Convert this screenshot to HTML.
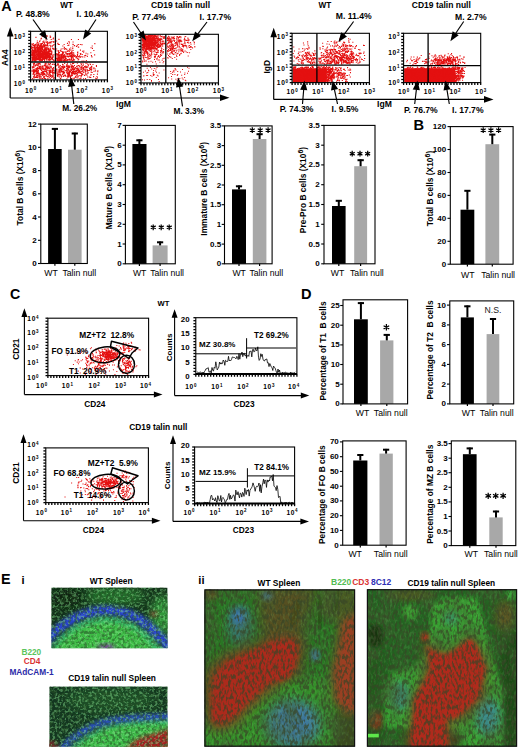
<!DOCTYPE html>
<html><head><meta charset="utf-8"><style>
html,body{margin:0;padding:0;background:#fff;}
svg{display:block;}
text{font-family:"Liberation Sans",sans-serif;}
</style></head><body>
<svg width="520" height="750" viewBox="0 0 520 750">
<defs><filter id="bl2" x="-20%" y="-20%" width="140%" height="140%"><feGaussianBlur stdDeviation="2"/></filter>
<filter id="bl4" x="-30%" y="-30%" width="160%" height="160%"><feGaussianBlur stdDeviation="4"/></filter>
<filter id="bl6" x="-30%" y="-30%" width="160%" height="160%"><feGaussianBlur stdDeviation="6"/></filter>
<filter id="nz1" x="0" y="0" width="100%" height="100%"><feTurbulence type="fractalNoise" baseFrequency="0.32" numOctaves="2" seed="4"/><feColorMatrix type="matrix" values="0 0 0 0 0.02  0 0 0 0 0.08  0 0 0 0 0.02  5.0 0 0 0 -2.3"/></filter>
<filter id="nz2" x="0" y="0" width="100%" height="100%"><feTurbulence type="fractalNoise" baseFrequency="0.35" numOctaves="2" seed="9"/><feColorMatrix type="matrix" values="0 0 0 0 0.6  0 0 0 0 1  0 0 0 0 0.6  0 2.6 0 0 -1.3"/></filter>
<filter id="nz3" x="0" y="0" width="100%" height="100%"><feTurbulence type="fractalNoise" baseFrequency="0.12" numOctaves="3" seed="21"/><feColorMatrix type="matrix" values="0 0 0 0 0.62  0 0 0 0 0.2  0 0 0 0 0.1  3.0 0 0 0 -1.25"/></filter>
<filter id="nz1v" x="0" y="0" width="100%" height="100%"><feTurbulence type="fractalNoise" baseFrequency="0.42 0.2" numOctaves="2" seed="5"/><feColorMatrix type="matrix" values="0 0 0 0 0.04  0 0 0 0 0.06  0 0 0 0 0.02  4.5 0 0 0 -2.0"/></filter>
<filter id="nz2v" x="0" y="0" width="100%" height="100%"><feTurbulence type="fractalNoise" baseFrequency="0.42 0.22" numOctaves="2" seed="12"/><feColorMatrix type="matrix" values="0 0 0 0 0.25  0 0 0 0 0.72  0 0 0 0 0.2  0 4.5 0 0 -2.2"/></filter>
<filter id="nzG" x="0" y="0" width="100%" height="100%"><feTurbulence type="fractalNoise" baseFrequency="0.38" numOctaves="2" seed="17"/><feColorMatrix type="matrix" values="0 0 0 0 0.25  0 0 0 0 0.78  0 0 0 0 0.28  0 6.0 0 0 -2.85"/></filter>
<filter id="nzC" x="0" y="0" width="100%" height="100%"><feTurbulence type="fractalNoise" baseFrequency="0.38" numOctaves="2" seed="23"/><feColorMatrix type="matrix" values="0 0 0 0 0.2  0 0 0 0 0.7  0 0 0 0 0.75  0 3.0 0 0 -1.5"/></filter>
<filter id="nzL" x="0" y="0" width="100%" height="100%"><feTurbulence type="fractalNoise" baseFrequency="0.05 0.035" numOctaves="3" seed="31"/><feColorMatrix type="matrix" values="0 0 0 0 0.05  0 0 0 0 0.12  0 0 0 0 0.03  3.2 0 0 0 -1.35"/></filter>
<clipPath id="clp1"><rect x="51.3" y="587.6" width="116.3" height="60.7"/></clipPath>
<clipPath id="clp2"><rect x="49.3" y="686.4" width="118.3" height="60.4"/></clipPath>
<clipPath id="clp3"><rect x="204.5" y="589.5" width="150.5" height="157.1"/></clipPath>
<clipPath id="clp4"><rect x="367" y="589.3" width="150" height="157.3"/></clipPath></defs>
<rect width="520" height="750" fill="#fff"/>
<path fill="#e41010" d="M36.2 56.6h1.1v1.1h-1.1zM36.4 52.4h1.1v1.1h-1.1zM31.5 52.9h1.1v1.1h-1.1zM45.8 56.1h1.1v1.1h-1.1zM45.3 55.2h1.1v1.1h-1.1zM40.8 54.9h1.1v1.1h-1.1zM41.5 56.5h1.1v1.1h-1.1zM31.8 51.7h1.1v1.1h-1.1zM40.1 53.8h1.1v1.1h-1.1zM41.6 50.8h1.1v1.1h-1.1zM40.2 56h1.1v1.1h-1.1zM41.9 60h1.1v1.1h-1.1zM33.7 50.3h1.1v1.1h-1.1zM35.6 53.5h1.1v1.1h-1.1zM42.4 55.2h1.1v1.1h-1.1zM34.9 49.2h1.1v1.1h-1.1zM34.4 60.1h1.1v1.1h-1.1zM32.3 55.2h1.1v1.1h-1.1zM41 46.6h1.1v1.1h-1.1zM37.3 49.9h1.1v1.1h-1.1zM41.5 53.7h1.1v1.1h-1.1zM42.7 58.7h1.1v1.1h-1.1zM48.1 55.8h1.1v1.1h-1.1zM38.8 47.5h1.1v1.1h-1.1zM42.3 50.9h1.1v1.1h-1.1zM34.8 47.7h1.1v1.1h-1.1zM31.2 51.3h1.1v1.1h-1.1zM47 43.8h1.1v1.1h-1.1zM48.1 56.9h1.1v1.1h-1.1zM40.5 50.3h1.1v1.1h-1.1zM45.7 54.8h1.1v1.1h-1.1zM39.7 56.2h1.1v1.1h-1.1zM49.2 57.1h1.1v1.1h-1.1zM41.6 56.7h1.1v1.1h-1.1zM44.7 56.6h1.1v1.1h-1.1zM43.9 44.9h1.1v1.1h-1.1zM36.7 59.1h1.1v1.1h-1.1zM41.9 53.2h1.1v1.1h-1.1zM40.3 57.2h1.1v1.1h-1.1zM38.8 59.7h1.1v1.1h-1.1zM33.4 51.9h1.1v1.1h-1.1zM45.3 54.1h1.1v1.1h-1.1zM31.8 58.7h1.1v1.1h-1.1zM48.3 51.8h1.1v1.1h-1.1zM37 52.5h1.1v1.1h-1.1zM47.8 48.9h1.1v1.1h-1.1zM46.8 47.7h1.1v1.1h-1.1zM32.5 57.2h1.1v1.1h-1.1zM45.9 58.3h1.1v1.1h-1.1zM40.4 54.7h1.1v1.1h-1.1zM39.1 56.9h1.1v1.1h-1.1zM36.8 55.4h1.1v1.1h-1.1zM42 54h1.1v1.1h-1.1zM43.3 56.8h1.1v1.1h-1.1zM52.1 55.6h1.1v1.1h-1.1zM35 52.1h1.1v1.1h-1.1zM37.9 58.6h1.1v1.1h-1.1zM35.6 55.9h1.1v1.1h-1.1zM50.9 41.2h1.1v1.1h-1.1zM40.8 55.2h1.1v1.1h-1.1zM35 57.3h1.1v1.1h-1.1zM40 51.4h1.1v1.1h-1.1zM34.1 53.5h1.1v1.1h-1.1zM36.4 53.7h1.1v1.1h-1.1zM45.1 48.2h1.1v1.1h-1.1zM37.5 58.8h1.1v1.1h-1.1zM35.6 57.1h1.1v1.1h-1.1zM45.6 40.6h1.1v1.1h-1.1zM45.6 46.8h1.1v1.1h-1.1zM42.8 46.5h1.1v1.1h-1.1zM39.2 60h1.1v1.1h-1.1zM37 55h1.1v1.1h-1.1zM43.6 54.7h1.1v1.1h-1.1zM45.3 52.5h1.1v1.1h-1.1zM44.4 52.7h1.1v1.1h-1.1zM38.9 57.5h1.1v1.1h-1.1zM39.6 57.2h1.1v1.1h-1.1zM42.3 49.2h1.1v1.1h-1.1zM46.9 57.7h1.1v1.1h-1.1zM48.3 49.3h1.1v1.1h-1.1zM38 48.3h1.1v1.1h-1.1zM44.9 53.1h1.1v1.1h-1.1zM37.3 51h1.1v1.1h-1.1zM40.8 56h1.1v1.1h-1.1zM48.5 48.9h1.1v1.1h-1.1zM48.2 53.1h1.1v1.1h-1.1zM32.8 59.1h1.1v1.1h-1.1zM38.8 54.6h1.1v1.1h-1.1zM48 52.7h1.1v1.1h-1.1zM40.2 50.9h1.1v1.1h-1.1zM37.9 58.2h1.1v1.1h-1.1zM37.6 59.2h1.1v1.1h-1.1zM33.3 58.4h1.1v1.1h-1.1zM36.7 53.9h1.1v1.1h-1.1zM33.9 55.2h1.1v1.1h-1.1zM50.5 54.2h1.1v1.1h-1.1zM41.7 59h1.1v1.1h-1.1zM36.6 47.7h1.1v1.1h-1.1zM34.1 59.4h1.1v1.1h-1.1zM45.1 58h1.1v1.1h-1.1zM38.1 58h1.1v1.1h-1.1zM39.2 48.1h1.1v1.1h-1.1zM44.5 51.2h1.1v1.1h-1.1zM31.7 50.1h1.1v1.1h-1.1zM33.5 44.3h1.1v1.1h-1.1zM43.1 52.6h1.1v1.1h-1.1zM40 51.7h1.1v1.1h-1.1zM43.5 57.7h1.1v1.1h-1.1zM42.7 55.6h1.1v1.1h-1.1zM47.3 57.3h1.1v1.1h-1.1zM41.2 43.6h1.1v1.1h-1.1zM35.9 51.7h1.1v1.1h-1.1zM51.6 45.2h1.1v1.1h-1.1zM31.5 57.4h1.1v1.1h-1.1zM51.2 53.4h1.1v1.1h-1.1zM41.9 58.5h1.1v1.1h-1.1zM31.7 53.6h1.1v1.1h-1.1zM40 58.1h1.1v1.1h-1.1zM37.8 53h1.1v1.1h-1.1zM44.2 54.5h1.1v1.1h-1.1zM32 49.8h1.1v1.1h-1.1zM42.5 41h1.1v1.1h-1.1zM42.4 56.4h1.1v1.1h-1.1zM49.8 56.1h1.1v1.1h-1.1zM37.5 56.6h1.1v1.1h-1.1zM40.3 50.5h1.1v1.1h-1.1zM40 54.9h1.1v1.1h-1.1zM35.2 49.1h1.1v1.1h-1.1zM52.8 59.2h1.1v1.1h-1.1zM49.9 58.9h1.1v1.1h-1.1zM50.7 58.1h1.1v1.1h-1.1zM31.9 55.3h1.1v1.1h-1.1zM37.6 56.6h1.1v1.1h-1.1zM32.9 53.4h1.1v1.1h-1.1zM41.2 55.9h1.1v1.1h-1.1zM42.5 55h1.1v1.1h-1.1zM35.7 57.9h1.1v1.1h-1.1zM38.3 49.9h1.1v1.1h-1.1zM33.6 54h1.1v1.1h-1.1zM37.2 54.8h1.1v1.1h-1.1zM38 54.9h1.1v1.1h-1.1zM37.1 47.7h1.1v1.1h-1.1zM40.9 59.3h1.1v1.1h-1.1zM41 53.1h1.1v1.1h-1.1zM41.1 49.2h1.1v1.1h-1.1zM31.5 57.7h1.1v1.1h-1.1zM35.3 47.2h1.1v1.1h-1.1zM32.7 56.6h1.1v1.1h-1.1zM41.5 54.9h1.1v1.1h-1.1zM48.4 57.5h1.1v1.1h-1.1zM37.9 57h1.1v1.1h-1.1zM49.6 58.9h1.1v1.1h-1.1zM45.2 48.6h1.1v1.1h-1.1zM37 57.6h1.1v1.1h-1.1zM35.9 59.3h1.1v1.1h-1.1zM42.2 58.5h1.1v1.1h-1.1zM46.7 52.9h1.1v1.1h-1.1zM35.6 58.4h1.1v1.1h-1.1zM44.9 54h1.1v1.1h-1.1zM40.5 59.6h1.1v1.1h-1.1zM43.5 54.1h1.1v1.1h-1.1zM44 56.7h1.1v1.1h-1.1zM39.4 54.3h1.1v1.1h-1.1zM36.3 57.4h1.1v1.1h-1.1zM38 46.7h1.1v1.1h-1.1zM34.9 44h1.1v1.1h-1.1zM33.2 56.8h1.1v1.1h-1.1zM42 53.7h1.1v1.1h-1.1zM36.4 46.9h1.1v1.1h-1.1zM50.8 56.6h1.1v1.1h-1.1zM45.7 49.6h1.1v1.1h-1.1zM36.7 44.9h1.1v1.1h-1.1zM43.5 58.7h1.1v1.1h-1.1zM42.4 45.2h1.1v1.1h-1.1zM33.6 47h1.1v1.1h-1.1zM38.2 55.2h1.1v1.1h-1.1zM42.4 57.5h1.1v1.1h-1.1zM48.5 59.8h1.1v1.1h-1.1zM37.4 54h1.1v1.1h-1.1zM41.4 46.1h1.1v1.1h-1.1zM36.6 52.4h1.1v1.1h-1.1zM37.6 50.2h1.1v1.1h-1.1zM42.9 55.8h1.1v1.1h-1.1zM37.4 50.6h1.1v1.1h-1.1zM36.8 40.4h1.1v1.1h-1.1zM31.1 54.2h1.1v1.1h-1.1zM39 47.1h1.1v1.1h-1.1zM36.2 52.4h1.1v1.1h-1.1zM41.2 57.1h1.1v1.1h-1.1zM37.7 49.7h1.1v1.1h-1.1zM37 53.7h1.1v1.1h-1.1zM43.1 55.5h1.1v1.1h-1.1zM32.9 47.2h1.1v1.1h-1.1zM35.4 50.3h1.1v1.1h-1.1zM34.6 54.5h1.1v1.1h-1.1zM41.7 51.9h1.1v1.1h-1.1zM45.7 54.6h1.1v1.1h-1.1zM45.8 42.1h1.1v1.1h-1.1zM32.7 55.2h1.1v1.1h-1.1zM40.3 60.4h1.1v1.1h-1.1zM43.4 58.7h1.1v1.1h-1.1zM41.6 53.2h1.1v1.1h-1.1zM41.6 48.6h1.1v1.1h-1.1zM46.3 48.9h1.1v1.1h-1.1zM36.4 54.1h1.1v1.1h-1.1zM46.1 54.1h1.1v1.1h-1.1zM32.3 55.3h1.1v1.1h-1.1zM42.1 57.6h1.1v1.1h-1.1zM49.7 54.1h1.1v1.1h-1.1zM39.9 51.9h1.1v1.1h-1.1zM47.9 50.5h1.1v1.1h-1.1zM42.7 51.6h1.1v1.1h-1.1zM33.1 57.6h1.1v1.1h-1.1zM47.3 53.9h1.1v1.1h-1.1zM33.3 58.1h1.1v1.1h-1.1zM37.7 55.6h1.1v1.1h-1.1zM48.7 59.7h1.1v1.1h-1.1zM38 57.9h1.1v1.1h-1.1zM33.5 53.8h1.1v1.1h-1.1zM47.6 47.9h1.1v1.1h-1.1zM46.2 51.7h1.1v1.1h-1.1zM37.6 52.4h1.1v1.1h-1.1zM37.2 48.6h1.1v1.1h-1.1zM38.2 46.8h1.1v1.1h-1.1zM37.5 55.5h1.1v1.1h-1.1zM41.3 52.8h1.1v1.1h-1.1zM31.7 54.8h1.1v1.1h-1.1zM43.4 53.4h1.1v1.1h-1.1zM34.7 50.5h1.1v1.1h-1.1zM31.4 52.2h1.1v1.1h-1.1zM40.1 56.6h1.1v1.1h-1.1zM33.1 54.1h1.1v1.1h-1.1zM34.3 54.8h1.1v1.1h-1.1zM39.1 56h1.1v1.1h-1.1zM36.3 55.8h1.1v1.1h-1.1zM38.4 57.9h1.1v1.1h-1.1zM38 48.8h1.1v1.1h-1.1zM33.5 57.2h1.1v1.1h-1.1zM43.2 55.5h1.1v1.1h-1.1zM41.6 53.5h1.1v1.1h-1.1zM41.2 51.4h1.1v1.1h-1.1zM37.3 57.7h1.1v1.1h-1.1zM31.9 57.2h1.1v1.1h-1.1zM51 51.2h1.1v1.1h-1.1zM39 53.2h1.1v1.1h-1.1zM48.8 55.6h1.1v1.1h-1.1zM44.3 50.5h1.1v1.1h-1.1zM37.9 54h1.1v1.1h-1.1zM44.3 45.3h1.1v1.1h-1.1zM43.2 53.3h1.1v1.1h-1.1zM41.1 55.8h1.1v1.1h-1.1zM48.4 51.1h1.1v1.1h-1.1zM49.8 56.1h1.1v1.1h-1.1zM34.4 50.6h1.1v1.1h-1.1zM41.7 56.7h1.1v1.1h-1.1zM40 55.2h1.1v1.1h-1.1zM34.2 56.3h1.1v1.1h-1.1zM37.2 53.6h1.1v1.1h-1.1zM35.5 59.3h1.1v1.1h-1.1zM47.7 52.2h1.1v1.1h-1.1zM43.9 50.2h1.1v1.1h-1.1zM38.5 57.7h1.1v1.1h-1.1zM48.6 52.1h1.1v1.1h-1.1zM37.5 55h1.1v1.1h-1.1zM33.3 55.9h1.1v1.1h-1.1zM38.3 55.3h1.1v1.1h-1.1zM34.2 58.4h1.1v1.1h-1.1zM36.1 51h1.1v1.1h-1.1zM41.3 46.2h1.1v1.1h-1.1zM33.3 53.9h1.1v1.1h-1.1zM43.9 53.2h1.1v1.1h-1.1zM40.2 50.7h1.1v1.1h-1.1zM33.5 54.1h1.1v1.1h-1.1zM39.2 59.1h1.1v1.1h-1.1zM42.2 58h1.1v1.1h-1.1zM39.4 55.3h1.1v1.1h-1.1zM44.5 55.8h1.1v1.1h-1.1zM49.6 47.8h1.1v1.1h-1.1zM35.4 36.8h1.1v1.1h-1.1zM43.7 52.1h1.1v1.1h-1.1zM38 52.7h1.1v1.1h-1.1zM34.5 49.8h1.1v1.1h-1.1zM33.6 57.2h1.1v1.1h-1.1zM38.3 54.3h1.1v1.1h-1.1zM36.8 58.6h1.1v1.1h-1.1zM41.5 53.3h1.1v1.1h-1.1zM42.7 53.2h1.1v1.1h-1.1zM41.3 49.2h1.1v1.1h-1.1zM45.6 55.7h1.1v1.1h-1.1zM40.3 58.5h1.1v1.1h-1.1zM39.4 53.3h1.1v1.1h-1.1zM38.2 52.6h1.1v1.1h-1.1zM40.5 54.4h1.1v1.1h-1.1zM42.7 52.1h1.1v1.1h-1.1zM37.7 43.3h1.1v1.1h-1.1zM35 57.4h1.1v1.1h-1.1zM47.4 52.2h1.1v1.1h-1.1zM35.7 57.7h1.1v1.1h-1.1zM49.7 54.2h1.1v1.1h-1.1zM46.6 50.4h1.1v1.1h-1.1zM39.5 53.6h1.1v1.1h-1.1zM38.8 59.6h1.1v1.1h-1.1zM34 56.5h1.1v1.1h-1.1zM42 52.6h1.1v1.1h-1.1zM41.7 46.3h1.1v1.1h-1.1zM43.3 46.3h1.1v1.1h-1.1zM33.1 51.2h1.1v1.1h-1.1zM35.2 58.3h1.1v1.1h-1.1zM38.6 52h1.1v1.1h-1.1zM38 55.8h1.1v1.1h-1.1zM46.7 55.3h1.1v1.1h-1.1zM53.5 44.1h1.1v1.1h-1.1zM37.7 56.1h1.1v1.1h-1.1zM44.8 57.3h1.1v1.1h-1.1zM36.1 48.7h1.1v1.1h-1.1zM38.7 59.2h1.1v1.1h-1.1zM37.8 44.3h1.1v1.1h-1.1zM36.2 51.8h1.1v1.1h-1.1zM41.2 50.5h1.1v1.1h-1.1zM31.8 52h1.1v1.1h-1.1zM37.7 50.7h1.1v1.1h-1.1zM38.1 57.8h1.1v1.1h-1.1zM32.5 51.9h1.1v1.1h-1.1zM32.9 53.8h1.1v1.1h-1.1zM41.7 47.2h1.1v1.1h-1.1zM41.2 53.9h1.1v1.1h-1.1zM46.4 44.7h1.1v1.1h-1.1zM43.7 55h1.1v1.1h-1.1zM41.3 56.2h1.1v1.1h-1.1zM47.1 52.9h1.1v1.1h-1.1zM44.1 52h1.1v1.1h-1.1zM43.1 49.9h1.1v1.1h-1.1zM41.1 53.2h1.1v1.1h-1.1zM39.4 58.7h1.1v1.1h-1.1zM41 56.6h1.1v1.1h-1.1zM35.3 51.3h1.1v1.1h-1.1zM44.2 54.3h1.1v1.1h-1.1zM36.1 51.1h1.1v1.1h-1.1zM36.2 57.1h1.1v1.1h-1.1zM40.5 48h1.1v1.1h-1.1zM41 54.9h1.1v1.1h-1.1zM36 52.3h1.1v1.1h-1.1zM33.2 56.2h1.1v1.1h-1.1zM34.5 60h1.1v1.1h-1.1zM33.5 58.1h1.1v1.1h-1.1zM53.5 41.3h1.1v1.1h-1.1zM35 56.5h1.1v1.1h-1.1zM37.3 50.7h1.1v1.1h-1.1zM53.1 54.4h1.1v1.1h-1.1zM34 54.7h1.1v1.1h-1.1zM46.8 54.6h1.1v1.1h-1.1zM46.3 57.7h1.1v1.1h-1.1zM32.3 58.3h1.1v1.1h-1.1zM41.5 57.2h1.1v1.1h-1.1zM44.3 57.7h1.1v1.1h-1.1zM44.2 41.7h1.1v1.1h-1.1zM39.2 56.5h1.1v1.1h-1.1zM35.7 54.2h1.1v1.1h-1.1zM44.2 51.8h1.1v1.1h-1.1zM46 50.1h1.1v1.1h-1.1zM39.9 51.4h1.1v1.1h-1.1zM39.1 50.5h1.1v1.1h-1.1zM40.1 51.2h1.1v1.1h-1.1zM39.4 59h1.1v1.1h-1.1zM31.2 53.4h1.1v1.1h-1.1zM41.8 56.6h1.1v1.1h-1.1zM35.7 43.5h1.1v1.1h-1.1zM46.7 55.6h1.1v1.1h-1.1zM38.1 52.6h1.1v1.1h-1.1zM39.8 51.9h1.1v1.1h-1.1zM33.8 50.9h1.1v1.1h-1.1zM47.6 55h1.1v1.1h-1.1zM32.9 54.2h1.1v1.1h-1.1zM39 45.3h1.1v1.1h-1.1zM33.7 54.8h1.1v1.1h-1.1zM34.7 54.4h1.1v1.1h-1.1zM43.1 57.8h1.1v1.1h-1.1zM44.3 56.9h1.1v1.1h-1.1zM36 53.9h1.1v1.1h-1.1zM36.1 52.4h1.1v1.1h-1.1zM36.7 45.4h1.1v1.1h-1.1zM35.7 53.9h1.1v1.1h-1.1zM31.2 53.9h1.1v1.1h-1.1zM41.6 53.2h1.1v1.1h-1.1zM52.5 41h1.1v1.1h-1.1zM36.6 44.9h1.1v1.1h-1.1zM41.6 52.5h1.1v1.1h-1.1zM41.9 42.8h1.1v1.1h-1.1zM44 55.9h1.1v1.1h-1.1zM38.2 51.1h1.1v1.1h-1.1zM42.5 51.6h1.1v1.1h-1.1zM39.6 51.4h1.1v1.1h-1.1zM39.4 57.8h1.1v1.1h-1.1zM31.9 53.8h1.1v1.1h-1.1zM42.3 54.7h1.1v1.1h-1.1zM31.6 44.4h1.1v1.1h-1.1zM44.5 58.1h1.1v1.1h-1.1zM33.7 50.4h1.1v1.1h-1.1zM44.2 49.4h1.1v1.1h-1.1zM33.2 50.4h1.1v1.1h-1.1zM39.6 50.3h1.1v1.1h-1.1zM47.2 53.6h1.1v1.1h-1.1zM33.9 55.1h1.1v1.1h-1.1zM37.9 52.4h1.1v1.1h-1.1zM40.3 50.5h1.1v1.1h-1.1zM37.8 54.3h1.1v1.1h-1.1zM41.9 54.6h1.1v1.1h-1.1zM32.4 50.5h1.1v1.1h-1.1zM41.4 56.6h1.1v1.1h-1.1zM37.2 53.1h1.1v1.1h-1.1zM44.6 54.1h1.1v1.1h-1.1zM43.2 56.9h1.1v1.1h-1.1zM34 52.2h1.1v1.1h-1.1zM32.3 50h1.1v1.1h-1.1zM38.2 56.8h1.1v1.1h-1.1zM46.2 58h1.1v1.1h-1.1zM46.4 47.7h1.1v1.1h-1.1zM33.5 56.3h1.1v1.1h-1.1zM48 54.5h1.1v1.1h-1.1zM32 52.2h1.1v1.1h-1.1zM33.4 49.7h1.1v1.1h-1.1zM48.5 50.9h1.1v1.1h-1.1zM46.3 55.7h1.1v1.1h-1.1zM33.7 56.1h1.1v1.1h-1.1zM49.4 57.1h1.1v1.1h-1.1zM46.8 54.5h1.1v1.1h-1.1zM41.6 53h1.1v1.1h-1.1zM39.7 51.1h1.1v1.1h-1.1zM35.8 57.9h1.1v1.1h-1.1zM52 57.1h1.1v1.1h-1.1zM40.3 46.2h1.1v1.1h-1.1zM51.5 54.4h1.1v1.1h-1.1zM37.8 48.4h1.1v1.1h-1.1zM37.6 48.5h1.1v1.1h-1.1zM38.5 56.3h1.1v1.1h-1.1zM38.2 55.4h1.1v1.1h-1.1zM33.4 44.9h1.1v1.1h-1.1zM36.7 50.2h1.1v1.1h-1.1zM40 48.1h1.1v1.1h-1.1zM42.8 53.2h1.1v1.1h-1.1zM38.9 53.4h1.1v1.1h-1.1zM37.7 57.7h1.1v1.1h-1.1zM37.4 42h1.1v1.1h-1.1zM37.8 49.6h1.1v1.1h-1.1zM42.6 50.9h1.1v1.1h-1.1zM33.5 44.7h1.1v1.1h-1.1zM32.6 52.2h1.1v1.1h-1.1zM51.6 59.2h1.1v1.1h-1.1zM39 54.9h1.1v1.1h-1.1zM35.8 56.3h1.1v1.1h-1.1zM40 54.3h1.1v1.1h-1.1zM34.5 47.4h1.1v1.1h-1.1zM34.3 46.3h1.1v1.1h-1.1zM46.6 56.7h1.1v1.1h-1.1zM44.2 44.5h1.1v1.1h-1.1zM50.9 58h1.1v1.1h-1.1zM52.4 47.8h1.1v1.1h-1.1zM41.7 56.1h1.1v1.1h-1.1zM39.4 54.9h1.1v1.1h-1.1zM45.4 46.5h1.1v1.1h-1.1zM34.1 51h1.1v1.1h-1.1zM40.6 55.3h1.1v1.1h-1.1zM38.2 50.6h1.1v1.1h-1.1zM34.9 58.8h1.1v1.1h-1.1zM43.3 54.5h1.1v1.1h-1.1zM33.8 57.2h1.1v1.1h-1.1zM46.1 52.7h1.1v1.1h-1.1zM43.8 48.4h1.1v1.1h-1.1zM45.1 55h1.1v1.1h-1.1zM31.8 60.4h1.1v1.1h-1.1zM33.2 53.2h1.1v1.1h-1.1zM40 52.3h1.1v1.1h-1.1zM39.8 51.2h1.1v1.1h-1.1zM42.7 54h1.1v1.1h-1.1zM39.5 40.2h1.1v1.1h-1.1zM46.1 54.2h1.1v1.1h-1.1zM41.3 59.4h1.1v1.1h-1.1zM37 57.4h1.1v1.1h-1.1zM35.4 48.4h1.1v1.1h-1.1zM45.7 58.5h1.1v1.1h-1.1zM48.8 58.3h1.1v1.1h-1.1zM34 45.7h1.1v1.1h-1.1zM33.4 50.6h1.1v1.1h-1.1zM32.3 56.9h1.1v1.1h-1.1zM40.3 52.7h1.1v1.1h-1.1zM39.2 53.3h1.1v1.1h-1.1zM39.5 57.8h1.1v1.1h-1.1zM44.7 50.6h1.1v1.1h-1.1zM38.8 59.5h1.1v1.1h-1.1zM38.2 46.8h1.1v1.1h-1.1zM34.4 57.6h1.1v1.1h-1.1zM32 47h1.1v1.1h-1.1zM41.6 58.7h1.1v1.1h-1.1zM39.4 47.5h1.1v1.1h-1.1zM43.5 58h1.1v1.1h-1.1zM41.9 51.6h1.1v1.1h-1.1zM40.1 58h1.1v1.1h-1.1zM34.1 44.8h1.1v1.1h-1.1zM40.3 56.4h1.1v1.1h-1.1zM38.1 58.4h1.1v1.1h-1.1zM33.9 53.6h1.1v1.1h-1.1zM35.9 56.9h1.1v1.1h-1.1zM49.2 52.7h1.1v1.1h-1.1zM43.5 56.9h1.1v1.1h-1.1zM50.4 53.1h1.1v1.1h-1.1zM37.2 48.7h1.1v1.1h-1.1zM41.7 56.1h1.1v1.1h-1.1zM36.6 54.8h1.1v1.1h-1.1zM35.1 48.5h1.1v1.1h-1.1zM32.7 49.9h1.1v1.1h-1.1zM44 59.3h1.1v1.1h-1.1zM44.2 51.1h1.1v1.1h-1.1zM33.6 55.7h1.1v1.1h-1.1zM35.5 43.9h1.1v1.1h-1.1zM39.6 46.3h1.1v1.1h-1.1zM44.3 48h1.1v1.1h-1.1zM33.1 49.7h1.1v1.1h-1.1zM34.2 60.5h1.1v1.1h-1.1zM44 57h1.1v1.1h-1.1zM40.2 46.3h1.1v1.1h-1.1zM34.4 51.2h1.1v1.1h-1.1zM31.2 56.5h1.1v1.1h-1.1zM32.8 50.5h1.1v1.1h-1.1zM39.2 49.1h1.1v1.1h-1.1zM46.5 55.5h1.1v1.1h-1.1zM45.9 51.8h1.1v1.1h-1.1zM45.4 57.9h1.1v1.1h-1.1zM42 48.7h1.1v1.1h-1.1zM36.5 55.3h1.1v1.1h-1.1zM36.9 59h1.1v1.1h-1.1zM45.3 54.4h1.1v1.1h-1.1zM34.7 57.1h1.1v1.1h-1.1zM46 51.7h1.1v1.1h-1.1zM34.2 56.2h1.1v1.1h-1.1zM46.3 60.3h1.1v1.1h-1.1zM41.6 47.4h1.1v1.1h-1.1zM32 59.7h1.1v1.1h-1.1zM43.4 45.6h1.1v1.1h-1.1zM32.3 54.8h1.1v1.1h-1.1zM34.5 53.2h1.1v1.1h-1.1zM41.3 50h1.1v1.1h-1.1zM41.3 50.8h1.1v1.1h-1.1zM34.2 56.7h1.1v1.1h-1.1zM34 55.4h1.1v1.1h-1.1zM49.2 54.1h1.1v1.1h-1.1zM37 57.7h1.1v1.1h-1.1zM35.4 59.4h1.1v1.1h-1.1zM34.4 50h1.1v1.1h-1.1zM50.4 49.7h1.1v1.1h-1.1zM50.3 57.3h1.1v1.1h-1.1zM48.2 49.1h1.1v1.1h-1.1zM37.2 53.4h1.1v1.1h-1.1zM35 50.9h1.1v1.1h-1.1zM41.1 55.7h1.1v1.1h-1.1zM35.7 56.4h1.1v1.1h-1.1zM48.2 49h1.1v1.1h-1.1zM41.2 44.7h1.1v1.1h-1.1zM32.8 52.7h1.1v1.1h-1.1zM38.4 56.7h1.1v1.1h-1.1zM35.6 54.1h1.1v1.1h-1.1zM34.2 54.6h1.1v1.1h-1.1zM51.4 54.4h1.1v1.1h-1.1zM31.2 45.7h1.1v1.1h-1.1zM32.8 57.7h1.1v1.1h-1.1zM40.7 53.5h1.1v1.1h-1.1zM31.5 48.6h1.1v1.1h-1.1zM47.4 55.2h1.1v1.1h-1.1zM31.3 43.4h1.1v1.1h-1.1zM39.5 53.2h1.1v1.1h-1.1zM36.1 47.1h1.1v1.1h-1.1zM32.7 58.2h1.1v1.1h-1.1zM39.8 59.2h1.1v1.1h-1.1zM40.7 50.3h1.1v1.1h-1.1zM41.3 49.5h1.1v1.1h-1.1zM32.4 53.9h1.1v1.1h-1.1zM35 57.8h1.1v1.1h-1.1zM35.2 60.3h1.1v1.1h-1.1zM48.9 56h1.1v1.1h-1.1zM44.6 49.9h1.1v1.1h-1.1zM43.6 55.3h1.1v1.1h-1.1zM42.5 54.1h1.1v1.1h-1.1zM46.4 50.8h1.1v1.1h-1.1zM31.3 46.6h1.1v1.1h-1.1zM46.1 50.3h1.1v1.1h-1.1zM34.9 47.6h1.1v1.1h-1.1zM36 50.9h1.1v1.1h-1.1zM34.1 49.2h1.1v1.1h-1.1zM38.3 51.7h1.1v1.1h-1.1zM38.8 55.2h1.1v1.1h-1.1zM40.4 43.1h1.1v1.1h-1.1zM34.3 50h1.1v1.1h-1.1zM43.4 46.1h1.1v1.1h-1.1zM33 52.5h1.1v1.1h-1.1zM35.6 59h1.1v1.1h-1.1zM34.9 58.8h1.1v1.1h-1.1zM46.5 56.2h1.1v1.1h-1.1zM41.4 54.6h1.1v1.1h-1.1zM41.4 47.9h1.1v1.1h-1.1zM44.6 51.3h1.1v1.1h-1.1zM44.9 54.4h1.1v1.1h-1.1zM45.9 53.3h1.1v1.1h-1.1zM35.2 55.2h1.1v1.1h-1.1zM35 51.3h1.1v1.1h-1.1zM38.7 54.7h1.1v1.1h-1.1zM48.6 54.2h1.1v1.1h-1.1zM50 59.3h1.1v1.1h-1.1zM38.9 54.7h1.1v1.1h-1.1zM37 50.3h1.1v1.1h-1.1zM37.5 50.8h1.1v1.1h-1.1zM49.5 56.7h1.1v1.1h-1.1zM34.9 44.4h1.1v1.1h-1.1zM37.6 51.9h1.1v1.1h-1.1zM37.8 53.3h1.1v1.1h-1.1zM48.1 54.7h1.1v1.1h-1.1zM39.2 52.1h1.1v1.1h-1.1zM35.6 54.2h1.1v1.1h-1.1zM31.8 58.8h1.1v1.1h-1.1zM31.4 59.4h1.1v1.1h-1.1zM33 50.2h1.1v1.1h-1.1zM49.5 51h1.1v1.1h-1.1zM32.7 52.3h1.1v1.1h-1.1zM34.2 45h1.1v1.1h-1.1zM33.3 59.9h1.1v1.1h-1.1zM51.1 52.7h1.1v1.1h-1.1zM33.2 51.5h1.1v1.1h-1.1zM40 50.2h1.1v1.1h-1.1zM43.5 54h1.1v1.1h-1.1zM43.9 44.4h1.1v1.1h-1.1zM50.8 56.5h1.1v1.1h-1.1zM43.3 44.7h1.1v1.1h-1.1zM33 52.3h1.1v1.1h-1.1zM45.5 46.7h1.1v1.1h-1.1zM31.8 43.9h1.1v1.1h-1.1zM36.3 55.7h1.1v1.1h-1.1zM42.6 52.5h1.1v1.1h-1.1zM33.4 54.7h1.1v1.1h-1.1zM40 48.6h1.1v1.1h-1.1zM48.8 58.7h1.1v1.1h-1.1zM38.7 50.4h1.1v1.1h-1.1zM44.4 50h1.1v1.1h-1.1zM39.7 57h1.1v1.1h-1.1zM32.1 58.9h1.1v1.1h-1.1zM39.3 55.2h1.1v1.1h-1.1zM44.8 53.9h1.1v1.1h-1.1zM45.8 58.4h1.1v1.1h-1.1zM38.9 51.2h1.1v1.1h-1.1zM32.7 51.4h1.1v1.1h-1.1zM36.6 53.9h1.1v1.1h-1.1zM43.4 49.7h1.1v1.1h-1.1zM33 52.4h1.1v1.1h-1.1zM43.9 42.7h1.1v1.1h-1.1zM41.9 53.2h1.1v1.1h-1.1zM43.9 55.8h1.1v1.1h-1.1zM44.8 52.3h1.1v1.1h-1.1zM45.1 49.4h1.1v1.1h-1.1zM33.8 46.3h1.1v1.1h-1.1zM37.2 44h1.1v1.1h-1.1zM36.4 52.5h1.1v1.1h-1.1zM42.5 53.2h1.1v1.1h-1.1zM41.7 58.4h1.1v1.1h-1.1zM43.6 48.9h1.1v1.1h-1.1zM45.6 38.7h1.1v1.1h-1.1zM47.3 52.5h1.1v1.1h-1.1zM38.3 45h1.1v1.1h-1.1zM49 55.4h1.1v1.1h-1.1zM41.8 55.1h1.1v1.1h-1.1zM36 51.6h1.1v1.1h-1.1zM42.4 55.4h1.1v1.1h-1.1zM41.3 49.9h1.1v1.1h-1.1zM40.7 45.8h1.1v1.1h-1.1zM49 57.7h1.1v1.1h-1.1zM49.7 41.6h1.1v1.1h-1.1zM33.3 53.2h1.1v1.1h-1.1zM47 42.8h1.1v1.1h-1.1zM38.2 47.8h1.1v1.1h-1.1zM42.6 53.7h1.1v1.1h-1.1zM39.1 41.1h1.1v1.1h-1.1zM40.9 59.2h1.1v1.1h-1.1zM46.4 56.3h1.1v1.1h-1.1zM46.8 44.9h1.1v1.1h-1.1zM47.7 59.1h1.1v1.1h-1.1zM38.6 46.2h1.1v1.1h-1.1zM33.9 51.9h1.1v1.1h-1.1zM41.7 56.4h1.1v1.1h-1.1zM48.8 54.8h1.1v1.1h-1.1zM44.7 49.3h1.1v1.1h-1.1zM40.8 44.4h1.1v1.1h-1.1zM43.8 50.8h1.1v1.1h-1.1zM45.2 44.2h1.1v1.1h-1.1zM42.4 51.4h1.1v1.1h-1.1zM48 42.5h1.1v1.1h-1.1zM46.2 58.9h1.1v1.1h-1.1zM48 48.1h1.1v1.1h-1.1zM37.1 49.1h1.1v1.1h-1.1zM40.4 45.9h1.1v1.1h-1.1zM45.8 52.6h1.1v1.1h-1.1zM32.9 45.1h1.1v1.1h-1.1zM41 56.4h1.1v1.1h-1.1zM47 41.2h1.1v1.1h-1.1zM43.1 53.8h1.1v1.1h-1.1zM40.9 42.9h1.1v1.1h-1.1zM41.4 48.3h1.1v1.1h-1.1zM45.4 44.3h1.1v1.1h-1.1zM52.9 37.6h1.1v1.1h-1.1zM40.2 51.1h1.1v1.1h-1.1zM51.6 46.1h1.1v1.1h-1.1zM47.5 46.5h1.1v1.1h-1.1zM38 54.5h1.1v1.1h-1.1zM32.7 58.8h1.1v1.1h-1.1zM53.5 59.7h1.1v1.1h-1.1zM50.1 36.4h1.1v1.1h-1.1zM53.2 48.3h1.1v1.1h-1.1zM40 50.6h1.1v1.1h-1.1zM49 49.8h1.1v1.1h-1.1zM43.9 54.4h1.1v1.1h-1.1zM46.4 51.7h1.1v1.1h-1.1zM39.9 46h1.1v1.1h-1.1zM31.2 46.5h1.1v1.1h-1.1zM40.6 47.4h1.1v1.1h-1.1zM52.8 41.7h1.1v1.1h-1.1zM46.9 52.1h1.1v1.1h-1.1zM41.1 55h1.1v1.1h-1.1zM37.5 53.4h1.1v1.1h-1.1zM49.8 59.3h1.1v1.1h-1.1zM41.9 46.2h1.1v1.1h-1.1zM34 56.4h1.1v1.1h-1.1zM48.5 42.7h1.1v1.1h-1.1zM43.5 43.8h1.1v1.1h-1.1zM42.5 58.2h1.1v1.1h-1.1zM49.7 36.8h1.1v1.1h-1.1zM53.4 54.2h1.1v1.1h-1.1zM42 59.4h1.1v1.1h-1.1zM35.6 45.4h1.1v1.1h-1.1zM38.3 50.4h1.1v1.1h-1.1zM31.2 54.9h1.1v1.1h-1.1zM47.4 51.6h1.1v1.1h-1.1zM49.6 35.5h1.1v1.1h-1.1zM44 49.6h1.1v1.1h-1.1zM37 46.1h1.1v1.1h-1.1zM38.5 45.2h1.1v1.1h-1.1zM36.5 46.8h1.1v1.1h-1.1zM31.4 49.9h1.1v1.1h-1.1zM49.8 49h1.1v1.1h-1.1zM51.8 58.4h1.1v1.1h-1.1zM53.6 48.4h1.1v1.1h-1.1zM40.7 59.9h1.1v1.1h-1.1zM36.5 50h1.1v1.1h-1.1zM45.8 54h1.1v1.1h-1.1zM39.2 58.9h1.1v1.1h-1.1zM40.2 56.8h1.1v1.1h-1.1zM52.7 56.3h1.1v1.1h-1.1zM49.3 41.7h1.1v1.1h-1.1zM33.5 45.1h1.1v1.1h-1.1zM39.2 56.5h1.1v1.1h-1.1zM44.1 60.4h1.1v1.1h-1.1zM32.1 58.1h1.1v1.1h-1.1zM51.3 51.6h1.1v1.1h-1.1zM46.8 46.5h1.1v1.1h-1.1zM31.1 47.8h1.1v1.1h-1.1zM44 53.5h1.1v1.1h-1.1zM49.4 44.8h1.1v1.1h-1.1zM51.2 54h1.1v1.1h-1.1zM47.5 54.6h1.1v1.1h-1.1zM47.1 57h1.1v1.1h-1.1zM47.2 42.3h1.1v1.1h-1.1zM40.8 37.8h1.1v1.1h-1.1zM42.7 41.9h1.1v1.1h-1.1zM45.4 38.7h1.1v1.1h-1.1zM46.5 48.9h1.1v1.1h-1.1zM42.6 50.5h1.1v1.1h-1.1zM43.3 40.4h1.1v1.1h-1.1zM32.6 47.4h1.1v1.1h-1.1zM46.3 35.1h1.1v1.1h-1.1zM34.4 46.1h1.1v1.1h-1.1zM31.4 53.6h1.1v1.1h-1.1zM40.6 44.4h1.1v1.1h-1.1zM32.2 57.5h1.1v1.1h-1.1zM35.4 55.7h1.1v1.1h-1.1zM46.5 35.8h1.1v1.1h-1.1zM31.2 51h1.1v1.1h-1.1zM45.4 57.2h1.1v1.1h-1.1zM50 59.3h1.1v1.1h-1.1zM38.3 49.3h1.1v1.1h-1.1zM49.8 47.6h1.1v1.1h-1.1zM52.6 38.3h1.1v1.1h-1.1zM48.5 49.6h1.1v1.1h-1.1zM45.1 51.2h1.1v1.1h-1.1zM31.2 47.3h1.1v1.1h-1.1zM38.1 43.7h1.1v1.1h-1.1zM33.6 59.4h1.1v1.1h-1.1zM36.6 42.3h1.1v1.1h-1.1zM49.9 55.5h1.1v1.1h-1.1zM31.6 57h1.1v1.1h-1.1zM53.3 49h1.1v1.1h-1.1zM51.2 50.8h1.1v1.1h-1.1zM46.2 57.1h1.1v1.1h-1.1zM37.2 50.7h1.1v1.1h-1.1zM50 45.6h1.1v1.1h-1.1zM46.6 56.5h1.1v1.1h-1.1zM44.4 55.7h1.1v1.1h-1.1zM32.7 43.1h1.1v1.1h-1.1zM40.1 49.2h1.1v1.1h-1.1zM50.5 51.2h1.1v1.1h-1.1zM49.3 42.1h1.1v1.1h-1.1zM38.7 46.4h1.1v1.1h-1.1zM32.8 47.3h1.1v1.1h-1.1zM46.2 54.2h1.1v1.1h-1.1zM42.3 47.2h1.1v1.1h-1.1zM46.9 53.9h1.1v1.1h-1.1zM43.5 51.5h1.1v1.1h-1.1zM43.1 44h1.1v1.1h-1.1zM40 43.7h1.1v1.1h-1.1zM45.8 56.5h1.1v1.1h-1.1zM33.9 47.3h1.1v1.1h-1.1zM32.6 53.4h1.1v1.1h-1.1zM42 53.4h1.1v1.1h-1.1zM45.4 44.8h1.1v1.1h-1.1zM42.4 58.9h1.1v1.1h-1.1zM40.6 45.5h1.1v1.1h-1.1zM42.3 55.9h1.1v1.1h-1.1zM38 55h1.1v1.1h-1.1zM50.2 49.8h1.1v1.1h-1.1zM37.4 49.5h1.1v1.1h-1.1zM32.4 49.3h1.1v1.1h-1.1zM39 52.7h1.1v1.1h-1.1zM37.5 55.8h1.1v1.1h-1.1zM44.9 57.1h1.1v1.1h-1.1zM42.2 53.1h1.1v1.1h-1.1zM37.3 44.7h1.1v1.1h-1.1zM48.6 54.5h1.1v1.1h-1.1zM44.7 47.4h1.1v1.1h-1.1zM44 46.6h1.1v1.1h-1.1zM34.8 50.8h1.1v1.1h-1.1zM36.9 52.2h1.1v1.1h-1.1zM39.9 45h1.1v1.1h-1.1zM52.7 44.7h1.1v1.1h-1.1zM36.9 55.4h1.1v1.1h-1.1zM36.6 47.5h1.1v1.1h-1.1zM45.6 48.1h1.1v1.1h-1.1zM34.1 48.2h1.1v1.1h-1.1zM38.7 53.2h1.1v1.1h-1.1zM52 57.5h1.1v1.1h-1.1zM34.4 58.2h1.1v1.1h-1.1zM40.9 53.8h1.1v1.1h-1.1zM39.3 56.3h1.1v1.1h-1.1zM53.2 60h1.1v1.1h-1.1zM39.9 59h1.1v1.1h-1.1zM47.4 55.8h1.1v1.1h-1.1zM37.2 44.6h1.1v1.1h-1.1zM39.6 45.3h1.1v1.1h-1.1zM47.3 44.9h1.1v1.1h-1.1zM37.6 47.3h1.1v1.1h-1.1zM40.4 38.4h1.1v1.1h-1.1zM44.8 51.6h1.1v1.1h-1.1zM45.5 55.5h1.1v1.1h-1.1zM38.8 58.4h1.1v1.1h-1.1zM50.4 52.7h1.1v1.1h-1.1zM37.9 47.2h1.1v1.1h-1.1zM48.9 42.2h1.1v1.1h-1.1zM40.4 45h1.1v1.1h-1.1zM41.7 51.3h1.1v1.1h-1.1zM50.7 39h1.1v1.1h-1.1zM41.3 53.3h1.1v1.1h-1.1zM50.3 42.3h1.1v1.1h-1.1zM49.2 52.8h1.1v1.1h-1.1zM42 47.6h1.1v1.1h-1.1zM38.6 43.5h1.1v1.1h-1.1zM41.7 36h1.1v1.1h-1.1zM41.2 54.4h1.1v1.1h-1.1zM51.9 48.2h1.1v1.1h-1.1zM73.3 53.8h1.1v1.1h-1.1zM56.5 50.2h1.1v1.1h-1.1zM74 59.3h1.1v1.1h-1.1zM63.2 57.2h1.1v1.1h-1.1zM58.2 57.5h1.1v1.1h-1.1zM73.4 55.6h1.1v1.1h-1.1zM67.6 59.3h1.1v1.1h-1.1zM67.4 56h1.1v1.1h-1.1zM60.1 49.8h1.1v1.1h-1.1zM66.3 59.3h1.1v1.1h-1.1zM59.5 59.1h1.1v1.1h-1.1zM76.3 56.1h1.1v1.1h-1.1zM72.1 56.3h1.1v1.1h-1.1zM56.6 59h1.1v1.1h-1.1zM71.8 53.8h1.1v1.1h-1.1zM76.7 57.9h1.1v1.1h-1.1zM62.9 54.9h1.1v1.1h-1.1zM72.2 48.1h1.1v1.1h-1.1zM66.8 50.9h1.1v1.1h-1.1zM62.4 54.7h1.1v1.1h-1.1zM58.2 60.4h1.1v1.1h-1.1zM65.3 51.3h1.1v1.1h-1.1zM79.9 49.6h1.1v1.1h-1.1zM60.7 59.4h1.1v1.1h-1.1zM57.9 58.7h1.1v1.1h-1.1zM69.7 49.5h1.1v1.1h-1.1zM60.7 53.8h1.1v1.1h-1.1zM63.4 56.6h1.1v1.1h-1.1zM81.7 53.9h1.1v1.1h-1.1zM77.8 46.6h1.1v1.1h-1.1zM72.9 55.4h1.1v1.1h-1.1zM59.5 57.2h1.1v1.1h-1.1zM70 55.8h1.1v1.1h-1.1zM65 58.6h1.1v1.1h-1.1zM63.2 60.3h1.1v1.1h-1.1zM68.7 53.7h1.1v1.1h-1.1zM58.2 56.6h1.1v1.1h-1.1zM75.6 56.2h1.1v1.1h-1.1zM71.7 55.6h1.1v1.1h-1.1zM58.9 56.3h1.1v1.1h-1.1zM58.6 57.3h1.1v1.1h-1.1zM72.7 57.6h1.1v1.1h-1.1zM69.7 53.1h1.1v1.1h-1.1zM67.8 53.2h1.1v1.1h-1.1zM77.3 51.6h1.1v1.1h-1.1zM57.4 57.7h1.1v1.1h-1.1zM65.6 52.6h1.1v1.1h-1.1zM59.7 59.4h1.1v1.1h-1.1zM67.7 53.5h1.1v1.1h-1.1zM59.7 58.5h1.1v1.1h-1.1zM58.9 57.7h1.1v1.1h-1.1zM64.2 54.2h1.1v1.1h-1.1zM68.6 52.9h1.1v1.1h-1.1zM66.7 59.8h1.1v1.1h-1.1zM72.5 57.3h1.1v1.1h-1.1zM56.9 60h1.1v1.1h-1.1zM63.9 58.9h1.1v1.1h-1.1zM60.9 58.5h1.1v1.1h-1.1zM71.2 51.3h1.1v1.1h-1.1zM64.3 48.8h1.1v1.1h-1.1zM73.4 54.2h1.1v1.1h-1.1zM57.1 53.4h1.1v1.1h-1.1zM67.3 59.3h1.1v1.1h-1.1zM80.2 56.4h1.1v1.1h-1.1zM60 60.3h1.1v1.1h-1.1zM56 53.3h1.1v1.1h-1.1zM67.3 56.1h1.1v1.1h-1.1zM70.8 54.3h1.1v1.1h-1.1zM64 59.6h1.1v1.1h-1.1zM69.5 59.7h1.1v1.1h-1.1zM65.1 55.8h1.1v1.1h-1.1zM57.9 60h1.1v1.1h-1.1zM66.2 48.8h1.1v1.1h-1.1zM69.1 52.7h1.1v1.1h-1.1zM64.7 56.5h1.1v1.1h-1.1zM68.6 59.3h1.1v1.1h-1.1zM72.8 58.9h1.1v1.1h-1.1zM56.2 59.4h1.1v1.1h-1.1zM70.6 54.5h1.1v1.1h-1.1zM61.7 58.4h1.1v1.1h-1.1zM58.5 56.9h1.1v1.1h-1.1zM62.5 53.8h1.1v1.1h-1.1zM57.5 55.4h1.1v1.1h-1.1zM59.5 54.7h1.1v1.1h-1.1zM62.3 45.4h1.1v1.1h-1.1zM59 59.3h1.1v1.1h-1.1zM59.6 54.3h1.1v1.1h-1.1zM65.9 57.7h1.1v1.1h-1.1zM58.2 56.9h1.1v1.1h-1.1zM63.8 58.7h1.1v1.1h-1.1zM70.1 59.4h1.1v1.1h-1.1zM67.8 56h1.1v1.1h-1.1zM56.1 48.5h1.1v1.1h-1.1zM59.4 59.8h1.1v1.1h-1.1zM59.4 55.3h1.1v1.1h-1.1zM70.9 56.6h1.1v1.1h-1.1zM61.8 53.4h1.1v1.1h-1.1zM72.5 59.8h1.1v1.1h-1.1zM71.2 59.5h1.1v1.1h-1.1zM72.5 54.7h1.1v1.1h-1.1zM58.9 52h1.1v1.1h-1.1zM63.9 55.4h1.1v1.1h-1.1zM58.2 50.1h1.1v1.1h-1.1zM62.6 56.1h1.1v1.1h-1.1zM81.4 44.1h1.1v1.1h-1.1zM57.3 60.1h1.1v1.1h-1.1zM82.2 56.3h1.1v1.1h-1.1zM63.5 59.9h1.1v1.1h-1.1zM56 57.4h1.1v1.1h-1.1zM60.8 58.5h1.1v1.1h-1.1zM56.9 57.9h1.1v1.1h-1.1zM91.4 56.3h1.1v1.1h-1.1zM66.9 55.6h1.1v1.1h-1.1zM71.2 52h1.1v1.1h-1.1zM70.6 58.8h1.1v1.1h-1.1zM57 59.7h1.1v1.1h-1.1zM70.3 51.9h1.1v1.1h-1.1zM59.1 58.8h1.1v1.1h-1.1zM68.6 50.6h1.1v1.1h-1.1zM60.9 57.8h1.1v1.1h-1.1zM76.2 56.6h1.1v1.1h-1.1zM66 53.4h1.1v1.1h-1.1zM57.5 54.4h1.1v1.1h-1.1zM70.1 54.8h1.1v1.1h-1.1zM61.1 55.3h1.1v1.1h-1.1zM68.9 48.6h1.1v1.1h-1.1zM60.2 57.7h1.1v1.1h-1.1zM60.3 56.5h1.1v1.1h-1.1zM62.4 52.9h1.1v1.1h-1.1zM58.3 56.2h1.1v1.1h-1.1zM56.5 59.8h1.1v1.1h-1.1zM64.4 59.2h1.1v1.1h-1.1zM56.2 55.5h1.1v1.1h-1.1zM60.4 56.9h1.1v1.1h-1.1zM62 52.1h1.1v1.1h-1.1zM61.8 54.4h1.1v1.1h-1.1zM64.4 56.7h1.1v1.1h-1.1zM75.1 55.3h1.1v1.1h-1.1zM58.4 54.3h1.1v1.1h-1.1zM73.1 52.3h1.1v1.1h-1.1zM72.6 58h1.1v1.1h-1.1zM64.1 54h1.1v1.1h-1.1zM60.3 50.6h1.1v1.1h-1.1zM63.7 60.5h1.1v1.1h-1.1zM61.8 59.7h1.1v1.1h-1.1zM58.3 52.8h1.1v1.1h-1.1zM73.6 59.3h1.1v1.1h-1.1zM73.9 59.3h1.1v1.1h-1.1zM78.3 56.1h1.1v1.1h-1.1zM62.3 56.5h1.1v1.1h-1.1zM90.9 55.1h1.1v1.1h-1.1zM66.9 53.1h1.1v1.1h-1.1zM66.9 59.1h1.1v1.1h-1.1zM71.3 50.8h1.1v1.1h-1.1zM63.3 55.4h1.1v1.1h-1.1zM59.1 60.3h1.1v1.1h-1.1zM60.3 55.7h1.1v1.1h-1.1zM70.3 54.4h1.1v1.1h-1.1zM67.1 59.1h1.1v1.1h-1.1zM62.8 52.3h1.1v1.1h-1.1zM69 59.3h1.1v1.1h-1.1zM60.8 57.2h1.1v1.1h-1.1zM70.5 54.4h1.1v1.1h-1.1zM62 53.1h1.1v1.1h-1.1zM61.3 56.3h1.1v1.1h-1.1zM64.5 56.5h1.1v1.1h-1.1zM62 59.7h1.1v1.1h-1.1zM63.8 46.8h1.1v1.1h-1.1zM73.9 59.4h1.1v1.1h-1.1zM78.2 58.6h1.1v1.1h-1.1zM66.3 55.6h1.1v1.1h-1.1zM61.4 56.2h1.1v1.1h-1.1zM67.4 45h1.1v1.1h-1.1zM56.4 54.2h1.1v1.1h-1.1zM60.7 56.5h1.1v1.1h-1.1zM90.5 47.2h1.1v1.1h-1.1zM70.5 55.1h1.1v1.1h-1.1zM58 53.4h1.1v1.1h-1.1zM62.4 57.5h1.1v1.1h-1.1zM63.1 59.7h1.1v1.1h-1.1zM62.5 55.6h1.1v1.1h-1.1zM60.5 58.1h1.1v1.1h-1.1zM56 58h1.1v1.1h-1.1zM70.9 58.4h1.1v1.1h-1.1zM66.8 53.9h1.1v1.1h-1.1zM60.9 60.3h1.1v1.1h-1.1zM62 56.8h1.1v1.1h-1.1zM84.2 56.5h1.1v1.1h-1.1zM68.8 58.4h1.1v1.1h-1.1zM61.6 57.2h1.1v1.1h-1.1zM57 57.5h1.1v1.1h-1.1zM61.2 58.4h1.1v1.1h-1.1zM62 54.4h1.1v1.1h-1.1zM62.5 53.5h1.1v1.1h-1.1zM59.4 58.5h1.1v1.1h-1.1zM68.5 55.8h1.1v1.1h-1.1zM77.5 56.2h1.1v1.1h-1.1zM62.4 48.2h1.1v1.1h-1.1zM58.1 52.2h1.1v1.1h-1.1zM68.9 50.6h1.1v1.1h-1.1zM74.1 55.3h1.1v1.1h-1.1zM57.8 56.5h1.1v1.1h-1.1zM70.2 47.4h1.1v1.1h-1.1zM73 52.5h1.1v1.1h-1.1zM67.8 50.2h1.1v1.1h-1.1zM66.8 50.4h1.1v1.1h-1.1zM64.4 55.2h1.1v1.1h-1.1zM71.1 55.8h1.1v1.1h-1.1zM63.1 57.5h1.1v1.1h-1.1zM77 54.8h1.1v1.1h-1.1zM62.5 51.4h1.1v1.1h-1.1zM77.2 53.2h1.1v1.1h-1.1zM68.1 50.4h1.1v1.1h-1.1zM70.7 57.4h1.1v1.1h-1.1zM63.3 58.5h1.1v1.1h-1.1zM62.4 53.8h1.1v1.1h-1.1zM65.4 60h1.1v1.1h-1.1zM77.8 58.6h1.1v1.1h-1.1zM68.1 56.4h1.1v1.1h-1.1zM70.6 55.7h1.1v1.1h-1.1zM65.1 57.8h1.1v1.1h-1.1zM61.2 56.1h1.1v1.1h-1.1zM57.7 59h1.1v1.1h-1.1zM66.6 53.5h1.1v1.1h-1.1zM70.8 52.9h1.1v1.1h-1.1zM71.7 60.2h1.1v1.1h-1.1zM68.8 54.4h1.1v1.1h-1.1zM77.6 59.5h1.1v1.1h-1.1zM71.8 52.3h1.1v1.1h-1.1zM58 57.7h1.1v1.1h-1.1zM80.2 53h1.1v1.1h-1.1zM58.7 55h1.1v1.1h-1.1zM73.8 55.9h1.1v1.1h-1.1zM63.6 51.5h1.1v1.1h-1.1zM60.8 54.4h1.1v1.1h-1.1zM62.7 56.4h1.1v1.1h-1.1zM57.5 56.2h1.1v1.1h-1.1zM85.5 52.7h1.1v1.1h-1.1zM64.8 57h1.1v1.1h-1.1zM64.6 60.4h1.1v1.1h-1.1zM61.9 56.3h1.1v1.1h-1.1zM82 50.7h1.1v1.1h-1.1zM57.3 42.8h1.1v1.1h-1.1zM69 55.7h1.1v1.1h-1.1zM72.7 44.1h1.1v1.1h-1.1zM72.2 46.4h1.1v1.1h-1.1zM61.5 50.9h1.1v1.1h-1.1zM65.1 48h1.1v1.1h-1.1zM72.5 50h1.1v1.1h-1.1zM79.8 44h1.1v1.1h-1.1zM71.1 57.2h1.1v1.1h-1.1zM86.8 55.8h1.1v1.1h-1.1zM72.5 41.5h1.1v1.1h-1.1zM80.5 55.9h1.1v1.1h-1.1zM58.7 44h1.1v1.1h-1.1zM74 45.1h1.1v1.1h-1.1zM91.9 47.8h1.1v1.1h-1.1zM64.9 57.9h1.1v1.1h-1.1zM76.1 45.9h1.1v1.1h-1.1zM56.5 50.3h1.1v1.1h-1.1zM58.4 38.8h1.1v1.1h-1.1zM79.9 56.7h1.1v1.1h-1.1zM84.3 54.9h1.1v1.1h-1.1zM63.6 44h1.1v1.1h-1.1zM58 57.2h1.1v1.1h-1.1zM77.9 39h1.1v1.1h-1.1zM83.3 60.5h1.1v1.1h-1.1zM72.4 43.8h1.1v1.1h-1.1zM94.3 43.1h1.1v1.1h-1.1zM70.9 39h1.1v1.1h-1.1zM56.1 40.4h1.1v1.1h-1.1zM85.8 60h1.1v1.1h-1.1zM66.9 42.8h1.1v1.1h-1.1zM71.2 54.6h1.1v1.1h-1.1zM70.7 56.8h1.1v1.1h-1.1zM72.9 55.1h1.1v1.1h-1.1zM75.9 45.7h1.1v1.1h-1.1zM70.4 49.4h1.1v1.1h-1.1zM78.1 46.7h1.1v1.1h-1.1zM90.3 52.2h1.1v1.1h-1.1zM78.7 56.3h1.1v1.1h-1.1zM85.2 54.8h1.1v1.1h-1.1zM79.1 55.2h1.1v1.1h-1.1zM63.9 47.4h1.1v1.1h-1.1zM63.8 59.9h1.1v1.1h-1.1zM77.8 43.9h1.1v1.1h-1.1zM94.1 54.3h1.1v1.1h-1.1zM87.2 53.5h1.1v1.1h-1.1zM67.8 53.2h1.1v1.1h-1.1zM57.7 43.8h1.1v1.1h-1.1zM60.7 48.4h1.1v1.1h-1.1zM83.3 50.5h1.1v1.1h-1.1zM77 51.8h1.1v1.1h-1.1zM65.1 52.5h1.1v1.1h-1.1zM68.3 44.6h1.1v1.1h-1.1zM67.4 55.8h1.1v1.1h-1.1zM63.3 55.3h1.1v1.1h-1.1zM58.1 51.2h1.1v1.1h-1.1zM75.4 57.2h1.1v1.1h-1.1zM93.3 50h1.1v1.1h-1.1zM68.4 41h1.1v1.1h-1.1zM80.1 53.8h1.1v1.1h-1.1zM68.8 42.3h1.1v1.1h-1.1zM70.9 58.5h1.1v1.1h-1.1zM81.5 60.5h1.1v1.1h-1.1zM83.1 51.7h1.1v1.1h-1.1zM79.8 53.2h1.1v1.1h-1.1zM76.8 44.7h1.1v1.1h-1.1zM76.9 54h1.1v1.1h-1.1zM91.7 45.4h1.1v1.1h-1.1zM73 72.1h1.1v1.1h-1.1zM70.9 74.4h1.1v1.1h-1.1zM84 69.2h1.1v1.1h-1.1zM66.4 64.1h1.1v1.1h-1.1zM69.6 70.7h1.1v1.1h-1.1zM72.5 77.8h1.1v1.1h-1.1zM66.5 70.6h1.1v1.1h-1.1zM63.7 70.4h1.1v1.1h-1.1zM82.2 65.2h1.1v1.1h-1.1zM80 72.3h1.1v1.1h-1.1zM71.1 74.3h1.1v1.1h-1.1zM80.2 66.7h1.1v1.1h-1.1zM83.9 74.9h1.1v1.1h-1.1zM75 72.9h1.1v1.1h-1.1zM62.8 70.8h1.1v1.1h-1.1zM67.2 68h1.1v1.1h-1.1zM62 63.7h1.1v1.1h-1.1zM63.6 68.7h1.1v1.1h-1.1zM70 75.9h1.1v1.1h-1.1zM74.5 70.6h1.1v1.1h-1.1zM94.7 68.4h1.1v1.1h-1.1zM72.6 70.4h1.1v1.1h-1.1zM87.4 66.4h1.1v1.1h-1.1zM78.2 67.7h1.1v1.1h-1.1zM69.6 70.9h1.1v1.1h-1.1zM68.3 67.2h1.1v1.1h-1.1zM91.3 68.4h1.1v1.1h-1.1zM77.4 76.1h1.1v1.1h-1.1zM88.8 76.5h1.1v1.1h-1.1zM97.3 70.2h1.1v1.1h-1.1zM72.4 70.9h1.1v1.1h-1.1zM56.1 68.6h1.1v1.1h-1.1zM66.5 70.4h1.1v1.1h-1.1zM67.9 68.7h1.1v1.1h-1.1zM60.6 70.8h1.1v1.1h-1.1zM62 66.7h1.1v1.1h-1.1zM61.5 71.3h1.1v1.1h-1.1zM86.6 68.9h1.1v1.1h-1.1zM64 72.1h1.1v1.1h-1.1zM72 67.7h1.1v1.1h-1.1zM59.4 73.8h1.1v1.1h-1.1zM68.7 66.6h1.1v1.1h-1.1zM68.2 69.3h1.1v1.1h-1.1zM74.6 71.3h1.1v1.1h-1.1zM92.4 64h1.1v1.1h-1.1zM67.2 68.5h1.1v1.1h-1.1zM67.8 75.1h1.1v1.1h-1.1zM60.3 74.3h1.1v1.1h-1.1zM81.4 73.6h1.1v1.1h-1.1zM89.7 69h1.1v1.1h-1.1zM91.2 65.8h1.1v1.1h-1.1zM68.2 65.2h1.1v1.1h-1.1zM68 76.2h1.1v1.1h-1.1zM78.8 70.6h1.1v1.1h-1.1zM73.1 62.9h1.1v1.1h-1.1zM90.2 76.9h1.1v1.1h-1.1zM59.8 77.8h1.1v1.1h-1.1zM76.7 69.2h1.1v1.1h-1.1zM76.8 72.2h1.1v1.1h-1.1zM79.6 70.4h1.1v1.1h-1.1zM75.2 75.8h1.1v1.1h-1.1zM68.1 74.6h1.1v1.1h-1.1zM90.6 71.6h1.1v1.1h-1.1zM70.9 74.5h1.1v1.1h-1.1zM89 68.1h1.1v1.1h-1.1zM66.2 72.1h1.1v1.1h-1.1zM70.3 70.4h1.1v1.1h-1.1zM62.6 72.5h1.1v1.1h-1.1zM81.3 74.6h1.1v1.1h-1.1zM90.5 68.3h1.1v1.1h-1.1zM71 72.5h1.1v1.1h-1.1zM63 75.8h1.1v1.1h-1.1zM62 64h1.1v1.1h-1.1zM67.1 67.3h1.1v1.1h-1.1zM80.5 67.7h1.1v1.1h-1.1zM69.9 68.7h1.1v1.1h-1.1zM73.1 66.2h1.1v1.1h-1.1zM62.2 65.7h1.1v1.1h-1.1zM77.7 70.2h1.1v1.1h-1.1zM75.3 68h1.1v1.1h-1.1zM57.2 63.3h1.1v1.1h-1.1zM63 66.8h1.1v1.1h-1.1zM72.2 72.1h1.1v1.1h-1.1zM82.7 69.4h1.1v1.1h-1.1zM56.8 63.6h1.1v1.1h-1.1zM68.9 72.2h1.1v1.1h-1.1zM97.2 71.1h1.1v1.1h-1.1zM85 78.1h1.1v1.1h-1.1zM67.9 75.7h1.1v1.1h-1.1zM60.8 69.6h1.1v1.1h-1.1zM64.8 75.7h1.1v1.1h-1.1zM69 65.7h1.1v1.1h-1.1zM71.6 74h1.1v1.1h-1.1zM57.3 73.8h1.1v1.1h-1.1zM57.3 64.7h1.1v1.1h-1.1zM71.3 68.6h1.1v1.1h-1.1zM68.3 71.5h1.1v1.1h-1.1zM61.1 71.1h1.1v1.1h-1.1zM74.2 71.7h1.1v1.1h-1.1zM58.8 70.5h1.1v1.1h-1.1zM70 76.4h1.1v1.1h-1.1zM72.1 71.5h1.1v1.1h-1.1zM57.1 75.2h1.1v1.1h-1.1zM85.6 67h1.1v1.1h-1.1zM77.6 71.8h1.1v1.1h-1.1zM72.5 67.7h1.1v1.1h-1.1zM85.2 67.5h1.1v1.1h-1.1zM68.6 73.7h1.1v1.1h-1.1zM74.8 66.9h1.1v1.1h-1.1zM78.2 72.3h1.1v1.1h-1.1zM82.8 66.9h1.1v1.1h-1.1zM67.3 67.7h1.1v1.1h-1.1zM63.1 72.3h1.1v1.1h-1.1zM85.1 69.3h1.1v1.1h-1.1zM68.9 70.8h1.1v1.1h-1.1zM57.7 64.1h1.1v1.1h-1.1zM84.7 71h1.1v1.1h-1.1zM66.9 62.6h1.1v1.1h-1.1zM69.8 77h1.1v1.1h-1.1zM91.2 66.7h1.1v1.1h-1.1zM77 65.5h1.1v1.1h-1.1zM75.8 67.8h1.1v1.1h-1.1zM70.9 78h1.1v1.1h-1.1zM73.1 68.6h1.1v1.1h-1.1zM68.8 71.6h1.1v1.1h-1.1zM60.3 71.2h1.1v1.1h-1.1zM69.8 76.8h1.1v1.1h-1.1zM60.4 67.1h1.1v1.1h-1.1zM73.1 66.5h1.1v1.1h-1.1zM84.6 70h1.1v1.1h-1.1zM61.3 75.5h1.1v1.1h-1.1zM82.4 70.8h1.1v1.1h-1.1zM88.5 70h1.1v1.1h-1.1zM67.2 76.6h1.1v1.1h-1.1zM75.2 73.4h1.1v1.1h-1.1zM72.8 72.6h1.1v1.1h-1.1zM71.9 68.7h1.1v1.1h-1.1zM68.9 73.6h1.1v1.1h-1.1zM79.4 68.7h1.1v1.1h-1.1zM82.3 67.8h1.1v1.1h-1.1zM70.2 70.7h1.1v1.1h-1.1zM64.9 74.8h1.1v1.1h-1.1zM57.7 64.1h1.1v1.1h-1.1zM76.3 73h1.1v1.1h-1.1zM57.1 63.3h1.1v1.1h-1.1zM77.5 69.1h1.1v1.1h-1.1zM96.4 75.9h1.1v1.1h-1.1zM59.4 68.4h1.1v1.1h-1.1zM63.9 65.7h1.1v1.1h-1.1zM69.2 75.7h1.1v1.1h-1.1zM90.1 74.4h1.1v1.1h-1.1zM56 65.2h1.1v1.1h-1.1zM85 70.4h1.1v1.1h-1.1zM62.3 67h1.1v1.1h-1.1zM93.4 67.3h1.1v1.1h-1.1zM69.7 76.3h1.1v1.1h-1.1zM77.9 68.9h1.1v1.1h-1.1zM76.8 67.4h1.1v1.1h-1.1zM66.7 64.4h1.1v1.1h-1.1zM75.4 73.1h1.1v1.1h-1.1zM70.6 74.6h1.1v1.1h-1.1zM75.9 70.7h1.1v1.1h-1.1zM85.5 73.7h1.1v1.1h-1.1zM86.4 67.2h1.1v1.1h-1.1zM59.4 71.4h1.1v1.1h-1.1zM65.2 70.1h1.1v1.1h-1.1zM64 66.8h1.1v1.1h-1.1zM64.4 74.4h1.1v1.1h-1.1zM76.8 62.7h1.1v1.1h-1.1zM59.5 67.9h1.1v1.1h-1.1zM86.5 70.7h1.1v1.1h-1.1zM66.2 65.3h1.1v1.1h-1.1zM69.3 70.2h1.1v1.1h-1.1zM78.7 78.2h1.1v1.1h-1.1zM78.8 70.1h1.1v1.1h-1.1zM71 69.9h1.1v1.1h-1.1zM76.4 69.4h1.1v1.1h-1.1zM58.7 76.3h1.1v1.1h-1.1zM61.3 75.6h1.1v1.1h-1.1zM56.5 70.6h1.1v1.1h-1.1zM73.9 70.9h1.1v1.1h-1.1zM71.4 72.2h1.1v1.1h-1.1zM66.2 64.6h1.1v1.1h-1.1zM58.3 70.2h1.1v1.1h-1.1zM85.3 66.7h1.1v1.1h-1.1zM76.2 71.1h1.1v1.1h-1.1zM62.8 64.5h1.1v1.1h-1.1zM65.8 65.8h1.1v1.1h-1.1zM84.5 74.4h1.1v1.1h-1.1zM68.8 72.6h1.1v1.1h-1.1zM58 63.4h1.1v1.1h-1.1zM74.3 73h1.1v1.1h-1.1zM61.8 68.6h1.1v1.1h-1.1zM60.6 66.7h1.1v1.1h-1.1zM67.2 76.3h1.1v1.1h-1.1zM91.6 71.9h1.1v1.1h-1.1zM70.3 74.9h1.1v1.1h-1.1zM71.6 75h1.1v1.1h-1.1zM61.9 66h1.1v1.1h-1.1zM73.9 73.6h1.1v1.1h-1.1zM71.6 65h1.1v1.1h-1.1zM87.3 72.8h1.1v1.1h-1.1zM72 71h1.1v1.1h-1.1zM59.4 69.7h1.1v1.1h-1.1zM95.9 64.9h1.1v1.1h-1.1zM58.3 70.9h1.1v1.1h-1.1zM81 74.9h1.1v1.1h-1.1zM64.1 62.8h1.1v1.1h-1.1zM69.1 67.2h1.1v1.1h-1.1zM81.4 72.5h1.1v1.1h-1.1zM56.6 70.5h1.1v1.1h-1.1zM62.8 66.3h1.1v1.1h-1.1zM60.9 76.2h1.1v1.1h-1.1zM56.7 74.7h1.1v1.1h-1.1zM62.8 68.1h1.1v1.1h-1.1zM67.3 71.6h1.1v1.1h-1.1zM79.6 74.9h1.1v1.1h-1.1zM58.7 66.5h1.1v1.1h-1.1zM90.7 74.2h1.1v1.1h-1.1zM70.1 63.6h1.1v1.1h-1.1zM80.9 73.1h1.1v1.1h-1.1zM79.7 71.6h1.1v1.1h-1.1zM68.9 66.8h1.1v1.1h-1.1zM72.5 71.4h1.1v1.1h-1.1zM77.5 76.3h1.1v1.1h-1.1zM72.6 66.8h1.1v1.1h-1.1zM76 73.1h1.1v1.1h-1.1zM75.4 69.5h1.1v1.1h-1.1zM58.2 67h1.1v1.1h-1.1zM67.2 66.9h1.1v1.1h-1.1zM89.5 76.8h1.1v1.1h-1.1zM62 73.8h1.1v1.1h-1.1zM67.5 76.7h1.1v1.1h-1.1zM76.5 69.8h1.1v1.1h-1.1zM76.1 65.8h1.1v1.1h-1.1zM62.7 73.2h1.1v1.1h-1.1zM80.8 64.1h1.1v1.1h-1.1zM93.4 70.7h1.1v1.1h-1.1zM80.7 68.4h1.1v1.1h-1.1zM66.6 75.7h1.1v1.1h-1.1zM58.1 74h1.1v1.1h-1.1zM62.8 72h1.1v1.1h-1.1zM87.1 63.4h1.1v1.1h-1.1zM72.4 65.8h1.1v1.1h-1.1zM59.8 65.1h1.1v1.1h-1.1zM72.3 67.3h1.1v1.1h-1.1zM73.9 65h1.1v1.1h-1.1zM73.9 67.7h1.1v1.1h-1.1zM90.9 66.3h1.1v1.1h-1.1zM96.9 73.6h1.1v1.1h-1.1zM71.1 75.3h1.1v1.1h-1.1zM68 72.8h1.1v1.1h-1.1zM66.4 71.2h1.1v1.1h-1.1zM71.1 65.9h1.1v1.1h-1.1zM73.1 71h1.1v1.1h-1.1zM67.4 66h1.1v1.1h-1.1zM60.2 77.9h1.1v1.1h-1.1zM81.3 65.8h1.1v1.1h-1.1zM87.7 64.2h1.1v1.1h-1.1zM61.6 68.7h1.1v1.1h-1.1zM62.8 66.5h1.1v1.1h-1.1zM58.8 74.3h1.1v1.1h-1.1zM90.4 67.6h1.1v1.1h-1.1zM87.6 71.7h1.1v1.1h-1.1zM62 71.1h1.1v1.1h-1.1zM71.4 64.5h1.1v1.1h-1.1zM71.4 66h1.1v1.1h-1.1zM71.8 74.9h1.1v1.1h-1.1zM75.3 77h1.1v1.1h-1.1zM87.3 70h1.1v1.1h-1.1zM70.7 66.3h1.1v1.1h-1.1zM84 65.9h1.1v1.1h-1.1zM68.9 71.3h1.1v1.1h-1.1zM60.2 68.8h1.1v1.1h-1.1zM67.3 74.8h1.1v1.1h-1.1zM61.5 70.5h1.1v1.1h-1.1zM81.7 70.2h1.1v1.1h-1.1zM68.9 74.6h1.1v1.1h-1.1zM58.7 69.6h1.1v1.1h-1.1zM73.9 77.6h1.1v1.1h-1.1zM72.4 69.1h1.1v1.1h-1.1zM83.2 67.8h1.1v1.1h-1.1zM72.9 71.2h1.1v1.1h-1.1zM78.4 75.2h1.1v1.1h-1.1zM68.3 74h1.1v1.1h-1.1zM76.2 75.2h1.1v1.1h-1.1zM58.6 66.6h1.1v1.1h-1.1zM73.5 73.6h1.1v1.1h-1.1zM76.5 72h1.1v1.1h-1.1zM60.9 76.5h1.1v1.1h-1.1zM74.9 76.3h1.1v1.1h-1.1zM58.2 70.7h1.1v1.1h-1.1zM61 68.2h1.1v1.1h-1.1zM70.8 72h1.1v1.1h-1.1zM56.5 73.2h1.1v1.1h-1.1zM62.6 64.4h1.1v1.1h-1.1zM66.5 69.7h1.1v1.1h-1.1zM81.3 67.1h1.1v1.1h-1.1zM56.5 72.1h1.1v1.1h-1.1zM76.8 74.5h1.1v1.1h-1.1zM71.1 72.7h1.1v1.1h-1.1zM89.5 63.5h1.1v1.1h-1.1zM81.1 70.9h1.1v1.1h-1.1zM57.2 76h1.1v1.1h-1.1zM87.3 66.3h1.1v1.1h-1.1zM70.6 65.5h1.1v1.1h-1.1zM57.8 74.3h1.1v1.1h-1.1zM56.3 68.8h1.1v1.1h-1.1zM80.3 77.8h1.1v1.1h-1.1zM77.7 70.5h1.1v1.1h-1.1zM93.3 74h1.1v1.1h-1.1zM74.5 73.4h1.1v1.1h-1.1zM79 71.7h1.1v1.1h-1.1zM96.9 77.3h1.1v1.1h-1.1zM59 71.6h1.1v1.1h-1.1zM63 71.7h1.1v1.1h-1.1zM85.5 62.8h1.1v1.1h-1.1zM72.9 70.5h1.1v1.1h-1.1zM70.2 70.9h1.1v1.1h-1.1zM74.8 72.3h1.1v1.1h-1.1zM76.6 77.5h1.1v1.1h-1.1zM67.8 74.4h1.1v1.1h-1.1zM65.5 66.4h1.1v1.1h-1.1zM71.7 73.1h1.1v1.1h-1.1zM85.2 72.7h1.1v1.1h-1.1zM66.3 68.6h1.1v1.1h-1.1zM82.9 64.5h1.1v1.1h-1.1zM60.2 75.1h1.1v1.1h-1.1zM95.9 65.9h1.1v1.1h-1.1zM84.6 66.1h1.1v1.1h-1.1zM73.8 72.9h1.1v1.1h-1.1zM95 70.3h1.1v1.1h-1.1zM72 63h1.1v1.1h-1.1zM94.8 70.4h1.1v1.1h-1.1zM58.2 66.5h1.1v1.1h-1.1zM59.5 73.3h1.1v1.1h-1.1zM89.9 64h1.1v1.1h-1.1zM90.9 69.5h1.1v1.1h-1.1zM66.4 78.2h1.1v1.1h-1.1zM56 70.3h1.1v1.1h-1.1zM73.5 68.8h1.1v1.1h-1.1zM90.8 65.7h1.1v1.1h-1.1zM83 78.2h1.1v1.1h-1.1zM73.9 69h1.1v1.1h-1.1zM69.2 67.2h1.1v1.1h-1.1zM66.8 72.9h1.1v1.1h-1.1zM79.2 65.3h1.1v1.1h-1.1zM66.3 65.4h1.1v1.1h-1.1zM82.3 74h1.1v1.1h-1.1zM66.2 65.9h1.1v1.1h-1.1zM61.2 66h1.1v1.1h-1.1zM60.6 70.5h1.1v1.1h-1.1zM68 66.6h1.1v1.1h-1.1zM65.9 68.2h1.1v1.1h-1.1zM86.7 69.4h1.1v1.1h-1.1zM67.5 66.8h1.1v1.1h-1.1zM58.5 65.6h1.1v1.1h-1.1zM84.7 71.4h1.1v1.1h-1.1zM93 76.1h1.1v1.1h-1.1zM71.1 69h1.1v1.1h-1.1zM71.2 73h1.1v1.1h-1.1zM71 67.2h1.1v1.1h-1.1zM74.9 76.5h1.1v1.1h-1.1zM63.4 73.1h1.1v1.1h-1.1zM83.4 67.1h1.1v1.1h-1.1zM70.5 65.6h1.1v1.1h-1.1zM77 67.8h1.1v1.1h-1.1zM85.2 65.4h1.1v1.1h-1.1zM93.3 68.1h1.1v1.1h-1.1zM77.9 64.9h1.1v1.1h-1.1zM95.1 77.7h1.1v1.1h-1.1zM67.6 65.6h1.1v1.1h-1.1zM80.1 77.7h1.1v1.1h-1.1zM72 72.8h1.1v1.1h-1.1zM66.4 75.7h1.1v1.1h-1.1zM60.4 68.1h1.1v1.1h-1.1zM78.8 66.2h1.1v1.1h-1.1zM80.6 76.1h1.1v1.1h-1.1zM82.5 68.8h1.1v1.1h-1.1zM78 70.7h1.1v1.1h-1.1zM76.7 73.4h1.1v1.1h-1.1zM89.6 67.1h1.1v1.1h-1.1zM82.5 63.2h1.1v1.1h-1.1zM69.9 70.3h1.1v1.1h-1.1zM58.4 68.7h1.1v1.1h-1.1zM60.5 69.9h1.1v1.1h-1.1zM90.6 69.6h1.1v1.1h-1.1zM67.8 69.7h1.1v1.1h-1.1zM83.1 71.9h1.1v1.1h-1.1zM80.8 69h1.1v1.1h-1.1zM66.2 69.7h1.1v1.1h-1.1zM78.1 70.3h1.1v1.1h-1.1zM95.9 78.3h1.1v1.1h-1.1zM82.9 68.7h1.1v1.1h-1.1zM66.2 67.9h1.1v1.1h-1.1zM87.1 76.4h1.1v1.1h-1.1zM66.9 73.4h1.1v1.1h-1.1zM88.9 69.7h1.1v1.1h-1.1zM62.9 67.1h1.1v1.1h-1.1zM67.7 73.3h1.1v1.1h-1.1zM72.7 72.9h1.1v1.1h-1.1zM77.5 76h1.1v1.1h-1.1zM73.2 70.2h1.1v1.1h-1.1zM58.3 72.1h1.1v1.1h-1.1zM68.5 65.5h1.1v1.1h-1.1zM73 66h1.1v1.1h-1.1zM82.3 73.8h1.1v1.1h-1.1zM57.7 73.5h1.1v1.1h-1.1zM69 65.8h1.1v1.1h-1.1zM86.1 66.2h1.1v1.1h-1.1zM70.4 72.1h1.1v1.1h-1.1zM79.7 72.7h1.1v1.1h-1.1zM86.4 74.6h1.1v1.1h-1.1zM56.6 72.4h1.1v1.1h-1.1zM68.3 73.5h1.1v1.1h-1.1zM63.5 75h1.1v1.1h-1.1zM87.8 65h1.1v1.1h-1.1zM59.9 71.6h1.1v1.1h-1.1zM75.4 70.9h1.1v1.1h-1.1zM80.5 62.9h1.1v1.1h-1.1zM40.6 73.8h1.1v1.1h-1.1zM36.9 70.7h1.1v1.1h-1.1zM37.8 64.5h1.1v1.1h-1.1zM40.7 68.4h1.1v1.1h-1.1zM43.7 70.7h1.1v1.1h-1.1zM44.7 78h1.1v1.1h-1.1zM44.4 73.8h1.1v1.1h-1.1zM39 75.7h1.1v1.1h-1.1zM39.6 66.6h1.1v1.1h-1.1zM37.7 72.7h1.1v1.1h-1.1zM52.6 75.9h1.1v1.1h-1.1zM36.4 71.3h1.1v1.1h-1.1zM37.4 63.8h1.1v1.1h-1.1zM46 65.6h1.1v1.1h-1.1zM37.6 71.6h1.1v1.1h-1.1zM37.8 71.4h1.1v1.1h-1.1zM44.5 67.7h1.1v1.1h-1.1zM41.5 73.1h1.1v1.1h-1.1zM42.2 71.2h1.1v1.1h-1.1zM52.4 63.5h1.1v1.1h-1.1zM42 67.6h1.1v1.1h-1.1zM32.1 78.1h1.1v1.1h-1.1zM45.9 71h1.1v1.1h-1.1zM51.8 70.9h1.1v1.1h-1.1zM51.8 64h1.1v1.1h-1.1zM34 71.7h1.1v1.1h-1.1zM34.6 77h1.1v1.1h-1.1zM37 68.4h1.1v1.1h-1.1zM32.6 70.8h1.1v1.1h-1.1zM39.7 67.2h1.1v1.1h-1.1zM35.1 69.9h1.1v1.1h-1.1zM45.3 62.7h1.1v1.1h-1.1zM33.3 70.5h1.1v1.1h-1.1zM40.5 77.9h1.1v1.1h-1.1zM37.6 75.7h1.1v1.1h-1.1zM42.3 66.3h1.1v1.1h-1.1zM32.8 62.9h1.1v1.1h-1.1zM42.5 73.5h1.1v1.1h-1.1zM41.4 72.4h1.1v1.1h-1.1zM45.4 66.2h1.1v1.1h-1.1zM40.5 73.9h1.1v1.1h-1.1zM33.4 71.5h1.1v1.1h-1.1zM33.3 73.7h1.1v1.1h-1.1zM45.4 74.7h1.1v1.1h-1.1zM48.4 66h1.1v1.1h-1.1zM37.1 73h1.1v1.1h-1.1zM44.4 64.3h1.1v1.1h-1.1zM33.7 73.6h1.1v1.1h-1.1zM36.7 68h1.1v1.1h-1.1zM52.9 71.9h1.1v1.1h-1.1zM41.9 71.7h1.1v1.1h-1.1zM38.4 67.8h1.1v1.1h-1.1zM36.6 67.3h1.1v1.1h-1.1zM49.1 68.2h1.1v1.1h-1.1zM31.8 66.3h1.1v1.1h-1.1zM41.8 72.7h1.1v1.1h-1.1zM33.4 66h1.1v1.1h-1.1zM48 74.4h1.1v1.1h-1.1zM39.1 77.7h1.1v1.1h-1.1zM41 72.4h1.1v1.1h-1.1zM52.2 73.3h1.1v1.1h-1.1zM33.6 68.9h1.1v1.1h-1.1zM44.4 67.9h1.1v1.1h-1.1zM52.4 75.2h1.1v1.1h-1.1zM43.2 71.4h1.1v1.1h-1.1zM46.6 72.7h1.1v1.1h-1.1zM35.8 76.5h1.1v1.1h-1.1zM34.7 70.7h1.1v1.1h-1.1zM39.4 62.9h1.1v1.1h-1.1zM49 70.5h1.1v1.1h-1.1zM31.4 70.5h1.1v1.1h-1.1zM37.3 75.9h1.1v1.1h-1.1zM33.3 65h1.1v1.1h-1.1zM42.1 73.9h1.1v1.1h-1.1zM52.2 69.1h1.1v1.1h-1.1zM34.3 69.8h1.1v1.1h-1.1zM37.5 77.2h1.1v1.1h-1.1zM52.1 69.2h1.1v1.1h-1.1zM38.1 73.4h1.1v1.1h-1.1zM33.4 73.4h1.1v1.1h-1.1zM49.9 71.9h1.1v1.1h-1.1zM37.7 63.7h1.1v1.1h-1.1zM36.5 71.8h1.1v1.1h-1.1zM40.3 65.9h1.1v1.1h-1.1zM39.7 68h1.1v1.1h-1.1zM38.3 68.2h1.1v1.1h-1.1zM34.3 70.6h1.1v1.1h-1.1zM37.9 69.8h1.1v1.1h-1.1zM48.7 75.5h1.1v1.1h-1.1zM37.5 63.1h1.1v1.1h-1.1zM36.6 68.8h1.1v1.1h-1.1zM35.8 76.8h1.1v1.1h-1.1zM40.3 68.3h1.1v1.1h-1.1zM41 69.8h1.1v1.1h-1.1zM41.9 65.5h1.1v1.1h-1.1zM46.5 67.4h1.1v1.1h-1.1zM48.7 63.5h1.1v1.1h-1.1zM38.3 63h1.1v1.1h-1.1zM47.4 67.4h1.1v1.1h-1.1zM50.3 67.2h1.1v1.1h-1.1zM51.9 72h1.1v1.1h-1.1zM46.5 72.1h1.1v1.1h-1.1zM39.4 68.5h1.1v1.1h-1.1zM47.5 75.9h1.1v1.1h-1.1zM53.7 70.5h1.1v1.1h-1.1zM45.3 65.5h1.1v1.1h-1.1zM42.2 66h1.1v1.1h-1.1zM46.6 68h1.1v1.1h-1.1zM39.5 63.6h1.1v1.1h-1.1zM45.5 63.5h1.1v1.1h-1.1zM46.7 66.4h1.1v1.1h-1.1zM39.6 64.4h1.1v1.1h-1.1zM44.1 75.8h1.1v1.1h-1.1zM52.2 69.1h1.1v1.1h-1.1zM31.2 70.5h1.1v1.1h-1.1zM38.7 74.8h1.1v1.1h-1.1zM37.4 65h1.1v1.1h-1.1zM37.3 70.4h1.1v1.1h-1.1zM52.9 67.1h1.1v1.1h-1.1zM49.7 74.1h1.1v1.1h-1.1zM35.4 65h1.1v1.1h-1.1zM33.6 77.4h1.1v1.1h-1.1zM45.2 78.4h1.1v1.1h-1.1zM39.4 68.4h1.1v1.1h-1.1zM44.4 65.3h1.1v1.1h-1.1zM49.2 69.7h1.1v1.1h-1.1zM51.3 75.3h1.1v1.1h-1.1zM37.3 70.8h1.1v1.1h-1.1zM38.7 73.6h1.1v1.1h-1.1zM47.2 78.4h1.1v1.1h-1.1zM32.5 69.2h1.1v1.1h-1.1zM43.9 72.9h1.1v1.1h-1.1zM36.2 69.8h1.1v1.1h-1.1zM44.7 65.1h1.1v1.1h-1.1zM42 66h1.1v1.1h-1.1zM35.1 76.8h1.1v1.1h-1.1zM40.9 67.2h1.1v1.1h-1.1zM45.2 69.4h1.1v1.1h-1.1zM43 73.9h1.1v1.1h-1.1zM42.9 74h1.1v1.1h-1.1zM35.4 71.4h1.1v1.1h-1.1zM42.2 67.6h1.1v1.1h-1.1zM43.2 71.9h1.1v1.1h-1.1zM40.7 73.9h1.1v1.1h-1.1zM49.8 70.9h1.1v1.1h-1.1zM36.2 74.8h1.1v1.1h-1.1zM32.3 70.4h1.1v1.1h-1.1zM48.5 64h1.1v1.1h-1.1zM47.5 77.4h1.1v1.1h-1.1zM50.9 66.5h1.1v1.1h-1.1zM36.2 63.4h1.1v1.1h-1.1zM45.7 68.9h1.1v1.1h-1.1zM44.6 70.8h1.1v1.1h-1.1zM33.1 63.9h1.1v1.1h-1.1zM49.2 64.4h1.1v1.1h-1.1zM48.7 75.3h1.1v1.1h-1.1zM53.7 72h1.1v1.1h-1.1zM40.3 74.1h1.1v1.1h-1.1zM39.1 65.9h1.1v1.1h-1.1zM45.2 65.2h1.1v1.1h-1.1zM38.7 74.2h1.1v1.1h-1.1zM33.7 76.1h1.1v1.1h-1.1zM38.6 72.8h1.1v1.1h-1.1zM34.6 70.2h1.1v1.1h-1.1zM52.6 69.6h1.1v1.1h-1.1zM36.4 73h1.1v1.1h-1.1zM51.6 69.8h1.1v1.1h-1.1zM42.1 74.3h1.1v1.1h-1.1zM53.5 73h1.1v1.1h-1.1zM47.7 67.6h1.1v1.1h-1.1zM42.1 75h1.1v1.1h-1.1zM32.6 70.1h1.1v1.1h-1.1zM40.7 71.9h1.1v1.1h-1.1zM42.1 68.6h1.1v1.1h-1.1zM47.3 69.5h1.1v1.1h-1.1zM52.6 71.8h1.1v1.1h-1.1zM50.9 76.7h1.1v1.1h-1.1zM48.7 71.4h1.1v1.1h-1.1zM43.7 73.8h1.1v1.1h-1.1zM48.5 73.5h1.1v1.1h-1.1zM37.6 70.6h1.1v1.1h-1.1zM47.5 64.4h1.1v1.1h-1.1zM42.9 76.2h1.1v1.1h-1.1zM44.7 69.2h1.1v1.1h-1.1zM42.8 67.8h1.1v1.1h-1.1zM52.6 68.6h1.1v1.1h-1.1zM45.9 72.5h1.1v1.1h-1.1zM41.5 65.4h1.1v1.1h-1.1zM36.6 71.1h1.1v1.1h-1.1zM35.5 73.2h1.1v1.1h-1.1zM35.8 68h1.1v1.1h-1.1zM35.8 71.1h1.1v1.1h-1.1zM51.9 76.5h1.1v1.1h-1.1zM35.8 76.1h1.1v1.1h-1.1zM49.2 67.5h1.1v1.1h-1.1zM37.8 67.9h1.1v1.1h-1.1zM47.7 62.7h1.1v1.1h-1.1zM46.5 75.8h1.1v1.1h-1.1zM38.1 67.9h1.1v1.1h-1.1zM52 75.9h1.1v1.1h-1.1zM49.3 72.2h1.1v1.1h-1.1zM52.6 69.3h1.1v1.1h-1.1zM34.4 74.1h1.1v1.1h-1.1zM37 65.2h1.1v1.1h-1.1zM32.1 67.4h1.1v1.1h-1.1zM46.9 66.6h1.1v1.1h-1.1zM48.7 67.2h1.1v1.1h-1.1zM45.6 63.3h1.1v1.1h-1.1zM39.3 77.2h1.1v1.1h-1.1zM45.8 74.6h1.1v1.1h-1.1zM36.7 69h1.1v1.1h-1.1zM40.6 73.8h1.1v1.1h-1.1zM40.4 76.2h1.1v1.1h-1.1zM41.8 71.7h1.1v1.1h-1.1zM34 73.7h1.1v1.1h-1.1zM42.8 71.1h1.1v1.1h-1.1zM50 69.8h1.1v1.1h-1.1zM43 72.6h1.1v1.1h-1.1zM32.7 66.9h1.1v1.1h-1.1zM43.2 76.8h1.1v1.1h-1.1zM52.5 69.7h1.1v1.1h-1.1zM50 78.2h1.1v1.1h-1.1zM42 78h1.1v1.1h-1.1zM33.6 64.2h1.1v1.1h-1.1zM34.9 68.5h1.1v1.1h-1.1zM51.7 68h1.1v1.1h-1.1zM50.2 74.8h1.1v1.1h-1.1zM34 62.8h1.1v1.1h-1.1zM32.5 73.6h1.1v1.1h-1.1zM43.5 64.9h1.1v1.1h-1.1zM53.7 77.2h1.1v1.1h-1.1zM45.7 66.1h1.1v1.1h-1.1zM46.8 73.7h1.1v1.1h-1.1zM34 71.3h1.1v1.1h-1.1zM38.8 67.8h1.1v1.1h-1.1zM49.1 70.2h1.1v1.1h-1.1zM52.7 74.5h1.1v1.1h-1.1zM43.7 77h1.1v1.1h-1.1zM33 71.4h1.1v1.1h-1.1zM35.8 64.4h1.1v1.1h-1.1zM49.7 70.9h1.1v1.1h-1.1zM42.2 71.9h1.1v1.1h-1.1zM45.8 72.3h1.1v1.1h-1.1zM49.9 63.1h1.1v1.1h-1.1zM41.6 70.5h1.1v1.1h-1.1zM37.2 74.6h1.1v1.1h-1.1zM40.3 69.2h1.1v1.1h-1.1zM33.6 69.2h1.1v1.1h-1.1zM32.8 71.4h1.1v1.1h-1.1zM53.1 77.3h1.1v1.1h-1.1zM43.2 68.9h1.1v1.1h-1.1zM53.7 63.8h1.1v1.1h-1.1zM36.9 75h1.1v1.1h-1.1zM45.4 70.9h1.1v1.1h-1.1zM34.9 65.4h1.1v1.1h-1.1zM34.8 64.5h1.1v1.1h-1.1zM51.8 71.5h1.1v1.1h-1.1zM45.5 69.3h1.1v1.1h-1.1zM43.6 69.3h1.1v1.1h-1.1zM43.7 77.8h1.1v1.1h-1.1zM50.2 69.4h1.1v1.1h-1.1zM33.2 70.3h1.1v1.1h-1.1zM50.9 71.6h1.1v1.1h-1.1zM32.9 76.3h1.1v1.1h-1.1zM46.3 69.9h1.1v1.1h-1.1zM40.2 74.6h1.1v1.1h-1.1zM48.7 75.4h1.1v1.1h-1.1zM37.4 70.8h1.1v1.1h-1.1zM45.7 66.3h1.1v1.1h-1.1zM45.1 68.2h1.1v1.1h-1.1zM51.9 70.4h1.1v1.1h-1.1zM35.7 68.7h1.1v1.1h-1.1zM48.7 67.7h1.1v1.1h-1.1zM43.9 65h1.1v1.1h-1.1zM49.6 74.3h1.1v1.1h-1.1zM44.5 63.2h1.1v1.1h-1.1zM45.4 67.2h1.1v1.1h-1.1zM50.3 75h1.1v1.1h-1.1zM47.3 68.1h1.1v1.1h-1.1zM49.5 73.6h1.1v1.1h-1.1zM33.8 75.1h1.1v1.1h-1.1zM52 72.2h1.1v1.1h-1.1zM49.9 75.9h1.1v1.1h-1.1zM40.8 76.5h1.1v1.1h-1.1zM42.5 66.2h1.1v1.1h-1.1zM39.3 76.1h1.1v1.1h-1.1zM52.4 63.5h1.1v1.1h-1.1zM33.3 71.8h1.1v1.1h-1.1zM48 66.9h1.1v1.1h-1.1zM42.7 74.3h1.1v1.1h-1.1zM48.9 77.2h1.1v1.1h-1.1zM50.6 66.7h1.1v1.1h-1.1zM53.2 78h1.1v1.1h-1.1zM38.4 65.9h1.1v1.1h-1.1zM34.8 70.5h1.1v1.1h-1.1zM32.4 73.6h1.1v1.1h-1.1zM53.2 67.4h1.1v1.1h-1.1zM48.3 70.2h1.1v1.1h-1.1zM50.2 65.8h1.1v1.1h-1.1zM45.2 70.9h1.1v1.1h-1.1zM32.9 72.4h1.1v1.1h-1.1zM42.5 68h1.1v1.1h-1.1zM50 70.3h1.1v1.1h-1.1zM35.7 76.1h1.1v1.1h-1.1zM39.8 73.5h1.1v1.1h-1.1zM33.6 67.2h1.1v1.1h-1.1zM53.3 70.2h1.1v1.1h-1.1zM36.8 76.9h1.1v1.1h-1.1zM32.5 66.3h1.1v1.1h-1.1zM36.2 73.4h1.1v1.1h-1.1zM36.7 69.2h1.1v1.1h-1.1zM48.6 72.4h1.1v1.1h-1.1zM48.6 67.7h1.1v1.1h-1.1zM45 63.6h1.1v1.1h-1.1zM46.6 71.7h1.1v1.1h-1.1zM46.6 65.6h1.1v1.1h-1.1zM39 66.9h1.1v1.1h-1.1zM37.3 67h1.1v1.1h-1.1zM36.1 72.7h1.1v1.1h-1.1zM45.5 75.1h1.1v1.1h-1.1z"/>
<rect x="30.6" y="31.3" width="76.8" height="48.6" fill="none" stroke="#000" stroke-width="1.1"/>
<line x1="30.6" y1="62" x2="107.4" y2="62" stroke="#000" stroke-width="1.3"/>
<line x1="55.4" y1="31.3" x2="55.4" y2="79.9" stroke="#000" stroke-width="1.3"/>
<line x1="28.2" y1="31.3" x2="30.6" y2="31.3" stroke="#000" stroke-width="1.3"/>
<line x1="28.2" y1="34.3" x2="30.6" y2="34.3" stroke="#000" stroke-width="1.3"/>
<line x1="28.2" y1="37.4" x2="30.6" y2="37.4" stroke="#000" stroke-width="1.3"/>
<line x1="28.2" y1="40.4" x2="30.6" y2="40.4" stroke="#000" stroke-width="1.3"/>
<line x1="28.2" y1="43.5" x2="30.6" y2="43.5" stroke="#000" stroke-width="1.3"/>
<line x1="28.2" y1="46.5" x2="30.6" y2="46.5" stroke="#000" stroke-width="1.3"/>
<line x1="28.2" y1="49.5" x2="30.6" y2="49.5" stroke="#000" stroke-width="1.3"/>
<line x1="28.2" y1="52.6" x2="30.6" y2="52.6" stroke="#000" stroke-width="1.3"/>
<line x1="28.2" y1="55.6" x2="30.6" y2="55.6" stroke="#000" stroke-width="1.3"/>
<line x1="28.2" y1="58.6" x2="30.6" y2="58.6" stroke="#000" stroke-width="1.3"/>
<line x1="28.2" y1="61.7" x2="30.6" y2="61.7" stroke="#000" stroke-width="1.3"/>
<line x1="28.2" y1="64.7" x2="30.6" y2="64.7" stroke="#000" stroke-width="1.3"/>
<line x1="28.2" y1="67.8" x2="30.6" y2="67.8" stroke="#000" stroke-width="1.3"/>
<line x1="28.2" y1="70.8" x2="30.6" y2="70.8" stroke="#000" stroke-width="1.3"/>
<line x1="28.2" y1="73.8" x2="30.6" y2="73.8" stroke="#000" stroke-width="1.3"/>
<line x1="28.2" y1="76.9" x2="30.6" y2="76.9" stroke="#000" stroke-width="1.3"/>
<line x1="28.2" y1="79.9" x2="30.6" y2="79.9" stroke="#000" stroke-width="1.3"/>
<line x1="30.6" y1="79.9" x2="30.6" y2="82.3" stroke="#000" stroke-width="1.3"/>
<line x1="33.6" y1="79.9" x2="33.6" y2="82.3" stroke="#000" stroke-width="1.3"/>
<line x1="36.5" y1="79.9" x2="36.5" y2="82.3" stroke="#000" stroke-width="1.3"/>
<line x1="39.5" y1="79.9" x2="39.5" y2="82.3" stroke="#000" stroke-width="1.3"/>
<line x1="42.4" y1="79.9" x2="42.4" y2="82.3" stroke="#000" stroke-width="1.3"/>
<line x1="45.4" y1="79.9" x2="45.4" y2="82.3" stroke="#000" stroke-width="1.3"/>
<line x1="48.3" y1="79.9" x2="48.3" y2="82.3" stroke="#000" stroke-width="1.3"/>
<line x1="51.3" y1="79.9" x2="51.3" y2="82.3" stroke="#000" stroke-width="1.3"/>
<line x1="54.2" y1="79.9" x2="54.2" y2="82.3" stroke="#000" stroke-width="1.3"/>
<line x1="57.2" y1="79.9" x2="57.2" y2="82.3" stroke="#000" stroke-width="1.3"/>
<line x1="60.1" y1="79.9" x2="60.1" y2="82.3" stroke="#000" stroke-width="1.3"/>
<line x1="63.1" y1="79.9" x2="63.1" y2="82.3" stroke="#000" stroke-width="1.3"/>
<line x1="66" y1="79.9" x2="66" y2="82.3" stroke="#000" stroke-width="1.3"/>
<line x1="69" y1="79.9" x2="69" y2="82.3" stroke="#000" stroke-width="1.3"/>
<line x1="72" y1="79.9" x2="72" y2="82.3" stroke="#000" stroke-width="1.3"/>
<line x1="74.9" y1="79.9" x2="74.9" y2="82.3" stroke="#000" stroke-width="1.3"/>
<line x1="77.9" y1="79.9" x2="77.9" y2="82.3" stroke="#000" stroke-width="1.3"/>
<line x1="80.8" y1="79.9" x2="80.8" y2="82.3" stroke="#000" stroke-width="1.3"/>
<line x1="83.8" y1="79.9" x2="83.8" y2="82.3" stroke="#000" stroke-width="1.3"/>
<line x1="86.7" y1="79.9" x2="86.7" y2="82.3" stroke="#000" stroke-width="1.3"/>
<line x1="89.7" y1="79.9" x2="89.7" y2="82.3" stroke="#000" stroke-width="1.3"/>
<line x1="92.6" y1="79.9" x2="92.6" y2="82.3" stroke="#000" stroke-width="1.3"/>
<line x1="95.6" y1="79.9" x2="95.6" y2="82.3" stroke="#000" stroke-width="1.3"/>
<line x1="98.5" y1="79.9" x2="98.5" y2="82.3" stroke="#000" stroke-width="1.3"/>
<line x1="101.5" y1="79.9" x2="101.5" y2="82.3" stroke="#000" stroke-width="1.3"/>
<line x1="104.4" y1="79.9" x2="104.4" y2="82.3" stroke="#000" stroke-width="1.3"/>
<line x1="107.4" y1="79.9" x2="107.4" y2="82.3" stroke="#000" stroke-width="1.3"/>
<text x="24.9" y="38.7" font-size="6.6" font-weight="bold" text-anchor="end" letter-spacing="0.7">10<tspan font-size="4.49" dy="-2.1" letter-spacing="0">3</tspan></text>
<text x="24.9" y="55.4" font-size="6.6" font-weight="bold" text-anchor="end" letter-spacing="0.7">10<tspan font-size="4.49" dy="-2.1" letter-spacing="0">2</tspan></text>
<text x="24.9" y="70.4" font-size="6.6" font-weight="bold" text-anchor="end" letter-spacing="0.7">10<tspan font-size="4.49" dy="-2.1" letter-spacing="0">1</tspan></text>
<text x="24.9" y="85.8" font-size="6.6" font-weight="bold" text-anchor="end" letter-spacing="0.7">10<tspan font-size="4.49" dy="-2.1" letter-spacing="0">0</tspan></text>
<text x="30.6" y="92.5" font-size="6.6" font-weight="bold" text-anchor="middle" letter-spacing="0.7">10<tspan font-size="4.49" dy="-2.1" letter-spacing="0">0</tspan></text>
<text x="56.2" y="92.5" font-size="6.6" font-weight="bold" text-anchor="middle" letter-spacing="0.7">10<tspan font-size="4.49" dy="-2.1" letter-spacing="0">1</tspan></text>
<text x="81.8" y="92.5" font-size="6.6" font-weight="bold" text-anchor="middle" letter-spacing="0.7">10<tspan font-size="4.49" dy="-2.1" letter-spacing="0">2</tspan></text>
<text x="107.4" y="92.5" font-size="6.6" font-weight="bold" text-anchor="middle" letter-spacing="0.7">10<tspan font-size="4.49" dy="-2.1" letter-spacing="0">3</tspan></text>
<path fill="#e41010" d="M150.1 35h1.0v1.0h-1.0zM145.6 35.5h1.0v1.0h-1.0zM143 35.9h1.0v1.0h-1.0zM142.8 38.8h1.0v1.0h-1.0zM157.3 38.8h1.0v1.0h-1.0zM152.1 42.7h1.0v1.0h-1.0zM148.6 49.6h1.0v1.0h-1.0zM154.6 40.4h1.0v1.0h-1.0zM145.8 35.8h1.0v1.0h-1.0zM148.2 47.8h1.0v1.0h-1.0zM143.6 47.6h1.0v1.0h-1.0zM153.8 39.6h1.0v1.0h-1.0zM148 39.9h1.0v1.0h-1.0zM148.2 39.1h1.0v1.0h-1.0zM147.8 35.7h1.0v1.0h-1.0zM150.2 48.5h1.0v1.0h-1.0zM145.1 40.1h1.0v1.0h-1.0zM147.7 36.5h1.0v1.0h-1.0zM146.8 40h1.0v1.0h-1.0zM146.4 47.4h1.0v1.0h-1.0zM144.7 37h1.0v1.0h-1.0zM146.4 36.7h1.0v1.0h-1.0zM144.6 44.3h1.0v1.0h-1.0zM152.3 42.6h1.0v1.0h-1.0zM152.3 47.2h1.0v1.0h-1.0zM155.7 45.6h1.0v1.0h-1.0zM148.9 41.8h1.0v1.0h-1.0zM146.9 46h1.0v1.0h-1.0zM145.2 50.3h1.0v1.0h-1.0zM152.3 38.5h1.0v1.0h-1.0zM142 38.6h1.0v1.0h-1.0zM163.7 36.1h1.0v1.0h-1.0zM153.2 40.4h1.0v1.0h-1.0zM145 43h1.0v1.0h-1.0zM160.2 41.4h1.0v1.0h-1.0zM146.6 40.8h1.0v1.0h-1.0zM151.5 37.7h1.0v1.0h-1.0zM147.8 42.4h1.0v1.0h-1.0zM144.6 41.9h1.0v1.0h-1.0zM149.3 43.4h1.0v1.0h-1.0zM144.1 45.7h1.0v1.0h-1.0zM156.7 47.8h1.0v1.0h-1.0zM144.5 38.6h1.0v1.0h-1.0zM160 35.3h1.0v1.0h-1.0zM157.6 41.6h1.0v1.0h-1.0zM147.6 46.2h1.0v1.0h-1.0zM150.3 36h1.0v1.0h-1.0zM150.5 46.6h1.0v1.0h-1.0zM151.2 47.3h1.0v1.0h-1.0zM152.4 41h1.0v1.0h-1.0zM149.9 41.9h1.0v1.0h-1.0zM142.7 39.5h1.0v1.0h-1.0zM147.9 37.8h1.0v1.0h-1.0zM150.4 42.5h1.0v1.0h-1.0zM152.8 38.1h1.0v1.0h-1.0zM150.6 37.9h1.0v1.0h-1.0zM157.1 46.5h1.0v1.0h-1.0zM144.4 38.6h1.0v1.0h-1.0zM150.1 39.4h1.0v1.0h-1.0zM142.6 46.9h1.0v1.0h-1.0zM162.7 43.1h1.0v1.0h-1.0zM144.2 46h1.0v1.0h-1.0zM155 40.9h1.0v1.0h-1.0zM159.2 44.7h1.0v1.0h-1.0zM143.8 35.3h1.0v1.0h-1.0zM163.7 38.1h1.0v1.0h-1.0zM149.8 39.4h1.0v1.0h-1.0zM146 39.4h1.0v1.0h-1.0zM153.7 37.5h1.0v1.0h-1.0zM146.7 41.2h1.0v1.0h-1.0zM151.9 38.2h1.0v1.0h-1.0zM150.7 40.7h1.0v1.0h-1.0zM158.5 39.7h1.0v1.0h-1.0zM148 42.7h1.0v1.0h-1.0zM155.3 35.6h1.0v1.0h-1.0zM143.8 38.7h1.0v1.0h-1.0zM154.3 40.1h1.0v1.0h-1.0zM160.8 47.6h1.0v1.0h-1.0zM157.4 42h1.0v1.0h-1.0zM152.1 44.7h1.0v1.0h-1.0zM148.2 37.5h1.0v1.0h-1.0zM152.2 36.3h1.0v1.0h-1.0zM146.5 43.7h1.0v1.0h-1.0zM151.9 39.8h1.0v1.0h-1.0zM153.2 40.5h1.0v1.0h-1.0zM145.6 42.4h1.0v1.0h-1.0zM145.4 40.7h1.0v1.0h-1.0zM154.1 37.3h1.0v1.0h-1.0zM143.4 47.7h1.0v1.0h-1.0zM149.4 46.1h1.0v1.0h-1.0zM150.2 44h1.0v1.0h-1.0zM150.5 39.7h1.0v1.0h-1.0zM147.8 42.3h1.0v1.0h-1.0zM155.9 36.6h1.0v1.0h-1.0zM143.7 38.8h1.0v1.0h-1.0zM142.5 43.8h1.0v1.0h-1.0zM150 39.6h1.0v1.0h-1.0zM158.1 40.8h1.0v1.0h-1.0zM147.1 40.9h1.0v1.0h-1.0zM145.2 45.5h1.0v1.0h-1.0zM145.9 41.6h1.0v1.0h-1.0zM147.3 43.8h1.0v1.0h-1.0zM148.3 48.9h1.0v1.0h-1.0zM154.1 44.4h1.0v1.0h-1.0zM158 39.3h1.0v1.0h-1.0zM143.2 40.7h1.0v1.0h-1.0zM157.5 43h1.0v1.0h-1.0zM158.6 43.8h1.0v1.0h-1.0zM143 35.1h1.0v1.0h-1.0zM144.6 38.5h1.0v1.0h-1.0zM147 51.5h1.0v1.0h-1.0zM146.6 37.5h1.0v1.0h-1.0zM147.8 44.5h1.0v1.0h-1.0zM151.6 47.3h1.0v1.0h-1.0zM153 38.7h1.0v1.0h-1.0zM144.3 38.5h1.0v1.0h-1.0zM142.9 36.5h1.0v1.0h-1.0zM150.5 40.5h1.0v1.0h-1.0zM143 38.9h1.0v1.0h-1.0zM143.6 46.5h1.0v1.0h-1.0zM153.8 36.5h1.0v1.0h-1.0zM146.7 46.6h1.0v1.0h-1.0zM145 48.6h1.0v1.0h-1.0zM150 43.2h1.0v1.0h-1.0zM149.3 42.8h1.0v1.0h-1.0zM150.3 42.6h1.0v1.0h-1.0zM143.5 44.4h1.0v1.0h-1.0zM147.4 34.9h1.0v1.0h-1.0zM146.9 53.8h1.0v1.0h-1.0zM142.9 42.7h1.0v1.0h-1.0zM156.6 47.8h1.0v1.0h-1.0zM148.2 43h1.0v1.0h-1.0zM141.5 46.5h1.0v1.0h-1.0zM146.5 39.9h1.0v1.0h-1.0zM145.2 34.8h1.0v1.0h-1.0zM151.9 41.6h1.0v1.0h-1.0zM150.1 49h1.0v1.0h-1.0zM147.1 44.1h1.0v1.0h-1.0zM145.8 44.5h1.0v1.0h-1.0zM145 38h1.0v1.0h-1.0zM151 40.8h1.0v1.0h-1.0zM146.6 46.1h1.0v1.0h-1.0zM142.3 41.6h1.0v1.0h-1.0zM158.6 39h1.0v1.0h-1.0zM145.8 41.3h1.0v1.0h-1.0zM152.3 39.6h1.0v1.0h-1.0zM149 38h1.0v1.0h-1.0zM143.2 36.1h1.0v1.0h-1.0zM151.5 37.3h1.0v1.0h-1.0zM150.8 42h1.0v1.0h-1.0zM145.9 43.9h1.0v1.0h-1.0zM156.3 41.9h1.0v1.0h-1.0zM144.4 42.6h1.0v1.0h-1.0zM147.1 43h1.0v1.0h-1.0zM142.6 39.8h1.0v1.0h-1.0zM149.4 38.3h1.0v1.0h-1.0zM149.4 43.3h1.0v1.0h-1.0zM153.2 36.5h1.0v1.0h-1.0zM159.7 42.5h1.0v1.0h-1.0zM153.1 40.5h1.0v1.0h-1.0zM152.9 45.3h1.0v1.0h-1.0zM147.7 37.4h1.0v1.0h-1.0zM143.2 49.4h1.0v1.0h-1.0zM145.7 37.8h1.0v1.0h-1.0zM143.6 41.6h1.0v1.0h-1.0zM143.7 36.3h1.0v1.0h-1.0zM149.8 42.2h1.0v1.0h-1.0zM144 41.5h1.0v1.0h-1.0zM147.9 38h1.0v1.0h-1.0zM151 42.6h1.0v1.0h-1.0zM158.7 45.9h1.0v1.0h-1.0zM143.9 44.6h1.0v1.0h-1.0zM143.9 39.5h1.0v1.0h-1.0zM145.4 42.6h1.0v1.0h-1.0zM142.6 43.3h1.0v1.0h-1.0zM154.5 47.8h1.0v1.0h-1.0zM143.7 43.7h1.0v1.0h-1.0zM151.8 36.9h1.0v1.0h-1.0zM144.5 35.2h1.0v1.0h-1.0zM144.8 50.3h1.0v1.0h-1.0zM148.9 35.9h1.0v1.0h-1.0zM151 41.7h1.0v1.0h-1.0zM148.9 39.7h1.0v1.0h-1.0zM160.3 46h1.0v1.0h-1.0zM150.1 41.6h1.0v1.0h-1.0zM149.1 39.3h1.0v1.0h-1.0zM152.1 40.2h1.0v1.0h-1.0zM147.7 37.2h1.0v1.0h-1.0zM151.8 45.1h1.0v1.0h-1.0zM156.4 35.2h1.0v1.0h-1.0zM143.9 52.5h1.0v1.0h-1.0zM143.2 47.6h1.0v1.0h-1.0zM143.9 35h1.0v1.0h-1.0zM161.9 40.5h1.0v1.0h-1.0zM149.3 37.7h1.0v1.0h-1.0zM150 35.7h1.0v1.0h-1.0zM157.1 39.7h1.0v1.0h-1.0zM150.4 40.7h1.0v1.0h-1.0zM155.1 43h1.0v1.0h-1.0zM144.6 43.5h1.0v1.0h-1.0zM144.3 40.7h1.0v1.0h-1.0zM158.2 34.8h1.0v1.0h-1.0zM143.6 46.3h1.0v1.0h-1.0zM157.8 37.8h1.0v1.0h-1.0zM148.3 38.2h1.0v1.0h-1.0zM151.6 43.2h1.0v1.0h-1.0zM152.1 43.7h1.0v1.0h-1.0zM160.2 39.2h1.0v1.0h-1.0zM151.8 39.1h1.0v1.0h-1.0zM147.3 41.1h1.0v1.0h-1.0zM146.6 41.7h1.0v1.0h-1.0zM142.2 37.6h1.0v1.0h-1.0zM154.6 41.4h1.0v1.0h-1.0zM143.7 37.9h1.0v1.0h-1.0zM142.7 40.2h1.0v1.0h-1.0zM145.5 48.1h1.0v1.0h-1.0zM150.4 39.8h1.0v1.0h-1.0zM153.5 40.2h1.0v1.0h-1.0zM157.3 46.2h1.0v1.0h-1.0zM144.1 43.7h1.0v1.0h-1.0zM155.2 51.6h1.0v1.0h-1.0zM155.1 42.4h1.0v1.0h-1.0zM150 39.1h1.0v1.0h-1.0zM147 41.1h1.0v1.0h-1.0zM152.2 38.7h1.0v1.0h-1.0zM160.5 36.6h1.0v1.0h-1.0zM146.5 49.3h1.0v1.0h-1.0zM154.2 40.6h1.0v1.0h-1.0zM152 38.7h1.0v1.0h-1.0zM147.9 47.8h1.0v1.0h-1.0zM145.2 38.2h1.0v1.0h-1.0zM149.4 39.1h1.0v1.0h-1.0zM144.9 35.6h1.0v1.0h-1.0zM148.7 41.6h1.0v1.0h-1.0zM159.6 39.9h1.0v1.0h-1.0zM162.7 37.8h1.0v1.0h-1.0zM141.5 39.2h1.0v1.0h-1.0zM151 35.7h1.0v1.0h-1.0zM151.4 49.4h1.0v1.0h-1.0zM155.6 41h1.0v1.0h-1.0zM143.5 38.7h1.0v1.0h-1.0zM153.6 37.5h1.0v1.0h-1.0zM149.9 44.7h1.0v1.0h-1.0zM150.1 40h1.0v1.0h-1.0zM146.1 37.4h1.0v1.0h-1.0zM146.6 49.1h1.0v1.0h-1.0zM147.3 40.5h1.0v1.0h-1.0zM146.1 40.7h1.0v1.0h-1.0zM142.3 41.5h1.0v1.0h-1.0zM147.7 41.9h1.0v1.0h-1.0zM145.9 37.8h1.0v1.0h-1.0zM148.3 45.3h1.0v1.0h-1.0zM153.2 39.6h1.0v1.0h-1.0zM143.8 45.2h1.0v1.0h-1.0zM150.7 44.3h1.0v1.0h-1.0zM145.1 35.8h1.0v1.0h-1.0zM148.3 36.9h1.0v1.0h-1.0zM154.9 44.2h1.0v1.0h-1.0zM156.2 45.1h1.0v1.0h-1.0zM143.7 35.8h1.0v1.0h-1.0zM153.7 45h1.0v1.0h-1.0zM150.1 45.1h1.0v1.0h-1.0zM155.9 39.8h1.0v1.0h-1.0zM144.6 43.1h1.0v1.0h-1.0zM147.1 47.7h1.0v1.0h-1.0zM154 40h1.0v1.0h-1.0zM154 38h1.0v1.0h-1.0zM148.9 44.4h1.0v1.0h-1.0zM149.6 39.8h1.0v1.0h-1.0zM144.2 45.3h1.0v1.0h-1.0zM156.4 36.8h1.0v1.0h-1.0zM149.7 40h1.0v1.0h-1.0zM154.2 41.2h1.0v1.0h-1.0zM155.4 41h1.0v1.0h-1.0zM143.8 37.5h1.0v1.0h-1.0zM151.5 35.9h1.0v1.0h-1.0zM153.4 38.8h1.0v1.0h-1.0zM146 48.7h1.0v1.0h-1.0zM152.3 40.1h1.0v1.0h-1.0zM145.1 40h1.0v1.0h-1.0zM144.1 46.5h1.0v1.0h-1.0zM148.2 37.8h1.0v1.0h-1.0zM148.3 35.1h1.0v1.0h-1.0zM148.2 41h1.0v1.0h-1.0zM142.9 36.8h1.0v1.0h-1.0zM145.3 51.2h1.0v1.0h-1.0zM145.6 39.8h1.0v1.0h-1.0zM143.5 43.9h1.0v1.0h-1.0zM154.3 40.1h1.0v1.0h-1.0zM155.6 45.2h1.0v1.0h-1.0zM147.9 37.5h1.0v1.0h-1.0zM150.1 40.2h1.0v1.0h-1.0zM141.9 39.6h1.0v1.0h-1.0zM149.2 38h1.0v1.0h-1.0zM146.8 40.3h1.0v1.0h-1.0zM154.2 39.4h1.0v1.0h-1.0zM149.8 39.5h1.0v1.0h-1.0zM147 36.4h1.0v1.0h-1.0zM144.1 44.1h1.0v1.0h-1.0zM149.5 39.9h1.0v1.0h-1.0zM143.6 41h1.0v1.0h-1.0zM155.2 39.9h1.0v1.0h-1.0zM147.7 35.5h1.0v1.0h-1.0zM142.1 49h1.0v1.0h-1.0zM149.8 41h1.0v1.0h-1.0zM145.7 42.4h1.0v1.0h-1.0zM157.6 42.4h1.0v1.0h-1.0zM150.1 47.7h1.0v1.0h-1.0zM148.3 46.4h1.0v1.0h-1.0zM142.6 42.4h1.0v1.0h-1.0zM155.3 48h1.0v1.0h-1.0zM149.6 43.5h1.0v1.0h-1.0zM144.6 39.9h1.0v1.0h-1.0zM144.2 45.9h1.0v1.0h-1.0zM146.8 40.1h1.0v1.0h-1.0zM159.3 38.9h1.0v1.0h-1.0zM149.4 41.7h1.0v1.0h-1.0zM148.8 47.2h1.0v1.0h-1.0zM148 40.7h1.0v1.0h-1.0zM146.2 40h1.0v1.0h-1.0zM146.6 44.9h1.0v1.0h-1.0zM147.1 40.3h1.0v1.0h-1.0zM146.7 43.7h1.0v1.0h-1.0zM143.7 44.6h1.0v1.0h-1.0zM143.1 43.4h1.0v1.0h-1.0zM160.2 41.1h1.0v1.0h-1.0zM152.1 40.1h1.0v1.0h-1.0zM153.3 36.8h1.0v1.0h-1.0zM150.6 48.9h1.0v1.0h-1.0zM149.8 38.4h1.0v1.0h-1.0zM151.5 42.9h1.0v1.0h-1.0zM145.1 41.3h1.0v1.0h-1.0zM160.3 41h1.0v1.0h-1.0zM157.6 43.9h1.0v1.0h-1.0zM150 44.1h1.0v1.0h-1.0zM151.3 49.4h1.0v1.0h-1.0zM146.4 46.5h1.0v1.0h-1.0zM144.6 36.8h1.0v1.0h-1.0zM144.6 41.6h1.0v1.0h-1.0zM148.3 36.9h1.0v1.0h-1.0zM150.7 43h1.0v1.0h-1.0zM147.1 36.6h1.0v1.0h-1.0zM142.8 39.3h1.0v1.0h-1.0zM147.2 42.8h1.0v1.0h-1.0zM152.8 42.2h1.0v1.0h-1.0zM154.7 35.2h1.0v1.0h-1.0zM151.2 41.8h1.0v1.0h-1.0zM150.1 40.4h1.0v1.0h-1.0zM157.5 44.2h1.0v1.0h-1.0zM147.6 46.7h1.0v1.0h-1.0zM153.6 38.3h1.0v1.0h-1.0zM147.3 36.5h1.0v1.0h-1.0zM148.4 48.7h1.0v1.0h-1.0zM149 47.7h1.0v1.0h-1.0zM148.7 36.3h1.0v1.0h-1.0zM143 34.9h1.0v1.0h-1.0zM154.1 38h1.0v1.0h-1.0zM146 40.9h1.0v1.0h-1.0zM145.8 42.2h1.0v1.0h-1.0zM144.3 40.2h1.0v1.0h-1.0zM150.6 44.8h1.0v1.0h-1.0zM142.2 44.8h1.0v1.0h-1.0zM147.9 40.7h1.0v1.0h-1.0zM145.7 44.6h1.0v1.0h-1.0zM142.1 47.5h1.0v1.0h-1.0zM150.7 40.1h1.0v1.0h-1.0zM148.8 44.6h1.0v1.0h-1.0zM154.4 38.8h1.0v1.0h-1.0zM150 36h1.0v1.0h-1.0zM164.2 42.8h1.0v1.0h-1.0zM157.6 43.4h1.0v1.0h-1.0zM143.7 50.9h1.0v1.0h-1.0zM143.2 42.9h1.0v1.0h-1.0zM150.9 37.8h1.0v1.0h-1.0zM145.9 45.7h1.0v1.0h-1.0zM150.4 39.7h1.0v1.0h-1.0zM150.1 48.6h1.0v1.0h-1.0zM153.4 42.4h1.0v1.0h-1.0zM147.9 37.6h1.0v1.0h-1.0zM152.1 37h1.0v1.0h-1.0zM150.1 34.8h1.0v1.0h-1.0zM153.2 36.4h1.0v1.0h-1.0zM146.8 42.9h1.0v1.0h-1.0zM144.8 40h1.0v1.0h-1.0zM154.3 48.7h1.0v1.0h-1.0zM151.7 44.6h1.0v1.0h-1.0zM143.7 40.5h1.0v1.0h-1.0zM145.7 51.2h1.0v1.0h-1.0zM156 38.1h1.0v1.0h-1.0zM160.5 43.2h1.0v1.0h-1.0zM149.6 43.2h1.0v1.0h-1.0zM152.5 44.5h1.0v1.0h-1.0zM143.2 40.5h1.0v1.0h-1.0zM142.2 48.8h1.0v1.0h-1.0zM161.7 35.8h1.0v1.0h-1.0zM149.6 39.8h1.0v1.0h-1.0zM146.5 48.2h1.0v1.0h-1.0zM150.2 38.5h1.0v1.0h-1.0zM152.9 36.5h1.0v1.0h-1.0zM153.1 43.4h1.0v1.0h-1.0zM149.2 43.7h1.0v1.0h-1.0zM148.1 39.9h1.0v1.0h-1.0zM144.6 38.6h1.0v1.0h-1.0zM151.4 38.4h1.0v1.0h-1.0zM150.6 37.5h1.0v1.0h-1.0zM149.8 40.6h1.0v1.0h-1.0zM153.2 42.3h1.0v1.0h-1.0zM153.5 39.2h1.0v1.0h-1.0zM146.6 38.7h1.0v1.0h-1.0zM154.5 43.8h1.0v1.0h-1.0zM149.4 41.6h1.0v1.0h-1.0zM152.2 41.3h1.0v1.0h-1.0zM160.7 38.1h1.0v1.0h-1.0zM155.8 46.2h1.0v1.0h-1.0zM156.5 39.8h1.0v1.0h-1.0zM150.6 42.4h1.0v1.0h-1.0zM153.6 45h1.0v1.0h-1.0zM148 40h1.0v1.0h-1.0zM152.4 39.3h1.0v1.0h-1.0zM145.7 50h1.0v1.0h-1.0zM156.5 45.7h1.0v1.0h-1.0zM154.2 36.1h1.0v1.0h-1.0zM146.4 39.7h1.0v1.0h-1.0zM150.7 42.3h1.0v1.0h-1.0zM145.4 38.3h1.0v1.0h-1.0zM151.2 42.4h1.0v1.0h-1.0zM142.5 38.2h1.0v1.0h-1.0zM141.9 43.9h1.0v1.0h-1.0zM144.1 37.6h1.0v1.0h-1.0zM141.6 37.8h1.0v1.0h-1.0zM155.3 40.8h1.0v1.0h-1.0zM143.3 46.2h1.0v1.0h-1.0zM150.4 34.9h1.0v1.0h-1.0zM143 37h1.0v1.0h-1.0zM146.7 46h1.0v1.0h-1.0zM142.1 39.3h1.0v1.0h-1.0zM143.7 43h1.0v1.0h-1.0zM151.9 38.6h1.0v1.0h-1.0zM155.9 43.1h1.0v1.0h-1.0zM160.6 41.5h1.0v1.0h-1.0zM144.3 35.9h1.0v1.0h-1.0zM150.6 44h1.0v1.0h-1.0zM144.2 38.8h1.0v1.0h-1.0zM148.1 43.8h1.0v1.0h-1.0zM156.8 41.4h1.0v1.0h-1.0zM145.5 45.5h1.0v1.0h-1.0zM154.5 37.8h1.0v1.0h-1.0zM153.5 40.1h1.0v1.0h-1.0zM150.2 46.6h1.0v1.0h-1.0zM157.6 36.3h1.0v1.0h-1.0zM148.5 40.7h1.0v1.0h-1.0zM142.3 35.2h1.0v1.0h-1.0zM154.5 41.2h1.0v1.0h-1.0zM150.5 40.7h1.0v1.0h-1.0zM154.3 36.5h1.0v1.0h-1.0zM152.6 46.7h1.0v1.0h-1.0zM159.5 35.4h1.0v1.0h-1.0zM153.7 42.9h1.0v1.0h-1.0zM149.4 35.8h1.0v1.0h-1.0zM155.7 47.9h1.0v1.0h-1.0zM146.8 39.4h1.0v1.0h-1.0zM155.2 42.5h1.0v1.0h-1.0zM156.3 38h1.0v1.0h-1.0zM149.4 38.3h1.0v1.0h-1.0zM143.1 38.5h1.0v1.0h-1.0zM145 42.5h1.0v1.0h-1.0zM144.9 40.3h1.0v1.0h-1.0zM156.9 35.2h1.0v1.0h-1.0zM159.6 44.6h1.0v1.0h-1.0zM144.1 40.1h1.0v1.0h-1.0zM145.8 37h1.0v1.0h-1.0zM155.7 39.4h1.0v1.0h-1.0zM153.7 36.6h1.0v1.0h-1.0zM142.2 46.5h1.0v1.0h-1.0zM145.8 45.2h1.0v1.0h-1.0zM145.9 36.5h1.0v1.0h-1.0zM151.4 44.8h1.0v1.0h-1.0zM145.6 38.4h1.0v1.0h-1.0zM144.5 53.2h1.0v1.0h-1.0zM145.7 48.5h1.0v1.0h-1.0zM146 42h1.0v1.0h-1.0zM147.4 38.5h1.0v1.0h-1.0zM142.6 39.6h1.0v1.0h-1.0zM145.8 37.5h1.0v1.0h-1.0zM142 49.1h1.0v1.0h-1.0zM153.5 40.6h1.0v1.0h-1.0zM155.5 36h1.0v1.0h-1.0zM154.5 48.2h1.0v1.0h-1.0zM144.4 48.8h1.0v1.0h-1.0zM146.7 36.1h1.0v1.0h-1.0zM146.8 45.1h1.0v1.0h-1.0zM145.2 41.5h1.0v1.0h-1.0zM148.9 38.7h1.0v1.0h-1.0zM146.7 43.5h1.0v1.0h-1.0zM143.9 36h1.0v1.0h-1.0zM160.9 35.9h1.0v1.0h-1.0zM152.5 39.3h1.0v1.0h-1.0zM143.7 39.8h1.0v1.0h-1.0zM145.3 41.5h1.0v1.0h-1.0zM147.5 35.3h1.0v1.0h-1.0zM144.3 51.4h1.0v1.0h-1.0zM159.8 43.1h1.0v1.0h-1.0zM148.6 38.5h1.0v1.0h-1.0zM156.6 37.8h1.0v1.0h-1.0zM146.6 40.6h1.0v1.0h-1.0zM145.5 38.4h1.0v1.0h-1.0zM160.3 44.9h1.0v1.0h-1.0zM141.8 44.3h1.0v1.0h-1.0zM151.5 39.5h1.0v1.0h-1.0zM145.4 38.7h1.0v1.0h-1.0zM153.5 47.1h1.0v1.0h-1.0zM159.8 38.2h1.0v1.0h-1.0zM149.8 44.1h1.0v1.0h-1.0zM148.1 35.9h1.0v1.0h-1.0zM149.4 39.9h1.0v1.0h-1.0zM152.8 41.7h1.0v1.0h-1.0zM162.2 45.7h1.0v1.0h-1.0zM142.6 43.8h1.0v1.0h-1.0zM152.3 35.1h1.0v1.0h-1.0zM141.9 36.1h1.0v1.0h-1.0zM145.5 46h1.0v1.0h-1.0zM143.2 40.4h1.0v1.0h-1.0zM152 44.7h1.0v1.0h-1.0zM149.2 34.9h1.0v1.0h-1.0zM162.3 44.2h1.0v1.0h-1.0zM156.4 47.9h1.0v1.0h-1.0zM156.7 42h1.0v1.0h-1.0zM150.3 43.1h1.0v1.0h-1.0zM143.7 52.1h1.0v1.0h-1.0zM148.4 42.5h1.0v1.0h-1.0zM146.6 38.6h1.0v1.0h-1.0zM144 35.7h1.0v1.0h-1.0zM152.3 38.1h1.0v1.0h-1.0zM143.5 35.5h1.0v1.0h-1.0zM145.5 36h1.0v1.0h-1.0zM144.3 40.9h1.0v1.0h-1.0zM150 41.8h1.0v1.0h-1.0zM148.8 42.9h1.0v1.0h-1.0zM143.6 36.1h1.0v1.0h-1.0zM151.3 38h1.0v1.0h-1.0zM147.1 43.2h1.0v1.0h-1.0zM153.5 46h1.0v1.0h-1.0zM142.3 38.2h1.0v1.0h-1.0zM142.8 35.5h1.0v1.0h-1.0zM152.6 42.6h1.0v1.0h-1.0zM153.4 38.4h1.0v1.0h-1.0zM145.1 38.4h1.0v1.0h-1.0zM142.3 43.5h1.0v1.0h-1.0zM141.7 39.7h1.0v1.0h-1.0zM147.9 42.5h1.0v1.0h-1.0zM164.3 36.5h1.0v1.0h-1.0zM147.8 39.1h1.0v1.0h-1.0zM160.1 49.9h1.0v1.0h-1.0zM153.8 35.1h1.0v1.0h-1.0zM141.5 36.3h1.0v1.0h-1.0zM143.5 41.3h1.0v1.0h-1.0zM141.6 38.8h1.0v1.0h-1.0zM157.2 47h1.0v1.0h-1.0zM144.5 46.3h1.0v1.0h-1.0zM144.8 49.3h1.0v1.0h-1.0zM149.6 47h1.0v1.0h-1.0zM154.1 42.8h1.0v1.0h-1.0zM148.3 43.1h1.0v1.0h-1.0zM142.7 48.5h1.0v1.0h-1.0zM148.1 47h1.0v1.0h-1.0zM149.8 40.4h1.0v1.0h-1.0zM153 43.7h1.0v1.0h-1.0zM153.5 38.2h1.0v1.0h-1.0zM144.9 39.9h1.0v1.0h-1.0zM153.8 35.6h1.0v1.0h-1.0zM143.7 43.4h1.0v1.0h-1.0zM153.3 50.7h1.0v1.0h-1.0zM150.7 35.9h1.0v1.0h-1.0zM147.6 41.2h1.0v1.0h-1.0zM146.6 37h1.0v1.0h-1.0zM145.8 39.6h1.0v1.0h-1.0zM151.2 40.4h1.0v1.0h-1.0zM157.3 39.6h1.0v1.0h-1.0zM145.9 39.9h1.0v1.0h-1.0zM154.8 38.5h1.0v1.0h-1.0zM148.3 38.9h1.0v1.0h-1.0zM151.1 35.1h1.0v1.0h-1.0zM148.5 45h1.0v1.0h-1.0zM155.2 43h1.0v1.0h-1.0zM149.1 47.6h1.0v1.0h-1.0zM151.9 46.8h1.0v1.0h-1.0zM152.6 38.7h1.0v1.0h-1.0zM144.1 35.4h1.0v1.0h-1.0zM145.9 50.9h1.0v1.0h-1.0zM163.8 37.6h1.0v1.0h-1.0zM142.1 34.9h1.0v1.0h-1.0zM148.2 39.1h1.0v1.0h-1.0zM154.8 40.5h1.0v1.0h-1.0zM158 45.5h1.0v1.0h-1.0zM159.3 45.4h1.0v1.0h-1.0zM147.6 42.6h1.0v1.0h-1.0zM145.7 37.7h1.0v1.0h-1.0zM145.1 41.8h1.0v1.0h-1.0zM154.3 43.4h1.0v1.0h-1.0zM151.7 47.6h1.0v1.0h-1.0zM149.8 37.5h1.0v1.0h-1.0zM142.7 45.2h1.0v1.0h-1.0zM142.5 49.5h1.0v1.0h-1.0zM148.3 45.7h1.0v1.0h-1.0zM145.2 35.4h1.0v1.0h-1.0zM142.7 35h1.0v1.0h-1.0zM144.9 46.1h1.0v1.0h-1.0zM151.6 39.1h1.0v1.0h-1.0zM151.4 41.3h1.0v1.0h-1.0zM154.8 48h1.0v1.0h-1.0zM145 39.8h1.0v1.0h-1.0zM145.9 45.9h1.0v1.0h-1.0zM149.7 43.8h1.0v1.0h-1.0zM153.3 36.9h1.0v1.0h-1.0zM148 46.7h1.0v1.0h-1.0zM153.4 43.9h1.0v1.0h-1.0zM145.2 38.3h1.0v1.0h-1.0zM155.1 36.3h1.0v1.0h-1.0zM148.8 42.9h1.0v1.0h-1.0zM153.7 42h1.0v1.0h-1.0zM145.4 45.5h1.0v1.0h-1.0zM153.2 35.4h1.0v1.0h-1.0zM145.3 46.8h1.0v1.0h-1.0zM153.6 48.3h1.0v1.0h-1.0zM150.2 43.7h1.0v1.0h-1.0zM164 42.9h1.0v1.0h-1.0zM147.6 41.3h1.0v1.0h-1.0zM147.3 37h1.0v1.0h-1.0zM147 39.4h1.0v1.0h-1.0zM151.7 43.3h1.0v1.0h-1.0zM153.8 42.9h1.0v1.0h-1.0zM149.4 37.5h1.0v1.0h-1.0zM150 43.9h1.0v1.0h-1.0zM147.9 43.2h1.0v1.0h-1.0zM142.3 37.1h1.0v1.0h-1.0zM148.4 38.1h1.0v1.0h-1.0zM151.8 35.1h1.0v1.0h-1.0zM143.5 37.3h1.0v1.0h-1.0zM144.6 35.2h1.0v1.0h-1.0zM150.8 43.3h1.0v1.0h-1.0zM147 39.1h1.0v1.0h-1.0zM145.6 35.6h1.0v1.0h-1.0zM147 38.1h1.0v1.0h-1.0zM141.6 39.8h1.0v1.0h-1.0zM142.4 37.9h1.0v1.0h-1.0zM148.4 43.5h1.0v1.0h-1.0zM152.3 37.1h1.0v1.0h-1.0zM145.9 46.3h1.0v1.0h-1.0zM163.2 40.6h1.0v1.0h-1.0zM144.7 38.2h1.0v1.0h-1.0zM144.2 36.4h1.0v1.0h-1.0zM155.2 36.3h1.0v1.0h-1.0zM158.6 44.1h1.0v1.0h-1.0zM151.5 37.2h1.0v1.0h-1.0zM149 38.7h1.0v1.0h-1.0zM149.7 36.8h1.0v1.0h-1.0zM155.8 38.3h1.0v1.0h-1.0zM142.1 39.8h1.0v1.0h-1.0zM146.1 49.6h1.0v1.0h-1.0zM154.6 40.2h1.0v1.0h-1.0zM151.7 39.4h1.0v1.0h-1.0zM144.2 40.4h1.0v1.0h-1.0zM146.6 49.3h1.0v1.0h-1.0zM159.3 41.8h1.0v1.0h-1.0zM146.3 51.6h1.0v1.0h-1.0zM141.7 43.9h1.0v1.0h-1.0zM155.4 38.1h1.0v1.0h-1.0zM145.6 37.8h1.0v1.0h-1.0zM152.5 40.1h1.0v1.0h-1.0zM157.3 45.7h1.0v1.0h-1.0zM147 52.6h1.0v1.0h-1.0zM145 37.1h1.0v1.0h-1.0zM145.5 35.8h1.0v1.0h-1.0zM144.3 39.7h1.0v1.0h-1.0zM145 42.2h1.0v1.0h-1.0zM141.8 47.3h1.0v1.0h-1.0zM143.5 39h1.0v1.0h-1.0zM147.5 45.7h1.0v1.0h-1.0zM149.1 40.1h1.0v1.0h-1.0zM143.4 40.8h1.0v1.0h-1.0zM149.8 38.3h1.0v1.0h-1.0zM143.5 45.7h1.0v1.0h-1.0zM156.7 39.7h1.0v1.0h-1.0zM145.9 52.4h1.0v1.0h-1.0zM144.3 44.9h1.0v1.0h-1.0zM142.9 46.7h1.0v1.0h-1.0zM154.9 34.9h1.0v1.0h-1.0zM155.8 53.9h1.0v1.0h-1.0zM149 38.1h1.0v1.0h-1.0zM154.4 42.2h1.0v1.0h-1.0zM145.9 46.8h1.0v1.0h-1.0zM151.4 37.4h1.0v1.0h-1.0zM146.3 43.2h1.0v1.0h-1.0zM157.4 46.3h1.0v1.0h-1.0zM150.2 38.7h1.0v1.0h-1.0zM152.9 39.8h1.0v1.0h-1.0zM151.8 41.5h1.0v1.0h-1.0zM145.8 40h1.0v1.0h-1.0zM146.8 45.7h1.0v1.0h-1.0zM145.3 37.4h1.0v1.0h-1.0zM151.5 43.1h1.0v1.0h-1.0zM150 41.4h1.0v1.0h-1.0zM157 45.4h1.0v1.0h-1.0zM148.5 39h1.0v1.0h-1.0zM143.6 36.6h1.0v1.0h-1.0zM148.2 38.1h1.0v1.0h-1.0zM163.7 43.6h1.0v1.0h-1.0zM149.8 50.9h1.0v1.0h-1.0zM147.1 38.5h1.0v1.0h-1.0zM155.4 44h1.0v1.0h-1.0zM153.3 45.9h1.0v1.0h-1.0zM144.6 36.8h1.0v1.0h-1.0zM142.2 40.5h1.0v1.0h-1.0zM153.8 34.9h1.0v1.0h-1.0zM160.5 43.9h1.0v1.0h-1.0zM145.5 45.9h1.0v1.0h-1.0zM147.2 40.5h1.0v1.0h-1.0zM146.1 36.6h1.0v1.0h-1.0zM153.2 35.9h1.0v1.0h-1.0zM151 42.6h1.0v1.0h-1.0zM144.5 44.3h1.0v1.0h-1.0zM158.4 39.9h1.0v1.0h-1.0zM150.7 38.7h1.0v1.0h-1.0zM149 35.9h1.0v1.0h-1.0zM154.8 47.1h1.0v1.0h-1.0zM147.4 36.9h1.0v1.0h-1.0zM146.4 40.4h1.0v1.0h-1.0zM148.9 44.3h1.0v1.0h-1.0zM150.5 45.1h1.0v1.0h-1.0zM153.9 45.4h1.0v1.0h-1.0zM142.5 42h1.0v1.0h-1.0zM144.6 35.9h1.0v1.0h-1.0zM160.2 41.4h1.0v1.0h-1.0zM145.5 43.8h1.0v1.0h-1.0zM145.7 37.3h1.0v1.0h-1.0zM157 38.5h1.0v1.0h-1.0zM144.8 39.5h1.0v1.0h-1.0zM145.5 45.1h1.0v1.0h-1.0zM150.9 39.7h1.0v1.0h-1.0zM144.6 38.9h1.0v1.0h-1.0zM158.4 38.5h1.0v1.0h-1.0zM149.2 43.4h1.0v1.0h-1.0zM155.6 41.5h1.0v1.0h-1.0zM150.9 41.6h1.0v1.0h-1.0zM154.2 50h1.0v1.0h-1.0zM148.4 36h1.0v1.0h-1.0zM151.1 39.5h1.0v1.0h-1.0zM151.4 43.8h1.0v1.0h-1.0zM148.1 37.9h1.0v1.0h-1.0zM148.9 35.7h1.0v1.0h-1.0zM150.1 40.6h1.0v1.0h-1.0zM147.4 36.7h1.0v1.0h-1.0zM146.1 43.4h1.0v1.0h-1.0zM153.3 46.6h1.0v1.0h-1.0zM154.6 41.4h1.0v1.0h-1.0zM146.5 48.5h1.0v1.0h-1.0zM147.7 41.4h1.0v1.0h-1.0zM160.3 40.6h1.0v1.0h-1.0zM152.3 37.2h1.0v1.0h-1.0zM156.1 36.7h1.0v1.0h-1.0zM145.2 40.1h1.0v1.0h-1.0zM143.4 44.3h1.0v1.0h-1.0zM148.1 44.3h1.0v1.0h-1.0zM152.9 44.3h1.0v1.0h-1.0zM143.8 42h1.0v1.0h-1.0zM156.3 38.3h1.0v1.0h-1.0zM143.3 36.2h1.0v1.0h-1.0zM153.9 44.2h1.0v1.0h-1.0zM162.6 52.5h1.0v1.0h-1.0zM148.1 42h1.0v1.0h-1.0zM144.3 36.7h1.0v1.0h-1.0zM157.2 44.6h1.0v1.0h-1.0zM156.8 40.6h1.0v1.0h-1.0zM144.3 39.6h1.0v1.0h-1.0zM148.9 38.5h1.0v1.0h-1.0zM158 47.1h1.0v1.0h-1.0zM152.9 38.3h1.0v1.0h-1.0zM148 42.7h1.0v1.0h-1.0zM148.4 45.1h1.0v1.0h-1.0zM154.3 40h1.0v1.0h-1.0zM150.7 40.4h1.0v1.0h-1.0zM148.2 37.7h1.0v1.0h-1.0zM144.4 45.8h1.0v1.0h-1.0zM145.3 39.8h1.0v1.0h-1.0zM155.1 44.8h1.0v1.0h-1.0zM144.5 41.2h1.0v1.0h-1.0zM149.2 40h1.0v1.0h-1.0zM148.2 41.8h1.0v1.0h-1.0zM147.6 37.6h1.0v1.0h-1.0zM157.9 38.9h1.0v1.0h-1.0zM142.7 37.7h1.0v1.0h-1.0zM153.2 42.8h1.0v1.0h-1.0zM154 39.6h1.0v1.0h-1.0zM150 46.6h1.0v1.0h-1.0zM151.6 40.3h1.0v1.0h-1.0zM150 44.2h1.0v1.0h-1.0zM146.9 39h1.0v1.0h-1.0zM149.2 38.5h1.0v1.0h-1.0zM163.3 36.3h1.0v1.0h-1.0zM154.1 38h1.0v1.0h-1.0zM148.2 39h1.0v1.0h-1.0zM147.7 37.2h1.0v1.0h-1.0zM154.4 43h1.0v1.0h-1.0zM150.9 45.8h1.0v1.0h-1.0zM152.2 39.3h1.0v1.0h-1.0zM143.5 35.2h1.0v1.0h-1.0zM149 41.4h1.0v1.0h-1.0zM146.2 43h1.0v1.0h-1.0zM152.4 37.2h1.0v1.0h-1.0zM153.4 35.5h1.0v1.0h-1.0zM147.4 46.4h1.0v1.0h-1.0zM142 48.7h1.0v1.0h-1.0zM156.6 41.9h1.0v1.0h-1.0zM143.1 44.4h1.0v1.0h-1.0zM153.6 39.8h1.0v1.0h-1.0zM163.9 36.7h1.0v1.0h-1.0zM151 48.3h1.0v1.0h-1.0zM155.6 36.7h1.0v1.0h-1.0zM152.3 44.1h1.0v1.0h-1.0zM151.1 41.2h1.0v1.0h-1.0zM153.8 39.4h1.0v1.0h-1.0zM151.9 44h1.0v1.0h-1.0zM155.9 42.5h1.0v1.0h-1.0zM147.7 43.5h1.0v1.0h-1.0zM158.1 40.7h1.0v1.0h-1.0zM146.1 40.4h1.0v1.0h-1.0zM141.9 44.9h1.0v1.0h-1.0zM148.9 37.9h1.0v1.0h-1.0zM147.2 40.8h1.0v1.0h-1.0zM162.6 36.8h1.0v1.0h-1.0zM156.3 45.1h1.0v1.0h-1.0zM142.8 39.6h1.0v1.0h-1.0zM148.5 39h1.0v1.0h-1.0zM149.8 45.3h1.0v1.0h-1.0zM150.8 39.9h1.0v1.0h-1.0zM145.7 48.8h1.0v1.0h-1.0zM152.1 40.4h1.0v1.0h-1.0zM142 49h1.0v1.0h-1.0zM155.4 44.5h1.0v1.0h-1.0zM147.8 38.5h1.0v1.0h-1.0zM142.1 40.4h1.0v1.0h-1.0zM150.8 42.6h1.0v1.0h-1.0zM150.9 43h1.0v1.0h-1.0zM161.6 44.6h1.0v1.0h-1.0zM148.4 43.7h1.0v1.0h-1.0zM150.5 46.6h1.0v1.0h-1.0zM142.9 46.8h1.0v1.0h-1.0zM149.1 39.5h1.0v1.0h-1.0zM143.2 40.2h1.0v1.0h-1.0zM155.9 38.3h1.0v1.0h-1.0zM152.7 39.3h1.0v1.0h-1.0zM162.1 41.6h1.0v1.0h-1.0zM161.7 43.1h1.0v1.0h-1.0zM149.7 34.9h1.0v1.0h-1.0zM150.6 50.6h1.0v1.0h-1.0zM149.6 37.1h1.0v1.0h-1.0zM158.2 55.1h1.0v1.0h-1.0zM149.3 54h1.0v1.0h-1.0zM158.9 38.2h1.0v1.0h-1.0zM142.3 50.5h1.0v1.0h-1.0zM145.8 60.5h1.0v1.0h-1.0zM150.2 48.1h1.0v1.0h-1.0zM148.5 39.2h1.0v1.0h-1.0zM162.6 62.3h1.0v1.0h-1.0zM143.4 49.9h1.0v1.0h-1.0zM142.1 54.7h1.0v1.0h-1.0zM142.6 45.7h1.0v1.0h-1.0zM161.8 51.7h1.0v1.0h-1.0zM154.7 47.5h1.0v1.0h-1.0zM161.4 48.3h1.0v1.0h-1.0zM143.6 46.1h1.0v1.0h-1.0zM149.2 46.9h1.0v1.0h-1.0zM152.6 44.8h1.0v1.0h-1.0zM144 38.1h1.0v1.0h-1.0zM162.4 58.2h1.0v1.0h-1.0zM150.3 38h1.0v1.0h-1.0zM160.5 51h1.0v1.0h-1.0zM143.3 57.3h1.0v1.0h-1.0zM149.2 38.2h1.0v1.0h-1.0zM142.5 55h1.0v1.0h-1.0zM149.1 54.3h1.0v1.0h-1.0zM148.2 48.1h1.0v1.0h-1.0zM156.7 48.2h1.0v1.0h-1.0zM143.2 58.1h1.0v1.0h-1.0zM154.8 56.2h1.0v1.0h-1.0zM148.5 58.5h1.0v1.0h-1.0zM145.9 36.9h1.0v1.0h-1.0zM161.4 53.6h1.0v1.0h-1.0zM157.7 43.8h1.0v1.0h-1.0zM153.8 41.7h1.0v1.0h-1.0zM149.4 46.2h1.0v1.0h-1.0zM154.4 38.3h1.0v1.0h-1.0zM145.5 51.7h1.0v1.0h-1.0zM145.5 35.2h1.0v1.0h-1.0zM156.7 49.4h1.0v1.0h-1.0zM156.7 43.9h1.0v1.0h-1.0zM146.8 58.4h1.0v1.0h-1.0zM154.7 46.5h1.0v1.0h-1.0zM150.9 52.4h1.0v1.0h-1.0zM143.1 49.5h1.0v1.0h-1.0zM151.9 47.9h1.0v1.0h-1.0zM155.9 52h1.0v1.0h-1.0zM156.4 54.1h1.0v1.0h-1.0zM158.3 56.1h1.0v1.0h-1.0zM153.5 51.2h1.0v1.0h-1.0zM161.4 39h1.0v1.0h-1.0zM150.3 43.7h1.0v1.0h-1.0zM148.6 45.7h1.0v1.0h-1.0zM149.7 47.6h1.0v1.0h-1.0zM143.8 41.1h1.0v1.0h-1.0zM142.2 61.5h1.0v1.0h-1.0zM158.4 45.3h1.0v1.0h-1.0zM144.6 60.4h1.0v1.0h-1.0zM160.1 45.9h1.0v1.0h-1.0zM155.6 39.8h1.0v1.0h-1.0zM161 47.5h1.0v1.0h-1.0zM149.9 47.2h1.0v1.0h-1.0zM157.7 46.7h1.0v1.0h-1.0zM151.5 46.3h1.0v1.0h-1.0zM143.7 35.1h1.0v1.0h-1.0zM146.1 47.3h1.0v1.0h-1.0zM153.5 37.1h1.0v1.0h-1.0zM142.1 60.4h1.0v1.0h-1.0zM143.9 52.7h1.0v1.0h-1.0zM161 49.4h1.0v1.0h-1.0zM153 45.6h1.0v1.0h-1.0zM159.1 39.6h1.0v1.0h-1.0zM146 49.1h1.0v1.0h-1.0zM148.9 40.8h1.0v1.0h-1.0zM143.1 54.9h1.0v1.0h-1.0zM154.7 43.9h1.0v1.0h-1.0zM151.2 38.3h1.0v1.0h-1.0zM149.5 39.4h1.0v1.0h-1.0zM146.2 39.2h1.0v1.0h-1.0zM152.1 36.7h1.0v1.0h-1.0zM149.8 47.9h1.0v1.0h-1.0zM158.7 40.3h1.0v1.0h-1.0zM156.9 41.4h1.0v1.0h-1.0zM158.9 46.3h1.0v1.0h-1.0zM143.9 54.1h1.0v1.0h-1.0zM144.5 53.1h1.0v1.0h-1.0zM152.9 35.8h1.0v1.0h-1.0zM145.2 41.1h1.0v1.0h-1.0zM142.2 54.2h1.0v1.0h-1.0zM151.3 53.7h1.0v1.0h-1.0zM157.7 36.7h1.0v1.0h-1.0zM150.3 47.7h1.0v1.0h-1.0zM142.7 56.2h1.0v1.0h-1.0zM154.5 57.3h1.0v1.0h-1.0zM146.8 53.3h1.0v1.0h-1.0zM149.5 38.5h1.0v1.0h-1.0zM148.4 48.6h1.0v1.0h-1.0zM156.3 37.5h1.0v1.0h-1.0zM143.1 40.9h1.0v1.0h-1.0zM149 46.3h1.0v1.0h-1.0zM143.4 40.5h1.0v1.0h-1.0zM161.7 59.8h1.0v1.0h-1.0zM147.5 53.4h1.0v1.0h-1.0zM154.2 48h1.0v1.0h-1.0zM148.8 58h1.0v1.0h-1.0zM155.1 45h1.0v1.0h-1.0zM147.9 55.4h1.0v1.0h-1.0zM144.6 40.5h1.0v1.0h-1.0zM147.5 42.5h1.0v1.0h-1.0zM161.4 50.2h1.0v1.0h-1.0zM149.2 42.2h1.0v1.0h-1.0zM162.8 51h1.0v1.0h-1.0zM148.1 42h1.0v1.0h-1.0zM147.4 48.6h1.0v1.0h-1.0zM157.1 51.4h1.0v1.0h-1.0zM144.1 38.2h1.0v1.0h-1.0zM147.1 55.7h1.0v1.0h-1.0zM144.6 54.9h1.0v1.0h-1.0zM145 50.6h1.0v1.0h-1.0zM153.9 56.5h1.0v1.0h-1.0zM147.5 58.6h1.0v1.0h-1.0zM150.6 42.6h1.0v1.0h-1.0zM144.2 47.5h1.0v1.0h-1.0zM141.8 36.2h1.0v1.0h-1.0zM151.2 53.4h1.0v1.0h-1.0zM147.4 54.6h1.0v1.0h-1.0zM152.3 38.3h1.0v1.0h-1.0zM144.2 48.6h1.0v1.0h-1.0zM157.6 51.9h1.0v1.0h-1.0zM155.8 63.4h1.0v1.0h-1.0zM146.7 56.9h1.0v1.0h-1.0zM163.1 51.4h1.0v1.0h-1.0zM149.5 53.8h1.0v1.0h-1.0zM147.7 45.4h1.0v1.0h-1.0zM163.3 41.4h1.0v1.0h-1.0zM160.1 52.3h1.0v1.0h-1.0zM150.7 42.5h1.0v1.0h-1.0zM161.1 55h1.0v1.0h-1.0zM155.5 41.3h1.0v1.0h-1.0zM149.8 57.7h1.0v1.0h-1.0zM145 48.7h1.0v1.0h-1.0zM157 37.9h1.0v1.0h-1.0zM157.6 49.8h1.0v1.0h-1.0zM156.6 58h1.0v1.0h-1.0zM150.4 49.1h1.0v1.0h-1.0zM153.7 51.2h1.0v1.0h-1.0zM148.6 47.3h1.0v1.0h-1.0zM143.2 45.8h1.0v1.0h-1.0zM152.6 48.7h1.0v1.0h-1.0zM155.3 54.4h1.0v1.0h-1.0zM155 55.7h1.0v1.0h-1.0zM157.6 59.6h1.0v1.0h-1.0zM155.7 41.4h1.0v1.0h-1.0zM161.3 53.6h1.0v1.0h-1.0zM150.4 36.7h1.0v1.0h-1.0zM153.9 43.8h1.0v1.0h-1.0zM164 36.5h1.0v1.0h-1.0zM155.1 39.8h1.0v1.0h-1.0zM149.9 49.3h1.0v1.0h-1.0zM151.4 51.7h1.0v1.0h-1.0zM157 43.7h1.0v1.0h-1.0zM146.5 38.1h1.0v1.0h-1.0zM156.8 52.3h1.0v1.0h-1.0zM149.6 49.8h1.0v1.0h-1.0zM152.9 44.9h1.0v1.0h-1.0zM152.9 35.2h1.0v1.0h-1.0zM146.4 63.7h1.0v1.0h-1.0zM157.9 43.3h1.0v1.0h-1.0zM148.9 45.4h1.0v1.0h-1.0zM151.4 50.8h1.0v1.0h-1.0zM160.3 51.6h1.0v1.0h-1.0zM163.7 57.8h1.0v1.0h-1.0zM149 37.5h1.0v1.0h-1.0zM153.9 55.7h1.0v1.0h-1.0zM156.2 42h1.0v1.0h-1.0zM163.2 48.9h1.0v1.0h-1.0zM145 35h1.0v1.0h-1.0zM148 43.5h1.0v1.0h-1.0zM156.3 58.2h1.0v1.0h-1.0zM148.1 57.2h1.0v1.0h-1.0zM148.1 35.5h1.0v1.0h-1.0zM150 35.7h1.0v1.0h-1.0zM156.1 48.7h1.0v1.0h-1.0zM147.4 43.4h1.0v1.0h-1.0zM144.8 40.5h1.0v1.0h-1.0zM147.2 44.7h1.0v1.0h-1.0zM152.2 45.4h1.0v1.0h-1.0zM159.8 55.9h1.0v1.0h-1.0zM155 61.2h1.0v1.0h-1.0zM147.9 42h1.0v1.0h-1.0zM153.2 37.3h1.0v1.0h-1.0zM148.7 43.5h1.0v1.0h-1.0zM146.4 51.1h1.0v1.0h-1.0zM145.2 48.3h1.0v1.0h-1.0zM145.9 47.7h1.0v1.0h-1.0zM149.1 40.8h1.0v1.0h-1.0zM153.9 45.3h1.0v1.0h-1.0zM154 59h1.0v1.0h-1.0zM154.1 56.4h1.0v1.0h-1.0zM156.4 36.3h1.0v1.0h-1.0zM150.3 55.1h1.0v1.0h-1.0zM152.2 45h1.0v1.0h-1.0zM149.4 47.3h1.0v1.0h-1.0zM163.6 57.7h1.0v1.0h-1.0zM142.8 49.1h1.0v1.0h-1.0zM147.2 47.9h1.0v1.0h-1.0zM150.4 41h1.0v1.0h-1.0zM148.5 50.3h1.0v1.0h-1.0zM145.5 56.9h1.0v1.0h-1.0zM150.2 36.3h1.0v1.0h-1.0zM147.6 45.9h1.0v1.0h-1.0zM158.9 57.1h1.0v1.0h-1.0zM163.2 61.1h1.0v1.0h-1.0zM152.9 48h1.0v1.0h-1.0zM159.2 46.8h1.0v1.0h-1.0zM156 52.5h1.0v1.0h-1.0zM154.2 56.1h1.0v1.0h-1.0zM154.8 44.2h1.0v1.0h-1.0zM142.8 57.1h1.0v1.0h-1.0zM152 46.9h1.0v1.0h-1.0zM146.4 37.7h1.0v1.0h-1.0zM160 53.9h1.0v1.0h-1.0zM143.8 60.8h1.0v1.0h-1.0zM147.9 37.9h1.0v1.0h-1.0zM158.8 59.5h1.0v1.0h-1.0zM146.5 36h1.0v1.0h-1.0zM150.5 60.8h1.0v1.0h-1.0zM152.5 40.4h1.0v1.0h-1.0zM156.4 42.5h1.0v1.0h-1.0zM161.4 43.8h1.0v1.0h-1.0zM151.7 38.5h1.0v1.0h-1.0zM153.2 38.2h1.0v1.0h-1.0zM155.1 43.3h1.0v1.0h-1.0zM145 46.3h1.0v1.0h-1.0zM153.6 53.6h1.0v1.0h-1.0zM161.2 50.4h1.0v1.0h-1.0zM143.4 40.8h1.0v1.0h-1.0zM153.3 36.2h1.0v1.0h-1.0zM148.5 43.5h1.0v1.0h-1.0zM149.1 48.6h1.0v1.0h-1.0zM159.4 61.8h1.0v1.0h-1.0zM158 56.1h1.0v1.0h-1.0zM150.6 39.8h1.0v1.0h-1.0zM144.8 56.7h1.0v1.0h-1.0zM152.3 43.6h1.0v1.0h-1.0zM160.4 38.5h1.0v1.0h-1.0zM142.3 41.9h1.0v1.0h-1.0zM143.2 53.2h1.0v1.0h-1.0zM147.9 37.5h1.0v1.0h-1.0zM151.5 47.9h1.0v1.0h-1.0zM155.5 44.9h1.0v1.0h-1.0zM153.6 38.6h1.0v1.0h-1.0zM150.2 48.4h1.0v1.0h-1.0zM151.3 47.5h1.0v1.0h-1.0zM150 40.1h1.0v1.0h-1.0zM142.3 52.3h1.0v1.0h-1.0zM148.1 39.9h1.0v1.0h-1.0zM143.5 55.4h1.0v1.0h-1.0zM150.8 56.5h1.0v1.0h-1.0zM149.8 36.3h1.0v1.0h-1.0zM157.8 49.9h1.0v1.0h-1.0zM144.1 44.2h1.0v1.0h-1.0zM146.2 51.3h1.0v1.0h-1.0zM152.3 44.7h1.0v1.0h-1.0zM153.3 44.8h1.0v1.0h-1.0zM155.9 41.7h1.0v1.0h-1.0zM155.6 49.2h1.0v1.0h-1.0zM158.8 38.6h1.0v1.0h-1.0zM150.2 38.1h1.0v1.0h-1.0zM143.8 59.3h1.0v1.0h-1.0zM154.4 54h1.0v1.0h-1.0zM159.9 55.2h1.0v1.0h-1.0zM143.4 59.2h1.0v1.0h-1.0zM148.3 52.5h1.0v1.0h-1.0zM148.3 61.3h1.0v1.0h-1.0zM147.2 48.7h1.0v1.0h-1.0zM152.5 40.5h1.0v1.0h-1.0zM147.9 36.8h1.0v1.0h-1.0zM147.9 47.8h1.0v1.0h-1.0zM152.2 61.8h1.0v1.0h-1.0zM153.9 36.6h1.0v1.0h-1.0zM150.6 46.9h1.0v1.0h-1.0zM157 56.6h1.0v1.0h-1.0zM148.8 55.7h1.0v1.0h-1.0zM142.7 48.6h1.0v1.0h-1.0zM156.3 58.7h1.0v1.0h-1.0zM147.4 44.4h1.0v1.0h-1.0zM154.2 46.3h1.0v1.0h-1.0zM151.2 54.2h1.0v1.0h-1.0zM143.1 54.9h1.0v1.0h-1.0zM153.4 44.6h1.0v1.0h-1.0zM149.6 55.4h1.0v1.0h-1.0zM151.7 36.9h1.0v1.0h-1.0zM157.7 50.6h1.0v1.0h-1.0zM153.9 38.2h1.0v1.0h-1.0zM186 46.2h1.0v1.0h-1.0zM170.1 41.3h1.0v1.0h-1.0zM171 51.4h1.0v1.0h-1.0zM185.7 39.8h1.0v1.0h-1.0zM181 44h1.0v1.0h-1.0zM178.4 39.7h1.0v1.0h-1.0zM169.3 40.6h1.0v1.0h-1.0zM180.2 41h1.0v1.0h-1.0zM184.4 41.7h1.0v1.0h-1.0zM186 40.1h1.0v1.0h-1.0zM177.8 37.1h1.0v1.0h-1.0zM168 41.8h1.0v1.0h-1.0zM179 36.5h1.0v1.0h-1.0zM166.9 39.9h1.0v1.0h-1.0zM173 36.7h1.0v1.0h-1.0zM180.3 36.2h1.0v1.0h-1.0zM184.4 39h1.0v1.0h-1.0zM192.1 47.6h1.0v1.0h-1.0zM178.5 37h1.0v1.0h-1.0zM182 44.8h1.0v1.0h-1.0zM171.9 52.2h1.0v1.0h-1.0zM180.2 40.3h1.0v1.0h-1.0zM173.2 44.6h1.0v1.0h-1.0zM177.7 38.2h1.0v1.0h-1.0zM169.7 44.5h1.0v1.0h-1.0zM172.3 44.1h1.0v1.0h-1.0zM174.5 42.9h1.0v1.0h-1.0zM167.1 50.1h1.0v1.0h-1.0zM176.4 43.7h1.0v1.0h-1.0zM170.7 46.7h1.0v1.0h-1.0zM170.3 48h1.0v1.0h-1.0zM189.8 46.1h1.0v1.0h-1.0zM169.4 53.8h1.0v1.0h-1.0zM185.1 45.2h1.0v1.0h-1.0zM180.4 37.2h1.0v1.0h-1.0zM177.4 37.3h1.0v1.0h-1.0zM171.2 43.3h1.0v1.0h-1.0zM180.1 49.2h1.0v1.0h-1.0zM167 37.2h1.0v1.0h-1.0zM171.1 45h1.0v1.0h-1.0zM170.3 40.5h1.0v1.0h-1.0zM171.2 41.1h1.0v1.0h-1.0zM188.4 42.4h1.0v1.0h-1.0zM176.4 41.3h1.0v1.0h-1.0zM170.2 38.3h1.0v1.0h-1.0zM170.8 40.6h1.0v1.0h-1.0zM179.1 40.7h1.0v1.0h-1.0zM176.3 41.8h1.0v1.0h-1.0zM181.5 49.6h1.0v1.0h-1.0zM172.6 50.4h1.0v1.0h-1.0zM176.9 53.2h1.0v1.0h-1.0zM174.1 45.4h1.0v1.0h-1.0zM168.4 42.8h1.0v1.0h-1.0zM169.3 36.6h1.0v1.0h-1.0zM188.8 39.4h1.0v1.0h-1.0zM186.5 47.5h1.0v1.0h-1.0zM180.5 41.2h1.0v1.0h-1.0zM187.7 55.4h1.0v1.0h-1.0zM182.7 43.4h1.0v1.0h-1.0zM178.5 49.8h1.0v1.0h-1.0zM173.7 39.6h1.0v1.0h-1.0zM178.8 43.2h1.0v1.0h-1.0zM168 55h1.0v1.0h-1.0zM173.6 53.6h1.0v1.0h-1.0zM170.5 50.1h1.0v1.0h-1.0zM177.2 42.4h1.0v1.0h-1.0zM182.6 45h1.0v1.0h-1.0zM171.2 36.5h1.0v1.0h-1.0zM168.8 39.7h1.0v1.0h-1.0zM169 45.3h1.0v1.0h-1.0zM169.4 47.5h1.0v1.0h-1.0zM169.1 41.7h1.0v1.0h-1.0zM176 38.2h1.0v1.0h-1.0zM168.8 50.3h1.0v1.0h-1.0zM180.5 43.4h1.0v1.0h-1.0zM167.6 46.2h1.0v1.0h-1.0zM189.1 44.9h1.0v1.0h-1.0zM171 41.9h1.0v1.0h-1.0zM183.2 50.8h1.0v1.0h-1.0zM191.5 47.1h1.0v1.0h-1.0zM178.5 39.2h1.0v1.0h-1.0zM173.4 37.4h1.0v1.0h-1.0zM171.9 36.8h1.0v1.0h-1.0zM171.4 37h1.0v1.0h-1.0zM182.3 48.7h1.0v1.0h-1.0zM178.7 42.1h1.0v1.0h-1.0zM173.2 39.5h1.0v1.0h-1.0zM170.2 39.2h1.0v1.0h-1.0zM190.8 46.3h1.0v1.0h-1.0zM167.5 51.1h1.0v1.0h-1.0zM171.7 40.2h1.0v1.0h-1.0zM178.6 45.9h1.0v1.0h-1.0zM180.3 50.5h1.0v1.0h-1.0zM167.6 40.5h1.0v1.0h-1.0zM169.3 41.2h1.0v1.0h-1.0zM184.4 42.7h1.0v1.0h-1.0zM185.1 39.8h1.0v1.0h-1.0zM175.6 53.5h1.0v1.0h-1.0zM169 40.2h1.0v1.0h-1.0zM193.4 41.2h1.0v1.0h-1.0zM181.2 43.8h1.0v1.0h-1.0zM174.7 48.2h1.0v1.0h-1.0zM166.4 44.2h1.0v1.0h-1.0zM173.3 53.7h1.0v1.0h-1.0zM185.7 45h1.0v1.0h-1.0zM171.4 50.8h1.0v1.0h-1.0zM172.4 45h1.0v1.0h-1.0zM178.3 39.7h1.0v1.0h-1.0zM178.5 48.8h1.0v1.0h-1.0zM185.2 36.1h1.0v1.0h-1.0zM172.4 46h1.0v1.0h-1.0zM181.9 50.3h1.0v1.0h-1.0zM170.3 39.9h1.0v1.0h-1.0zM183.1 52h1.0v1.0h-1.0zM179.2 53.9h1.0v1.0h-1.0zM172.8 37.6h1.0v1.0h-1.0zM181.9 51.1h1.0v1.0h-1.0zM166.7 47.5h1.0v1.0h-1.0zM180.8 52.7h1.0v1.0h-1.0zM166.7 45.4h1.0v1.0h-1.0zM176 41.5h1.0v1.0h-1.0zM172.8 47.5h1.0v1.0h-1.0zM194.3 46.6h1.0v1.0h-1.0zM178.5 46.6h1.0v1.0h-1.0zM177.6 40.4h1.0v1.0h-1.0zM187.4 37.4h1.0v1.0h-1.0zM176.8 42.4h1.0v1.0h-1.0zM169.2 48.2h1.0v1.0h-1.0zM184.2 45h1.0v1.0h-1.0zM171.2 52.5h1.0v1.0h-1.0zM180.2 53.3h1.0v1.0h-1.0zM179.3 39.5h1.0v1.0h-1.0zM180.9 49.7h1.0v1.0h-1.0zM170.7 46.7h1.0v1.0h-1.0zM168.8 36.6h1.0v1.0h-1.0zM171 48.5h1.0v1.0h-1.0zM174 50.6h1.0v1.0h-1.0zM176.8 44.8h1.0v1.0h-1.0zM167.1 45.7h1.0v1.0h-1.0zM187.2 52.1h1.0v1.0h-1.0zM184.1 40.6h1.0v1.0h-1.0zM177.9 37.3h1.0v1.0h-1.0zM166.6 45.4h1.0v1.0h-1.0zM170.7 44.8h1.0v1.0h-1.0zM173 39.7h1.0v1.0h-1.0zM187.8 45.5h1.0v1.0h-1.0zM179.1 54.9h1.0v1.0h-1.0zM167.1 42.7h1.0v1.0h-1.0zM176.1 58.8h1.0v1.0h-1.0zM177.3 45.2h1.0v1.0h-1.0zM172.9 45.8h1.0v1.0h-1.0zM178.1 40.7h1.0v1.0h-1.0zM167.4 36.7h1.0v1.0h-1.0zM167.3 56.9h1.0v1.0h-1.0zM171.7 49.1h1.0v1.0h-1.0zM177.5 52.7h1.0v1.0h-1.0zM168.7 38.6h1.0v1.0h-1.0zM181.9 49.4h1.0v1.0h-1.0zM171.7 43.7h1.0v1.0h-1.0zM189.7 47.1h1.0v1.0h-1.0zM174.9 42.1h1.0v1.0h-1.0zM173.8 50.2h1.0v1.0h-1.0zM176.3 39.5h1.0v1.0h-1.0zM176.2 43.3h1.0v1.0h-1.0zM174.8 42.8h1.0v1.0h-1.0zM178.6 41.3h1.0v1.0h-1.0zM174.3 49.8h1.0v1.0h-1.0zM173.7 36.2h1.0v1.0h-1.0zM181.3 40.8h1.0v1.0h-1.0zM168.9 56.1h1.0v1.0h-1.0zM170.5 56.7h1.0v1.0h-1.0zM176.2 36.6h1.0v1.0h-1.0zM171.8 44.3h1.0v1.0h-1.0zM185.8 51.6h1.0v1.0h-1.0zM167.6 57.8h1.0v1.0h-1.0zM187.5 38h1.0v1.0h-1.0zM168.4 39.6h1.0v1.0h-1.0zM177 46.4h1.0v1.0h-1.0zM171.5 47.9h1.0v1.0h-1.0zM176.4 56h1.0v1.0h-1.0zM171.5 44.3h1.0v1.0h-1.0zM184.6 44.4h1.0v1.0h-1.0zM184.5 45.4h1.0v1.0h-1.0zM183.1 45.1h1.0v1.0h-1.0zM176 55.2h1.0v1.0h-1.0zM190.1 42.1h1.0v1.0h-1.0zM175.5 47.7h1.0v1.0h-1.0zM181 43.7h1.0v1.0h-1.0zM181.9 44.1h1.0v1.0h-1.0zM175.2 42.1h1.0v1.0h-1.0zM176.7 39.5h1.0v1.0h-1.0zM184.7 42.7h1.0v1.0h-1.0zM167.5 38.7h1.0v1.0h-1.0zM170 38.5h1.0v1.0h-1.0zM172.5 46.7h1.0v1.0h-1.0zM170.3 48.9h1.0v1.0h-1.0zM184.1 42.8h1.0v1.0h-1.0zM168.2 47.1h1.0v1.0h-1.0zM173 46.5h1.0v1.0h-1.0zM171.4 45.7h1.0v1.0h-1.0zM184.6 50.6h1.0v1.0h-1.0zM169.8 41.2h1.0v1.0h-1.0zM171.8 38.2h1.0v1.0h-1.0zM172.4 45.6h1.0v1.0h-1.0zM177 43.7h1.0v1.0h-1.0zM171.8 57.9h1.0v1.0h-1.0zM181.8 45.9h1.0v1.0h-1.0zM170.2 46.3h1.0v1.0h-1.0zM172.2 44.6h1.0v1.0h-1.0zM170.3 52.3h1.0v1.0h-1.0zM175.6 42.3h1.0v1.0h-1.0zM169.6 56.5h1.0v1.0h-1.0zM175.1 44.9h1.0v1.0h-1.0zM174.8 52.1h1.0v1.0h-1.0zM183 46.5h1.0v1.0h-1.0zM172.3 43.6h1.0v1.0h-1.0zM169.6 50h1.0v1.0h-1.0zM167.4 38.2h1.0v1.0h-1.0zM168 50.6h1.0v1.0h-1.0zM190.1 42.2h1.0v1.0h-1.0zM176.5 49.6h1.0v1.0h-1.0zM171.6 50.9h1.0v1.0h-1.0zM167.8 42.8h1.0v1.0h-1.0zM174.5 48.3h1.0v1.0h-1.0zM183 45.6h1.0v1.0h-1.0zM167.3 38.5h1.0v1.0h-1.0zM175.2 44.5h1.0v1.0h-1.0zM169 37.7h1.0v1.0h-1.0zM171.7 47.2h1.0v1.0h-1.0zM168.7 45.6h1.0v1.0h-1.0zM169.3 53.3h1.0v1.0h-1.0zM173.3 38h1.0v1.0h-1.0zM179.5 40.1h1.0v1.0h-1.0zM178.7 44.6h1.0v1.0h-1.0zM184.1 38h1.0v1.0h-1.0zM179 46.6h1.0v1.0h-1.0zM194.3 46.1h1.0v1.0h-1.0zM184.8 45.5h1.0v1.0h-1.0zM186.5 40.1h1.0v1.0h-1.0zM170.3 42.2h1.0v1.0h-1.0zM167.1 51.3h1.0v1.0h-1.0zM190.3 49h1.0v1.0h-1.0zM167.8 39.6h1.0v1.0h-1.0zM180.7 50.6h1.0v1.0h-1.0zM174.3 56.9h1.0v1.0h-1.0zM168 49h1.0v1.0h-1.0zM193.8 43.5h1.0v1.0h-1.0zM180.9 40.5h1.0v1.0h-1.0zM187.6 38.8h1.0v1.0h-1.0zM170 49.5h1.0v1.0h-1.0zM169.8 40.7h1.0v1.0h-1.0zM171.8 47.9h1.0v1.0h-1.0zM189.1 52.2h1.0v1.0h-1.0zM190.5 43.8h1.0v1.0h-1.0zM167.8 38h1.0v1.0h-1.0zM166.8 43.6h1.0v1.0h-1.0zM172.5 49.5h1.0v1.0h-1.0zM172.4 48.4h1.0v1.0h-1.0zM184.3 36.6h1.0v1.0h-1.0zM187.8 39.7h1.0v1.0h-1.0zM175.9 50.5h1.0v1.0h-1.0zM173.6 50.8h1.0v1.0h-1.0zM170.7 43.5h1.0v1.0h-1.0zM172.7 53.9h1.0v1.0h-1.0zM166.6 38.3h1.0v1.0h-1.0zM169.6 46.1h1.0v1.0h-1.0zM179.2 35.9h1.0v1.0h-1.0zM171.6 41.3h1.0v1.0h-1.0zM168.3 42.7h1.0v1.0h-1.0zM171 38.6h1.0v1.0h-1.0zM166.3 47.4h1.0v1.0h-1.0zM177.2 36h1.0v1.0h-1.0zM167.1 53.4h1.0v1.0h-1.0zM179.1 53.9h1.0v1.0h-1.0zM168.2 37.7h1.0v1.0h-1.0zM170.1 49h1.0v1.0h-1.0zM186.9 42h1.0v1.0h-1.0zM168 35.7h1.0v1.0h-1.0zM187.6 40.5h1.0v1.0h-1.0zM188.7 46.9h1.0v1.0h-1.0zM183.1 46.3h1.0v1.0h-1.0zM178.5 41.1h1.0v1.0h-1.0zM172.1 53h1.0v1.0h-1.0zM183.6 39.3h1.0v1.0h-1.0zM175.7 47.2h1.0v1.0h-1.0zM180.3 39.5h1.0v1.0h-1.0zM174.2 40h1.0v1.0h-1.0zM176.3 36.3h1.0v1.0h-1.0zM173.7 48h1.0v1.0h-1.0zM168.8 39.2h1.0v1.0h-1.0zM179.8 47.6h1.0v1.0h-1.0zM187.7 42.3h1.0v1.0h-1.0zM172.9 47.4h1.0v1.0h-1.0zM181 48.2h1.0v1.0h-1.0zM178.3 51.2h1.0v1.0h-1.0zM174.1 38h1.0v1.0h-1.0zM169 45.6h1.0v1.0h-1.0zM175.3 52.1h1.0v1.0h-1.0zM173.9 40.9h1.0v1.0h-1.0zM193.9 42h1.0v1.0h-1.0zM146.7 67.7h1.0v1.0h-1.0zM146.3 72.5h1.0v1.0h-1.0zM143.4 75.2h1.0v1.0h-1.0zM150.2 75h1.0v1.0h-1.0zM144 79.4h1.0v1.0h-1.0zM146.7 79h1.0v1.0h-1.0zM145.9 75.1h1.0v1.0h-1.0zM155.1 70.4h1.0v1.0h-1.0zM153.2 75.1h1.0v1.0h-1.0zM156.5 66.9h1.0v1.0h-1.0zM151.2 68.4h1.0v1.0h-1.0zM143.2 75.6h1.0v1.0h-1.0zM151 80.7h1.0v1.0h-1.0zM149.3 79.1h1.0v1.0h-1.0zM155.5 68.4h1.0v1.0h-1.0zM148 69.8h1.0v1.0h-1.0zM153.8 67.9h1.0v1.0h-1.0zM157.6 75.5h1.0v1.0h-1.0zM163.4 69.4h1.0v1.0h-1.0zM158 78.9h1.0v1.0h-1.0zM147.1 75.1h1.0v1.0h-1.0zM151 79.9h1.0v1.0h-1.0zM156.8 74.8h1.0v1.0h-1.0zM156 71.8h1.0v1.0h-1.0zM152.9 74.5h1.0v1.0h-1.0zM151.5 75.8h1.0v1.0h-1.0zM153.1 69.9h1.0v1.0h-1.0zM153.2 75.1h1.0v1.0h-1.0zM155.8 77.1h1.0v1.0h-1.0zM158.7 81.1h1.0v1.0h-1.0zM158.7 72.6h1.0v1.0h-1.0zM142.9 71.7h1.0v1.0h-1.0zM152.7 73.5h1.0v1.0h-1.0zM149.9 66.9h1.0v1.0h-1.0zM144.9 70.4h1.0v1.0h-1.0zM153.6 74.1h1.0v1.0h-1.0zM152.8 72.2h1.0v1.0h-1.0zM147.3 71.9h1.0v1.0h-1.0zM148.2 70.2h1.0v1.0h-1.0zM142 79.2h1.0v1.0h-1.0zM185.3 80.2h1.0v1.0h-1.0zM175.4 78.7h1.0v1.0h-1.0zM188 70.7h1.0v1.0h-1.0zM184.1 77h1.0v1.0h-1.0zM176.8 80.3h1.0v1.0h-1.0zM188.5 67.7h1.0v1.0h-1.0zM168.1 77.3h1.0v1.0h-1.0zM175.5 69.5h1.0v1.0h-1.0zM174.9 68.4h1.0v1.0h-1.0zM177.2 71.1h1.0v1.0h-1.0zM181.2 74.7h1.0v1.0h-1.0zM170.1 71.1h1.0v1.0h-1.0zM174.6 68.1h1.0v1.0h-1.0zM171.2 78.5h1.0v1.0h-1.0zM181.7 77.4h1.0v1.0h-1.0zM177.2 74h1.0v1.0h-1.0zM172.9 70.6h1.0v1.0h-1.0zM177.3 78.2h1.0v1.0h-1.0zM184.4 72.4h1.0v1.0h-1.0zM187 66.7h1.0v1.0h-1.0zM187 72.8h1.0v1.0h-1.0zM180 71.6h1.0v1.0h-1.0zM182 69.1h1.0v1.0h-1.0zM174.4 74.1h1.0v1.0h-1.0zM173.6 69.8h1.0v1.0h-1.0zM184.2 74h1.0v1.0h-1.0zM179.3 77.9h1.0v1.0h-1.0zM171 76.1h1.0v1.0h-1.0zM184.8 79.8h1.0v1.0h-1.0zM182.6 78.7h1.0v1.0h-1.0zM172.2 73.9h1.0v1.0h-1.0zM172 71.7h1.0v1.0h-1.0zM173.5 71.6h1.0v1.0h-1.0zM176.8 74.9h1.0v1.0h-1.0zM170.5 73h1.0v1.0h-1.0z"/>
<rect x="141" y="34.3" width="77.4" height="48.6" fill="none" stroke="#000" stroke-width="1.1"/>
<line x1="141" y1="66" x2="218.4" y2="66" stroke="#000" stroke-width="1.3"/>
<line x1="165.8" y1="34.3" x2="165.8" y2="82.9" stroke="#000" stroke-width="1.3"/>
<line x1="138.6" y1="34.3" x2="141" y2="34.3" stroke="#000" stroke-width="1.3"/>
<line x1="138.6" y1="37.3" x2="141" y2="37.3" stroke="#000" stroke-width="1.3"/>
<line x1="138.6" y1="40.4" x2="141" y2="40.4" stroke="#000" stroke-width="1.3"/>
<line x1="138.6" y1="43.4" x2="141" y2="43.4" stroke="#000" stroke-width="1.3"/>
<line x1="138.6" y1="46.5" x2="141" y2="46.5" stroke="#000" stroke-width="1.3"/>
<line x1="138.6" y1="49.5" x2="141" y2="49.5" stroke="#000" stroke-width="1.3"/>
<line x1="138.6" y1="52.5" x2="141" y2="52.5" stroke="#000" stroke-width="1.3"/>
<line x1="138.6" y1="55.6" x2="141" y2="55.6" stroke="#000" stroke-width="1.3"/>
<line x1="138.6" y1="58.6" x2="141" y2="58.6" stroke="#000" stroke-width="1.3"/>
<line x1="138.6" y1="61.6" x2="141" y2="61.6" stroke="#000" stroke-width="1.3"/>
<line x1="138.6" y1="64.7" x2="141" y2="64.7" stroke="#000" stroke-width="1.3"/>
<line x1="138.6" y1="67.7" x2="141" y2="67.7" stroke="#000" stroke-width="1.3"/>
<line x1="138.6" y1="70.8" x2="141" y2="70.8" stroke="#000" stroke-width="1.3"/>
<line x1="138.6" y1="73.8" x2="141" y2="73.8" stroke="#000" stroke-width="1.3"/>
<line x1="138.6" y1="76.8" x2="141" y2="76.8" stroke="#000" stroke-width="1.3"/>
<line x1="138.6" y1="79.9" x2="141" y2="79.9" stroke="#000" stroke-width="1.3"/>
<line x1="138.6" y1="82.9" x2="141" y2="82.9" stroke="#000" stroke-width="1.3"/>
<line x1="141" y1="82.9" x2="141" y2="85.3" stroke="#000" stroke-width="1.3"/>
<line x1="144" y1="82.9" x2="144" y2="85.3" stroke="#000" stroke-width="1.3"/>
<line x1="147" y1="82.9" x2="147" y2="85.3" stroke="#000" stroke-width="1.3"/>
<line x1="149.9" y1="82.9" x2="149.9" y2="85.3" stroke="#000" stroke-width="1.3"/>
<line x1="152.9" y1="82.9" x2="152.9" y2="85.3" stroke="#000" stroke-width="1.3"/>
<line x1="155.9" y1="82.9" x2="155.9" y2="85.3" stroke="#000" stroke-width="1.3"/>
<line x1="158.9" y1="82.9" x2="158.9" y2="85.3" stroke="#000" stroke-width="1.3"/>
<line x1="161.8" y1="82.9" x2="161.8" y2="85.3" stroke="#000" stroke-width="1.3"/>
<line x1="164.8" y1="82.9" x2="164.8" y2="85.3" stroke="#000" stroke-width="1.3"/>
<line x1="167.8" y1="82.9" x2="167.8" y2="85.3" stroke="#000" stroke-width="1.3"/>
<line x1="170.8" y1="82.9" x2="170.8" y2="85.3" stroke="#000" stroke-width="1.3"/>
<line x1="173.7" y1="82.9" x2="173.7" y2="85.3" stroke="#000" stroke-width="1.3"/>
<line x1="176.7" y1="82.9" x2="176.7" y2="85.3" stroke="#000" stroke-width="1.3"/>
<line x1="179.7" y1="82.9" x2="179.7" y2="85.3" stroke="#000" stroke-width="1.3"/>
<line x1="182.7" y1="82.9" x2="182.7" y2="85.3" stroke="#000" stroke-width="1.3"/>
<line x1="185.7" y1="82.9" x2="185.7" y2="85.3" stroke="#000" stroke-width="1.3"/>
<line x1="188.6" y1="82.9" x2="188.6" y2="85.3" stroke="#000" stroke-width="1.3"/>
<line x1="191.6" y1="82.9" x2="191.6" y2="85.3" stroke="#000" stroke-width="1.3"/>
<line x1="194.6" y1="82.9" x2="194.6" y2="85.3" stroke="#000" stroke-width="1.3"/>
<line x1="197.6" y1="82.9" x2="197.6" y2="85.3" stroke="#000" stroke-width="1.3"/>
<line x1="200.5" y1="82.9" x2="200.5" y2="85.3" stroke="#000" stroke-width="1.3"/>
<line x1="203.5" y1="82.9" x2="203.5" y2="85.3" stroke="#000" stroke-width="1.3"/>
<line x1="206.5" y1="82.9" x2="206.5" y2="85.3" stroke="#000" stroke-width="1.3"/>
<line x1="209.5" y1="82.9" x2="209.5" y2="85.3" stroke="#000" stroke-width="1.3"/>
<line x1="212.4" y1="82.9" x2="212.4" y2="85.3" stroke="#000" stroke-width="1.3"/>
<line x1="215.4" y1="82.9" x2="215.4" y2="85.3" stroke="#000" stroke-width="1.3"/>
<line x1="218.4" y1="82.9" x2="218.4" y2="85.3" stroke="#000" stroke-width="1.3"/>
<text x="136.9" y="38.9" font-size="6.6" font-weight="bold" text-anchor="end" letter-spacing="0.7">10<tspan font-size="4.49" dy="-2.1" letter-spacing="0">3</tspan></text>
<text x="136.9" y="55.7" font-size="6.6" font-weight="bold" text-anchor="end" letter-spacing="0.7">10<tspan font-size="4.49" dy="-2.1" letter-spacing="0">2</tspan></text>
<text x="136.9" y="70.5" font-size="6.6" font-weight="bold" text-anchor="end" letter-spacing="0.7">10<tspan font-size="4.49" dy="-2.1" letter-spacing="0">1</tspan></text>
<text x="136.9" y="85.3" font-size="6.6" font-weight="bold" text-anchor="end" letter-spacing="0.7">10<tspan font-size="4.49" dy="-2.1" letter-spacing="0">0</tspan></text>
<text x="141" y="92.7" font-size="6.6" font-weight="bold" text-anchor="middle" letter-spacing="0.7">10<tspan font-size="4.49" dy="-2.1" letter-spacing="0">0</tspan></text>
<text x="166.8" y="92.7" font-size="6.6" font-weight="bold" text-anchor="middle" letter-spacing="0.7">10<tspan font-size="4.49" dy="-2.1" letter-spacing="0">1</tspan></text>
<text x="192.6" y="92.7" font-size="6.6" font-weight="bold" text-anchor="middle" letter-spacing="0.7">10<tspan font-size="4.49" dy="-2.1" letter-spacing="0">2</tspan></text>
<text x="218.4" y="92.7" font-size="6.6" font-weight="bold" text-anchor="middle" letter-spacing="0.7">10<tspan font-size="4.49" dy="-2.1" letter-spacing="0">3</tspan></text>
<line x1="10.2" y1="30" x2="10.2" y2="98" stroke="#000" stroke-width="1.2"/>
<path d="M10.2 27 L6.9 36.5 L13.5 36.5 Z"/>
<line x1="10.2" y1="98" x2="224" y2="98" stroke="#000" stroke-width="1.2"/>
<path d="M229.5 97.8 L220 94.5 L220 101.1 Z"/>
<text x="8.5" y="57.7" font-size="8.4" font-weight="bold" text-anchor="middle" transform="rotate(-90 8.5 57.7)">AA4</text>
<text x="116" y="107.2" font-size="8.6" font-weight="bold">IgM</text>
<text x="1.2" y="10.8" font-size="14.4" font-weight="bold">A</text>
<text x="60.2" y="8.1" font-size="8.2" font-weight="bold">WT</text>
<text x="16" y="17.3" font-size="8.6" font-weight="bold">P. 48.8%</text>
<text x="76.6" y="17.3" font-size="8.6" font-weight="bold">I. 10.4%</text>
<text x="62.2" y="110.7" font-size="8.3" font-weight="bold">M. 26.2%</text>
<line x1="33" y1="19.5" x2="42.3" y2="32.7" stroke="#000" stroke-width="1.15"/>
<path d="M47.5 40 L39.1 34.3 L45 30.2 Z"/>
<line x1="96" y1="19.5" x2="87.9" y2="32" stroke="#000" stroke-width="1.15"/>
<path d="M83 39.5 L85.2 29.6 L91.2 33.5 Z"/>
<line x1="73.8" y1="104" x2="71.7" y2="85.9" stroke="#000" stroke-width="1.15"/>
<path d="M70.6 77 L75.3 86 L68.1 86.9 Z"/>
<text x="151" y="8.1" font-size="8.5" font-weight="bold">CD19 talin null</text>
<text x="132.2" y="20.3" font-size="8.6" font-weight="bold">P. 77.4%</text>
<text x="199.5" y="20.3" font-size="8.6" font-weight="bold">I. 17.7%</text>
<text x="173.6" y="114" font-size="8.3" font-weight="bold">M. 3.3%</text>
<line x1="133.5" y1="22" x2="140.9" y2="33" stroke="#000" stroke-width="1.15"/>
<path d="M146 40.4 L137.7 34.6 L143.6 30.5 Z"/>
<line x1="207" y1="22" x2="197.7" y2="34.1" stroke="#000" stroke-width="1.15"/>
<path d="M192.2 41.2 L195.1 31.5 L200.9 35.9 Z"/>
<line x1="182.5" y1="106.3" x2="179.5" y2="86.5" stroke="#000" stroke-width="1.15"/>
<path d="M178.2 77.6 L183.2 86.5 L176 87.5 Z"/>
<rect x="292.7" y="68.5" width="34" height="13.6" fill="#e41010"/>
<path fill="#e41010" d="M303.6 67.9h1.1v1.1h-1.1zM327.9 68.2h1.1v1.1h-1.1zM319.2 78.4h1.1v1.1h-1.1zM310.3 75h1.1v1.1h-1.1zM305.7 78.6h1.1v1.1h-1.1zM319.6 67.2h1.1v1.1h-1.1zM320.3 68.2h1.1v1.1h-1.1zM311.6 68.8h1.1v1.1h-1.1zM311.7 76.1h1.1v1.1h-1.1zM321.5 71h1.1v1.1h-1.1zM294.8 72.9h1.1v1.1h-1.1zM328.6 74.5h1.1v1.1h-1.1zM317 77.8h1.1v1.1h-1.1zM317.7 80.6h1.1v1.1h-1.1zM330.2 77.4h1.1v1.1h-1.1zM324.4 68.2h1.1v1.1h-1.1zM303 76.9h1.1v1.1h-1.1zM315.5 79.3h1.1v1.1h-1.1zM323.1 71.1h1.1v1.1h-1.1zM299.4 76.1h1.1v1.1h-1.1zM297 73.6h1.1v1.1h-1.1zM303.5 72.2h1.1v1.1h-1.1zM318.4 75.8h1.1v1.1h-1.1zM316.9 66.9h1.1v1.1h-1.1zM327.8 76.9h1.1v1.1h-1.1zM328.3 75.4h1.1v1.1h-1.1zM318.1 79.7h1.1v1.1h-1.1zM322 75.8h1.1v1.1h-1.1zM294.2 66.4h1.1v1.1h-1.1zM320.8 79h1.1v1.1h-1.1zM307.8 69.2h1.1v1.1h-1.1zM310 79h1.1v1.1h-1.1zM322.4 68h1.1v1.1h-1.1zM300.5 69.2h1.1v1.1h-1.1zM322 69.9h1.1v1.1h-1.1zM327.6 72.3h1.1v1.1h-1.1zM300.2 72.4h1.1v1.1h-1.1zM298.1 79.5h1.1v1.1h-1.1zM293.5 72.4h1.1v1.1h-1.1zM307.5 66.6h1.1v1.1h-1.1zM301.3 81.2h1.1v1.1h-1.1zM326.4 72.5h1.1v1.1h-1.1zM327 80h1.1v1.1h-1.1zM326.4 77.2h1.1v1.1h-1.1zM314.9 73.9h1.1v1.1h-1.1zM320.8 75.3h1.1v1.1h-1.1zM330.9 68.8h1.1v1.1h-1.1zM328 77.6h1.1v1.1h-1.1zM310 79.1h1.1v1.1h-1.1zM303.9 72h1.1v1.1h-1.1zM315.3 80.9h1.1v1.1h-1.1zM302.2 79.1h1.1v1.1h-1.1zM318.5 80.2h1.1v1.1h-1.1zM304.4 76.2h1.1v1.1h-1.1zM327.6 79.6h1.1v1.1h-1.1zM320.1 78.9h1.1v1.1h-1.1zM317.6 74.5h1.1v1.1h-1.1zM300.2 74h1.1v1.1h-1.1zM331.1 80.6h1.1v1.1h-1.1zM294.3 70.7h1.1v1.1h-1.1zM302 79h1.1v1.1h-1.1zM299.8 77.8h1.1v1.1h-1.1zM300.3 71.2h1.1v1.1h-1.1zM330.9 67.9h1.1v1.1h-1.1zM315.5 70.2h1.1v1.1h-1.1zM322.4 67h1.1v1.1h-1.1zM319.3 70h1.1v1.1h-1.1zM330.3 71.1h1.1v1.1h-1.1zM319 66.4h1.1v1.1h-1.1zM329.6 75.8h1.1v1.1h-1.1zM328.6 77.5h1.1v1.1h-1.1zM295 77.5h1.1v1.1h-1.1zM307.6 69.1h1.1v1.1h-1.1zM327.7 76.2h1.1v1.1h-1.1zM306.4 67.1h1.1v1.1h-1.1zM318.2 66.9h1.1v1.1h-1.1zM302 66.7h1.1v1.1h-1.1zM299.4 77.5h1.1v1.1h-1.1zM303.1 81.2h1.1v1.1h-1.1zM303.6 78.3h1.1v1.1h-1.1zM321.6 75.9h1.1v1.1h-1.1zM316.4 68.2h1.1v1.1h-1.1zM325.2 80.2h1.1v1.1h-1.1zM313.5 68.9h1.1v1.1h-1.1zM296 69.9h1.1v1.1h-1.1zM330.9 70.9h1.1v1.1h-1.1zM303.6 74.1h1.1v1.1h-1.1zM294 78.2h1.1v1.1h-1.1zM323.3 70.7h1.1v1.1h-1.1zM293.8 79.9h1.1v1.1h-1.1zM324.5 77.8h1.1v1.1h-1.1zM300.9 80.7h1.1v1.1h-1.1zM317.8 66.5h1.1v1.1h-1.1zM331.3 76.8h1.1v1.1h-1.1zM299.9 79.7h1.1v1.1h-1.1zM316.1 75.8h1.1v1.1h-1.1zM293.7 69.3h1.1v1.1h-1.1zM323.8 66.2h1.1v1.1h-1.1zM300.2 67.1h1.1v1.1h-1.1zM315.6 68.1h1.1v1.1h-1.1zM323.5 73h1.1v1.1h-1.1zM323.4 80.1h1.1v1.1h-1.1zM330.9 69h1.1v1.1h-1.1zM307 78.2h1.1v1.1h-1.1zM305.7 80.4h1.1v1.1h-1.1zM305.8 75.7h1.1v1.1h-1.1zM302.7 77.1h1.1v1.1h-1.1zM303.8 72.5h1.1v1.1h-1.1zM321.1 78.8h1.1v1.1h-1.1zM298.1 68.7h1.1v1.1h-1.1zM301 77.8h1.1v1.1h-1.1zM319.2 77h1.1v1.1h-1.1zM324.4 69.6h1.1v1.1h-1.1zM312.2 66.1h1.1v1.1h-1.1zM306.5 75.3h1.1v1.1h-1.1zM302.9 78.2h1.1v1.1h-1.1zM301 72.8h1.1v1.1h-1.1zM319.5 69.4h1.1v1.1h-1.1zM318.7 72.2h1.1v1.1h-1.1zM294.5 67.6h1.1v1.1h-1.1zM318.3 78.7h1.1v1.1h-1.1zM319.4 79.3h1.1v1.1h-1.1zM318.8 78h1.1v1.1h-1.1zM325.6 75.2h1.1v1.1h-1.1zM313.5 68.5h1.1v1.1h-1.1zM301.9 67.3h1.1v1.1h-1.1zM297 72h1.1v1.1h-1.1zM304.1 74.7h1.1v1.1h-1.1zM325.2 70.1h1.1v1.1h-1.1zM327.8 78.8h1.1v1.1h-1.1zM300.2 75.1h1.1v1.1h-1.1zM300.4 67h1.1v1.1h-1.1zM301.3 69.1h1.1v1.1h-1.1zM292.9 66.4h1.1v1.1h-1.1zM324.4 79.3h1.1v1.1h-1.1zM326.6 67.1h1.1v1.1h-1.1zM293.5 79.2h1.1v1.1h-1.1zM307.4 71.3h1.1v1.1h-1.1zM320.2 74.2h1.1v1.1h-1.1zM305.6 68.3h1.1v1.1h-1.1zM297.1 77h1.1v1.1h-1.1zM328.3 66.6h1.1v1.1h-1.1zM301.4 74.1h1.1v1.1h-1.1zM303.1 73.5h1.1v1.1h-1.1zM312.4 70.1h1.1v1.1h-1.1zM297.2 72.5h1.1v1.1h-1.1zM324.6 68.1h1.1v1.1h-1.1zM313.8 78.5h1.1v1.1h-1.1zM315.1 71.3h1.1v1.1h-1.1zM329.2 78h1.1v1.1h-1.1zM331.9 70.6h1.1v1.1h-1.1zM311.7 72.9h1.1v1.1h-1.1zM325.7 75.5h1.1v1.1h-1.1zM314.3 73.9h1.1v1.1h-1.1zM327.7 71.4h1.1v1.1h-1.1zM297.8 68.7h1.1v1.1h-1.1zM302.2 67.5h1.1v1.1h-1.1zM331.1 74.5h1.1v1.1h-1.1zM324 73h1.1v1.1h-1.1zM313.1 69.5h1.1v1.1h-1.1zM327.7 72.5h1.1v1.1h-1.1zM308.6 77.4h1.1v1.1h-1.1zM326.8 81.4h1.1v1.1h-1.1zM311.6 72.5h1.1v1.1h-1.1zM325.1 72.5h1.1v1.1h-1.1zM300.6 73.4h1.1v1.1h-1.1zM304.7 70h1.1v1.1h-1.1zM323 71.4h1.1v1.1h-1.1zM317.2 70.7h1.1v1.1h-1.1zM297.1 78h1.1v1.1h-1.1zM323.1 76.9h1.1v1.1h-1.1zM316.6 68.7h1.1v1.1h-1.1zM312.4 78.8h1.1v1.1h-1.1zM323.5 75.1h1.1v1.1h-1.1zM317.5 68.6h1.1v1.1h-1.1zM294.8 79h1.1v1.1h-1.1zM293.3 69.9h1.1v1.1h-1.1zM308.3 76.8h1.1v1.1h-1.1zM320.1 79.3h1.1v1.1h-1.1zM329.2 70.2h1.1v1.1h-1.1zM302.4 67.9h1.1v1.1h-1.1zM305.6 67.6h1.1v1.1h-1.1zM330.5 74.9h1.1v1.1h-1.1zM311.9 66.9h1.1v1.1h-1.1zM328.5 69.8h1.1v1.1h-1.1zM322.9 69.2h1.1v1.1h-1.1zM303.3 68.1h1.1v1.1h-1.1zM313.7 70.4h1.1v1.1h-1.1zM315.1 77h1.1v1.1h-1.1zM301.5 68h1.1v1.1h-1.1zM312.9 72.2h1.1v1.1h-1.1zM310.2 71.7h1.1v1.1h-1.1zM299.1 67.9h1.1v1.1h-1.1zM321.3 75.8h1.1v1.1h-1.1zM319.7 75.8h1.1v1.1h-1.1zM312.8 69h1.1v1.1h-1.1zM328.6 74.2h1.1v1.1h-1.1zM310.6 70h1.1v1.1h-1.1zM307.5 81.1h1.1v1.1h-1.1zM308.6 78.4h1.1v1.1h-1.1zM297.5 75.2h1.1v1.1h-1.1zM303.3 69.6h1.1v1.1h-1.1zM304.6 72.1h1.1v1.1h-1.1zM318 72.3h1.1v1.1h-1.1zM326.5 68.4h1.1v1.1h-1.1zM326.3 72.7h1.1v1.1h-1.1zM323.8 72.1h1.1v1.1h-1.1zM302.7 79.8h1.1v1.1h-1.1zM317.7 77.1h1.1v1.1h-1.1zM313.2 76.9h1.1v1.1h-1.1zM330.3 77.4h1.1v1.1h-1.1zM330.8 71.4h1.1v1.1h-1.1zM304.3 79.6h1.1v1.1h-1.1zM325.5 79.7h1.1v1.1h-1.1zM309.8 72.4h1.1v1.1h-1.1zM329.9 69.1h1.1v1.1h-1.1zM299.2 68.6h1.1v1.1h-1.1zM304.5 72.4h1.1v1.1h-1.1zM307.7 73.1h1.1v1.1h-1.1zM294 71.3h1.1v1.1h-1.1zM312.6 66.8h1.1v1.1h-1.1zM311.6 79.9h1.1v1.1h-1.1zM318.3 80.6h1.1v1.1h-1.1zM326.5 73.6h1.1v1.1h-1.1zM293.4 66.9h1.1v1.1h-1.1zM315.3 79h1.1v1.1h-1.1zM305.7 68h1.1v1.1h-1.1zM322.5 74.3h1.1v1.1h-1.1zM311 68h1.1v1.1h-1.1zM314.4 74.8h1.1v1.1h-1.1zM320.6 79.9h1.1v1.1h-1.1zM295.6 78.8h1.1v1.1h-1.1zM305.3 72.4h1.1v1.1h-1.1zM306.2 78.4h1.1v1.1h-1.1zM310 67.1h1.1v1.1h-1.1zM311.3 68.3h1.1v1.1h-1.1zM293.2 66.8h1.1v1.1h-1.1zM307.6 72.9h1.1v1.1h-1.1zM292.6 68.1h1.1v1.1h-1.1zM328.1 74.4h1.1v1.1h-1.1zM331.2 74.4h1.1v1.1h-1.1zM330.2 76.6h1.1v1.1h-1.1zM307.9 66.8h1.1v1.1h-1.1zM298.4 78.2h1.1v1.1h-1.1zM318.7 70.6h1.1v1.1h-1.1zM299 75.9h1.1v1.1h-1.1zM329.2 69.8h1.1v1.1h-1.1zM331.9 74.2h1.1v1.1h-1.1zM300.8 68.8h1.1v1.1h-1.1zM320.6 80.3h1.1v1.1h-1.1zM300.6 69.7h1.1v1.1h-1.1zM298.2 69.2h1.1v1.1h-1.1zM301.5 72.4h1.1v1.1h-1.1zM302 76.2h1.1v1.1h-1.1zM302 70.1h1.1v1.1h-1.1zM309.1 68.6h1.1v1.1h-1.1zM294.6 67.4h1.1v1.1h-1.1zM292.8 76.4h1.1v1.1h-1.1zM294.5 73.4h1.1v1.1h-1.1zM327.6 75.5h1.1v1.1h-1.1zM304.7 72.2h1.1v1.1h-1.1zM309.4 70.9h1.1v1.1h-1.1zM294.7 68.4h1.1v1.1h-1.1zM298.2 69.2h1.1v1.1h-1.1zM305.6 67.6h1.1v1.1h-1.1zM316.9 69.1h1.1v1.1h-1.1zM312.7 76.7h1.1v1.1h-1.1zM312.2 77.4h1.1v1.1h-1.1zM323.3 72.9h1.1v1.1h-1.1zM301 66.7h1.1v1.1h-1.1zM319.9 71.7h1.1v1.1h-1.1zM304.1 67.3h1.1v1.1h-1.1zM299.7 79.7h1.1v1.1h-1.1zM311.2 79h1.1v1.1h-1.1zM325.9 69.8h1.1v1.1h-1.1zM301.5 79.7h1.1v1.1h-1.1zM301.9 75.2h1.1v1.1h-1.1zM329.5 73.2h1.1v1.1h-1.1zM309.3 80.7h1.1v1.1h-1.1zM326.6 80.3h1.1v1.1h-1.1zM320.5 69.5h1.1v1.1h-1.1zM294.5 66.3h1.1v1.1h-1.1zM329 74.4h1.1v1.1h-1.1zM327.4 80.7h1.1v1.1h-1.1zM301.9 80.9h1.1v1.1h-1.1zM303.4 68.8h1.1v1.1h-1.1zM303.3 81.3h1.1v1.1h-1.1zM329.6 71.4h1.1v1.1h-1.1zM311.6 78.7h1.1v1.1h-1.1zM324.3 79.8h1.1v1.1h-1.1zM306.9 69.6h1.1v1.1h-1.1zM312.8 80.4h1.1v1.1h-1.1zM316.8 79.4h1.1v1.1h-1.1zM300.3 73.8h1.1v1.1h-1.1zM328.7 74.8h1.1v1.1h-1.1zM323.9 78.4h1.1v1.1h-1.1zM310 76.6h1.1v1.1h-1.1zM319.9 72.8h1.1v1.1h-1.1zM313.1 78.5h1.1v1.1h-1.1zM327.3 81.2h1.1v1.1h-1.1zM307.1 76.4h1.1v1.1h-1.1zM314.3 79.1h1.1v1.1h-1.1zM302.1 73.2h1.1v1.1h-1.1zM302.7 78.4h1.1v1.1h-1.1zM320.6 66.1h1.1v1.1h-1.1zM296.9 68.2h1.1v1.1h-1.1zM315.9 77.9h1.1v1.1h-1.1zM306.2 67.2h1.1v1.1h-1.1zM315.7 75.5h1.1v1.1h-1.1zM309.6 70.2h1.1v1.1h-1.1zM306.3 69.6h1.1v1.1h-1.1zM324.6 71.9h1.1v1.1h-1.1zM320.7 74.5h1.1v1.1h-1.1zM301.6 70.3h1.1v1.1h-1.1zM319 79.3h1.1v1.1h-1.1zM328.7 68.4h1.1v1.1h-1.1zM302.8 67.5h1.1v1.1h-1.1zM300.1 72h1.1v1.1h-1.1zM320.9 80.1h1.1v1.1h-1.1zM315.9 68.2h1.1v1.1h-1.1zM307.4 68.2h1.1v1.1h-1.1zM303.6 74.8h1.1v1.1h-1.1zM312.4 68.6h1.1v1.1h-1.1zM303.5 79.8h1.1v1.1h-1.1zM317.4 75.3h1.1v1.1h-1.1zM305.3 70.6h1.1v1.1h-1.1zM322.6 66.2h1.1v1.1h-1.1zM318.4 80.7h1.1v1.1h-1.1zM317.6 66.7h1.1v1.1h-1.1zM293.9 78.1h1.1v1.1h-1.1zM299.9 72.5h1.1v1.1h-1.1zM318.3 76.4h1.1v1.1h-1.1zM303.9 76.5h1.1v1.1h-1.1zM328.6 73.2h1.1v1.1h-1.1zM308.2 76.6h1.1v1.1h-1.1zM327 76.6h1.1v1.1h-1.1zM329.1 78h1.1v1.1h-1.1zM330.3 69.9h1.1v1.1h-1.1zM319.1 69.2h1.1v1.1h-1.1zM297.2 71.3h1.1v1.1h-1.1zM329.9 70.5h1.1v1.1h-1.1zM304.8 80.3h1.1v1.1h-1.1zM331.3 77.7h1.1v1.1h-1.1zM306.5 78.7h1.1v1.1h-1.1zM295.2 66.2h1.1v1.1h-1.1zM295.1 71.2h1.1v1.1h-1.1zM302.1 79.2h1.1v1.1h-1.1zM310.2 79.1h1.1v1.1h-1.1zM311.8 71.7h1.1v1.1h-1.1zM306 66.7h1.1v1.1h-1.1zM310.5 80.6h1.1v1.1h-1.1zM330.9 80.3h1.1v1.1h-1.1zM296.5 72.8h1.1v1.1h-1.1zM325.5 68.4h1.1v1.1h-1.1zM295.2 69.2h1.1v1.1h-1.1zM295.9 77.4h1.1v1.1h-1.1zM320.7 81.2h1.1v1.1h-1.1zM294.6 76.8h1.1v1.1h-1.1zM323.9 68.7h1.1v1.1h-1.1zM295.7 81.1h1.1v1.1h-1.1zM323.7 67.1h1.1v1.1h-1.1zM300 76.1h1.1v1.1h-1.1zM299.3 72.7h1.1v1.1h-1.1zM298.5 67.4h1.1v1.1h-1.1zM311.7 74.4h1.1v1.1h-1.1zM326 66.1h1.1v1.1h-1.1zM306.6 67.1h1.1v1.1h-1.1zM314.4 68.5h1.1v1.1h-1.1zM305.6 80.9h1.1v1.1h-1.1zM318.2 76.3h1.1v1.1h-1.1zM316.5 69.1h1.1v1.1h-1.1zM319.6 80.9h1.1v1.1h-1.1zM296.1 78.9h1.1v1.1h-1.1zM306.2 69.1h1.1v1.1h-1.1zM318.4 79.1h1.1v1.1h-1.1zM299.2 69h1.1v1.1h-1.1zM312.3 69.2h1.1v1.1h-1.1zM312.6 81.2h1.1v1.1h-1.1zM293.6 72.6h1.1v1.1h-1.1zM300.6 68.6h1.1v1.1h-1.1zM315.8 80.6h1.1v1.1h-1.1zM311.1 74.6h1.1v1.1h-1.1zM320.2 79.2h1.1v1.1h-1.1zM330.7 71.1h1.1v1.1h-1.1zM299.6 80.1h1.1v1.1h-1.1zM316.4 79.6h1.1v1.1h-1.1zM298.4 78.2h1.1v1.1h-1.1zM297.3 68h1.1v1.1h-1.1zM297.4 71.6h1.1v1.1h-1.1zM309 76.1h1.1v1.1h-1.1zM329.5 72.6h1.1v1.1h-1.1zM315.4 72.3h1.1v1.1h-1.1zM307.7 70.1h1.1v1.1h-1.1zM292.8 69.9h1.1v1.1h-1.1zM321.1 78.3h1.1v1.1h-1.1zM319.6 72.8h1.1v1.1h-1.1zM308.8 68.9h1.1v1.1h-1.1zM302.2 81.4h1.1v1.1h-1.1zM315.8 72.2h1.1v1.1h-1.1zM313.7 73.6h1.1v1.1h-1.1zM304.2 72.4h1.1v1.1h-1.1zM309.6 79.8h1.1v1.1h-1.1zM327.7 70.4h1.1v1.1h-1.1zM310.5 69.4h1.1v1.1h-1.1zM330.1 68.1h1.1v1.1h-1.1zM311.6 66.2h1.1v1.1h-1.1zM310.8 73.1h1.1v1.1h-1.1zM293.2 68.3h1.1v1.1h-1.1zM312.3 73.3h1.1v1.1h-1.1zM304.6 66.8h1.1v1.1h-1.1zM305.4 71.4h1.1v1.1h-1.1zM296.7 75.2h1.1v1.1h-1.1zM301.3 74.2h1.1v1.1h-1.1zM320.6 66.2h1.1v1.1h-1.1zM312.2 75.8h1.1v1.1h-1.1zM327.8 76.6h1.1v1.1h-1.1zM325.6 76.2h1.1v1.1h-1.1zM301.4 78.5h1.1v1.1h-1.1zM322.4 73.5h1.1v1.1h-1.1zM329.1 66.8h1.1v1.1h-1.1zM328.4 71.5h1.1v1.1h-1.1zM314 78.3h1.1v1.1h-1.1zM299.2 73.6h1.1v1.1h-1.1zM293.2 66.6h1.1v1.1h-1.1zM330.3 69.4h1.1v1.1h-1.1zM309.4 67.9h1.1v1.1h-1.1zM329.3 73.8h1.1v1.1h-1.1zM326.3 70.2h1.1v1.1h-1.1zM310.9 69.8h1.1v1.1h-1.1zM315.8 76.9h1.1v1.1h-1.1zM315.2 75h1.1v1.1h-1.1zM304.8 80.7h1.1v1.1h-1.1zM293.4 68.6h1.1v1.1h-1.1zM318.9 81h1.1v1.1h-1.1zM326 69.8h1.1v1.1h-1.1zM329.8 73h1.1v1.1h-1.1zM315.1 76h1.1v1.1h-1.1zM316.9 79.5h1.1v1.1h-1.1zM328 70.9h1.1v1.1h-1.1zM327.8 70.9h1.1v1.1h-1.1zM319.5 68.4h1.1v1.1h-1.1zM317.7 70.6h1.1v1.1h-1.1zM331.8 76.2h1.1v1.1h-1.1zM307.9 80.8h1.1v1.1h-1.1zM297.2 77.5h1.1v1.1h-1.1zM318.2 66.3h1.1v1.1h-1.1zM310.7 67.8h1.1v1.1h-1.1zM332 67.5h1.1v1.1h-1.1zM317.6 74.4h1.1v1.1h-1.1zM297.5 80.4h1.1v1.1h-1.1zM315.2 75.5h1.1v1.1h-1.1zM303 68.4h1.1v1.1h-1.1zM305.4 66.5h1.1v1.1h-1.1zM300.5 73.6h1.1v1.1h-1.1zM308 77.7h1.1v1.1h-1.1zM298.2 69.2h1.1v1.1h-1.1zM313.2 76.6h1.1v1.1h-1.1zM305 69.2h1.1v1.1h-1.1zM297.5 71.6h1.1v1.1h-1.1zM307.5 78.3h1.1v1.1h-1.1zM302.1 71.2h1.1v1.1h-1.1zM322 69.2h1.1v1.1h-1.1zM294.1 81h1.1v1.1h-1.1zM328.6 70.9h1.1v1.1h-1.1zM303.8 73.1h1.1v1.1h-1.1zM300.9 78.1h1.1v1.1h-1.1zM327.5 77h1.1v1.1h-1.1zM308.3 78.9h1.1v1.1h-1.1zM329.5 68.8h1.1v1.1h-1.1zM318.9 68.7h1.1v1.1h-1.1zM331.5 78.3h1.1v1.1h-1.1zM308.7 77.4h1.1v1.1h-1.1zM304.2 67h1.1v1.1h-1.1zM312.8 67.2h1.1v1.1h-1.1zM310.6 79.1h1.1v1.1h-1.1zM315.3 70.1h1.1v1.1h-1.1zM301 74.6h1.1v1.1h-1.1zM312.7 79.9h1.1v1.1h-1.1zM299.4 73.2h1.1v1.1h-1.1zM310.2 71.8h1.1v1.1h-1.1zM299.9 71.9h1.1v1.1h-1.1zM314 69h1.1v1.1h-1.1zM305.2 74.1h1.1v1.1h-1.1zM329.6 73.4h1.1v1.1h-1.1zM306.2 66.5h1.1v1.1h-1.1zM313 71.3h1.1v1.1h-1.1zM297.2 73.3h1.1v1.1h-1.1zM316.9 71.4h1.1v1.1h-1.1zM321.6 75.7h1.1v1.1h-1.1zM295.1 66.8h1.1v1.1h-1.1zM313.3 75.3h1.1v1.1h-1.1zM314.5 69.5h1.1v1.1h-1.1zM306.2 77.1h1.1v1.1h-1.1zM308.2 74.1h1.1v1.1h-1.1zM301.6 75.7h1.1v1.1h-1.1zM311.5 66h1.1v1.1h-1.1zM322.3 78.4h1.1v1.1h-1.1zM331.5 80.5h1.1v1.1h-1.1zM320.3 73.2h1.1v1.1h-1.1zM303.1 76.8h1.1v1.1h-1.1zM337.1 79.5h1.1v1.1h-1.1zM329.7 77.3h1.1v1.1h-1.1zM320.9 71.6h1.1v1.1h-1.1zM318.6 70.6h1.1v1.1h-1.1zM322.9 76.7h1.1v1.1h-1.1zM333.3 73.2h1.1v1.1h-1.1zM333.6 70.7h1.1v1.1h-1.1zM320.9 72.1h1.1v1.1h-1.1zM322.8 76.7h1.1v1.1h-1.1zM321 69.8h1.1v1.1h-1.1zM326.4 72.7h1.1v1.1h-1.1zM325.3 75.4h1.1v1.1h-1.1zM339.2 71.8h1.1v1.1h-1.1zM346.6 81h1.1v1.1h-1.1zM343.5 75.2h1.1v1.1h-1.1zM328.2 68.3h1.1v1.1h-1.1zM340.8 67.5h1.1v1.1h-1.1zM327.6 76h1.1v1.1h-1.1zM330.6 80.8h1.1v1.1h-1.1zM333.9 76.4h1.1v1.1h-1.1zM321.7 71h1.1v1.1h-1.1zM318.6 73.5h1.1v1.1h-1.1zM331.1 71.2h1.1v1.1h-1.1zM349.4 68.4h1.1v1.1h-1.1zM334.5 72.9h1.1v1.1h-1.1zM323.1 71.9h1.1v1.1h-1.1zM343.1 72.4h1.1v1.1h-1.1zM331.4 74.8h1.1v1.1h-1.1zM333.7 77.4h1.1v1.1h-1.1zM344.5 69.9h1.1v1.1h-1.1zM340 74.5h1.1v1.1h-1.1zM321.3 75.5h1.1v1.1h-1.1zM340.4 69.7h1.1v1.1h-1.1zM342.1 73.8h1.1v1.1h-1.1zM320.5 71.8h1.1v1.1h-1.1zM333.4 74.3h1.1v1.1h-1.1zM327 76.4h1.1v1.1h-1.1zM344 77.4h1.1v1.1h-1.1zM343.6 73.7h1.1v1.1h-1.1zM329 70.4h1.1v1.1h-1.1zM331.9 69.2h1.1v1.1h-1.1zM330.4 70.5h1.1v1.1h-1.1zM320.6 81h1.1v1.1h-1.1zM326.5 78.6h1.1v1.1h-1.1zM342.4 73.1h1.1v1.1h-1.1zM338.5 70.1h1.1v1.1h-1.1zM338.3 72.4h1.1v1.1h-1.1zM322.3 74.5h1.1v1.1h-1.1zM318.8 80.2h1.1v1.1h-1.1zM337.9 74.5h1.1v1.1h-1.1zM332.1 77.2h1.1v1.1h-1.1zM337 79.3h1.1v1.1h-1.1zM321 74.2h1.1v1.1h-1.1zM320.6 81.1h1.1v1.1h-1.1zM340.1 77.3h1.1v1.1h-1.1zM319 71.5h1.1v1.1h-1.1zM337.9 68.7h1.1v1.1h-1.1zM317.8 77.4h1.1v1.1h-1.1zM318.7 68.8h1.1v1.1h-1.1zM336.4 74.4h1.1v1.1h-1.1zM340.7 70.1h1.1v1.1h-1.1zM318.6 69.4h1.1v1.1h-1.1zM326.7 71h1.1v1.1h-1.1zM335.5 69.4h1.1v1.1h-1.1zM328.2 75.5h1.1v1.1h-1.1zM317.9 71.6h1.1v1.1h-1.1zM319.3 77.2h1.1v1.1h-1.1zM324.9 77.2h1.1v1.1h-1.1zM344.3 72.6h1.1v1.1h-1.1zM321.3 76.2h1.1v1.1h-1.1zM349.9 72.1h1.1v1.1h-1.1zM345 80.8h1.1v1.1h-1.1zM340.7 74.4h1.1v1.1h-1.1zM324.3 78.4h1.1v1.1h-1.1zM333.1 77.1h1.1v1.1h-1.1zM339.2 74.3h1.1v1.1h-1.1zM318 73.8h1.1v1.1h-1.1zM322.2 70.2h1.1v1.1h-1.1zM324.7 70.3h1.1v1.1h-1.1zM332.5 70.4h1.1v1.1h-1.1zM330.7 75.9h1.1v1.1h-1.1zM326.8 77.1h1.1v1.1h-1.1zM325.1 71.6h1.1v1.1h-1.1zM345.7 80.3h1.1v1.1h-1.1zM321.5 77.3h1.1v1.1h-1.1zM337 73.1h1.1v1.1h-1.1zM321.8 67.5h1.1v1.1h-1.1zM328 79h1.1v1.1h-1.1zM320.2 77.9h1.1v1.1h-1.1zM326.4 71.5h1.1v1.1h-1.1zM327.9 77.8h1.1v1.1h-1.1zM347 75h1.1v1.1h-1.1zM326.5 76.3h1.1v1.1h-1.1zM320.6 72.5h1.1v1.1h-1.1zM323.5 77.3h1.1v1.1h-1.1zM343.2 76.2h1.1v1.1h-1.1zM333.3 78.1h1.1v1.1h-1.1zM327.5 76.1h1.1v1.1h-1.1zM347 67.1h1.1v1.1h-1.1zM322.9 66.9h1.1v1.1h-1.1zM318.5 69.7h1.1v1.1h-1.1zM323.4 76.2h1.1v1.1h-1.1zM327.4 81h1.1v1.1h-1.1zM342.9 68.7h1.1v1.1h-1.1zM323.8 75.9h1.1v1.1h-1.1zM322.9 66.8h1.1v1.1h-1.1zM329.6 66.5h1.1v1.1h-1.1zM331.8 73.7h1.1v1.1h-1.1zM322.3 76.8h1.1v1.1h-1.1zM332.9 73.7h1.1v1.1h-1.1zM321.9 76.6h1.1v1.1h-1.1zM336.7 76.4h1.1v1.1h-1.1zM341.1 77.5h1.1v1.1h-1.1zM319.6 71h1.1v1.1h-1.1zM330.2 79.4h1.1v1.1h-1.1zM342.3 77.6h1.1v1.1h-1.1zM339.7 72.6h1.1v1.1h-1.1zM323 71.4h1.1v1.1h-1.1zM320.6 76.1h1.1v1.1h-1.1zM324.4 73h1.1v1.1h-1.1zM328 72.4h1.1v1.1h-1.1zM329 70.6h1.1v1.1h-1.1zM347.7 69.4h1.1v1.1h-1.1zM318.4 75.5h1.1v1.1h-1.1zM343.5 75.1h1.1v1.1h-1.1zM328.4 71.7h1.1v1.1h-1.1zM321.2 69.4h1.1v1.1h-1.1zM331.9 75.2h1.1v1.1h-1.1zM329.1 71.2h1.1v1.1h-1.1zM330.9 72.3h1.1v1.1h-1.1zM328.5 73.1h1.1v1.1h-1.1zM322.5 67.3h1.1v1.1h-1.1zM339.9 67.4h1.1v1.1h-1.1zM323.7 70.4h1.1v1.1h-1.1zM328.7 75.3h1.1v1.1h-1.1zM331.8 76.5h1.1v1.1h-1.1zM321.1 68.6h1.1v1.1h-1.1zM331.4 72.7h1.1v1.1h-1.1zM326.8 80.4h1.1v1.1h-1.1zM318 81.1h1.1v1.1h-1.1zM319 80.9h1.1v1.1h-1.1zM318.2 73.3h1.1v1.1h-1.1zM325.9 71.4h1.1v1.1h-1.1zM336.5 71.4h1.1v1.1h-1.1zM327 80.7h1.1v1.1h-1.1zM321.3 79.6h1.1v1.1h-1.1zM327.1 68.8h1.1v1.1h-1.1zM339.2 75h1.1v1.1h-1.1zM336.6 67.6h1.1v1.1h-1.1zM335.2 67.1h1.1v1.1h-1.1zM328.4 73.9h1.1v1.1h-1.1zM317.9 75.8h1.1v1.1h-1.1zM325.4 69h1.1v1.1h-1.1zM341.5 74.9h1.1v1.1h-1.1zM320.6 78h1.1v1.1h-1.1zM328.6 74.9h1.1v1.1h-1.1zM317.6 75.6h1.1v1.1h-1.1zM321.4 72.3h1.1v1.1h-1.1zM318.8 73.3h1.1v1.1h-1.1zM318.7 68h1.1v1.1h-1.1zM334.6 69h1.1v1.1h-1.1zM342.1 76.9h1.1v1.1h-1.1zM318.1 77.3h1.1v1.1h-1.1zM336.1 80.7h1.1v1.1h-1.1zM325 66.9h1.1v1.1h-1.1zM330 78h1.1v1.1h-1.1zM336.9 80h1.1v1.1h-1.1zM323 80.8h1.1v1.1h-1.1zM322.8 73.7h1.1v1.1h-1.1zM331.1 76.6h1.1v1.1h-1.1zM331.1 75.9h1.1v1.1h-1.1zM332.2 73.7h1.1v1.1h-1.1zM338.6 66.9h1.1v1.1h-1.1zM341.8 79.9h1.1v1.1h-1.1zM324.2 72.3h1.1v1.1h-1.1zM334.3 72.2h1.1v1.1h-1.1zM346.5 78.7h1.1v1.1h-1.1zM319.6 73.6h1.1v1.1h-1.1zM325.2 70.4h1.1v1.1h-1.1zM319.7 71.2h1.1v1.1h-1.1zM318 71.1h1.1v1.1h-1.1zM340.7 78h1.1v1.1h-1.1zM330 76.1h1.1v1.1h-1.1zM343.1 78.2h1.1v1.1h-1.1zM327.6 75.6h1.1v1.1h-1.1zM327.4 74.1h1.1v1.1h-1.1zM331.8 74.3h1.1v1.1h-1.1zM336.7 75.8h1.1v1.1h-1.1zM321.6 77.5h1.1v1.1h-1.1zM327.3 71.4h1.1v1.1h-1.1zM320.5 71.5h1.1v1.1h-1.1zM321.4 71.4h1.1v1.1h-1.1zM323.6 80.5h1.1v1.1h-1.1zM319.3 73.1h1.1v1.1h-1.1zM326.8 72h1.1v1.1h-1.1zM343.2 68.9h1.1v1.1h-1.1zM325.8 79.9h1.1v1.1h-1.1zM318.7 74.9h1.1v1.1h-1.1zM326.2 74.9h1.1v1.1h-1.1zM330.6 72.3h1.1v1.1h-1.1zM327.9 70.2h1.1v1.1h-1.1zM326.7 80.1h1.1v1.1h-1.1zM323.9 70.6h1.1v1.1h-1.1zM326.3 74.5h1.1v1.1h-1.1zM328.1 77.8h1.1v1.1h-1.1zM337.9 76.6h1.1v1.1h-1.1zM332.5 75.3h1.1v1.1h-1.1zM329.4 79.5h1.1v1.1h-1.1zM321.8 78.9h1.1v1.1h-1.1zM335.4 76.5h1.1v1.1h-1.1zM328.2 66.6h1.1v1.1h-1.1zM338.1 68.8h1.1v1.1h-1.1zM331.7 68.4h1.1v1.1h-1.1zM330.5 77.3h1.1v1.1h-1.1zM326.2 72h1.1v1.1h-1.1zM319.5 67.9h1.1v1.1h-1.1zM317.8 68.9h1.1v1.1h-1.1zM322.1 73.1h1.1v1.1h-1.1zM321.6 79.3h1.1v1.1h-1.1zM328.7 68.6h1.1v1.1h-1.1zM336.9 70.5h1.1v1.1h-1.1zM329.2 71.7h1.1v1.1h-1.1zM322.4 74.9h1.1v1.1h-1.1zM336.7 72.9h1.1v1.1h-1.1zM322.7 77.1h1.1v1.1h-1.1zM343.9 68.7h1.1v1.1h-1.1zM338.5 79.5h1.1v1.1h-1.1zM334.4 69.1h1.1v1.1h-1.1zM328.1 78h1.1v1.1h-1.1zM338.4 79.8h1.1v1.1h-1.1zM321.7 74h1.1v1.1h-1.1zM330.4 78.3h1.1v1.1h-1.1zM322.7 71h1.1v1.1h-1.1zM329.1 70.7h1.1v1.1h-1.1zM318.4 77h1.1v1.1h-1.1zM333.9 72.8h1.1v1.1h-1.1zM324.7 73.8h1.1v1.1h-1.1zM328.5 79.7h1.1v1.1h-1.1zM338.1 73.3h1.1v1.1h-1.1zM332.8 68.6h1.1v1.1h-1.1zM340.1 68.4h1.1v1.1h-1.1zM323.8 75.9h1.1v1.1h-1.1zM321.3 74.2h1.1v1.1h-1.1zM332.8 73.3h1.1v1.1h-1.1zM330.6 78.8h1.1v1.1h-1.1zM318.7 75h1.1v1.1h-1.1zM327.4 70.7h1.1v1.1h-1.1zM321.4 71.6h1.1v1.1h-1.1zM332.8 74.4h1.1v1.1h-1.1zM345.5 79h1.1v1.1h-1.1zM320.7 70.1h1.1v1.1h-1.1zM331 71.8h1.1v1.1h-1.1zM321.4 72.7h1.1v1.1h-1.1zM332.3 75.1h1.1v1.1h-1.1zM349.2 69.7h1.1v1.1h-1.1zM323.8 75.8h1.1v1.1h-1.1zM319.7 71h1.1v1.1h-1.1zM343.4 74.7h1.1v1.1h-1.1zM327.9 67.6h1.1v1.1h-1.1zM323.9 73.5h1.1v1.1h-1.1zM326.5 78.6h1.1v1.1h-1.1zM320.6 71.5h1.1v1.1h-1.1zM325.3 67.7h1.1v1.1h-1.1zM321.3 68.9h1.1v1.1h-1.1zM322.1 77.4h1.1v1.1h-1.1zM344.4 74.5h1.1v1.1h-1.1zM324.4 75.3h1.1v1.1h-1.1zM320.7 68.6h1.1v1.1h-1.1zM320.5 69.1h1.1v1.1h-1.1zM321.6 73.2h1.1v1.1h-1.1zM331.7 79.4h1.1v1.1h-1.1zM337.4 77.9h1.1v1.1h-1.1zM339.8 77.3h1.1v1.1h-1.1zM341.4 73.6h1.1v1.1h-1.1zM333.7 73.6h1.1v1.1h-1.1zM326.9 79.3h1.1v1.1h-1.1zM325.7 77.5h1.1v1.1h-1.1zM324.6 81.1h1.1v1.1h-1.1zM344.8 76.5h1.1v1.1h-1.1zM318.9 70.4h1.1v1.1h-1.1zM348.8 74.5h1.1v1.1h-1.1zM331.1 77.4h1.1v1.1h-1.1zM350.1 69.5h1.1v1.1h-1.1zM321 74.4h1.1v1.1h-1.1zM325.6 77.3h1.1v1.1h-1.1zM329.8 76.1h1.1v1.1h-1.1zM323.4 75.7h1.1v1.1h-1.1zM326.3 73.1h1.1v1.1h-1.1zM322.9 66.6h1.1v1.1h-1.1zM349.8 76.4h1.1v1.1h-1.1zM326.6 71.3h1.1v1.1h-1.1zM340.3 72.1h1.1v1.1h-1.1zM319.5 70.9h1.1v1.1h-1.1zM343.4 75.8h1.1v1.1h-1.1zM323.3 70.3h1.1v1.1h-1.1zM340.3 75.7h1.1v1.1h-1.1zM321.1 79.2h1.1v1.1h-1.1zM335.5 68.3h1.1v1.1h-1.1zM338.7 80.3h1.1v1.1h-1.1zM338.1 72h1.1v1.1h-1.1zM322.6 72.4h1.1v1.1h-1.1zM321.8 78.8h1.1v1.1h-1.1zM338.8 80.1h1.1v1.1h-1.1zM333.6 75.5h1.1v1.1h-1.1zM322.7 73.3h1.1v1.1h-1.1zM323.7 68.2h1.1v1.1h-1.1zM328.4 72.2h1.1v1.1h-1.1zM322.2 70.2h1.1v1.1h-1.1zM332.2 66.6h1.1v1.1h-1.1zM322.2 78.6h1.1v1.1h-1.1zM336.8 69.8h1.1v1.1h-1.1zM342.3 72.8h1.1v1.1h-1.1zM324 68.5h1.1v1.1h-1.1zM338.7 73.6h1.1v1.1h-1.1zM319.4 68.6h1.1v1.1h-1.1zM317.6 73.5h1.1v1.1h-1.1zM324.7 70.5h1.1v1.1h-1.1zM337.9 74.8h1.1v1.1h-1.1zM324 74.4h1.1v1.1h-1.1zM332.5 76.1h1.1v1.1h-1.1zM330.4 71.2h1.1v1.1h-1.1zM321 79.1h1.1v1.1h-1.1zM346.3 74.9h1.1v1.1h-1.1zM317.9 77.5h1.1v1.1h-1.1zM328.7 80.7h1.1v1.1h-1.1zM331.3 78.3h1.1v1.1h-1.1zM331.2 76.4h1.1v1.1h-1.1zM336.5 76.3h1.1v1.1h-1.1zM323.9 76h1.1v1.1h-1.1zM321.3 80.2h1.1v1.1h-1.1zM321.5 69.7h1.1v1.1h-1.1zM333.1 72.1h1.1v1.1h-1.1zM331.9 69.3h1.1v1.1h-1.1zM322.3 74.2h1.1v1.1h-1.1zM325.4 78.4h1.1v1.1h-1.1zM335 72.4h1.1v1.1h-1.1zM328.3 69.2h1.1v1.1h-1.1zM318.1 72.1h1.1v1.1h-1.1zM337.2 70.1h1.1v1.1h-1.1zM321.8 67.4h1.1v1.1h-1.1zM329.9 77.5h1.1v1.1h-1.1zM340.8 72.6h1.1v1.1h-1.1zM332.7 74.4h1.1v1.1h-1.1zM344.6 78.7h1.1v1.1h-1.1zM344.8 72.9h1.1v1.1h-1.1zM336.2 72.3h1.1v1.1h-1.1zM329.7 69.1h1.1v1.1h-1.1zM335.3 72.7h1.1v1.1h-1.1zM329.2 76.8h1.1v1.1h-1.1zM342.2 75.8h1.1v1.1h-1.1zM307.2 43.5h1.1v1.1h-1.1zM312.6 60.5h1.1v1.1h-1.1zM296.7 62.9h1.1v1.1h-1.1zM302.8 62.5h1.1v1.1h-1.1zM313 53h1.1v1.1h-1.1zM307.7 57.6h1.1v1.1h-1.1zM297.8 59.3h1.1v1.1h-1.1zM311.1 60.2h1.1v1.1h-1.1zM308.2 53.5h1.1v1.1h-1.1zM308.5 51.6h1.1v1.1h-1.1zM299.4 58.5h1.1v1.1h-1.1zM293.2 46.4h1.1v1.1h-1.1zM306.5 54.7h1.1v1.1h-1.1zM313.6 63.7h1.1v1.1h-1.1zM308.5 47.7h1.1v1.1h-1.1zM305.1 55.1h1.1v1.1h-1.1zM312.8 55h1.1v1.1h-1.1zM300.5 58.7h1.1v1.1h-1.1zM307.3 54.9h1.1v1.1h-1.1zM309.9 58.4h1.1v1.1h-1.1zM310 62.8h1.1v1.1h-1.1zM308.6 62h1.1v1.1h-1.1zM309.4 58.4h1.1v1.1h-1.1zM298.3 63.6h1.1v1.1h-1.1zM308.8 58.3h1.1v1.1h-1.1zM312 62.1h1.1v1.1h-1.1zM306.8 61.1h1.1v1.1h-1.1zM304.4 48.6h1.1v1.1h-1.1zM313.5 54.8h1.1v1.1h-1.1zM310.6 55.6h1.1v1.1h-1.1zM308.8 53.8h1.1v1.1h-1.1zM296.3 57h1.1v1.1h-1.1zM303.7 50.2h1.1v1.1h-1.1zM302.6 63.1h1.1v1.1h-1.1zM306.8 51.8h1.1v1.1h-1.1zM305.6 57.1h1.1v1.1h-1.1zM314.3 60.4h1.1v1.1h-1.1zM302.1 63.5h1.1v1.1h-1.1zM298.5 60.9h1.1v1.1h-1.1zM306.5 57.6h1.1v1.1h-1.1zM302.7 54.3h1.1v1.1h-1.1zM309.5 55.1h1.1v1.1h-1.1zM301.8 56.4h1.1v1.1h-1.1zM302.2 51h1.1v1.1h-1.1zM295.6 58.1h1.1v1.1h-1.1zM307.1 41.3h1.1v1.1h-1.1zM298.7 54.9h1.1v1.1h-1.1zM313 54.1h1.1v1.1h-1.1zM306.3 48h1.1v1.1h-1.1zM314.1 54.7h1.1v1.1h-1.1zM314.3 56.9h1.1v1.1h-1.1zM307.1 52.2h1.1v1.1h-1.1zM305.9 54.6h1.1v1.1h-1.1zM308.5 61.1h1.1v1.1h-1.1zM304.1 55.6h1.1v1.1h-1.1zM304.2 55.3h1.1v1.1h-1.1zM305.5 59.3h1.1v1.1h-1.1zM307.7 45.2h1.1v1.1h-1.1zM300.8 62.8h1.1v1.1h-1.1zM311.2 59.3h1.1v1.1h-1.1zM306.2 53.6h1.1v1.1h-1.1zM303.2 59.4h1.1v1.1h-1.1zM307.8 60h1.1v1.1h-1.1zM297.8 53.1h1.1v1.1h-1.1zM301 60.2h1.1v1.1h-1.1zM302 59.9h1.1v1.1h-1.1zM304 58.9h1.1v1.1h-1.1zM314.7 52.7h1.1v1.1h-1.1zM310.7 61.5h1.1v1.1h-1.1zM294.1 56.6h1.1v1.1h-1.1zM307.9 53h1.1v1.1h-1.1zM306.2 54.7h1.1v1.1h-1.1zM310.2 58h1.1v1.1h-1.1zM302.9 57.6h1.1v1.1h-1.1zM310.7 58.4h1.1v1.1h-1.1zM312.1 58.6h1.1v1.1h-1.1zM307.3 48.7h1.1v1.1h-1.1zM310.4 54.9h1.1v1.1h-1.1zM306.2 52.8h1.1v1.1h-1.1zM307.6 61.5h1.1v1.1h-1.1zM312.1 57.2h1.1v1.1h-1.1zM309.9 57.5h1.1v1.1h-1.1zM306.2 56h1.1v1.1h-1.1zM304.3 56h1.1v1.1h-1.1zM313.1 57.8h1.1v1.1h-1.1zM309.7 61.5h1.1v1.1h-1.1zM311.8 52.4h1.1v1.1h-1.1zM299.1 54.6h1.1v1.1h-1.1zM313.4 61.8h1.1v1.1h-1.1zM301.2 55.2h1.1v1.1h-1.1zM297.2 56.3h1.1v1.1h-1.1zM313 58.9h1.1v1.1h-1.1zM310.3 54.5h1.1v1.1h-1.1zM307.8 61.5h1.1v1.1h-1.1zM311.1 55.5h1.1v1.1h-1.1zM305.1 51.9h1.1v1.1h-1.1zM307.6 57.1h1.1v1.1h-1.1zM304.8 52.6h1.1v1.1h-1.1zM298 56.9h1.1v1.1h-1.1zM307 48.6h1.1v1.1h-1.1zM306.7 58.8h1.1v1.1h-1.1zM314 57.2h1.1v1.1h-1.1zM313.8 61.9h1.1v1.1h-1.1zM300.4 51.5h1.1v1.1h-1.1zM298.4 51.6h1.1v1.1h-1.1zM310.8 63.4h1.1v1.1h-1.1zM298.5 48.5h1.1v1.1h-1.1zM307.2 56.9h1.1v1.1h-1.1zM308.7 58.8h1.1v1.1h-1.1zM314.6 58.4h1.1v1.1h-1.1zM312 62.9h1.1v1.1h-1.1zM300.7 61.6h1.1v1.1h-1.1zM314.6 53.3h1.1v1.1h-1.1zM302.9 42.5h1.1v1.1h-1.1zM302.4 58.4h1.1v1.1h-1.1zM302 61.5h1.1v1.1h-1.1zM314.4 58h1.1v1.1h-1.1zM305.7 58h1.1v1.1h-1.1zM310.3 61.7h1.1v1.1h-1.1zM309.9 63.2h1.1v1.1h-1.1zM302.2 48.1h1.1v1.1h-1.1zM308.4 46.8h1.1v1.1h-1.1zM302.6 57.7h1.1v1.1h-1.1zM314.3 50.3h1.1v1.1h-1.1zM293.9 50.4h1.1v1.1h-1.1zM293.5 55.5h1.1v1.1h-1.1zM296.6 57.3h1.1v1.1h-1.1zM292.7 52.9h1.1v1.1h-1.1zM308.5 52.1h1.1v1.1h-1.1zM302.2 55.5h1.1v1.1h-1.1zM315.2 62.5h1.1v1.1h-1.1zM309.1 53.5h1.1v1.1h-1.1zM293.4 60.5h1.1v1.1h-1.1zM315.3 57.9h1.1v1.1h-1.1zM314.4 58h1.1v1.1h-1.1zM303.4 44.4h1.1v1.1h-1.1zM313.7 63.5h1.1v1.1h-1.1zM305.6 53.7h1.1v1.1h-1.1zM302.6 59.9h1.1v1.1h-1.1zM312.3 57h1.1v1.1h-1.1zM349.2 44.6h1.1v1.1h-1.1zM349.9 56h1.1v1.1h-1.1zM339.3 40.9h1.1v1.1h-1.1zM319.6 48.6h1.1v1.1h-1.1zM349.3 58.7h1.1v1.1h-1.1zM350.4 45h1.1v1.1h-1.1zM325.3 57.1h1.1v1.1h-1.1zM334.3 57.6h1.1v1.1h-1.1zM343.3 44.6h1.1v1.1h-1.1zM330.8 61.9h1.1v1.1h-1.1zM341 62.9h1.1v1.1h-1.1zM345.9 61.3h1.1v1.1h-1.1zM337.9 55.9h1.1v1.1h-1.1zM338.1 60.4h1.1v1.1h-1.1zM335.9 61.4h1.1v1.1h-1.1zM359.3 49.3h1.1v1.1h-1.1zM340.3 58.3h1.1v1.1h-1.1zM343.1 43.9h1.1v1.1h-1.1zM351.3 52.4h1.1v1.1h-1.1zM344.3 57.9h1.1v1.1h-1.1zM326.8 60h1.1v1.1h-1.1zM352.2 60h1.1v1.1h-1.1zM348.7 58.2h1.1v1.1h-1.1zM327 49.8h1.1v1.1h-1.1zM351 54h1.1v1.1h-1.1zM342.4 57.5h1.1v1.1h-1.1zM343.1 56.8h1.1v1.1h-1.1zM347.4 55.7h1.1v1.1h-1.1zM330.2 51.8h1.1v1.1h-1.1zM352.6 52h1.1v1.1h-1.1zM347.3 57.7h1.1v1.1h-1.1zM342 50h1.1v1.1h-1.1zM335.3 60.2h1.1v1.1h-1.1zM333.8 56.2h1.1v1.1h-1.1zM343.4 56.5h1.1v1.1h-1.1zM363.8 45h1.1v1.1h-1.1zM352.7 55.4h1.1v1.1h-1.1zM339.1 50.3h1.1v1.1h-1.1zM342.6 55.4h1.1v1.1h-1.1zM334.1 53.1h1.1v1.1h-1.1zM328.4 54.3h1.1v1.1h-1.1zM346 62.6h1.1v1.1h-1.1zM352.8 53.2h1.1v1.1h-1.1zM359.6 56.6h1.1v1.1h-1.1zM337.8 47.5h1.1v1.1h-1.1zM346.5 62.7h1.1v1.1h-1.1zM348.6 61.6h1.1v1.1h-1.1zM356.5 55h1.1v1.1h-1.1zM326.8 52.3h1.1v1.1h-1.1zM333.6 46.2h1.1v1.1h-1.1zM340.3 59.4h1.1v1.1h-1.1zM322.1 42.7h1.1v1.1h-1.1zM350.8 50.4h1.1v1.1h-1.1zM337.9 63.2h1.1v1.1h-1.1zM354.3 58.9h1.1v1.1h-1.1zM348 38.2h1.1v1.1h-1.1zM348.2 58.3h1.1v1.1h-1.1zM327 54.3h1.1v1.1h-1.1zM347.1 54.9h1.1v1.1h-1.1zM350.7 61.8h1.1v1.1h-1.1zM342.7 53.5h1.1v1.1h-1.1zM329.3 60.8h1.1v1.1h-1.1zM335.9 56.3h1.1v1.1h-1.1zM358.8 62.2h1.1v1.1h-1.1zM328.4 52.7h1.1v1.1h-1.1zM334.4 43.4h1.1v1.1h-1.1zM333.4 57.7h1.1v1.1h-1.1zM345.8 54.2h1.1v1.1h-1.1zM344 47.7h1.1v1.1h-1.1zM333.8 52.9h1.1v1.1h-1.1zM350.8 54.1h1.1v1.1h-1.1zM340.3 57h1.1v1.1h-1.1zM358.1 48.9h1.1v1.1h-1.1zM347.9 57h1.1v1.1h-1.1zM341.4 56.5h1.1v1.1h-1.1zM320.6 52.5h1.1v1.1h-1.1zM339.6 46.7h1.1v1.1h-1.1zM351.3 55.4h1.1v1.1h-1.1zM338.4 59.5h1.1v1.1h-1.1zM332.2 49.1h1.1v1.1h-1.1zM351.1 61.8h1.1v1.1h-1.1zM364 54.9h1.1v1.1h-1.1zM326.4 43.4h1.1v1.1h-1.1zM329.2 54.1h1.1v1.1h-1.1zM339.5 50.3h1.1v1.1h-1.1zM331.2 49.1h1.1v1.1h-1.1zM338.2 62.2h1.1v1.1h-1.1zM351 61.1h1.1v1.1h-1.1zM354.9 59.6h1.1v1.1h-1.1zM361.8 58.9h1.1v1.1h-1.1zM339.1 58h1.1v1.1h-1.1zM338 50h1.1v1.1h-1.1zM346.8 48.4h1.1v1.1h-1.1zM343.5 60.5h1.1v1.1h-1.1zM349.1 58.4h1.1v1.1h-1.1zM343.3 59.1h1.1v1.1h-1.1zM331.6 57.5h1.1v1.1h-1.1zM330.5 48.7h1.1v1.1h-1.1zM335.7 45.6h1.1v1.1h-1.1zM320.8 54.8h1.1v1.1h-1.1zM347.6 60h1.1v1.1h-1.1zM350.2 51.2h1.1v1.1h-1.1zM349.8 48.6h1.1v1.1h-1.1zM363.5 51.5h1.1v1.1h-1.1zM337.6 59.3h1.1v1.1h-1.1zM318.3 60.6h1.1v1.1h-1.1zM331.8 55h1.1v1.1h-1.1zM352.7 57.4h1.1v1.1h-1.1zM352.2 53.1h1.1v1.1h-1.1zM348.5 41.8h1.1v1.1h-1.1zM358.5 52.8h1.1v1.1h-1.1zM332.7 53.9h1.1v1.1h-1.1zM360.5 52.8h1.1v1.1h-1.1zM341.8 52.7h1.1v1.1h-1.1zM332 45.3h1.1v1.1h-1.1zM348.5 60.4h1.1v1.1h-1.1zM333.9 55.4h1.1v1.1h-1.1zM346.9 58.1h1.1v1.1h-1.1zM340.3 55.1h1.1v1.1h-1.1zM345.1 48.5h1.1v1.1h-1.1zM340.5 59.9h1.1v1.1h-1.1zM336 62.7h1.1v1.1h-1.1zM339.5 47.6h1.1v1.1h-1.1zM338.9 45.9h1.1v1.1h-1.1zM348.7 45.6h1.1v1.1h-1.1zM342.2 53.5h1.1v1.1h-1.1zM338.8 57.3h1.1v1.1h-1.1zM345.2 51.8h1.1v1.1h-1.1zM350.9 53.2h1.1v1.1h-1.1zM346.1 61.5h1.1v1.1h-1.1zM327.5 56.8h1.1v1.1h-1.1zM325.9 51.8h1.1v1.1h-1.1zM349.6 38.7h1.1v1.1h-1.1zM333.6 49h1.1v1.1h-1.1zM331.8 53.9h1.1v1.1h-1.1zM349 48.4h1.1v1.1h-1.1zM335.3 42.2h1.1v1.1h-1.1zM334.4 40.5h1.1v1.1h-1.1zM325.7 56h1.1v1.1h-1.1zM351.5 51h1.1v1.1h-1.1zM345.8 50.5h1.1v1.1h-1.1zM335.1 51h1.1v1.1h-1.1zM341.9 59.1h1.1v1.1h-1.1zM324.8 50.9h1.1v1.1h-1.1zM338.9 53.6h1.1v1.1h-1.1zM345.2 45.3h1.1v1.1h-1.1zM323.2 53h1.1v1.1h-1.1zM349.9 59.2h1.1v1.1h-1.1zM342.6 44.7h1.1v1.1h-1.1zM336.9 44.3h1.1v1.1h-1.1zM363.3 60h1.1v1.1h-1.1zM349.9 57.3h1.1v1.1h-1.1zM337.8 62.1h1.1v1.1h-1.1zM351.6 60.3h1.1v1.1h-1.1zM348.3 60.6h1.1v1.1h-1.1zM339 57.4h1.1v1.1h-1.1zM342.9 53.5h1.1v1.1h-1.1zM320 61.5h1.1v1.1h-1.1zM337.3 62.2h1.1v1.1h-1.1zM331 52.4h1.1v1.1h-1.1zM353.1 56h1.1v1.1h-1.1zM345.8 47.7h1.1v1.1h-1.1zM343.7 54.7h1.1v1.1h-1.1zM327 46.4h1.1v1.1h-1.1zM330.8 53.3h1.1v1.1h-1.1zM340.8 50.9h1.1v1.1h-1.1zM334.7 54.8h1.1v1.1h-1.1zM354.7 47.6h1.1v1.1h-1.1zM326.6 60.3h1.1v1.1h-1.1zM326.5 50.4h1.1v1.1h-1.1zM341.1 61.8h1.1v1.1h-1.1zM343.6 50h1.1v1.1h-1.1zM344.1 42h1.1v1.1h-1.1zM339.8 60h1.1v1.1h-1.1zM330.6 63.1h1.1v1.1h-1.1zM335 49h1.1v1.1h-1.1zM333.7 42.5h1.1v1.1h-1.1zM326.5 51.7h1.1v1.1h-1.1zM346.9 52h1.1v1.1h-1.1zM325.1 55h1.1v1.1h-1.1zM352.9 57.1h1.1v1.1h-1.1zM330.4 51.6h1.1v1.1h-1.1zM321.1 52h1.1v1.1h-1.1zM341.1 57.7h1.1v1.1h-1.1zM336.4 55.1h1.1v1.1h-1.1zM335.5 55.2h1.1v1.1h-1.1zM336.4 55.6h1.1v1.1h-1.1zM349.5 55.8h1.1v1.1h-1.1zM328 56.4h1.1v1.1h-1.1zM339.3 51.5h1.1v1.1h-1.1zM348.1 50.4h1.1v1.1h-1.1zM352.1 59.9h1.1v1.1h-1.1zM334.5 49.5h1.1v1.1h-1.1zM340.7 49h1.1v1.1h-1.1zM352.3 41.7h1.1v1.1h-1.1zM343.6 53h1.1v1.1h-1.1zM330.1 57.6h1.1v1.1h-1.1zM336.8 57.3h1.1v1.1h-1.1zM337.3 52.6h1.1v1.1h-1.1zM347.7 61.9h1.1v1.1h-1.1zM352.8 56.2h1.1v1.1h-1.1zM358.1 54.9h1.1v1.1h-1.1zM327.3 41h1.1v1.1h-1.1zM326.4 47.4h1.1v1.1h-1.1zM322.7 54.7h1.1v1.1h-1.1zM342.4 54.8h1.1v1.1h-1.1zM344.6 54.6h1.1v1.1h-1.1zM339.3 52.6h1.1v1.1h-1.1zM342.5 47.8h1.1v1.1h-1.1zM331.5 59.5h1.1v1.1h-1.1zM324.5 56.7h1.1v1.1h-1.1zM333.9 60.5h1.1v1.1h-1.1zM343.2 61.3h1.1v1.1h-1.1zM348.6 59.2h1.1v1.1h-1.1zM345.9 58.6h1.1v1.1h-1.1zM357.5 55.3h1.1v1.1h-1.1zM342.9 45.7h1.1v1.1h-1.1zM355.2 54.7h1.1v1.1h-1.1zM343.1 55.9h1.1v1.1h-1.1zM352.4 60.4h1.1v1.1h-1.1zM322.3 48.2h1.1v1.1h-1.1zM345.8 56.6h1.1v1.1h-1.1zM350.6 59.8h1.1v1.1h-1.1zM359.6 52.6h1.1v1.1h-1.1zM356.2 59.3h1.1v1.1h-1.1zM345.3 59.9h1.1v1.1h-1.1zM338.4 59.2h1.1v1.1h-1.1zM339.8 59.4h1.1v1.1h-1.1zM333.8 61.6h1.1v1.1h-1.1zM325.6 48.7h1.1v1.1h-1.1zM341.5 56.5h1.1v1.1h-1.1zM333.4 51.3h1.1v1.1h-1.1zM344.8 62.2h1.1v1.1h-1.1zM356 53.7h1.1v1.1h-1.1zM341.3 52.9h1.1v1.1h-1.1zM325.6 50h1.1v1.1h-1.1zM354.3 47.8h1.1v1.1h-1.1zM360.8 58.6h1.1v1.1h-1.1zM359.2 53.5h1.1v1.1h-1.1zM355.8 61.7h1.1v1.1h-1.1zM350.5 61h1.1v1.1h-1.1zM348.4 60h1.1v1.1h-1.1zM355 59.4h1.1v1.1h-1.1zM348.9 58.7h1.1v1.1h-1.1zM343.6 49.6h1.1v1.1h-1.1zM322.7 46h1.1v1.1h-1.1zM328.7 43.7h1.1v1.1h-1.1zM349.5 53.8h1.1v1.1h-1.1zM350.4 53.1h1.1v1.1h-1.1zM346.2 54.2h1.1v1.1h-1.1zM351 62h1.1v1.1h-1.1zM329.4 49.4h1.1v1.1h-1.1zM343.9 53.9h1.1v1.1h-1.1zM336.4 41.3h1.1v1.1h-1.1zM334 53.3h1.1v1.1h-1.1zM345.4 48.5h1.1v1.1h-1.1zM343.8 42.5h1.1v1.1h-1.1zM340.1 54.8h1.1v1.1h-1.1zM355.8 58h1.1v1.1h-1.1zM356.9 59.1h1.1v1.1h-1.1zM358.7 58.4h1.1v1.1h-1.1zM328.9 54.7h1.1v1.1h-1.1zM347.2 51.1h1.1v1.1h-1.1zM351 55.1h1.1v1.1h-1.1zM350.7 57.4h1.1v1.1h-1.1zM332 60.6h1.1v1.1h-1.1zM345.2 44.2h1.1v1.1h-1.1zM345.6 55.3h1.1v1.1h-1.1zM333.6 41.5h1.1v1.1h-1.1zM346.9 62h1.1v1.1h-1.1zM321.6 54.7h1.1v1.1h-1.1zM341.8 48.7h1.1v1.1h-1.1zM341.5 57.8h1.1v1.1h-1.1zM334.2 48.9h1.1v1.1h-1.1zM345 61.1h1.1v1.1h-1.1zM339.6 57.9h1.1v1.1h-1.1zM336.7 52.1h1.1v1.1h-1.1zM344.2 61.6h1.1v1.1h-1.1zM359.2 56.4h1.1v1.1h-1.1zM351.1 53.9h1.1v1.1h-1.1zM346.5 46.3h1.1v1.1h-1.1zM319.5 47.2h1.1v1.1h-1.1zM334.4 45.3h1.1v1.1h-1.1zM353.2 53.5h1.1v1.1h-1.1zM343.1 55.6h1.1v1.1h-1.1zM339.9 47.1h1.1v1.1h-1.1zM363 44.8h1.1v1.1h-1.1zM341.8 59.5h1.1v1.1h-1.1zM340 54.1h1.1v1.1h-1.1zM345.5 57h1.1v1.1h-1.1zM338.5 61.6h1.1v1.1h-1.1zM343.1 42.2h1.1v1.1h-1.1zM324.3 49.4h1.1v1.1h-1.1zM347.1 45h1.1v1.1h-1.1zM336.1 62.4h1.1v1.1h-1.1zM345.8 50.9h1.1v1.1h-1.1zM341 55.7h1.1v1.1h-1.1zM337.6 52.4h1.1v1.1h-1.1zM335.3 55.6h1.1v1.1h-1.1zM340.9 45.8h1.1v1.1h-1.1zM326.2 54h1.1v1.1h-1.1zM344.7 51.2h1.1v1.1h-1.1zM333.6 52.6h1.1v1.1h-1.1zM345 59.8h1.1v1.1h-1.1zM348.2 40.3h1.1v1.1h-1.1zM335.8 56h1.1v1.1h-1.1zM346.2 60.8h1.1v1.1h-1.1zM326.2 63.3h1.1v1.1h-1.1zM329.4 52.1h1.1v1.1h-1.1zM337.2 51.3h1.1v1.1h-1.1zM333.9 59.3h1.1v1.1h-1.1zM350.6 58.4h1.1v1.1h-1.1zM328.5 49.2h1.1v1.1h-1.1zM341.6 57.6h1.1v1.1h-1.1zM336.2 52.6h1.1v1.1h-1.1zM339 38.6h1.1v1.1h-1.1zM351.2 48.4h1.1v1.1h-1.1zM350.6 57.3h1.1v1.1h-1.1zM333.7 59.2h1.1v1.1h-1.1zM335.7 52.3h1.1v1.1h-1.1zM342.4 56.5h1.1v1.1h-1.1zM337.5 56.4h1.1v1.1h-1.1zM342.2 56.4h1.1v1.1h-1.1zM346.3 51.4h1.1v1.1h-1.1zM327.6 52.7h1.1v1.1h-1.1zM355.4 58.9h1.1v1.1h-1.1zM344.6 50.5h1.1v1.1h-1.1zM330 45.4h1.1v1.1h-1.1zM332.4 51.4h1.1v1.1h-1.1zM325.7 52.2h1.1v1.1h-1.1zM325.4 57.2h1.1v1.1h-1.1zM341.9 43.5h1.1v1.1h-1.1zM336.3 55.8h1.1v1.1h-1.1zM346.3 60.6h1.1v1.1h-1.1zM338.4 53.6h1.1v1.1h-1.1zM339.7 58.3h1.1v1.1h-1.1zM334.8 53.1h1.1v1.1h-1.1zM343.8 53h1.1v1.1h-1.1zM330.7 62.5h1.1v1.1h-1.1zM347.5 49.8h1.1v1.1h-1.1zM363.1 52.7h1.1v1.1h-1.1zM332.9 51.5h1.1v1.1h-1.1zM356.8 60.5h1.1v1.1h-1.1zM342.9 59.5h1.1v1.1h-1.1zM333.8 49.4h1.1v1.1h-1.1zM347.8 57.1h1.1v1.1h-1.1zM344.7 48.8h1.1v1.1h-1.1zM344.8 46h1.1v1.1h-1.1zM352.1 56.4h1.1v1.1h-1.1zM335.3 51.1h1.1v1.1h-1.1zM334.7 63.1h1.1v1.1h-1.1zM342.4 56.8h1.1v1.1h-1.1zM332 45.2h1.1v1.1h-1.1zM344.7 52.5h1.1v1.1h-1.1zM347.6 62.7h1.1v1.1h-1.1zM341 58.4h1.1v1.1h-1.1zM344.1 56.8h1.1v1.1h-1.1zM336.7 55.9h1.1v1.1h-1.1zM346.8 56.2h1.1v1.1h-1.1zM337.4 45h1.1v1.1h-1.1zM353 58.4h1.1v1.1h-1.1zM345.3 54.5h1.1v1.1h-1.1zM349.5 62.3h1.1v1.1h-1.1zM339.6 56.8h1.1v1.1h-1.1zM352.4 46.1h1.1v1.1h-1.1zM332.2 50.1h1.1v1.1h-1.1zM329.9 50.6h1.1v1.1h-1.1zM333.2 51.3h1.1v1.1h-1.1zM347.3 48.1h1.1v1.1h-1.1zM344.2 47.4h1.1v1.1h-1.1zM335.8 61.9h1.1v1.1h-1.1zM339.4 50.6h1.1v1.1h-1.1zM350.5 51.5h1.1v1.1h-1.1zM330.4 57.6h1.1v1.1h-1.1zM342.4 50.9h1.1v1.1h-1.1zM347.2 62.9h1.1v1.1h-1.1zM353.7 57.2h1.1v1.1h-1.1zM347.1 58.9h1.1v1.1h-1.1zM335.2 50.5h1.1v1.1h-1.1zM333.5 47.7h1.1v1.1h-1.1zM353.8 56.6h1.1v1.1h-1.1zM336.1 42.4h1.1v1.1h-1.1zM344 55h1.1v1.1h-1.1zM331.3 53.1h1.1v1.1h-1.1zM322.8 56.9h1.1v1.1h-1.1zM329.3 56.7h1.1v1.1h-1.1zM343.3 41.4h1.1v1.1h-1.1zM330.4 49.3h1.1v1.1h-1.1zM350.6 60.1h1.1v1.1h-1.1zM339.2 51.4h1.1v1.1h-1.1zM322.3 45.8h1.1v1.1h-1.1zM348.2 50.4h1.1v1.1h-1.1zM333 60.1h1.1v1.1h-1.1zM355.9 45.1h1.1v1.1h-1.1zM347.2 55.7h1.1v1.1h-1.1zM351.8 54.1h1.1v1.1h-1.1zM335.9 57h1.1v1.1h-1.1zM348.9 55.2h1.1v1.1h-1.1zM351.5 59.7h1.1v1.1h-1.1zM351 45.1h1.1v1.1h-1.1zM331.3 55.6h1.1v1.1h-1.1zM342.4 50.2h1.1v1.1h-1.1zM330.7 40.9h1.1v1.1h-1.1zM336.9 58.2h1.1v1.1h-1.1zM341.5 45.4h1.1v1.1h-1.1zM341.2 55.3h1.1v1.1h-1.1zM334.3 63.6h1.1v1.1h-1.1zM346.9 62.9h1.1v1.1h-1.1zM343.3 48.9h1.1v1.1h-1.1zM336 45.6h1.1v1.1h-1.1zM350.9 52.5h1.1v1.1h-1.1zM330 53h1.1v1.1h-1.1zM348.1 50.9h1.1v1.1h-1.1zM342.6 61.6h1.1v1.1h-1.1zM350.1 45.9h1.1v1.1h-1.1zM351.9 55.8h1.1v1.1h-1.1zM346.1 45.3h1.1v1.1h-1.1zM336 50.9h1.1v1.1h-1.1zM364.1 57.9h1.1v1.1h-1.1zM355.2 46h1.1v1.1h-1.1zM327.9 56.2h1.1v1.1h-1.1zM342.2 54.5h1.1v1.1h-1.1zM351.6 58h1.1v1.1h-1.1zM336.4 62h1.1v1.1h-1.1zM340.1 58.2h1.1v1.1h-1.1zM340.3 60.2h1.1v1.1h-1.1zM336.3 61.7h1.1v1.1h-1.1zM346.2 57.3h1.1v1.1h-1.1zM357.5 62.6h1.1v1.1h-1.1zM328.3 63h1.1v1.1h-1.1zM324.5 63.7h1.1v1.1h-1.1zM345.7 58h1.1v1.1h-1.1zM327.1 55.7h1.1v1.1h-1.1zM320.2 62.3h1.1v1.1h-1.1zM323.2 54.4h1.1v1.1h-1.1zM318.6 62.7h1.1v1.1h-1.1zM330 63h1.1v1.1h-1.1zM326.8 62.9h1.1v1.1h-1.1zM319.1 58.2h1.1v1.1h-1.1zM328.4 56h1.1v1.1h-1.1zM344.4 60.3h1.1v1.1h-1.1zM319 58.6h1.1v1.1h-1.1zM319.2 61.4h1.1v1.1h-1.1zM326 63.5h1.1v1.1h-1.1zM345.8 60.7h1.1v1.1h-1.1zM340.5 60.9h1.1v1.1h-1.1zM317.7 58.5h1.1v1.1h-1.1zM349.4 63.5h1.1v1.1h-1.1zM319 61.4h1.1v1.1h-1.1zM332.2 61.4h1.1v1.1h-1.1zM329.5 60.8h1.1v1.1h-1.1zM320.4 60.7h1.1v1.1h-1.1zM329.4 58.3h1.1v1.1h-1.1zM336.7 61.5h1.1v1.1h-1.1zM323.7 55.6h1.1v1.1h-1.1zM344.7 59.9h1.1v1.1h-1.1zM347 62.3h1.1v1.1h-1.1zM335.5 63.7h1.1v1.1h-1.1zM340.9 60.1h1.1v1.1h-1.1zM331 58.2h1.1v1.1h-1.1zM319.5 58.2h1.1v1.1h-1.1zM341 60.5h1.1v1.1h-1.1zM348.9 57.5h1.1v1.1h-1.1zM336.9 61.7h1.1v1.1h-1.1zM327.4 59.3h1.1v1.1h-1.1zM336 55.2h1.1v1.1h-1.1zM334.4 58.5h1.1v1.1h-1.1zM333.9 58.9h1.1v1.1h-1.1zM336 60.3h1.1v1.1h-1.1zM322 62.6h1.1v1.1h-1.1zM338.8 56.4h1.1v1.1h-1.1zM348.4 62.4h1.1v1.1h-1.1zM342.7 60.1h1.1v1.1h-1.1zM322.8 56.4h1.1v1.1h-1.1zM327.9 62.4h1.1v1.1h-1.1zM327.7 59.6h1.1v1.1h-1.1zM331.1 60.5h1.1v1.1h-1.1zM346.1 57.2h1.1v1.1h-1.1zM333.3 56.6h1.1v1.1h-1.1zM329.7 62.3h1.1v1.1h-1.1zM334 61.9h1.1v1.1h-1.1zM321.5 56.8h1.1v1.1h-1.1zM341.1 60h1.1v1.1h-1.1zM338.6 52.9h1.1v1.1h-1.1zM359.8 61.4h1.1v1.1h-1.1zM330.3 56.2h1.1v1.1h-1.1zM328.2 59.8h1.1v1.1h-1.1zM333.5 60.5h1.1v1.1h-1.1zM336.6 57.5h1.1v1.1h-1.1zM323.9 59.5h1.1v1.1h-1.1zM334.9 56.1h1.1v1.1h-1.1zM330.7 61.8h1.1v1.1h-1.1zM334.3 62.3h1.1v1.1h-1.1zM320.4 58.3h1.1v1.1h-1.1zM340.7 59.3h1.1v1.1h-1.1zM347.1 63h1.1v1.1h-1.1zM336.9 62.7h1.1v1.1h-1.1zM346.7 57.7h1.1v1.1h-1.1zM324.2 61h1.1v1.1h-1.1zM329.9 60.8h1.1v1.1h-1.1zM359.1 60.4h1.1v1.1h-1.1zM327.8 60.7h1.1v1.1h-1.1zM326.2 56.9h1.1v1.1h-1.1zM343 61.1h1.1v1.1h-1.1zM334.3 61.1h1.1v1.1h-1.1zM321.2 56.4h1.1v1.1h-1.1zM326.8 62.6h1.1v1.1h-1.1zM328.7 63.1h1.1v1.1h-1.1zM321 60.2h1.1v1.1h-1.1zM331.8 60.7h1.1v1.1h-1.1zM325.3 61.4h1.1v1.1h-1.1zM322.6 62.6h1.1v1.1h-1.1zM332.7 58.9h1.1v1.1h-1.1zM318.5 57.5h1.1v1.1h-1.1zM326.8 61.5h1.1v1.1h-1.1zM324.4 60.7h1.1v1.1h-1.1zM331.6 61.6h1.1v1.1h-1.1zM352.5 62.1h1.1v1.1h-1.1zM337.6 59.5h1.1v1.1h-1.1zM323.8 63.3h1.1v1.1h-1.1zM323.2 59.1h1.1v1.1h-1.1zM329 62.6h1.1v1.1h-1.1zM320.1 57.4h1.1v1.1h-1.1zM342.8 61.1h1.1v1.1h-1.1zM339.2 57.7h1.1v1.1h-1.1zM324 58.7h1.1v1.1h-1.1zM327.6 58.7h1.1v1.1h-1.1zM331.5 58.8h1.1v1.1h-1.1zM330.4 57.2h1.1v1.1h-1.1zM326.3 60h1.1v1.1h-1.1zM324.8 60.8h1.1v1.1h-1.1zM320.5 63.1h1.1v1.1h-1.1zM319.1 58.3h1.1v1.1h-1.1zM352.9 60.3h1.1v1.1h-1.1zM325.6 58.4h1.1v1.1h-1.1zM347 62.5h1.1v1.1h-1.1zM342.8 62.3h1.1v1.1h-1.1zM324.1 63.3h1.1v1.1h-1.1zM341.3 63.6h1.1v1.1h-1.1zM325.9 59.9h1.1v1.1h-1.1z"/>
<rect x="292.1" y="33.3" width="77.3" height="49.3" fill="none" stroke="#000" stroke-width="1.1"/>
<line x1="292.1" y1="65.2" x2="369.4" y2="65.2" stroke="#000" stroke-width="1.3"/>
<line x1="316.9" y1="33.3" x2="316.9" y2="82.6" stroke="#000" stroke-width="1.3"/>
<line x1="289.7" y1="33.3" x2="292.1" y2="33.3" stroke="#000" stroke-width="1.3"/>
<line x1="289.7" y1="36.4" x2="292.1" y2="36.4" stroke="#000" stroke-width="1.3"/>
<line x1="289.7" y1="39.5" x2="292.1" y2="39.5" stroke="#000" stroke-width="1.3"/>
<line x1="289.7" y1="42.5" x2="292.1" y2="42.5" stroke="#000" stroke-width="1.3"/>
<line x1="289.7" y1="45.6" x2="292.1" y2="45.6" stroke="#000" stroke-width="1.3"/>
<line x1="289.7" y1="48.7" x2="292.1" y2="48.7" stroke="#000" stroke-width="1.3"/>
<line x1="289.7" y1="51.8" x2="292.1" y2="51.8" stroke="#000" stroke-width="1.3"/>
<line x1="289.7" y1="54.9" x2="292.1" y2="54.9" stroke="#000" stroke-width="1.3"/>
<line x1="289.7" y1="57.9" x2="292.1" y2="57.9" stroke="#000" stroke-width="1.3"/>
<line x1="289.7" y1="61" x2="292.1" y2="61" stroke="#000" stroke-width="1.3"/>
<line x1="289.7" y1="64.1" x2="292.1" y2="64.1" stroke="#000" stroke-width="1.3"/>
<line x1="289.7" y1="67.2" x2="292.1" y2="67.2" stroke="#000" stroke-width="1.3"/>
<line x1="289.7" y1="70.3" x2="292.1" y2="70.3" stroke="#000" stroke-width="1.3"/>
<line x1="289.7" y1="73.4" x2="292.1" y2="73.4" stroke="#000" stroke-width="1.3"/>
<line x1="289.7" y1="76.4" x2="292.1" y2="76.4" stroke="#000" stroke-width="1.3"/>
<line x1="289.7" y1="79.5" x2="292.1" y2="79.5" stroke="#000" stroke-width="1.3"/>
<line x1="289.7" y1="82.6" x2="292.1" y2="82.6" stroke="#000" stroke-width="1.3"/>
<line x1="292.1" y1="82.6" x2="292.1" y2="85" stroke="#000" stroke-width="1.3"/>
<line x1="295.1" y1="82.6" x2="295.1" y2="85" stroke="#000" stroke-width="1.3"/>
<line x1="298" y1="82.6" x2="298" y2="85" stroke="#000" stroke-width="1.3"/>
<line x1="301" y1="82.6" x2="301" y2="85" stroke="#000" stroke-width="1.3"/>
<line x1="304" y1="82.6" x2="304" y2="85" stroke="#000" stroke-width="1.3"/>
<line x1="307" y1="82.6" x2="307" y2="85" stroke="#000" stroke-width="1.3"/>
<line x1="309.9" y1="82.6" x2="309.9" y2="85" stroke="#000" stroke-width="1.3"/>
<line x1="312.9" y1="82.6" x2="312.9" y2="85" stroke="#000" stroke-width="1.3"/>
<line x1="315.9" y1="82.6" x2="315.9" y2="85" stroke="#000" stroke-width="1.3"/>
<line x1="318.9" y1="82.6" x2="318.9" y2="85" stroke="#000" stroke-width="1.3"/>
<line x1="321.8" y1="82.6" x2="321.8" y2="85" stroke="#000" stroke-width="1.3"/>
<line x1="324.8" y1="82.6" x2="324.8" y2="85" stroke="#000" stroke-width="1.3"/>
<line x1="327.8" y1="82.6" x2="327.8" y2="85" stroke="#000" stroke-width="1.3"/>
<line x1="330.8" y1="82.6" x2="330.8" y2="85" stroke="#000" stroke-width="1.3"/>
<line x1="333.7" y1="82.6" x2="333.7" y2="85" stroke="#000" stroke-width="1.3"/>
<line x1="336.7" y1="82.6" x2="336.7" y2="85" stroke="#000" stroke-width="1.3"/>
<line x1="339.7" y1="82.6" x2="339.7" y2="85" stroke="#000" stroke-width="1.3"/>
<line x1="342.6" y1="82.6" x2="342.6" y2="85" stroke="#000" stroke-width="1.3"/>
<line x1="345.6" y1="82.6" x2="345.6" y2="85" stroke="#000" stroke-width="1.3"/>
<line x1="348.6" y1="82.6" x2="348.6" y2="85" stroke="#000" stroke-width="1.3"/>
<line x1="351.6" y1="82.6" x2="351.6" y2="85" stroke="#000" stroke-width="1.3"/>
<line x1="354.5" y1="82.6" x2="354.5" y2="85" stroke="#000" stroke-width="1.3"/>
<line x1="357.5" y1="82.6" x2="357.5" y2="85" stroke="#000" stroke-width="1.3"/>
<line x1="360.5" y1="82.6" x2="360.5" y2="85" stroke="#000" stroke-width="1.3"/>
<line x1="363.5" y1="82.6" x2="363.5" y2="85" stroke="#000" stroke-width="1.3"/>
<line x1="366.4" y1="82.6" x2="366.4" y2="85" stroke="#000" stroke-width="1.3"/>
<line x1="369.4" y1="82.6" x2="369.4" y2="85" stroke="#000" stroke-width="1.3"/>
<text x="288.1" y="38.5" font-size="6.6" font-weight="bold" text-anchor="end" letter-spacing="0.7">10<tspan font-size="4.49" dy="-2.1" letter-spacing="0">3</tspan></text>
<text x="288.1" y="55.4" font-size="6.6" font-weight="bold" text-anchor="end" letter-spacing="0.7">10<tspan font-size="4.49" dy="-2.1" letter-spacing="0">2</tspan></text>
<text x="288.1" y="70.5" font-size="6.6" font-weight="bold" text-anchor="end" letter-spacing="0.7">10<tspan font-size="4.49" dy="-2.1" letter-spacing="0">1</tspan></text>
<text x="288.1" y="85.3" font-size="6.6" font-weight="bold" text-anchor="end" letter-spacing="0.7">10<tspan font-size="4.49" dy="-2.1" letter-spacing="0">0</tspan></text>
<text x="292.1" y="94.2" font-size="6.6" font-weight="bold" text-anchor="middle" letter-spacing="0.7">10<tspan font-size="4.49" dy="-2.1" letter-spacing="0">0</tspan></text>
<text x="317.9" y="94.2" font-size="6.6" font-weight="bold" text-anchor="middle" letter-spacing="0.7">10<tspan font-size="4.49" dy="-2.1" letter-spacing="0">1</tspan></text>
<text x="343.6" y="94.2" font-size="6.6" font-weight="bold" text-anchor="middle" letter-spacing="0.7">10<tspan font-size="4.49" dy="-2.1" letter-spacing="0">2</tspan></text>
<text x="369.4" y="94.2" font-size="6.6" font-weight="bold" text-anchor="middle" letter-spacing="0.7">10<tspan font-size="4.49" dy="-2.1" letter-spacing="0">3</tspan></text>
<rect x="404.2" y="68.2" width="51" height="13.8" fill="#e41010"/>
<path fill="#e41010" d="M422.4 70.3h1.1v1.1h-1.1zM433.9 67.4h1.1v1.1h-1.1zM457.1 72.1h1.1v1.1h-1.1zM454 66.7h1.1v1.1h-1.1zM444.6 79.9h1.1v1.1h-1.1zM427.8 71.9h1.1v1.1h-1.1zM437.6 70.8h1.1v1.1h-1.1zM417.4 80.1h1.1v1.1h-1.1zM438.8 73.8h1.1v1.1h-1.1zM428.9 78.3h1.1v1.1h-1.1zM444 70.5h1.1v1.1h-1.1zM420.9 72.4h1.1v1.1h-1.1zM407.1 72.6h1.1v1.1h-1.1zM410.3 76.3h1.1v1.1h-1.1zM422 71.2h1.1v1.1h-1.1zM415.9 70h1.1v1.1h-1.1zM416.5 79.7h1.1v1.1h-1.1zM428.6 74.5h1.1v1.1h-1.1zM421.3 80.7h1.1v1.1h-1.1zM436.4 68.8h1.1v1.1h-1.1zM440.8 66.2h1.1v1.1h-1.1zM457.7 77.5h1.1v1.1h-1.1zM415.6 72.7h1.1v1.1h-1.1zM453.1 78h1.1v1.1h-1.1zM446.4 75h1.1v1.1h-1.1zM414.7 76.1h1.1v1.1h-1.1zM435.3 68.5h1.1v1.1h-1.1zM407.2 74.2h1.1v1.1h-1.1zM453.5 71.2h1.1v1.1h-1.1zM438.5 67.8h1.1v1.1h-1.1zM451.4 79.7h1.1v1.1h-1.1zM420.3 77.1h1.1v1.1h-1.1zM444 72.8h1.1v1.1h-1.1zM451.6 66.9h1.1v1.1h-1.1zM419.6 68h1.1v1.1h-1.1zM448.7 77.4h1.1v1.1h-1.1zM416.5 76.2h1.1v1.1h-1.1zM431.7 74.8h1.1v1.1h-1.1zM426.5 74.8h1.1v1.1h-1.1zM434.3 71.1h1.1v1.1h-1.1zM423.9 68.7h1.1v1.1h-1.1zM438.1 78.7h1.1v1.1h-1.1zM416.4 75.1h1.1v1.1h-1.1zM425.1 69h1.1v1.1h-1.1zM407.5 66.8h1.1v1.1h-1.1zM444.2 68.2h1.1v1.1h-1.1zM419.3 74h1.1v1.1h-1.1zM414.7 75h1.1v1.1h-1.1zM429.6 69.6h1.1v1.1h-1.1zM440.7 75.9h1.1v1.1h-1.1zM455.4 71.3h1.1v1.1h-1.1zM445.9 75.7h1.1v1.1h-1.1zM434.9 66.8h1.1v1.1h-1.1zM420.7 72.7h1.1v1.1h-1.1zM406.6 67.7h1.1v1.1h-1.1zM448.5 67.9h1.1v1.1h-1.1zM434.3 69.8h1.1v1.1h-1.1zM432.5 72.2h1.1v1.1h-1.1zM418.4 73.1h1.1v1.1h-1.1zM419.1 80.6h1.1v1.1h-1.1zM428.9 68.1h1.1v1.1h-1.1zM444.1 68.7h1.1v1.1h-1.1zM444.2 78h1.1v1.1h-1.1zM453.8 74.1h1.1v1.1h-1.1zM444.4 78.2h1.1v1.1h-1.1zM448 75.4h1.1v1.1h-1.1zM452.3 77.5h1.1v1.1h-1.1zM424.7 71.8h1.1v1.1h-1.1zM449.4 80.3h1.1v1.1h-1.1zM424.4 80.2h1.1v1.1h-1.1zM446.9 76.8h1.1v1.1h-1.1zM422.3 70.4h1.1v1.1h-1.1zM419.7 76.6h1.1v1.1h-1.1zM429.1 69.6h1.1v1.1h-1.1zM412 78.5h1.1v1.1h-1.1zM414.4 68.8h1.1v1.1h-1.1zM432.7 67h1.1v1.1h-1.1zM425.9 69.3h1.1v1.1h-1.1zM450.4 74.6h1.1v1.1h-1.1zM430.7 73.3h1.1v1.1h-1.1zM405.1 79h1.1v1.1h-1.1zM455 66.3h1.1v1.1h-1.1zM434.5 78.2h1.1v1.1h-1.1zM449.8 80.8h1.1v1.1h-1.1zM452.8 79.7h1.1v1.1h-1.1zM412 81.3h1.1v1.1h-1.1zM457.2 76h1.1v1.1h-1.1zM451.4 70.2h1.1v1.1h-1.1zM427.4 67.9h1.1v1.1h-1.1zM429.5 81.3h1.1v1.1h-1.1zM442.1 73.2h1.1v1.1h-1.1zM421.1 69.4h1.1v1.1h-1.1zM427.3 70.6h1.1v1.1h-1.1zM430.5 74.9h1.1v1.1h-1.1zM426 75.2h1.1v1.1h-1.1zM426.4 73.8h1.1v1.1h-1.1zM430.3 79h1.1v1.1h-1.1zM452.3 75.1h1.1v1.1h-1.1zM445 70.8h1.1v1.1h-1.1zM412.9 71h1.1v1.1h-1.1zM411.6 77.8h1.1v1.1h-1.1zM453.5 76h1.1v1.1h-1.1zM415.9 68.2h1.1v1.1h-1.1zM445.7 74.9h1.1v1.1h-1.1zM411.9 81.3h1.1v1.1h-1.1zM444.7 80.8h1.1v1.1h-1.1zM457.1 78.1h1.1v1.1h-1.1zM454.2 80.5h1.1v1.1h-1.1zM412.7 71.5h1.1v1.1h-1.1zM433.1 75.9h1.1v1.1h-1.1zM412.3 70.3h1.1v1.1h-1.1zM445.7 80.9h1.1v1.1h-1.1zM429.7 80.4h1.1v1.1h-1.1zM451.3 79.9h1.1v1.1h-1.1zM414.3 72h1.1v1.1h-1.1zM439.9 78.5h1.1v1.1h-1.1zM448.9 68h1.1v1.1h-1.1zM440.6 66.6h1.1v1.1h-1.1zM420.8 67h1.1v1.1h-1.1zM431.6 68.1h1.1v1.1h-1.1zM439.6 72.4h1.1v1.1h-1.1zM447.8 71.1h1.1v1.1h-1.1zM457.5 68h1.1v1.1h-1.1zM408.5 73.8h1.1v1.1h-1.1zM431.2 79h1.1v1.1h-1.1zM405.5 68.9h1.1v1.1h-1.1zM417.3 72.8h1.1v1.1h-1.1zM448.4 76.3h1.1v1.1h-1.1zM416.9 72.1h1.1v1.1h-1.1zM445.5 74.7h1.1v1.1h-1.1zM409.9 71.7h1.1v1.1h-1.1zM405.4 73.1h1.1v1.1h-1.1zM416.6 70.8h1.1v1.1h-1.1zM422.4 79.3h1.1v1.1h-1.1zM408.6 67.6h1.1v1.1h-1.1zM411.2 72.7h1.1v1.1h-1.1zM427.6 80.3h1.1v1.1h-1.1zM443.3 70.3h1.1v1.1h-1.1zM411.2 74.5h1.1v1.1h-1.1zM449 69.6h1.1v1.1h-1.1zM445.3 71.7h1.1v1.1h-1.1zM455.7 80.7h1.1v1.1h-1.1zM413.5 78.4h1.1v1.1h-1.1zM435.9 72.1h1.1v1.1h-1.1zM432 80h1.1v1.1h-1.1zM430 74.8h1.1v1.1h-1.1zM430.8 66.6h1.1v1.1h-1.1zM445 67.8h1.1v1.1h-1.1zM452.6 66.3h1.1v1.1h-1.1zM434.7 70.1h1.1v1.1h-1.1zM441 75.7h1.1v1.1h-1.1zM444.4 78.7h1.1v1.1h-1.1zM457.3 68h1.1v1.1h-1.1zM416.5 73.6h1.1v1.1h-1.1zM454.1 72.2h1.1v1.1h-1.1zM415.3 74.2h1.1v1.1h-1.1zM421.1 67.4h1.1v1.1h-1.1zM447.6 73.1h1.1v1.1h-1.1zM449.5 67.8h1.1v1.1h-1.1zM422.3 68h1.1v1.1h-1.1zM449.7 73h1.1v1.1h-1.1zM436.8 67h1.1v1.1h-1.1zM427.8 72.1h1.1v1.1h-1.1zM442.1 69.8h1.1v1.1h-1.1zM457.2 71.2h1.1v1.1h-1.1zM431.8 73.4h1.1v1.1h-1.1zM422.6 67.1h1.1v1.1h-1.1zM406.2 80.1h1.1v1.1h-1.1zM456.9 75.5h1.1v1.1h-1.1zM411.3 69.1h1.1v1.1h-1.1zM421.3 66.7h1.1v1.1h-1.1zM422.5 70.5h1.1v1.1h-1.1zM421.7 78.9h1.1v1.1h-1.1zM434.2 81.4h1.1v1.1h-1.1zM420.6 67.3h1.1v1.1h-1.1zM445.2 77.3h1.1v1.1h-1.1zM448.1 71.9h1.1v1.1h-1.1zM448 67.7h1.1v1.1h-1.1zM443 76.7h1.1v1.1h-1.1zM434.6 75.5h1.1v1.1h-1.1zM429.1 72.7h1.1v1.1h-1.1zM429.7 75.4h1.1v1.1h-1.1zM449.7 71.3h1.1v1.1h-1.1zM434.1 72.1h1.1v1.1h-1.1zM413.3 76.9h1.1v1.1h-1.1zM404.4 79.6h1.1v1.1h-1.1zM406.8 68.8h1.1v1.1h-1.1zM444.3 72.8h1.1v1.1h-1.1zM420.2 73.6h1.1v1.1h-1.1zM454.3 76h1.1v1.1h-1.1zM423.6 80.6h1.1v1.1h-1.1zM417.3 67.6h1.1v1.1h-1.1zM443.7 78.4h1.1v1.1h-1.1zM447 72.2h1.1v1.1h-1.1zM440.8 69.4h1.1v1.1h-1.1zM418.5 80.5h1.1v1.1h-1.1zM450 80.6h1.1v1.1h-1.1zM433.9 77h1.1v1.1h-1.1zM423.6 72.2h1.1v1.1h-1.1zM454.1 77.5h1.1v1.1h-1.1zM454.7 68.5h1.1v1.1h-1.1zM426.4 80.1h1.1v1.1h-1.1zM454.1 78.6h1.1v1.1h-1.1zM451.8 70.2h1.1v1.1h-1.1zM442.6 67.8h1.1v1.1h-1.1zM428.8 66.4h1.1v1.1h-1.1zM427.4 69.2h1.1v1.1h-1.1zM426.2 76.4h1.1v1.1h-1.1zM440.5 79.6h1.1v1.1h-1.1zM454.4 70.9h1.1v1.1h-1.1zM422.1 72.6h1.1v1.1h-1.1zM417.8 79h1.1v1.1h-1.1zM446.8 76.3h1.1v1.1h-1.1zM439 70.7h1.1v1.1h-1.1zM419.1 77.8h1.1v1.1h-1.1zM409.1 81.3h1.1v1.1h-1.1zM411.9 69.4h1.1v1.1h-1.1zM445.1 80.1h1.1v1.1h-1.1zM412.5 80.5h1.1v1.1h-1.1zM431.6 68.1h1.1v1.1h-1.1zM433.5 69.7h1.1v1.1h-1.1zM439 75.7h1.1v1.1h-1.1zM449.1 80.2h1.1v1.1h-1.1zM450.6 76.5h1.1v1.1h-1.1zM443.4 79.4h1.1v1.1h-1.1zM449.2 73.7h1.1v1.1h-1.1zM454.8 80.8h1.1v1.1h-1.1zM414.7 69.4h1.1v1.1h-1.1zM437.2 74.5h1.1v1.1h-1.1zM426.9 73.8h1.1v1.1h-1.1zM415.3 72.5h1.1v1.1h-1.1zM436.1 77.6h1.1v1.1h-1.1zM442.2 67.8h1.1v1.1h-1.1zM415.4 73.5h1.1v1.1h-1.1zM445.7 70.4h1.1v1.1h-1.1zM443.9 69.7h1.1v1.1h-1.1zM420.4 79.1h1.1v1.1h-1.1zM414.7 79h1.1v1.1h-1.1zM433.8 66.6h1.1v1.1h-1.1zM429.4 74.4h1.1v1.1h-1.1zM410.8 71.9h1.1v1.1h-1.1zM430.3 73.4h1.1v1.1h-1.1zM453.8 72.1h1.1v1.1h-1.1zM452.4 70.6h1.1v1.1h-1.1zM444.3 68.6h1.1v1.1h-1.1zM435.6 77.6h1.1v1.1h-1.1zM448.7 67h1.1v1.1h-1.1zM444.2 68.5h1.1v1.1h-1.1zM456.2 70.8h1.1v1.1h-1.1zM450.1 68.7h1.1v1.1h-1.1zM457.3 74.4h1.1v1.1h-1.1zM416 80.1h1.1v1.1h-1.1zM446.7 77.2h1.1v1.1h-1.1zM427.2 69.7h1.1v1.1h-1.1zM438.4 79.1h1.1v1.1h-1.1zM443.8 77h1.1v1.1h-1.1zM407.5 73.2h1.1v1.1h-1.1zM419.8 74.3h1.1v1.1h-1.1zM440.1 75.3h1.1v1.1h-1.1zM404.2 70.9h1.1v1.1h-1.1zM419.5 72.6h1.1v1.1h-1.1zM419.5 69.1h1.1v1.1h-1.1zM416.1 73.7h1.1v1.1h-1.1zM451.7 69.5h1.1v1.1h-1.1zM455.9 76.3h1.1v1.1h-1.1zM452.4 79.7h1.1v1.1h-1.1zM444.7 80.1h1.1v1.1h-1.1zM414.5 75.8h1.1v1.1h-1.1zM423.5 68.7h1.1v1.1h-1.1zM418.9 76h1.1v1.1h-1.1zM411.3 67.8h1.1v1.1h-1.1zM449.7 78.6h1.1v1.1h-1.1zM405.8 69.2h1.1v1.1h-1.1zM404.3 74.3h1.1v1.1h-1.1zM457.1 68.5h1.1v1.1h-1.1zM435.2 72.9h1.1v1.1h-1.1zM443.4 75.2h1.1v1.1h-1.1zM443.6 67.8h1.1v1.1h-1.1zM456.8 78.1h1.1v1.1h-1.1zM410 66.4h1.1v1.1h-1.1zM447.9 78h1.1v1.1h-1.1zM424.6 80.3h1.1v1.1h-1.1zM438.2 74h1.1v1.1h-1.1zM406.3 73.6h1.1v1.1h-1.1zM424.5 72.8h1.1v1.1h-1.1zM422.7 79.1h1.1v1.1h-1.1zM424 67.7h1.1v1.1h-1.1zM417.6 78.9h1.1v1.1h-1.1zM432 71.5h1.1v1.1h-1.1zM451.3 81.2h1.1v1.1h-1.1zM426.6 68.3h1.1v1.1h-1.1zM421.4 67.9h1.1v1.1h-1.1zM451.2 77h1.1v1.1h-1.1zM421.4 76.1h1.1v1.1h-1.1zM449.8 81.3h1.1v1.1h-1.1zM413.5 73.2h1.1v1.1h-1.1zM439 72.9h1.1v1.1h-1.1zM432.6 73.1h1.1v1.1h-1.1zM426.2 74.9h1.1v1.1h-1.1zM425.4 70.7h1.1v1.1h-1.1zM426.5 78.1h1.1v1.1h-1.1zM412.4 73.4h1.1v1.1h-1.1zM416.6 80.3h1.1v1.1h-1.1zM404.5 71.5h1.1v1.1h-1.1zM456.1 77h1.1v1.1h-1.1zM416.8 77.4h1.1v1.1h-1.1zM431.1 67.6h1.1v1.1h-1.1zM409.7 66.9h1.1v1.1h-1.1zM419.5 72.4h1.1v1.1h-1.1zM456.4 79.7h1.1v1.1h-1.1zM433.8 76.3h1.1v1.1h-1.1zM437.6 78.6h1.1v1.1h-1.1zM424.1 76.1h1.1v1.1h-1.1zM415.8 69.7h1.1v1.1h-1.1zM418.5 72.3h1.1v1.1h-1.1zM420.1 75.3h1.1v1.1h-1.1zM406.3 71h1.1v1.1h-1.1zM436.7 78.3h1.1v1.1h-1.1zM446.5 72.7h1.1v1.1h-1.1zM437.7 66.6h1.1v1.1h-1.1zM453.9 76.3h1.1v1.1h-1.1zM446.8 67.8h1.1v1.1h-1.1zM426.4 70.7h1.1v1.1h-1.1zM449.5 77.8h1.1v1.1h-1.1zM412.6 80.9h1.1v1.1h-1.1zM415.2 68.2h1.1v1.1h-1.1zM434.3 72.9h1.1v1.1h-1.1zM455.5 66.9h1.1v1.1h-1.1zM453 77h1.1v1.1h-1.1zM421.2 68.5h1.1v1.1h-1.1zM442.2 66.7h1.1v1.1h-1.1zM419.9 67.5h1.1v1.1h-1.1zM422.9 81.3h1.1v1.1h-1.1zM449.7 74.6h1.1v1.1h-1.1zM438.9 75.8h1.1v1.1h-1.1zM446.4 78.8h1.1v1.1h-1.1zM456.1 80.6h1.1v1.1h-1.1zM422.6 80.6h1.1v1.1h-1.1zM417.6 67.9h1.1v1.1h-1.1zM439.2 66.9h1.1v1.1h-1.1zM451.3 81.1h1.1v1.1h-1.1zM447.3 70.1h1.1v1.1h-1.1zM432.6 67h1.1v1.1h-1.1zM428.2 78.7h1.1v1.1h-1.1zM414.7 68.6h1.1v1.1h-1.1zM423.2 71.5h1.1v1.1h-1.1zM422.1 71.1h1.1v1.1h-1.1zM407.9 76h1.1v1.1h-1.1zM430.6 75.5h1.1v1.1h-1.1zM421.6 79.9h1.1v1.1h-1.1zM445.8 74.6h1.1v1.1h-1.1zM424.8 79.2h1.1v1.1h-1.1zM427.6 72.5h1.1v1.1h-1.1zM434.7 67.1h1.1v1.1h-1.1zM430.8 67.5h1.1v1.1h-1.1zM453.6 78.2h1.1v1.1h-1.1zM410.7 69.4h1.1v1.1h-1.1zM439.9 74.5h1.1v1.1h-1.1zM426 72.4h1.1v1.1h-1.1zM416.3 72.4h1.1v1.1h-1.1zM406.9 67.2h1.1v1.1h-1.1zM416.8 66.6h1.1v1.1h-1.1zM417 69.2h1.1v1.1h-1.1zM423.2 75.2h1.1v1.1h-1.1zM457.5 76.9h1.1v1.1h-1.1zM448.3 74.7h1.1v1.1h-1.1zM445.1 75.8h1.1v1.1h-1.1zM404.6 71.8h1.1v1.1h-1.1zM411.1 76.6h1.1v1.1h-1.1zM423.7 72.8h1.1v1.1h-1.1zM412.5 80.9h1.1v1.1h-1.1zM419.1 68.3h1.1v1.1h-1.1zM424.1 71h1.1v1.1h-1.1zM414.3 76.8h1.1v1.1h-1.1zM427.3 66.4h1.1v1.1h-1.1zM455.2 68h1.1v1.1h-1.1zM450.9 81.2h1.1v1.1h-1.1zM433.6 77.8h1.1v1.1h-1.1zM404.4 69.3h1.1v1.1h-1.1zM446.8 76.8h1.1v1.1h-1.1zM410.6 70.3h1.1v1.1h-1.1zM408.2 78.2h1.1v1.1h-1.1zM438.7 71.5h1.1v1.1h-1.1zM434.6 73.8h1.1v1.1h-1.1zM418.2 74.3h1.1v1.1h-1.1zM404.5 77.1h1.1v1.1h-1.1zM455.7 68.7h1.1v1.1h-1.1zM427.6 75.2h1.1v1.1h-1.1zM441 77.9h1.1v1.1h-1.1zM421.8 77.6h1.1v1.1h-1.1zM423.5 78h1.1v1.1h-1.1zM431.5 74.9h1.1v1.1h-1.1zM452.3 68.9h1.1v1.1h-1.1zM431 71.5h1.1v1.1h-1.1zM407.4 78h1.1v1.1h-1.1zM414.7 68.7h1.1v1.1h-1.1zM411.4 78h1.1v1.1h-1.1zM442.1 71.2h1.1v1.1h-1.1zM430.4 71.6h1.1v1.1h-1.1zM430.7 66.8h1.1v1.1h-1.1zM419.6 80.8h1.1v1.1h-1.1zM421.4 76.9h1.1v1.1h-1.1zM437.5 73.3h1.1v1.1h-1.1zM437.6 76.8h1.1v1.1h-1.1zM435.1 78.2h1.1v1.1h-1.1zM420.3 69.7h1.1v1.1h-1.1zM428.9 78.2h1.1v1.1h-1.1zM430.9 66.3h1.1v1.1h-1.1zM429.1 79.8h1.1v1.1h-1.1zM413.1 74.9h1.1v1.1h-1.1zM419.5 74.4h1.1v1.1h-1.1zM445.2 71.2h1.1v1.1h-1.1zM413.4 73h1.1v1.1h-1.1zM457.1 66.6h1.1v1.1h-1.1zM420.5 69.5h1.1v1.1h-1.1zM429.6 78.2h1.1v1.1h-1.1zM434.4 75.1h1.1v1.1h-1.1zM416.2 74.3h1.1v1.1h-1.1zM444.5 71.3h1.1v1.1h-1.1zM405.1 80.9h1.1v1.1h-1.1zM431.3 80.9h1.1v1.1h-1.1zM437 71.4h1.1v1.1h-1.1zM413.7 80.4h1.1v1.1h-1.1zM445.2 74.9h1.1v1.1h-1.1zM405.1 70.8h1.1v1.1h-1.1zM426.9 67.6h1.1v1.1h-1.1zM429.5 73.3h1.1v1.1h-1.1zM415.1 74.2h1.1v1.1h-1.1zM455.4 79.5h1.1v1.1h-1.1zM448.4 70.8h1.1v1.1h-1.1zM416.6 73.5h1.1v1.1h-1.1zM454.4 69.4h1.1v1.1h-1.1zM408.1 79.1h1.1v1.1h-1.1zM404.7 74h1.1v1.1h-1.1zM457.1 74.9h1.1v1.1h-1.1zM404.6 70.8h1.1v1.1h-1.1zM444.5 76.5h1.1v1.1h-1.1zM408.7 73.2h1.1v1.1h-1.1zM430 68.7h1.1v1.1h-1.1zM411.1 70.9h1.1v1.1h-1.1zM425.6 80.7h1.1v1.1h-1.1zM421.7 79.8h1.1v1.1h-1.1zM405.2 73.3h1.1v1.1h-1.1zM412.2 67.1h1.1v1.1h-1.1zM419.8 76.8h1.1v1.1h-1.1zM436.8 70.6h1.1v1.1h-1.1zM443.3 76.9h1.1v1.1h-1.1zM450.7 76.7h1.1v1.1h-1.1zM408.9 78.1h1.1v1.1h-1.1zM455.6 79.5h1.1v1.1h-1.1zM454.3 71.4h1.1v1.1h-1.1zM460.7 68.8h1.1v1.1h-1.1zM456.3 75.3h1.1v1.1h-1.1zM461.7 77.4h1.1v1.1h-1.1zM461.2 67.5h1.1v1.1h-1.1zM461.7 75.1h1.1v1.1h-1.1zM452 71.6h1.1v1.1h-1.1zM460.3 73.8h1.1v1.1h-1.1zM459.1 70.4h1.1v1.1h-1.1zM453.8 76h1.1v1.1h-1.1zM455.4 80.7h1.1v1.1h-1.1zM461.3 72h1.1v1.1h-1.1zM451.2 71h1.1v1.1h-1.1zM453.1 80.5h1.1v1.1h-1.1zM459.1 77.5h1.1v1.1h-1.1zM453.4 71h1.1v1.1h-1.1zM462.4 70.4h1.1v1.1h-1.1zM454.4 77.4h1.1v1.1h-1.1zM455 79.9h1.1v1.1h-1.1zM459.4 77.9h1.1v1.1h-1.1zM452.1 69.3h1.1v1.1h-1.1zM462.4 72.9h1.1v1.1h-1.1zM461.2 68.4h1.1v1.1h-1.1zM459.9 70h1.1v1.1h-1.1zM458.9 68.3h1.1v1.1h-1.1zM451.4 74.9h1.1v1.1h-1.1zM458 71.4h1.1v1.1h-1.1zM459.6 72.3h1.1v1.1h-1.1zM453.9 74.1h1.1v1.1h-1.1zM460.9 75.1h1.1v1.1h-1.1zM455.1 77.9h1.1v1.1h-1.1zM461.2 68.5h1.1v1.1h-1.1zM453.8 78.5h1.1v1.1h-1.1zM452.2 80.2h1.1v1.1h-1.1zM459.6 79.5h1.1v1.1h-1.1zM452.5 78.8h1.1v1.1h-1.1zM454.8 75.4h1.1v1.1h-1.1zM459.8 70.6h1.1v1.1h-1.1zM451.9 77.8h1.1v1.1h-1.1zM460 77.3h1.1v1.1h-1.1zM448.8 80.7h1.1v1.1h-1.1zM458.4 70.1h1.1v1.1h-1.1zM453.3 73.5h1.1v1.1h-1.1zM457.9 70.5h1.1v1.1h-1.1zM457 72h1.1v1.1h-1.1zM452.7 73.6h1.1v1.1h-1.1zM460.7 70.4h1.1v1.1h-1.1zM451.2 80.4h1.1v1.1h-1.1zM461.3 76.1h1.1v1.1h-1.1zM451.1 80.4h1.1v1.1h-1.1zM458.2 67.4h1.1v1.1h-1.1zM459.3 73h1.1v1.1h-1.1zM455.4 68h1.1v1.1h-1.1zM457.3 79.3h1.1v1.1h-1.1zM451.1 78.9h1.1v1.1h-1.1zM457.6 68.2h1.1v1.1h-1.1zM462.4 68.3h1.1v1.1h-1.1zM463.9 73h1.1v1.1h-1.1zM462.8 76.4h1.1v1.1h-1.1zM458 80.4h1.1v1.1h-1.1zM452.6 71.5h1.1v1.1h-1.1zM462.4 76.8h1.1v1.1h-1.1zM452.9 67.4h1.1v1.1h-1.1zM461.3 73.1h1.1v1.1h-1.1zM448.5 76.5h1.1v1.1h-1.1zM450.7 78.7h1.1v1.1h-1.1zM453.2 73.6h1.1v1.1h-1.1zM457.9 73h1.1v1.1h-1.1zM452.3 80.2h1.1v1.1h-1.1zM452 76.5h1.1v1.1h-1.1zM458.4 78.6h1.1v1.1h-1.1zM460.6 75.7h1.1v1.1h-1.1zM451.7 68.4h1.1v1.1h-1.1zM458.5 70.4h1.1v1.1h-1.1zM450.3 73.4h1.1v1.1h-1.1zM460.4 73.5h1.1v1.1h-1.1zM460.1 75h1.1v1.1h-1.1zM463.8 71h1.1v1.1h-1.1zM455.3 67.1h1.1v1.1h-1.1zM454.2 67.9h1.1v1.1h-1.1zM458.1 77.4h1.1v1.1h-1.1zM457.9 72.9h1.1v1.1h-1.1zM451.7 75.1h1.1v1.1h-1.1zM451.1 72.6h1.1v1.1h-1.1zM458.3 72.4h1.1v1.1h-1.1zM452.8 71.1h1.1v1.1h-1.1zM452.9 73.6h1.1v1.1h-1.1zM455.1 76.2h1.1v1.1h-1.1zM451 75.3h1.1v1.1h-1.1zM450.3 74.4h1.1v1.1h-1.1zM457.6 73.7h1.1v1.1h-1.1zM457.4 78h1.1v1.1h-1.1zM450.1 73.7h1.1v1.1h-1.1zM462 79.7h1.1v1.1h-1.1zM461.6 68.9h1.1v1.1h-1.1zM452.3 80h1.1v1.1h-1.1zM456 75.8h1.1v1.1h-1.1zM454 79.6h1.1v1.1h-1.1zM457 67.9h1.1v1.1h-1.1zM458.1 71.9h1.1v1.1h-1.1zM454.5 77.4h1.1v1.1h-1.1zM456.9 70.5h1.1v1.1h-1.1zM449.4 71.3h1.1v1.1h-1.1zM455.3 66.7h1.1v1.1h-1.1zM452.4 74.4h1.1v1.1h-1.1zM449.1 72h1.1v1.1h-1.1zM457.4 75h1.1v1.1h-1.1zM450.5 80.6h1.1v1.1h-1.1zM458.1 66.9h1.1v1.1h-1.1zM461.4 71h1.1v1.1h-1.1zM455.4 74.6h1.1v1.1h-1.1zM456.9 67.7h1.1v1.1h-1.1zM462.9 76.5h1.1v1.1h-1.1zM457.8 71.4h1.1v1.1h-1.1zM462.2 77.3h1.1v1.1h-1.1zM451.5 70.3h1.1v1.1h-1.1zM458.5 78.6h1.1v1.1h-1.1zM450.3 68.9h1.1v1.1h-1.1zM460.3 73.4h1.1v1.1h-1.1zM455.8 74.9h1.1v1.1h-1.1zM458.4 70.3h1.1v1.1h-1.1zM453 68.2h1.1v1.1h-1.1zM452.2 69.4h1.1v1.1h-1.1zM462.1 73h1.1v1.1h-1.1zM455.8 78.3h1.1v1.1h-1.1zM462.4 75.5h1.1v1.1h-1.1zM453.1 78.2h1.1v1.1h-1.1zM454.3 78.2h1.1v1.1h-1.1zM454.7 73.7h1.1v1.1h-1.1zM453.7 70.2h1.1v1.1h-1.1zM460.9 67.7h1.1v1.1h-1.1zM448.7 71.2h1.1v1.1h-1.1zM459.2 76.1h1.1v1.1h-1.1zM457.9 76h1.1v1.1h-1.1zM452.1 79.4h1.1v1.1h-1.1zM458.9 74.6h1.1v1.1h-1.1zM455.1 68.7h1.1v1.1h-1.1zM451.1 68.1h1.1v1.1h-1.1zM448.8 74.9h1.1v1.1h-1.1zM458.4 68.4h1.1v1.1h-1.1zM458.1 72.1h1.1v1.1h-1.1zM455.6 75.3h1.1v1.1h-1.1zM463.4 75.4h1.1v1.1h-1.1zM452.3 75h1.1v1.1h-1.1zM458.2 77.3h1.1v1.1h-1.1zM462 69.1h1.1v1.1h-1.1zM449.3 77.9h1.1v1.1h-1.1zM449.6 76.8h1.1v1.1h-1.1zM458.2 72.4h1.1v1.1h-1.1zM460 75.6h1.1v1.1h-1.1zM457.9 77.5h1.1v1.1h-1.1zM458.3 71.8h1.1v1.1h-1.1zM459.2 67.1h1.1v1.1h-1.1zM453.9 75.6h1.1v1.1h-1.1zM455.6 76.6h1.1v1.1h-1.1zM450.3 73.9h1.1v1.1h-1.1zM454.7 68.9h1.1v1.1h-1.1zM459.7 71.8h1.1v1.1h-1.1zM457.4 78h1.1v1.1h-1.1zM451.8 75.1h1.1v1.1h-1.1zM452.5 71.6h1.1v1.1h-1.1zM459 71.7h1.1v1.1h-1.1zM456.2 74.9h1.1v1.1h-1.1zM454.6 75.9h1.1v1.1h-1.1zM455 76.9h1.1v1.1h-1.1zM451.4 74.6h1.1v1.1h-1.1zM451.4 79.9h1.1v1.1h-1.1zM457.8 75.1h1.1v1.1h-1.1zM457.1 71.7h1.1v1.1h-1.1zM453 77.3h1.1v1.1h-1.1zM457 78.1h1.1v1.1h-1.1zM461.6 69.6h1.1v1.1h-1.1zM461.8 69.6h1.1v1.1h-1.1zM458.1 75.1h1.1v1.1h-1.1zM460.3 71.1h1.1v1.1h-1.1zM453.9 70.2h1.1v1.1h-1.1zM461.1 75.7h1.1v1.1h-1.1zM452.3 78.8h1.1v1.1h-1.1zM454.7 77h1.1v1.1h-1.1zM460.6 69.2h1.1v1.1h-1.1zM464.5 66.9h1.1v1.1h-1.1zM457 78h1.1v1.1h-1.1zM454.9 79.9h1.1v1.1h-1.1zM456.5 69h1.1v1.1h-1.1zM455.8 72.9h1.1v1.1h-1.1zM454.8 74.8h1.1v1.1h-1.1zM458.1 69.5h1.1v1.1h-1.1zM459.9 77.3h1.1v1.1h-1.1zM453.2 75.5h1.1v1.1h-1.1zM458.7 78.8h1.1v1.1h-1.1zM462.3 67.3h1.1v1.1h-1.1zM449.1 71.5h1.1v1.1h-1.1zM454.5 72.7h1.1v1.1h-1.1zM463.2 76h1.1v1.1h-1.1zM456.6 79.5h1.1v1.1h-1.1zM456.9 71.4h1.1v1.1h-1.1zM449.2 80h1.1v1.1h-1.1zM463.1 69.9h1.1v1.1h-1.1zM458.7 78.8h1.1v1.1h-1.1zM458.9 79.5h1.1v1.1h-1.1zM438.5 64.2h1.1v1.1h-1.1zM445.7 60.1h1.1v1.1h-1.1zM446.4 62.4h1.1v1.1h-1.1zM433 61.2h1.1v1.1h-1.1zM449.2 55.5h1.1v1.1h-1.1zM451.9 61.2h1.1v1.1h-1.1zM437.1 57.3h1.1v1.1h-1.1zM438.6 61.9h1.1v1.1h-1.1zM460.8 58.2h1.1v1.1h-1.1zM448.4 59h1.1v1.1h-1.1zM446.5 60.5h1.1v1.1h-1.1zM447.1 63.8h1.1v1.1h-1.1zM444.3 63.1h1.1v1.1h-1.1zM452.7 56h1.1v1.1h-1.1zM450.4 54h1.1v1.1h-1.1zM436.9 62.1h1.1v1.1h-1.1zM448.8 57.1h1.1v1.1h-1.1zM431.9 63.3h1.1v1.1h-1.1zM457 56.5h1.1v1.1h-1.1zM456.4 62.9h1.1v1.1h-1.1zM443.4 61.4h1.1v1.1h-1.1zM445.7 61.4h1.1v1.1h-1.1zM444.3 58.7h1.1v1.1h-1.1zM439.4 56.8h1.1v1.1h-1.1zM451.6 62.1h1.1v1.1h-1.1zM450 57.9h1.1v1.1h-1.1zM459.8 62.2h1.1v1.1h-1.1zM462.5 58.4h1.1v1.1h-1.1zM424.2 63.1h1.1v1.1h-1.1zM434.8 59.8h1.1v1.1h-1.1zM440.9 60h1.1v1.1h-1.1zM437.7 63.6h1.1v1.1h-1.1zM448.6 56.6h1.1v1.1h-1.1zM450.9 62h1.1v1.1h-1.1zM437.1 61.7h1.1v1.1h-1.1zM448.9 58.7h1.1v1.1h-1.1zM447.1 59.7h1.1v1.1h-1.1zM428.3 56.4h1.1v1.1h-1.1zM440.7 59.4h1.1v1.1h-1.1zM442.3 61.7h1.1v1.1h-1.1zM444.1 55.3h1.1v1.1h-1.1zM445.4 60.6h1.1v1.1h-1.1zM438.8 64h1.1v1.1h-1.1zM449.4 60.2h1.1v1.1h-1.1zM438.4 62.4h1.1v1.1h-1.1zM439 58.3h1.1v1.1h-1.1zM443.5 60.7h1.1v1.1h-1.1zM443.1 63.4h1.1v1.1h-1.1zM443.4 58.7h1.1v1.1h-1.1zM449.5 60.6h1.1v1.1h-1.1zM441.6 58.5h1.1v1.1h-1.1zM450.3 59.9h1.1v1.1h-1.1zM443 58.7h1.1v1.1h-1.1zM428.5 58h1.1v1.1h-1.1zM433.8 55.6h1.1v1.1h-1.1zM442.1 63.4h1.1v1.1h-1.1zM437.8 60.1h1.1v1.1h-1.1zM439.2 60.6h1.1v1.1h-1.1zM450.9 62.6h1.1v1.1h-1.1zM457.6 63.9h1.1v1.1h-1.1zM449.9 63.3h1.1v1.1h-1.1zM452.8 57.7h1.1v1.1h-1.1zM438.1 61.6h1.1v1.1h-1.1zM430.5 60.4h1.1v1.1h-1.1zM442.9 62.5h1.1v1.1h-1.1zM425.4 62.1h1.1v1.1h-1.1zM440.4 62.8h1.1v1.1h-1.1zM444.4 58h1.1v1.1h-1.1zM442.6 61.7h1.1v1.1h-1.1zM455 60.7h1.1v1.1h-1.1zM442.9 62.4h1.1v1.1h-1.1zM449.4 62.8h1.1v1.1h-1.1zM456.2 62.9h1.1v1.1h-1.1zM435.4 55.6h1.1v1.1h-1.1zM446 59.8h1.1v1.1h-1.1zM448 63.2h1.1v1.1h-1.1zM456.3 56.8h1.1v1.1h-1.1zM452.2 62h1.1v1.1h-1.1zM449.9 58.6h1.1v1.1h-1.1zM438.4 59.1h1.1v1.1h-1.1zM454.2 60.3h1.1v1.1h-1.1zM431.5 63.1h1.1v1.1h-1.1zM449.8 58.5h1.1v1.1h-1.1zM426.6 63.3h1.1v1.1h-1.1zM447.5 58.1h1.1v1.1h-1.1zM446.7 59.3h1.1v1.1h-1.1zM436.8 63.8h1.1v1.1h-1.1zM445.5 61.5h1.1v1.1h-1.1zM434.9 58.8h1.1v1.1h-1.1zM443.2 59.2h1.1v1.1h-1.1zM448.5 61.5h1.1v1.1h-1.1zM443.6 60.7h1.1v1.1h-1.1zM453.2 64.1h1.1v1.1h-1.1zM440.8 62.1h1.1v1.1h-1.1zM463.6 56.6h1.1v1.1h-1.1zM452.7 60.4h1.1v1.1h-1.1zM459.7 61.8h1.1v1.1h-1.1zM452.8 59.1h1.1v1.1h-1.1zM434.6 59.5h1.1v1.1h-1.1zM443.3 56.9h1.1v1.1h-1.1zM450.9 57h1.1v1.1h-1.1zM445.9 60.5h1.1v1.1h-1.1zM426.6 61.9h1.1v1.1h-1.1zM432.2 61.4h1.1v1.1h-1.1zM425.5 59.4h1.1v1.1h-1.1zM452.5 62.3h1.1v1.1h-1.1zM451.8 60.6h1.1v1.1h-1.1zM444.5 63.6h1.1v1.1h-1.1zM434.8 57.6h1.1v1.1h-1.1zM435.9 62.2h1.1v1.1h-1.1zM439.4 63.9h1.1v1.1h-1.1zM448.5 61.2h1.1v1.1h-1.1zM453.3 60.4h1.1v1.1h-1.1zM444.5 62.4h1.1v1.1h-1.1zM452.2 58.4h1.1v1.1h-1.1zM441.5 58.6h1.1v1.1h-1.1zM450.4 62.8h1.1v1.1h-1.1zM447.2 56.7h1.1v1.1h-1.1zM438.4 56.2h1.1v1.1h-1.1zM433.8 58.7h1.1v1.1h-1.1zM448 63.1h1.1v1.1h-1.1zM430.1 63.6h1.1v1.1h-1.1zM452.8 55.9h1.1v1.1h-1.1zM449.7 62.2h1.1v1.1h-1.1zM448.3 58.7h1.1v1.1h-1.1zM457.8 61.7h1.1v1.1h-1.1zM440.5 54.8h1.1v1.1h-1.1zM443.3 56.4h1.1v1.1h-1.1zM455 64h1.1v1.1h-1.1zM441.8 57.1h1.1v1.1h-1.1zM444.1 61.8h1.1v1.1h-1.1zM444.2 60.2h1.1v1.1h-1.1zM446.7 56.2h1.1v1.1h-1.1zM454.6 57.1h1.1v1.1h-1.1zM446.5 58.2h1.1v1.1h-1.1zM457.1 59.3h1.1v1.1h-1.1zM437.5 60h1.1v1.1h-1.1zM453 56.9h1.1v1.1h-1.1zM434.3 59.4h1.1v1.1h-1.1zM444.4 54.6h1.1v1.1h-1.1zM441.8 63.5h1.1v1.1h-1.1zM435.9 60.2h1.1v1.1h-1.1zM439.8 62.7h1.1v1.1h-1.1zM443 59.8h1.1v1.1h-1.1zM449.8 64.1h1.1v1.1h-1.1zM447.4 62.6h1.1v1.1h-1.1zM447 56.9h1.1v1.1h-1.1zM438.7 55h1.1v1.1h-1.1zM440.3 62h1.1v1.1h-1.1zM457.7 62.1h1.1v1.1h-1.1zM446 62.2h1.1v1.1h-1.1zM432.4 60h1.1v1.1h-1.1zM446.7 63.8h1.1v1.1h-1.1zM439.6 59.7h1.1v1.1h-1.1zM441.6 63.1h1.1v1.1h-1.1zM462.8 62h1.1v1.1h-1.1zM446.9 58h1.1v1.1h-1.1zM452.6 59.5h1.1v1.1h-1.1zM447.7 58h1.1v1.1h-1.1zM451 60.7h1.1v1.1h-1.1zM440.4 64.2h1.1v1.1h-1.1zM449.3 59.4h1.1v1.1h-1.1zM444.4 60.1h1.1v1.1h-1.1zM451 53h1.1v1.1h-1.1zM459.5 59.5h1.1v1.1h-1.1zM439 62.7h1.1v1.1h-1.1zM458.8 58.7h1.1v1.1h-1.1zM453.1 59.4h1.1v1.1h-1.1zM454.9 63h1.1v1.1h-1.1zM458.1 61h1.1v1.1h-1.1zM452.8 56.7h1.1v1.1h-1.1zM437.2 63.1h1.1v1.1h-1.1zM435.3 57.4h1.1v1.1h-1.1zM448.9 60.2h1.1v1.1h-1.1zM451.5 60.7h1.1v1.1h-1.1zM447.9 61.2h1.1v1.1h-1.1zM446.5 59.1h1.1v1.1h-1.1zM447.2 58.6h1.1v1.1h-1.1zM445.3 59.9h1.1v1.1h-1.1zM448.6 57.9h1.1v1.1h-1.1zM444.7 59.8h1.1v1.1h-1.1zM437.1 61h1.1v1.1h-1.1zM451.7 63.9h1.1v1.1h-1.1zM448.4 60.8h1.1v1.1h-1.1zM454 60.2h1.1v1.1h-1.1zM451.6 55h1.1v1.1h-1.1zM435.2 58.6h1.1v1.1h-1.1zM455.6 60.3h1.1v1.1h-1.1zM449.7 57.2h1.1v1.1h-1.1zM445.8 58.8h1.1v1.1h-1.1zM448 60.4h1.1v1.1h-1.1zM447.7 53.2h1.1v1.1h-1.1zM441.2 55.7h1.1v1.1h-1.1zM463.2 56.6h1.1v1.1h-1.1zM442.2 62.6h1.1v1.1h-1.1zM442.9 62.1h1.1v1.1h-1.1zM453.9 58.9h1.1v1.1h-1.1zM450.3 60.8h1.1v1.1h-1.1zM434.2 62.3h1.1v1.1h-1.1zM445.8 61.9h1.1v1.1h-1.1zM454.5 58.2h1.1v1.1h-1.1zM452.1 62.8h1.1v1.1h-1.1zM428.3 61.3h1.1v1.1h-1.1zM437.4 59h1.1v1.1h-1.1zM431.4 55.2h1.1v1.1h-1.1zM441.9 62.6h1.1v1.1h-1.1zM441.3 60.5h1.1v1.1h-1.1zM440.6 61.7h1.1v1.1h-1.1zM453 56.8h1.1v1.1h-1.1zM436.4 59.6h1.1v1.1h-1.1zM458.3 59.4h1.1v1.1h-1.1zM434.7 54.3h1.1v1.1h-1.1zM438.8 59.7h1.1v1.1h-1.1zM436 58.5h1.1v1.1h-1.1zM454.9 59.2h1.1v1.1h-1.1zM436.5 63.4h1.1v1.1h-1.1zM448.2 61h1.1v1.1h-1.1zM464.2 62.3h1.1v1.1h-1.1zM456.2 56.6h1.1v1.1h-1.1zM432.6 60.2h1.1v1.1h-1.1zM458.1 64.1h1.1v1.1h-1.1zM446.7 64.1h1.1v1.1h-1.1zM456.9 57.6h1.1v1.1h-1.1zM455.4 64.1h1.1v1.1h-1.1zM441.7 62.2h1.1v1.1h-1.1zM464.1 62.8h1.1v1.1h-1.1zM439.8 58.5h1.1v1.1h-1.1zM459.9 62.3h1.1v1.1h-1.1zM439.9 60.5h1.1v1.1h-1.1zM442.4 60.7h1.1v1.1h-1.1zM462.3 58.7h1.1v1.1h-1.1zM443.2 59.7h1.1v1.1h-1.1zM434.6 61.2h1.1v1.1h-1.1zM438.8 60.3h1.1v1.1h-1.1zM447.3 63.9h1.1v1.1h-1.1zM449 63.1h1.1v1.1h-1.1zM450.7 60.8h1.1v1.1h-1.1zM454.8 61.7h1.1v1.1h-1.1zM433.6 59.2h1.1v1.1h-1.1zM459.5 55.3h1.1v1.1h-1.1zM462.1 61.6h1.1v1.1h-1.1zM448.1 59.4h1.1v1.1h-1.1zM425.9 58.9h1.1v1.1h-1.1zM435.2 63.7h1.1v1.1h-1.1zM446.9 57.7h1.1v1.1h-1.1zM434.6 61.5h1.1v1.1h-1.1zM433.8 62.9h1.1v1.1h-1.1zM452.2 62.6h1.1v1.1h-1.1zM431 59.4h1.1v1.1h-1.1zM444.9 60.3h1.1v1.1h-1.1zM454.4 59.7h1.1v1.1h-1.1zM429 53.3h1.1v1.1h-1.1zM450.4 58.2h1.1v1.1h-1.1zM441.2 61h1.1v1.1h-1.1zM432.7 56.7h1.1v1.1h-1.1zM440 60.4h1.1v1.1h-1.1zM449 59.5h1.1v1.1h-1.1zM446.7 59.7h1.1v1.1h-1.1zM451.5 59.2h1.1v1.1h-1.1zM441.6 56.1h1.1v1.1h-1.1zM413.3 56.4h1.1v1.1h-1.1zM410.1 58.4h1.1v1.1h-1.1zM413.3 62.5h1.1v1.1h-1.1zM416.1 60.1h1.1v1.1h-1.1zM412.1 60.2h1.1v1.1h-1.1zM415.8 58.6h1.1v1.1h-1.1zM417 62h1.1v1.1h-1.1zM414.7 61h1.1v1.1h-1.1zM425.1 62.5h1.1v1.1h-1.1zM416.3 61.4h1.1v1.1h-1.1zM411.1 60.1h1.1v1.1h-1.1zM415.5 60.3h1.1v1.1h-1.1zM426.4 61.2h1.1v1.1h-1.1zM425.2 61h1.1v1.1h-1.1zM414.7 60.7h1.1v1.1h-1.1zM415 63.1h1.1v1.1h-1.1zM412.4 64.1h1.1v1.1h-1.1zM414.5 63.1h1.1v1.1h-1.1zM418.4 58.1h1.1v1.1h-1.1zM416.8 56.6h1.1v1.1h-1.1zM422.4 60.8h1.1v1.1h-1.1zM425.2 61h1.1v1.1h-1.1zM416.6 58.5h1.1v1.1h-1.1zM421.9 60.7h1.1v1.1h-1.1zM410.7 56.4h1.1v1.1h-1.1zM423.9 60.7h1.1v1.1h-1.1zM417.6 59.3h1.1v1.1h-1.1zM414.8 61h1.1v1.1h-1.1zM419.2 57.3h1.1v1.1h-1.1zM406.2 61.2h1.1v1.1h-1.1zM424.9 59h1.1v1.1h-1.1zM409.6 62.7h1.1v1.1h-1.1zM414.2 61h1.1v1.1h-1.1zM426.2 58.6h1.1v1.1h-1.1zM406.8 59.8h1.1v1.1h-1.1zM415.6 63.1h1.1v1.1h-1.1zM420.7 54.9h1.1v1.1h-1.1zM411.1 59.7h1.1v1.1h-1.1zM413.5 59h1.1v1.1h-1.1zM416 61.5h1.1v1.1h-1.1z"/>
<rect x="403.6" y="33.3" width="77.1" height="49.3" fill="none" stroke="#000" stroke-width="1.1"/>
<line x1="403.6" y1="65.7" x2="480.7" y2="65.7" stroke="#000" stroke-width="1.3"/>
<line x1="428.1" y1="33.3" x2="428.1" y2="82.6" stroke="#000" stroke-width="1.3"/>
<line x1="401.2" y1="33.3" x2="403.6" y2="33.3" stroke="#000" stroke-width="1.3"/>
<line x1="401.2" y1="36.4" x2="403.6" y2="36.4" stroke="#000" stroke-width="1.3"/>
<line x1="401.2" y1="39.5" x2="403.6" y2="39.5" stroke="#000" stroke-width="1.3"/>
<line x1="401.2" y1="42.5" x2="403.6" y2="42.5" stroke="#000" stroke-width="1.3"/>
<line x1="401.2" y1="45.6" x2="403.6" y2="45.6" stroke="#000" stroke-width="1.3"/>
<line x1="401.2" y1="48.7" x2="403.6" y2="48.7" stroke="#000" stroke-width="1.3"/>
<line x1="401.2" y1="51.8" x2="403.6" y2="51.8" stroke="#000" stroke-width="1.3"/>
<line x1="401.2" y1="54.9" x2="403.6" y2="54.9" stroke="#000" stroke-width="1.3"/>
<line x1="401.2" y1="57.9" x2="403.6" y2="57.9" stroke="#000" stroke-width="1.3"/>
<line x1="401.2" y1="61" x2="403.6" y2="61" stroke="#000" stroke-width="1.3"/>
<line x1="401.2" y1="64.1" x2="403.6" y2="64.1" stroke="#000" stroke-width="1.3"/>
<line x1="401.2" y1="67.2" x2="403.6" y2="67.2" stroke="#000" stroke-width="1.3"/>
<line x1="401.2" y1="70.3" x2="403.6" y2="70.3" stroke="#000" stroke-width="1.3"/>
<line x1="401.2" y1="73.4" x2="403.6" y2="73.4" stroke="#000" stroke-width="1.3"/>
<line x1="401.2" y1="76.4" x2="403.6" y2="76.4" stroke="#000" stroke-width="1.3"/>
<line x1="401.2" y1="79.5" x2="403.6" y2="79.5" stroke="#000" stroke-width="1.3"/>
<line x1="401.2" y1="82.6" x2="403.6" y2="82.6" stroke="#000" stroke-width="1.3"/>
<line x1="403.6" y1="82.6" x2="403.6" y2="85" stroke="#000" stroke-width="1.3"/>
<line x1="406.6" y1="82.6" x2="406.6" y2="85" stroke="#000" stroke-width="1.3"/>
<line x1="409.5" y1="82.6" x2="409.5" y2="85" stroke="#000" stroke-width="1.3"/>
<line x1="412.5" y1="82.6" x2="412.5" y2="85" stroke="#000" stroke-width="1.3"/>
<line x1="415.5" y1="82.6" x2="415.5" y2="85" stroke="#000" stroke-width="1.3"/>
<line x1="418.4" y1="82.6" x2="418.4" y2="85" stroke="#000" stroke-width="1.3"/>
<line x1="421.4" y1="82.6" x2="421.4" y2="85" stroke="#000" stroke-width="1.3"/>
<line x1="424.4" y1="82.6" x2="424.4" y2="85" stroke="#000" stroke-width="1.3"/>
<line x1="427.3" y1="82.6" x2="427.3" y2="85" stroke="#000" stroke-width="1.3"/>
<line x1="430.3" y1="82.6" x2="430.3" y2="85" stroke="#000" stroke-width="1.3"/>
<line x1="433.3" y1="82.6" x2="433.3" y2="85" stroke="#000" stroke-width="1.3"/>
<line x1="436.2" y1="82.6" x2="436.2" y2="85" stroke="#000" stroke-width="1.3"/>
<line x1="439.2" y1="82.6" x2="439.2" y2="85" stroke="#000" stroke-width="1.3"/>
<line x1="442.1" y1="82.6" x2="442.1" y2="85" stroke="#000" stroke-width="1.3"/>
<line x1="445.1" y1="82.6" x2="445.1" y2="85" stroke="#000" stroke-width="1.3"/>
<line x1="448.1" y1="82.6" x2="448.1" y2="85" stroke="#000" stroke-width="1.3"/>
<line x1="451" y1="82.6" x2="451" y2="85" stroke="#000" stroke-width="1.3"/>
<line x1="454" y1="82.6" x2="454" y2="85" stroke="#000" stroke-width="1.3"/>
<line x1="457" y1="82.6" x2="457" y2="85" stroke="#000" stroke-width="1.3"/>
<line x1="459.9" y1="82.6" x2="459.9" y2="85" stroke="#000" stroke-width="1.3"/>
<line x1="462.9" y1="82.6" x2="462.9" y2="85" stroke="#000" stroke-width="1.3"/>
<line x1="465.9" y1="82.6" x2="465.9" y2="85" stroke="#000" stroke-width="1.3"/>
<line x1="468.8" y1="82.6" x2="468.8" y2="85" stroke="#000" stroke-width="1.3"/>
<line x1="471.8" y1="82.6" x2="471.8" y2="85" stroke="#000" stroke-width="1.3"/>
<line x1="474.8" y1="82.6" x2="474.8" y2="85" stroke="#000" stroke-width="1.3"/>
<line x1="477.7" y1="82.6" x2="477.7" y2="85" stroke="#000" stroke-width="1.3"/>
<line x1="480.7" y1="82.6" x2="480.7" y2="85" stroke="#000" stroke-width="1.3"/>
<text x="399.4" y="38.5" font-size="6.6" font-weight="bold" text-anchor="end" letter-spacing="0.7">10<tspan font-size="4.49" dy="-2.1" letter-spacing="0">3</tspan></text>
<text x="399.4" y="55.4" font-size="6.6" font-weight="bold" text-anchor="end" letter-spacing="0.7">10<tspan font-size="4.49" dy="-2.1" letter-spacing="0">2</tspan></text>
<text x="399.4" y="70.5" font-size="6.6" font-weight="bold" text-anchor="end" letter-spacing="0.7">10<tspan font-size="4.49" dy="-2.1" letter-spacing="0">1</tspan></text>
<text x="399.4" y="85.3" font-size="6.6" font-weight="bold" text-anchor="end" letter-spacing="0.7">10<tspan font-size="4.49" dy="-2.1" letter-spacing="0">0</tspan></text>
<text x="403.6" y="94.2" font-size="6.6" font-weight="bold" text-anchor="middle" letter-spacing="0.7">10<tspan font-size="4.49" dy="-2.1" letter-spacing="0">0</tspan></text>
<text x="429.3" y="94.2" font-size="6.6" font-weight="bold" text-anchor="middle" letter-spacing="0.7">10<tspan font-size="4.49" dy="-2.1" letter-spacing="0">1</tspan></text>
<text x="455" y="94.2" font-size="6.6" font-weight="bold" text-anchor="middle" letter-spacing="0.7">10<tspan font-size="4.49" dy="-2.1" letter-spacing="0">2</tspan></text>
<text x="480.7" y="94.2" font-size="6.6" font-weight="bold" text-anchor="middle" letter-spacing="0.7">10<tspan font-size="4.49" dy="-2.1" letter-spacing="0">3</tspan></text>
<line x1="273.7" y1="31" x2="273.7" y2="99.4" stroke="#000" stroke-width="1.2"/>
<path d="M273.7 27.8 L270.4 37.3 L277 37.3 Z"/>
<line x1="273.7" y1="99.4" x2="488" y2="99.4" stroke="#000" stroke-width="1.2"/>
<path d="M493.5 99.4 L484 96.1 L484 102.7 Z"/>
<text x="270" y="66.8" font-size="8.4" font-weight="bold" text-anchor="middle" transform="rotate(-90 270 66.8)">IgD</text>
<text x="377" y="106.8" font-size="8.6" font-weight="bold">IgM</text>
<text x="318.6" y="7.8" font-size="8.2" font-weight="bold">WT</text>
<text x="335.8" y="19.3" font-size="8.6" font-weight="bold">M. 11.4%</text>
<text x="279.7" y="112.2" font-size="8.6" font-weight="bold">P. 74.3%</text>
<text x="331.6" y="112.2" font-size="8.6" font-weight="bold">I. 9.5%</text>
<line x1="353.6" y1="21.5" x2="343.8" y2="34.8" stroke="#000" stroke-width="1.15"/>
<path d="M338.4 42 L341.2 32.2 L347 36.5 Z"/>
<line x1="302.5" y1="104" x2="303.7" y2="89.5" stroke="#000" stroke-width="1.15"/>
<path d="M304.5 80.5 L307.3 90.3 L300.1 89.7 Z"/>
<line x1="337.5" y1="104" x2="334.4" y2="89.3" stroke="#000" stroke-width="1.15"/>
<path d="M332.6 80.5 L338.1 89.1 L331 90.5 Z"/>
<text x="411.8" y="8" font-size="8.5" font-weight="bold">CD19 talin null</text>
<text x="455" y="19.6" font-size="8.6" font-weight="bold">M. 2.7%</text>
<text x="404" y="112.6" font-size="8.6" font-weight="bold">P. 76.7%</text>
<text x="452" y="112.6" font-size="8.6" font-weight="bold">I. 17.7%</text>
<line x1="463.7" y1="21.5" x2="455.4" y2="33.7" stroke="#000" stroke-width="1.15"/>
<path d="M450.4 41.2 L452.7 31.3 L458.7 35.3 Z"/>
<line x1="414.7" y1="104" x2="416.4" y2="89.4" stroke="#000" stroke-width="1.15"/>
<path d="M417.4 80.5 L419.9 90.3 L412.7 89.5 Z"/>
<line x1="449.3" y1="104" x2="446.9" y2="89.4" stroke="#000" stroke-width="1.15"/>
<path d="M445.5 80.5 L450.6 89.3 L443.5 90.5 Z"/>
<rect x="48.1" y="149" width="13.6" height="114.5" fill="#000"/>
<line x1="54.9" y1="149" x2="54.9" y2="128.1" stroke="#000" stroke-width="2.0"/>
<line x1="51.8" y1="128.9" x2="58" y2="128.9" stroke="#000" stroke-width="2.0"/>
<line x1="54.9" y1="263.5" x2="54.9" y2="265.7" stroke="#000" stroke-width="1.2"/>
<rect x="68" y="149.7" width="13.6" height="113.8" fill="#a8a8a8"/>
<line x1="74.8" y1="149.7" x2="74.8" y2="132.7" stroke="#000" stroke-width="2.0"/>
<line x1="71.7" y1="133.5" x2="77.9" y2="133.5" stroke="#000" stroke-width="2.0"/>
<line x1="74.8" y1="263.5" x2="74.8" y2="265.7" stroke="#000" stroke-width="1.2"/>
<rect x="40.8" y="124.1" width="46.5" height="139.4" fill="none" stroke="#000" stroke-width="1.1"/>
<line x1="38" y1="263.5" x2="40.8" y2="263.5" stroke="#000" stroke-width="1.1"/>
<text x="36.8" y="266" font-size="8.0" font-weight="bold" text-anchor="end">0</text>
<line x1="38" y1="240.3" x2="40.8" y2="240.3" stroke="#000" stroke-width="1.1"/>
<text x="36.8" y="242.8" font-size="8.0" font-weight="bold" text-anchor="end">2</text>
<line x1="38" y1="217" x2="40.8" y2="217" stroke="#000" stroke-width="1.1"/>
<text x="36.8" y="219.5" font-size="8.0" font-weight="bold" text-anchor="end">4</text>
<line x1="38" y1="193.8" x2="40.8" y2="193.8" stroke="#000" stroke-width="1.1"/>
<text x="36.8" y="196.3" font-size="8.0" font-weight="bold" text-anchor="end">6</text>
<line x1="38" y1="170.6" x2="40.8" y2="170.6" stroke="#000" stroke-width="1.1"/>
<text x="36.8" y="173.1" font-size="8.0" font-weight="bold" text-anchor="end">8</text>
<line x1="38" y1="147.3" x2="40.8" y2="147.3" stroke="#000" stroke-width="1.1"/>
<text x="36.8" y="149.8" font-size="8.0" font-weight="bold" text-anchor="end">10</text>
<line x1="38" y1="124.1" x2="40.8" y2="124.1" stroke="#000" stroke-width="1.1"/>
<text x="36.8" y="126.6" font-size="8.0" font-weight="bold" text-anchor="end">12</text>
<text x="23.4" y="187.7" font-size="8.4" font-weight="bold" text-anchor="middle" transform="rotate(-90 23.4 187.7)">Total B cells (X10<tspan font-size="7" dy="-3.0">6</tspan><tspan dy="3.0">)</tspan></text>
<text x="44.2" y="276" font-size="8.7">WT</text>
<text x="62.4" y="276" font-size="8.7">Talin null</text>
<rect x="132.4" y="144" width="14.1" height="119.8" fill="#000"/>
<line x1="139.4" y1="144" x2="139.4" y2="139.5" stroke="#000" stroke-width="2.0"/>
<line x1="136.3" y1="140.3" x2="142.5" y2="140.3" stroke="#000" stroke-width="2.0"/>
<line x1="139.4" y1="263.8" x2="139.4" y2="266" stroke="#000" stroke-width="1.2"/>
<rect x="152.6" y="245.4" width="15" height="18.4" fill="#a8a8a8"/>
<line x1="160.1" y1="245.4" x2="160.1" y2="241.5" stroke="#000" stroke-width="2.0"/>
<line x1="157" y1="242.3" x2="163.2" y2="242.3" stroke="#000" stroke-width="2.0"/>
<line x1="160.1" y1="263.8" x2="160.1" y2="266" stroke="#000" stroke-width="1.2"/>
<rect x="125.4" y="125.4" width="49.9" height="138.4" fill="none" stroke="#000" stroke-width="1.1"/>
<line x1="122.6" y1="263.8" x2="125.4" y2="263.8" stroke="#000" stroke-width="1.1"/>
<text x="121.6" y="266.3" font-size="8.0" font-weight="bold" text-anchor="end">0</text>
<line x1="122.6" y1="244" x2="125.4" y2="244" stroke="#000" stroke-width="1.1"/>
<text x="121.6" y="246.5" font-size="8.0" font-weight="bold" text-anchor="end">1</text>
<line x1="122.6" y1="224.3" x2="125.4" y2="224.3" stroke="#000" stroke-width="1.1"/>
<text x="121.6" y="226.8" font-size="8.0" font-weight="bold" text-anchor="end">2</text>
<line x1="122.6" y1="204.5" x2="125.4" y2="204.5" stroke="#000" stroke-width="1.1"/>
<text x="121.6" y="207" font-size="8.0" font-weight="bold" text-anchor="end">3</text>
<line x1="122.6" y1="184.7" x2="125.4" y2="184.7" stroke="#000" stroke-width="1.1"/>
<text x="121.6" y="187.2" font-size="8.0" font-weight="bold" text-anchor="end">4</text>
<line x1="122.6" y1="164.9" x2="125.4" y2="164.9" stroke="#000" stroke-width="1.1"/>
<text x="121.6" y="167.4" font-size="8.0" font-weight="bold" text-anchor="end">5</text>
<line x1="122.6" y1="145.2" x2="125.4" y2="145.2" stroke="#000" stroke-width="1.1"/>
<text x="121.6" y="147.7" font-size="8.0" font-weight="bold" text-anchor="end">6</text>
<line x1="122.6" y1="125.4" x2="125.4" y2="125.4" stroke="#000" stroke-width="1.1"/>
<text x="121.6" y="127.9" font-size="8.0" font-weight="bold" text-anchor="end">7</text>
<text x="112.5" y="187.6" font-size="8.4" font-weight="bold" text-anchor="middle" transform="rotate(-90 112.5 187.6)">Mature B cells (X10<tspan font-size="7" dy="-3.0">6</tspan><tspan dy="3.0">)</tspan></text>
<text x="132.9" y="276" font-size="8.7">WT</text>
<text x="150.2" y="276" font-size="8.7">Talin null</text>
<path d="M153.2 224.5L153.2 230.2M150.8 225.9L155.7 228.8M155.7 225.9L150.8 228.8" stroke="#000" stroke-width="1.25" fill="none"/>
<path d="M161.2 224.5L161.2 230.2M158.8 225.9L163.7 228.8M163.7 225.9L158.8 228.8" stroke="#000" stroke-width="1.25" fill="none"/>
<path d="M169.2 224.5L169.2 230.2M166.8 225.9L171.7 228.8M171.7 225.9L166.8 228.8" stroke="#000" stroke-width="1.25" fill="none"/>
<rect x="232" y="189.4" width="14" height="74.4" fill="#000"/>
<line x1="239" y1="189.4" x2="239" y2="185.5" stroke="#000" stroke-width="2.0"/>
<line x1="235.9" y1="186.3" x2="242.1" y2="186.3" stroke="#000" stroke-width="2.0"/>
<line x1="239" y1="263.8" x2="239" y2="266" stroke="#000" stroke-width="1.2"/>
<rect x="252.8" y="139" width="13.6" height="124.8" fill="#a8a8a8"/>
<line x1="259.6" y1="139" x2="259.6" y2="133.4" stroke="#000" stroke-width="2.0"/>
<line x1="256.5" y1="134.2" x2="262.7" y2="134.2" stroke="#000" stroke-width="2.0"/>
<line x1="259.6" y1="263.8" x2="259.6" y2="266" stroke="#000" stroke-width="1.2"/>
<rect x="224.5" y="125.9" width="47.6" height="137.9" fill="none" stroke="#000" stroke-width="1.1"/>
<line x1="221.7" y1="263.8" x2="224.5" y2="263.8" stroke="#000" stroke-width="1.1"/>
<text x="221.2" y="266.3" font-size="8.0" font-weight="bold" text-anchor="end">0</text>
<line x1="221.7" y1="244.1" x2="224.5" y2="244.1" stroke="#000" stroke-width="1.1"/>
<text x="221.2" y="246.6" font-size="8.0" font-weight="bold" text-anchor="end">0.5</text>
<line x1="221.7" y1="224.4" x2="224.5" y2="224.4" stroke="#000" stroke-width="1.1"/>
<text x="221.2" y="226.9" font-size="8.0" font-weight="bold" text-anchor="end">1</text>
<line x1="221.7" y1="204.7" x2="224.5" y2="204.7" stroke="#000" stroke-width="1.1"/>
<text x="221.2" y="207.2" font-size="8.0" font-weight="bold" text-anchor="end">1.5</text>
<line x1="221.7" y1="185" x2="224.5" y2="185" stroke="#000" stroke-width="1.1"/>
<text x="221.2" y="187.5" font-size="8.0" font-weight="bold" text-anchor="end">2</text>
<line x1="221.7" y1="165.3" x2="224.5" y2="165.3" stroke="#000" stroke-width="1.1"/>
<text x="221.2" y="167.8" font-size="8.0" font-weight="bold" text-anchor="end">2.5</text>
<line x1="221.7" y1="145.6" x2="224.5" y2="145.6" stroke="#000" stroke-width="1.1"/>
<text x="221.2" y="148.1" font-size="8.0" font-weight="bold" text-anchor="end">3</text>
<line x1="221.7" y1="125.9" x2="224.5" y2="125.9" stroke="#000" stroke-width="1.1"/>
<text x="221.2" y="128.4" font-size="8.0" font-weight="bold" text-anchor="end">3.5</text>
<text x="206.6" y="188.8" font-size="8.4" font-weight="bold" text-anchor="middle" transform="rotate(-90 206.6 188.8)">Immature B cells (X10<tspan font-size="7" dy="-3.0">6</tspan><tspan dy="3.0">)</tspan></text>
<text x="232.4" y="276" font-size="8.7">WT</text>
<text x="249.4" y="276" font-size="8.7">Talin null</text>
<path d="M252.3 127.2L252.3 133M249.8 128.7L254.8 131.5M254.8 128.7L249.8 131.5" stroke="#000" stroke-width="1.25" fill="none"/>
<path d="M260.2 127.2L260.2 133M257.7 128.7L262.7 131.5M262.7 128.7L257.7 131.5" stroke="#000" stroke-width="1.25" fill="none"/>
<path d="M268.1 127.2L268.1 133M265.6 128.7L270.6 131.5M270.6 128.7L265.6 131.5" stroke="#000" stroke-width="1.25" fill="none"/>
<rect x="332" y="206" width="13.6" height="57.8" fill="#000"/>
<line x1="338.8" y1="206" x2="338.8" y2="200" stroke="#000" stroke-width="2.0"/>
<line x1="335.7" y1="200.8" x2="341.9" y2="200.8" stroke="#000" stroke-width="2.0"/>
<line x1="338.8" y1="263.8" x2="338.8" y2="266" stroke="#000" stroke-width="1.2"/>
<rect x="354.2" y="166.2" width="12.9" height="97.6" fill="#a8a8a8"/>
<line x1="360.6" y1="166.2" x2="360.6" y2="159.4" stroke="#000" stroke-width="2.0"/>
<line x1="357.5" y1="160.2" x2="363.8" y2="160.2" stroke="#000" stroke-width="2.0"/>
<line x1="360.6" y1="263.8" x2="360.6" y2="266" stroke="#000" stroke-width="1.2"/>
<rect x="324" y="125.4" width="51" height="138.4" fill="none" stroke="#000" stroke-width="1.1"/>
<line x1="321.2" y1="263.8" x2="324" y2="263.8" stroke="#000" stroke-width="1.1"/>
<text x="319.6" y="266.3" font-size="8.0" font-weight="bold" text-anchor="end">0</text>
<line x1="321.2" y1="244" x2="324" y2="244" stroke="#000" stroke-width="1.1"/>
<text x="319.6" y="246.5" font-size="8.0" font-weight="bold" text-anchor="end">0.5</text>
<line x1="321.2" y1="224.3" x2="324" y2="224.3" stroke="#000" stroke-width="1.1"/>
<text x="319.6" y="226.8" font-size="8.0" font-weight="bold" text-anchor="end">1</text>
<line x1="321.2" y1="204.5" x2="324" y2="204.5" stroke="#000" stroke-width="1.1"/>
<text x="319.6" y="207" font-size="8.0" font-weight="bold" text-anchor="end">1.5</text>
<line x1="321.2" y1="184.7" x2="324" y2="184.7" stroke="#000" stroke-width="1.1"/>
<text x="319.6" y="187.2" font-size="8.0" font-weight="bold" text-anchor="end">2</text>
<line x1="321.2" y1="164.9" x2="324" y2="164.9" stroke="#000" stroke-width="1.1"/>
<text x="319.6" y="167.4" font-size="8.0" font-weight="bold" text-anchor="end">2.5</text>
<line x1="321.2" y1="145.2" x2="324" y2="145.2" stroke="#000" stroke-width="1.1"/>
<text x="319.6" y="147.7" font-size="8.0" font-weight="bold" text-anchor="end">3</text>
<line x1="321.2" y1="125.4" x2="324" y2="125.4" stroke="#000" stroke-width="1.1"/>
<text x="319.6" y="127.9" font-size="8.0" font-weight="bold" text-anchor="end">3.5</text>
<text x="306.2" y="190" font-size="8.4" font-weight="bold" text-anchor="middle" transform="rotate(-90 306.2 190)">Pre-Pro B cells (X10<tspan font-size="7" dy="-3.0">6</tspan><tspan dy="3.0">)</tspan></text>
<text x="330.8" y="276" font-size="8.7">WT</text>
<text x="350" y="276" font-size="8.7">Talin null</text>
<path d="M352.2 150.8L352.2 156.5M349.8 152.2L354.7 155.1M354.7 152.2L349.8 155.1" stroke="#000" stroke-width="1.25" fill="none"/>
<path d="M360 150.8L360 156.5M357.5 152.2L362.4 155.1M362.4 152.2L357.5 155.1" stroke="#000" stroke-width="1.25" fill="none"/>
<path d="M367.7 150.8L367.7 156.5M365.2 152.2L370.1 155.1M370.1 152.2L365.2 155.1" stroke="#000" stroke-width="1.25" fill="none"/>
<rect x="460.5" y="209.7" width="13.8" height="54.5" fill="#000"/>
<line x1="467.4" y1="209.7" x2="467.4" y2="190" stroke="#000" stroke-width="2.0"/>
<line x1="464.3" y1="190.8" x2="470.5" y2="190.8" stroke="#000" stroke-width="2.0"/>
<line x1="467.4" y1="264.2" x2="467.4" y2="266.4" stroke="#000" stroke-width="1.2"/>
<rect x="485.4" y="144.2" width="13.8" height="120" fill="#a8a8a8"/>
<line x1="492.3" y1="144.2" x2="492.3" y2="133.8" stroke="#000" stroke-width="2.0"/>
<line x1="489.2" y1="134.6" x2="495.4" y2="134.6" stroke="#000" stroke-width="2.0"/>
<line x1="492.3" y1="264.2" x2="492.3" y2="266.4" stroke="#000" stroke-width="1.2"/>
<rect x="450.3" y="126.6" width="62.8" height="137.6" fill="none" stroke="#000" stroke-width="1.1"/>
<line x1="447.5" y1="264.2" x2="450.3" y2="264.2" stroke="#000" stroke-width="1.1"/>
<text x="446.2" y="266.7" font-size="8.0" font-weight="bold" text-anchor="end">0</text>
<line x1="447.5" y1="241.3" x2="450.3" y2="241.3" stroke="#000" stroke-width="1.1"/>
<text x="446.2" y="243.8" font-size="8.0" font-weight="bold" text-anchor="end">20</text>
<line x1="447.5" y1="218.3" x2="450.3" y2="218.3" stroke="#000" stroke-width="1.1"/>
<text x="446.2" y="220.8" font-size="8.0" font-weight="bold" text-anchor="end">40</text>
<line x1="447.5" y1="195.4" x2="450.3" y2="195.4" stroke="#000" stroke-width="1.1"/>
<text x="446.2" y="197.9" font-size="8.0" font-weight="bold" text-anchor="end">60</text>
<line x1="447.5" y1="172.5" x2="450.3" y2="172.5" stroke="#000" stroke-width="1.1"/>
<text x="446.2" y="175" font-size="8.0" font-weight="bold" text-anchor="end">80</text>
<line x1="447.5" y1="149.5" x2="450.3" y2="149.5" stroke="#000" stroke-width="1.1"/>
<text x="446.2" y="152" font-size="8.0" font-weight="bold" text-anchor="end">100</text>
<line x1="447.5" y1="126.6" x2="450.3" y2="126.6" stroke="#000" stroke-width="1.1"/>
<text x="446.2" y="129.1" font-size="8.0" font-weight="bold" text-anchor="end">120</text>
<text x="432.5" y="188.5" font-size="8.4" font-weight="bold" text-anchor="middle" transform="rotate(-90 432.5 188.5)">Total B cells (X10<tspan font-size="7" dy="-3.0">6</tspan><tspan dy="3.0">)</tspan></text>
<text x="461" y="277.5" font-size="8.7">WT</text>
<text x="481.2" y="277.5" font-size="8.7">Talin null</text>
<path d="M483.2 127.3L483.2 133.1M480.7 128.8L485.7 131.6M485.7 128.8L480.7 131.6" stroke="#000" stroke-width="1.25" fill="none"/>
<path d="M490.9 127.3L490.9 133.1M488.4 128.8L493.4 131.6M493.4 128.8L488.4 131.6" stroke="#000" stroke-width="1.25" fill="none"/>
<path d="M498.6 127.3L498.6 133.1M496.1 128.8L501.1 131.6M501.1 128.8L496.1 131.6" stroke="#000" stroke-width="1.25" fill="none"/>
<text x="413.4" y="129.7" font-size="14.6" font-weight="bold">B</text>
<rect x="354" y="319.3" width="13.8" height="84.6" fill="#000"/>
<line x1="360.9" y1="319.3" x2="360.9" y2="302.3" stroke="#000" stroke-width="2.0"/>
<line x1="357.8" y1="303.1" x2="364" y2="303.1" stroke="#000" stroke-width="2.0"/>
<line x1="360.9" y1="403.9" x2="360.9" y2="406.1" stroke="#000" stroke-width="1.2"/>
<rect x="380.1" y="340.4" width="13.3" height="63.5" fill="#a8a8a8"/>
<line x1="386.8" y1="340.4" x2="386.8" y2="334.1" stroke="#000" stroke-width="2.0"/>
<line x1="383.6" y1="334.9" x2="389.9" y2="334.9" stroke="#000" stroke-width="2.0"/>
<line x1="386.8" y1="403.9" x2="386.8" y2="406.1" stroke="#000" stroke-width="1.2"/>
<rect x="343" y="299.8" width="64.6" height="104.1" fill="none" stroke="#000" stroke-width="1.1"/>
<line x1="340.2" y1="403.9" x2="343" y2="403.9" stroke="#000" stroke-width="1.1"/>
<text x="339.6" y="406.4" font-size="8.0" font-weight="bold" text-anchor="end">0</text>
<line x1="340.2" y1="384.2" x2="343" y2="384.2" stroke="#000" stroke-width="1.1"/>
<text x="339.6" y="386.7" font-size="8.0" font-weight="bold" text-anchor="end">5</text>
<line x1="340.2" y1="364.5" x2="343" y2="364.5" stroke="#000" stroke-width="1.1"/>
<text x="339.6" y="367" font-size="8.0" font-weight="bold" text-anchor="end">10</text>
<line x1="340.2" y1="344.9" x2="343" y2="344.9" stroke="#000" stroke-width="1.1"/>
<text x="339.6" y="347.4" font-size="8.0" font-weight="bold" text-anchor="end">15</text>
<line x1="340.2" y1="325.2" x2="343" y2="325.2" stroke="#000" stroke-width="1.1"/>
<text x="339.6" y="327.7" font-size="8.0" font-weight="bold" text-anchor="end">20</text>
<line x1="340.2" y1="305.5" x2="343" y2="305.5" stroke="#000" stroke-width="1.1"/>
<text x="339.6" y="308" font-size="8.0" font-weight="bold" text-anchor="end">25</text>
<text x="326" y="351" font-size="8.4" font-weight="bold" text-anchor="middle" transform="rotate(-90 326 351)">Percentage of T1&#160; B cells</text>
<text x="355.8" y="416.2" font-size="8.7">WT</text>
<text x="373.8" y="416.2" font-size="8.7">Talin null</text>
<path d="M386.4 324.1L386.4 330.5M383.6 325.7L389.2 328.9M389.2 325.7L383.6 328.9" stroke="#000" stroke-width="1.25" fill="none"/>
<rect x="460.8" y="317.4" width="13.1" height="86.5" fill="#000"/>
<line x1="467.4" y1="317.4" x2="467.4" y2="305.5" stroke="#000" stroke-width="2.0"/>
<line x1="464.2" y1="306.3" x2="470.5" y2="306.3" stroke="#000" stroke-width="2.0"/>
<line x1="467.4" y1="403.9" x2="467.4" y2="406.1" stroke="#000" stroke-width="1.2"/>
<rect x="486.6" y="334.1" width="12.7" height="69.8" fill="#a8a8a8"/>
<line x1="493" y1="334.1" x2="493" y2="318.2" stroke="#000" stroke-width="2.0"/>
<line x1="489.9" y1="319" x2="496.1" y2="319" stroke="#000" stroke-width="2.0"/>
<line x1="493" y1="403.9" x2="493" y2="406.1" stroke="#000" stroke-width="1.2"/>
<rect x="449.8" y="300.9" width="63.9" height="103" fill="none" stroke="#000" stroke-width="1.1"/>
<line x1="447" y1="403.9" x2="449.8" y2="403.9" stroke="#000" stroke-width="1.1"/>
<text x="446" y="406.4" font-size="8.0" font-weight="bold" text-anchor="end">0</text>
<line x1="447" y1="384.1" x2="449.8" y2="384.1" stroke="#000" stroke-width="1.1"/>
<text x="446" y="386.6" font-size="8.0" font-weight="bold" text-anchor="end">2</text>
<line x1="447" y1="364.4" x2="449.8" y2="364.4" stroke="#000" stroke-width="1.1"/>
<text x="446" y="366.9" font-size="8.0" font-weight="bold" text-anchor="end">4</text>
<line x1="447" y1="344.6" x2="449.8" y2="344.6" stroke="#000" stroke-width="1.1"/>
<text x="446" y="347.1" font-size="8.0" font-weight="bold" text-anchor="end">6</text>
<line x1="447" y1="324.9" x2="449.8" y2="324.9" stroke="#000" stroke-width="1.1"/>
<text x="446" y="327.4" font-size="8.0" font-weight="bold" text-anchor="end">8</text>
<line x1="447" y1="305.1" x2="449.8" y2="305.1" stroke="#000" stroke-width="1.1"/>
<text x="446" y="307.6" font-size="8.0" font-weight="bold" text-anchor="end">10</text>
<text x="433.1" y="350" font-size="8.4" font-weight="bold" text-anchor="middle" transform="rotate(-90 433.1 350)">Percentage of T2&#160; B cells</text>
<text x="461.8" y="416.2" font-size="8.7">WT</text>
<text x="479.8" y="416.2" font-size="8.7">Talin null</text>
<text x="484.6" y="312.7" font-size="8.7" fill="#222">N.S.</text>
<rect x="353.2" y="460.5" width="14.2" height="84.7" fill="#000"/>
<line x1="360.3" y1="460.5" x2="360.3" y2="454.2" stroke="#000" stroke-width="2.0"/>
<line x1="357.2" y1="455" x2="363.4" y2="455" stroke="#000" stroke-width="2.0"/>
<line x1="360.3" y1="545.2" x2="360.3" y2="547.4" stroke="#000" stroke-width="1.2"/>
<rect x="379.5" y="453.6" width="13.3" height="91.6" fill="#a8a8a8"/>
<line x1="386.1" y1="453.6" x2="386.1" y2="448.9" stroke="#000" stroke-width="2.0"/>
<line x1="383" y1="449.7" x2="389.2" y2="449.7" stroke="#000" stroke-width="2.0"/>
<line x1="386.1" y1="545.2" x2="386.1" y2="547.4" stroke="#000" stroke-width="1.2"/>
<rect x="342.7" y="440.9" width="63.4" height="104.3" fill="none" stroke="#000" stroke-width="1.1"/>
<line x1="339.9" y1="545.2" x2="342.7" y2="545.2" stroke="#000" stroke-width="1.1"/>
<text x="338.8" y="547.7" font-size="8.0" font-weight="bold" text-anchor="end">0</text>
<line x1="339.9" y1="530.4" x2="342.7" y2="530.4" stroke="#000" stroke-width="1.1"/>
<text x="338.8" y="532.9" font-size="8.0" font-weight="bold" text-anchor="end">10</text>
<line x1="339.9" y1="515.7" x2="342.7" y2="515.7" stroke="#000" stroke-width="1.1"/>
<text x="338.8" y="518.2" font-size="8.0" font-weight="bold" text-anchor="end">20</text>
<line x1="339.9" y1="500.9" x2="342.7" y2="500.9" stroke="#000" stroke-width="1.1"/>
<text x="338.8" y="503.4" font-size="8.0" font-weight="bold" text-anchor="end">30</text>
<line x1="339.9" y1="486.2" x2="342.7" y2="486.2" stroke="#000" stroke-width="1.1"/>
<text x="338.8" y="488.7" font-size="8.0" font-weight="bold" text-anchor="end">40</text>
<line x1="339.9" y1="471.4" x2="342.7" y2="471.4" stroke="#000" stroke-width="1.1"/>
<text x="338.8" y="473.9" font-size="8.0" font-weight="bold" text-anchor="end">50</text>
<line x1="339.9" y1="456.7" x2="342.7" y2="456.7" stroke="#000" stroke-width="1.1"/>
<text x="338.8" y="459.2" font-size="8.0" font-weight="bold" text-anchor="end">60</text>
<line x1="339.9" y1="441.9" x2="342.7" y2="441.9" stroke="#000" stroke-width="1.1"/>
<text x="338.8" y="444.4" font-size="8.0" font-weight="bold" text-anchor="end">70</text>
<text x="325" y="494.7" font-size="8.4" font-weight="bold" text-anchor="middle" transform="rotate(-90 325 494.7)">Percentage of FO B cells</text>
<text x="348.4" y="557.2" font-size="8.7">WT</text>
<text x="373.8" y="557.2" font-size="8.7">Talin null</text>
<rect x="462.9" y="454.2" width="13.7" height="91.4" fill="#000"/>
<line x1="469.8" y1="454.2" x2="469.8" y2="447.6" stroke="#000" stroke-width="2.0"/>
<line x1="466.6" y1="448.4" x2="472.9" y2="448.4" stroke="#000" stroke-width="2.0"/>
<line x1="469.8" y1="545.6" x2="469.8" y2="547.8" stroke="#000" stroke-width="1.2"/>
<rect x="489.3" y="517.4" width="13.4" height="28.2" fill="#a8a8a8"/>
<line x1="496" y1="517.4" x2="496" y2="510.7" stroke="#000" stroke-width="2.0"/>
<line x1="492.9" y1="511.5" x2="499.1" y2="511.5" stroke="#000" stroke-width="2.0"/>
<line x1="496" y1="545.6" x2="496" y2="547.8" stroke="#000" stroke-width="1.2"/>
<rect x="451.3" y="440.9" width="64.5" height="104.7" fill="none" stroke="#000" stroke-width="1.1"/>
<line x1="448.5" y1="545.6" x2="451.3" y2="545.6" stroke="#000" stroke-width="1.1"/>
<text x="447.8" y="548.1" font-size="8.0" font-weight="bold" text-anchor="end">0</text>
<line x1="448.5" y1="531" x2="451.3" y2="531" stroke="#000" stroke-width="1.1"/>
<text x="447.8" y="533.5" font-size="8.0" font-weight="bold" text-anchor="end">0.5</text>
<line x1="448.5" y1="516.5" x2="451.3" y2="516.5" stroke="#000" stroke-width="1.1"/>
<text x="447.8" y="519" font-size="8.0" font-weight="bold" text-anchor="end">1</text>
<line x1="448.5" y1="501.9" x2="451.3" y2="501.9" stroke="#000" stroke-width="1.1"/>
<text x="447.8" y="504.4" font-size="8.0" font-weight="bold" text-anchor="end">1.5</text>
<line x1="448.5" y1="487.3" x2="451.3" y2="487.3" stroke="#000" stroke-width="1.1"/>
<text x="447.8" y="489.8" font-size="8.0" font-weight="bold" text-anchor="end">2</text>
<line x1="448.5" y1="472.7" x2="451.3" y2="472.7" stroke="#000" stroke-width="1.1"/>
<text x="447.8" y="475.2" font-size="8.0" font-weight="bold" text-anchor="end">2.5</text>
<line x1="448.5" y1="458.2" x2="451.3" y2="458.2" stroke="#000" stroke-width="1.1"/>
<text x="447.8" y="460.7" font-size="8.0" font-weight="bold" text-anchor="end">3</text>
<line x1="448.5" y1="443.6" x2="451.3" y2="443.6" stroke="#000" stroke-width="1.1"/>
<text x="447.8" y="446.1" font-size="8.0" font-weight="bold" text-anchor="end">3.5</text>
<text x="433.1" y="494.2" font-size="8.4" font-weight="bold" text-anchor="middle" transform="rotate(-90 433.1 494.2)">Percentage of MZ B cells</text>
<text x="464.6" y="557.2" font-size="8.7">WT</text>
<text x="484" y="557.2" font-size="8.7">Talin null</text>
<path d="M488.2 492.7L488.2 499M485.5 494.3L491 497.4M491 494.3L485.5 497.4" stroke="#000" stroke-width="1.25" fill="none"/>
<path d="M495.7 492.7L495.7 499M493 494.3L498.4 497.4M498.4 494.3L493 497.4" stroke="#000" stroke-width="1.25" fill="none"/>
<path d="M503.1 492.7L503.1 499M500.4 494.3L505.9 497.4M505.9 494.3L500.4 497.4" stroke="#000" stroke-width="1.25" fill="none"/>
<text x="300.9" y="299" font-size="14.6" font-weight="bold">D</text>
<text x="10" y="299.3" font-size="14.2" font-weight="bold">C</text>
<path fill="#e41010" d="M102.3 352.2h1.05v1.05h-1.05zM105.3 358.7h1.05v1.05h-1.05zM109.1 350.5h1.05v1.05h-1.05zM112.5 357.9h1.05v1.05h-1.05zM101.7 351.3h1.05v1.05h-1.05zM112.3 355.2h1.05v1.05h-1.05zM113.1 360h1.05v1.05h-1.05zM113.4 358.1h1.05v1.05h-1.05zM107.5 359.4h1.05v1.05h-1.05zM106.4 356.1h1.05v1.05h-1.05zM99.7 353.8h1.05v1.05h-1.05zM114 352.2h1.05v1.05h-1.05zM107.6 348.4h1.05v1.05h-1.05zM108.2 351h1.05v1.05h-1.05zM110.3 353.5h1.05v1.05h-1.05zM106.5 354h1.05v1.05h-1.05zM107.9 355h1.05v1.05h-1.05zM108.6 358.5h1.05v1.05h-1.05zM115.4 347.3h1.05v1.05h-1.05zM116.9 354.3h1.05v1.05h-1.05zM111.8 352.2h1.05v1.05h-1.05zM113.1 356.8h1.05v1.05h-1.05zM107.1 351.5h1.05v1.05h-1.05zM112.7 356.4h1.05v1.05h-1.05zM105.4 348.4h1.05v1.05h-1.05zM104.3 356.2h1.05v1.05h-1.05zM116.5 352h1.05v1.05h-1.05zM107.1 351.7h1.05v1.05h-1.05zM111.8 352.6h1.05v1.05h-1.05zM118.6 356.8h1.05v1.05h-1.05zM109 353.8h1.05v1.05h-1.05zM115.2 353.8h1.05v1.05h-1.05zM108 355.3h1.05v1.05h-1.05zM115.4 359.4h1.05v1.05h-1.05zM108.3 351.2h1.05v1.05h-1.05zM105.4 354.5h1.05v1.05h-1.05zM113.3 346.9h1.05v1.05h-1.05zM113.3 356.2h1.05v1.05h-1.05zM111.1 350.5h1.05v1.05h-1.05zM110.5 353.4h1.05v1.05h-1.05zM105.3 356.8h1.05v1.05h-1.05zM116.4 355.6h1.05v1.05h-1.05zM113 358h1.05v1.05h-1.05zM110.2 353.7h1.05v1.05h-1.05zM117.7 353.1h1.05v1.05h-1.05zM108.5 356h1.05v1.05h-1.05zM108 352.1h1.05v1.05h-1.05zM115.6 354.9h1.05v1.05h-1.05zM106.6 353.2h1.05v1.05h-1.05zM113.1 357.5h1.05v1.05h-1.05zM111.1 358.5h1.05v1.05h-1.05zM110 359.8h1.05v1.05h-1.05zM114.7 351.5h1.05v1.05h-1.05zM109.6 356h1.05v1.05h-1.05zM110 352h1.05v1.05h-1.05zM112.5 354.8h1.05v1.05h-1.05zM102.6 351.1h1.05v1.05h-1.05zM108.2 357.8h1.05v1.05h-1.05zM109.9 355.5h1.05v1.05h-1.05zM114.9 354.3h1.05v1.05h-1.05zM110.2 354.7h1.05v1.05h-1.05zM114.7 353h1.05v1.05h-1.05zM112.1 352.8h1.05v1.05h-1.05zM110.6 358.3h1.05v1.05h-1.05zM106.2 356.4h1.05v1.05h-1.05zM110.5 355.7h1.05v1.05h-1.05zM112.8 355.2h1.05v1.05h-1.05zM112.7 360.5h1.05v1.05h-1.05zM106.7 351.7h1.05v1.05h-1.05zM113.9 356.2h1.05v1.05h-1.05zM120.1 353.1h1.05v1.05h-1.05zM113.8 353.3h1.05v1.05h-1.05zM107.8 353.2h1.05v1.05h-1.05zM106.1 352.1h1.05v1.05h-1.05zM108.6 354.5h1.05v1.05h-1.05zM110.5 357.4h1.05v1.05h-1.05zM105.7 354.7h1.05v1.05h-1.05zM105.9 357.5h1.05v1.05h-1.05zM105.7 353.9h1.05v1.05h-1.05zM106.3 358.2h1.05v1.05h-1.05zM104.2 351.5h1.05v1.05h-1.05zM108.3 353.9h1.05v1.05h-1.05zM105.6 358.4h1.05v1.05h-1.05zM107.5 348.6h1.05v1.05h-1.05zM109.2 351h1.05v1.05h-1.05zM107 353.5h1.05v1.05h-1.05zM105.7 353.7h1.05v1.05h-1.05zM108.2 356.8h1.05v1.05h-1.05zM122.6 352.9h1.05v1.05h-1.05zM107.9 358.4h1.05v1.05h-1.05zM118.5 357.3h1.05v1.05h-1.05zM108.9 360.8h1.05v1.05h-1.05zM110.6 358.6h1.05v1.05h-1.05zM107.5 351.2h1.05v1.05h-1.05zM116.8 352.3h1.05v1.05h-1.05zM105.1 355.4h1.05v1.05h-1.05zM105.6 357h1.05v1.05h-1.05zM110.6 354.3h1.05v1.05h-1.05zM107.4 359.4h1.05v1.05h-1.05zM116.9 358.4h1.05v1.05h-1.05zM103.8 360h1.05v1.05h-1.05zM110.7 360.1h1.05v1.05h-1.05zM112.8 352.9h1.05v1.05h-1.05zM102.1 352.9h1.05v1.05h-1.05zM116.1 353.6h1.05v1.05h-1.05zM118.3 351.1h1.05v1.05h-1.05zM113.3 354.6h1.05v1.05h-1.05zM103.4 356.1h1.05v1.05h-1.05zM108.2 354.1h1.05v1.05h-1.05zM100 351.9h1.05v1.05h-1.05zM106.9 354.5h1.05v1.05h-1.05zM106.1 361.1h1.05v1.05h-1.05zM108.2 355.6h1.05v1.05h-1.05zM108.6 358.8h1.05v1.05h-1.05zM113 358h1.05v1.05h-1.05zM102.7 355.5h1.05v1.05h-1.05zM109.4 356.9h1.05v1.05h-1.05zM106.9 355.4h1.05v1.05h-1.05zM105.3 353.9h1.05v1.05h-1.05zM111.9 353.5h1.05v1.05h-1.05zM106 354.6h1.05v1.05h-1.05zM111.7 356.2h1.05v1.05h-1.05zM104.4 353.7h1.05v1.05h-1.05zM104.4 351.9h1.05v1.05h-1.05zM121.8 358.6h1.05v1.05h-1.05zM113.6 354.1h1.05v1.05h-1.05zM114.3 359.7h1.05v1.05h-1.05zM116.2 357.2h1.05v1.05h-1.05zM105.3 362.2h1.05v1.05h-1.05zM113.9 357.6h1.05v1.05h-1.05zM111.8 356.1h1.05v1.05h-1.05zM108.2 349.8h1.05v1.05h-1.05zM118.8 362.8h1.05v1.05h-1.05zM112.5 357h1.05v1.05h-1.05zM110 357.3h1.05v1.05h-1.05zM109.4 354.7h1.05v1.05h-1.05zM113.2 349.8h1.05v1.05h-1.05zM117 353.8h1.05v1.05h-1.05zM112.8 356.8h1.05v1.05h-1.05zM117.9 360.1h1.05v1.05h-1.05zM103.7 352.1h1.05v1.05h-1.05zM110.9 350h1.05v1.05h-1.05zM113.1 354.6h1.05v1.05h-1.05zM106.2 357.5h1.05v1.05h-1.05zM105.5 352.7h1.05v1.05h-1.05zM110 357.6h1.05v1.05h-1.05zM109.1 353.9h1.05v1.05h-1.05zM111 353.9h1.05v1.05h-1.05zM100.9 357.8h1.05v1.05h-1.05zM112.4 358.3h1.05v1.05h-1.05zM110.6 356.4h1.05v1.05h-1.05zM101.8 350.8h1.05v1.05h-1.05zM100.6 358.6h1.05v1.05h-1.05zM106.6 359h1.05v1.05h-1.05zM112.1 353.6h1.05v1.05h-1.05zM109.5 352.6h1.05v1.05h-1.05zM107.8 356h1.05v1.05h-1.05zM113.3 353.5h1.05v1.05h-1.05zM102.2 358.4h1.05v1.05h-1.05zM104.5 357.2h1.05v1.05h-1.05zM102.5 352.2h1.05v1.05h-1.05zM100.1 357h1.05v1.05h-1.05zM112.1 364.4h1.05v1.05h-1.05zM119.1 355.4h1.05v1.05h-1.05zM99.8 354.3h1.05v1.05h-1.05zM111.2 356.1h1.05v1.05h-1.05zM110.7 351.9h1.05v1.05h-1.05zM108.4 360.7h1.05v1.05h-1.05zM107.2 353.8h1.05v1.05h-1.05zM104 353.1h1.05v1.05h-1.05zM115.8 356.1h1.05v1.05h-1.05zM107.4 353.9h1.05v1.05h-1.05zM113.9 353.3h1.05v1.05h-1.05zM105.9 354h1.05v1.05h-1.05zM97.3 358.4h1.05v1.05h-1.05zM105.9 357.3h1.05v1.05h-1.05zM109.8 358.1h1.05v1.05h-1.05zM107.2 362.5h1.05v1.05h-1.05zM112.6 354.3h1.05v1.05h-1.05zM111.4 348.7h1.05v1.05h-1.05zM104.2 348.8h1.05v1.05h-1.05zM108.5 361.6h1.05v1.05h-1.05zM111.5 350.6h1.05v1.05h-1.05zM102.2 356.1h1.05v1.05h-1.05zM112.9 354.4h1.05v1.05h-1.05zM117 355.7h1.05v1.05h-1.05zM119.8 357.5h1.05v1.05h-1.05zM120 347h1.05v1.05h-1.05zM113.6 357.4h1.05v1.05h-1.05zM117.2 356.8h1.05v1.05h-1.05zM111.8 356h1.05v1.05h-1.05zM110.8 356.7h1.05v1.05h-1.05zM117.8 350.1h1.05v1.05h-1.05zM107.6 350.6h1.05v1.05h-1.05zM106.9 355.8h1.05v1.05h-1.05zM110.7 356.2h1.05v1.05h-1.05zM113.4 356.3h1.05v1.05h-1.05zM108.2 354.6h1.05v1.05h-1.05zM104.6 353.6h1.05v1.05h-1.05zM109.3 356.1h1.05v1.05h-1.05zM102 358.3h1.05v1.05h-1.05zM109.4 350.3h1.05v1.05h-1.05zM109 356.7h1.05v1.05h-1.05zM110.3 353.7h1.05v1.05h-1.05zM105.4 355.7h1.05v1.05h-1.05zM110.6 355.9h1.05v1.05h-1.05zM107.9 358.7h1.05v1.05h-1.05zM100.8 355h1.05v1.05h-1.05zM101.7 349.1h1.05v1.05h-1.05zM110.7 357.5h1.05v1.05h-1.05zM108.3 356.3h1.05v1.05h-1.05zM108.9 358.5h1.05v1.05h-1.05zM106.8 356.6h1.05v1.05h-1.05zM111.4 350.2h1.05v1.05h-1.05zM115.5 353.2h1.05v1.05h-1.05zM104.1 353h1.05v1.05h-1.05zM114 353.8h1.05v1.05h-1.05zM113.6 352.2h1.05v1.05h-1.05zM111 349.8h1.05v1.05h-1.05zM108.3 358.9h1.05v1.05h-1.05zM107.1 355.5h1.05v1.05h-1.05zM100.8 360h1.05v1.05h-1.05zM108.6 356.4h1.05v1.05h-1.05zM107.8 351.9h1.05v1.05h-1.05zM108 354h1.05v1.05h-1.05zM104.6 354.5h1.05v1.05h-1.05zM104.9 353.5h1.05v1.05h-1.05zM95.8 352.1h1.05v1.05h-1.05zM111.2 355.7h1.05v1.05h-1.05zM108.5 356.2h1.05v1.05h-1.05zM118.1 356h1.05v1.05h-1.05zM110.3 354.7h1.05v1.05h-1.05zM111.3 356.9h1.05v1.05h-1.05zM98.8 361.3h1.05v1.05h-1.05zM114.4 356.4h1.05v1.05h-1.05zM106.7 354.7h1.05v1.05h-1.05zM105.9 359h1.05v1.05h-1.05zM106.3 350.1h1.05v1.05h-1.05zM108.6 352.4h1.05v1.05h-1.05zM110.6 355.4h1.05v1.05h-1.05zM105.5 350.4h1.05v1.05h-1.05zM108 351.1h1.05v1.05h-1.05zM108.7 355.5h1.05v1.05h-1.05zM107.7 355.5h1.05v1.05h-1.05zM107.6 359.9h1.05v1.05h-1.05zM100.9 351.7h1.05v1.05h-1.05zM115.1 351.3h1.05v1.05h-1.05zM112.6 354.3h1.05v1.05h-1.05zM109.6 350.8h1.05v1.05h-1.05zM107.6 354.5h1.05v1.05h-1.05zM99.2 355h1.05v1.05h-1.05zM107.4 348.3h1.05v1.05h-1.05zM110.3 353.9h1.05v1.05h-1.05zM102.2 358.4h1.05v1.05h-1.05zM108.9 351.6h1.05v1.05h-1.05zM105.2 355.8h1.05v1.05h-1.05zM106.8 357.1h1.05v1.05h-1.05zM103.4 355.7h1.05v1.05h-1.05zM111.7 356.5h1.05v1.05h-1.05zM105.6 352.1h1.05v1.05h-1.05zM93.3 356.3h1.05v1.05h-1.05zM86.1 367h1.05v1.05h-1.05zM100.1 360.7h1.05v1.05h-1.05zM99.7 361.2h1.05v1.05h-1.05zM100.2 359.9h1.05v1.05h-1.05zM110 357.1h1.05v1.05h-1.05zM92.4 357.6h1.05v1.05h-1.05zM103.4 354.7h1.05v1.05h-1.05zM100.4 358.7h1.05v1.05h-1.05zM86.1 358.1h1.05v1.05h-1.05zM114.6 353.3h1.05v1.05h-1.05zM111.6 354.1h1.05v1.05h-1.05zM99.8 354.5h1.05v1.05h-1.05zM102 352.9h1.05v1.05h-1.05zM97.5 355h1.05v1.05h-1.05zM95 355.7h1.05v1.05h-1.05zM110 352.6h1.05v1.05h-1.05zM103.6 352.9h1.05v1.05h-1.05zM93.2 355.9h1.05v1.05h-1.05zM99.9 359.8h1.05v1.05h-1.05zM107.5 356.3h1.05v1.05h-1.05zM97.1 361.3h1.05v1.05h-1.05zM92 352.9h1.05v1.05h-1.05zM107.7 357.5h1.05v1.05h-1.05zM106.9 355.1h1.05v1.05h-1.05zM107.7 360.5h1.05v1.05h-1.05zM87.2 358h1.05v1.05h-1.05zM109.6 351.8h1.05v1.05h-1.05zM94.8 357.3h1.05v1.05h-1.05zM106.9 355.8h1.05v1.05h-1.05zM89.5 356.7h1.05v1.05h-1.05zM101.3 354.4h1.05v1.05h-1.05zM110 347.5h1.05v1.05h-1.05zM102.9 353.5h1.05v1.05h-1.05zM106.6 354.7h1.05v1.05h-1.05zM115.4 356.6h1.05v1.05h-1.05zM98 349.5h1.05v1.05h-1.05zM100 355.7h1.05v1.05h-1.05zM114.2 357.4h1.05v1.05h-1.05zM103.5 352.3h1.05v1.05h-1.05zM103.7 352.1h1.05v1.05h-1.05zM91.3 357.6h1.05v1.05h-1.05zM98.7 350.6h1.05v1.05h-1.05zM110.9 360.7h1.05v1.05h-1.05zM105.6 349.4h1.05v1.05h-1.05zM95.7 352.1h1.05v1.05h-1.05zM104 369.2h1.05v1.05h-1.05zM109.1 355.5h1.05v1.05h-1.05zM95.6 350.4h1.05v1.05h-1.05zM96.5 356.6h1.05v1.05h-1.05zM100.2 357.9h1.05v1.05h-1.05zM106.2 351.4h1.05v1.05h-1.05zM108.5 356h1.05v1.05h-1.05zM114.5 355.3h1.05v1.05h-1.05zM99.4 355.4h1.05v1.05h-1.05zM111.6 357.9h1.05v1.05h-1.05zM111.2 359.9h1.05v1.05h-1.05zM104.7 365h1.05v1.05h-1.05zM101.5 355h1.05v1.05h-1.05zM110.8 351.4h1.05v1.05h-1.05zM104.6 359.8h1.05v1.05h-1.05zM95.3 348.5h1.05v1.05h-1.05zM91.3 360.3h1.05v1.05h-1.05zM121.4 352.4h1.05v1.05h-1.05zM92.1 351h1.05v1.05h-1.05zM114.3 358.9h1.05v1.05h-1.05zM107.4 353h1.05v1.05h-1.05zM107.3 353h1.05v1.05h-1.05zM106.6 352.9h1.05v1.05h-1.05zM92.5 354.1h1.05v1.05h-1.05zM105.4 357.1h1.05v1.05h-1.05zM98 359.5h1.05v1.05h-1.05zM89.9 348.2h1.05v1.05h-1.05zM106.9 355.3h1.05v1.05h-1.05zM102 354.1h1.05v1.05h-1.05zM106.4 356.7h1.05v1.05h-1.05zM112.9 352.2h1.05v1.05h-1.05zM92.6 355.3h1.05v1.05h-1.05zM100.3 354.7h1.05v1.05h-1.05zM85.7 357.3h1.05v1.05h-1.05zM115.3 357.3h1.05v1.05h-1.05zM111.9 358.2h1.05v1.05h-1.05zM104.4 357.4h1.05v1.05h-1.05zM110.8 357.6h1.05v1.05h-1.05zM107.4 355.6h1.05v1.05h-1.05zM96.6 357.2h1.05v1.05h-1.05zM99.3 358.1h1.05v1.05h-1.05zM85.2 362.8h1.05v1.05h-1.05zM112.6 361.8h1.05v1.05h-1.05zM105.4 351.7h1.05v1.05h-1.05zM99.4 351.3h1.05v1.05h-1.05zM105.6 355.9h1.05v1.05h-1.05zM103.7 348.6h1.05v1.05h-1.05zM90.9 347.2h1.05v1.05h-1.05zM113.4 357.8h1.05v1.05h-1.05zM102.9 354.4h1.05v1.05h-1.05zM88.6 354.4h1.05v1.05h-1.05zM99.3 352.6h1.05v1.05h-1.05zM110.3 347.9h1.05v1.05h-1.05zM103.8 359h1.05v1.05h-1.05zM128.5 358.2h1.05v1.05h-1.05zM116.3 370.9h1.05v1.05h-1.05zM130.7 364.1h1.05v1.05h-1.05zM124.9 366.3h1.05v1.05h-1.05zM129.5 365.4h1.05v1.05h-1.05zM124.7 365.8h1.05v1.05h-1.05zM127.1 373.9h1.05v1.05h-1.05zM125.9 360.8h1.05v1.05h-1.05zM132.4 371.4h1.05v1.05h-1.05zM130.9 360.7h1.05v1.05h-1.05zM123.8 358.8h1.05v1.05h-1.05zM125.4 370.7h1.05v1.05h-1.05zM129.1 365.1h1.05v1.05h-1.05zM126.7 367h1.05v1.05h-1.05zM125.4 360.2h1.05v1.05h-1.05zM123.5 372.2h1.05v1.05h-1.05zM122.7 359.8h1.05v1.05h-1.05zM127.8 363.4h1.05v1.05h-1.05zM124.7 365.5h1.05v1.05h-1.05zM125.4 357.5h1.05v1.05h-1.05zM129.1 365.8h1.05v1.05h-1.05zM131.8 368.6h1.05v1.05h-1.05zM123.9 362.9h1.05v1.05h-1.05zM123.5 355.1h1.05v1.05h-1.05zM128.5 361.9h1.05v1.05h-1.05zM129.3 365.6h1.05v1.05h-1.05zM125.5 372h1.05v1.05h-1.05zM122.7 372.6h1.05v1.05h-1.05zM129.9 362.6h1.05v1.05h-1.05zM132 366.7h1.05v1.05h-1.05zM127.2 363.1h1.05v1.05h-1.05zM125.8 363h1.05v1.05h-1.05zM124.8 368.4h1.05v1.05h-1.05zM128.8 370.4h1.05v1.05h-1.05zM130.1 364.5h1.05v1.05h-1.05zM128.6 363.8h1.05v1.05h-1.05zM128 367.6h1.05v1.05h-1.05zM127.3 361.4h1.05v1.05h-1.05zM121.9 372.4h1.05v1.05h-1.05zM123.3 362.2h1.05v1.05h-1.05zM127.3 363.2h1.05v1.05h-1.05zM127.5 370.9h1.05v1.05h-1.05zM120.7 365.3h1.05v1.05h-1.05zM128.1 358.7h1.05v1.05h-1.05zM128.5 371.4h1.05v1.05h-1.05zM126.1 367h1.05v1.05h-1.05zM125 369.2h1.05v1.05h-1.05zM124.3 364.9h1.05v1.05h-1.05zM123.7 361.7h1.05v1.05h-1.05zM130 364.7h1.05v1.05h-1.05zM129.1 357.9h1.05v1.05h-1.05zM121.9 360.9h1.05v1.05h-1.05zM132.6 370.1h1.05v1.05h-1.05zM133.7 362.9h1.05v1.05h-1.05zM128.1 366.5h1.05v1.05h-1.05zM125.1 367.6h1.05v1.05h-1.05zM125.9 367h1.05v1.05h-1.05zM119.9 360.3h1.05v1.05h-1.05zM122.6 372.3h1.05v1.05h-1.05zM129.1 360.6h1.05v1.05h-1.05zM127.8 362.4h1.05v1.05h-1.05zM122.1 360.8h1.05v1.05h-1.05zM136.3 365.3h1.05v1.05h-1.05zM125.7 370.4h1.05v1.05h-1.05zM127 360h1.05v1.05h-1.05zM128.8 361.2h1.05v1.05h-1.05zM125.8 365.4h1.05v1.05h-1.05zM126.1 362.5h1.05v1.05h-1.05zM125.1 363.5h1.05v1.05h-1.05zM117.4 365.5h1.05v1.05h-1.05zM130.1 365.9h1.05v1.05h-1.05zM127.6 364.6h1.05v1.05h-1.05zM120 367.5h1.05v1.05h-1.05zM128.4 360.4h1.05v1.05h-1.05zM122.1 362.3h1.05v1.05h-1.05zM121.5 353.9h1.05v1.05h-1.05zM124.7 362.3h1.05v1.05h-1.05zM126.5 370.2h1.05v1.05h-1.05zM122.9 358.1h1.05v1.05h-1.05zM125.7 367.9h1.05v1.05h-1.05zM131 369.1h1.05v1.05h-1.05zM126.5 365.1h1.05v1.05h-1.05zM120.1 368h1.05v1.05h-1.05zM128.7 364.6h1.05v1.05h-1.05zM125 366.7h1.05v1.05h-1.05zM127.6 367.2h1.05v1.05h-1.05zM127.5 358.2h1.05v1.05h-1.05zM124.1 357.6h1.05v1.05h-1.05zM123.3 364.3h1.05v1.05h-1.05zM126.9 361.8h1.05v1.05h-1.05zM131.9 365.8h1.05v1.05h-1.05zM127.7 361.6h1.05v1.05h-1.05zM130.6 363.7h1.05v1.05h-1.05zM123.2 364h1.05v1.05h-1.05zM129.9 361.4h1.05v1.05h-1.05zM125.3 368.8h1.05v1.05h-1.05zM125.1 368.8h1.05v1.05h-1.05zM130.2 362.7h1.05v1.05h-1.05zM122 359.7h1.05v1.05h-1.05zM130.4 367.3h1.05v1.05h-1.05zM126.3 363.2h1.05v1.05h-1.05zM129.7 362.8h1.05v1.05h-1.05zM135.4 366.3h1.05v1.05h-1.05zM120.5 369.6h1.05v1.05h-1.05zM126.9 364.8h1.05v1.05h-1.05zM125.4 370.2h1.05v1.05h-1.05zM124.3 371.8h1.05v1.05h-1.05zM123.4 368.9h1.05v1.05h-1.05zM120.9 369.1h1.05v1.05h-1.05zM122.7 363.8h1.05v1.05h-1.05zM130.7 345.7h1.05v1.05h-1.05zM129.6 347.9h1.05v1.05h-1.05zM133.4 350.6h1.05v1.05h-1.05zM128.2 347.4h1.05v1.05h-1.05zM122.6 352.1h1.05v1.05h-1.05zM125.8 344.2h1.05v1.05h-1.05zM123.1 342.4h1.05v1.05h-1.05zM122.7 346.6h1.05v1.05h-1.05zM128.2 350.6h1.05v1.05h-1.05zM131.1 342.6h1.05v1.05h-1.05zM124.6 349.7h1.05v1.05h-1.05zM128.7 347.9h1.05v1.05h-1.05zM123.1 350h1.05v1.05h-1.05zM126.5 347.2h1.05v1.05h-1.05zM126.4 347.2h1.05v1.05h-1.05zM128.5 351.1h1.05v1.05h-1.05zM127.3 346h1.05v1.05h-1.05zM126.4 347.5h1.05v1.05h-1.05zM129.4 350.1h1.05v1.05h-1.05zM135 350.5h1.05v1.05h-1.05zM118.6 345.4h1.05v1.05h-1.05zM120.8 348.8h1.05v1.05h-1.05zM138.5 349.2h1.05v1.05h-1.05zM124.2 352h1.05v1.05h-1.05zM130 345.5h1.05v1.05h-1.05zM122.2 352.2h1.05v1.05h-1.05zM130.7 341.8h1.05v1.05h-1.05zM123.3 349.5h1.05v1.05h-1.05zM120.3 347.9h1.05v1.05h-1.05zM122.6 343h1.05v1.05h-1.05zM124.4 346.3h1.05v1.05h-1.05zM128.3 342.9h1.05v1.05h-1.05zM128.2 346.8h1.05v1.05h-1.05zM119.1 351.4h1.05v1.05h-1.05zM124.7 349.1h1.05v1.05h-1.05zM134.6 349.1h1.05v1.05h-1.05zM131.5 348.5h1.05v1.05h-1.05zM124 348.5h1.05v1.05h-1.05zM119.1 349.3h1.05v1.05h-1.05zM131 349.2h1.05v1.05h-1.05zM123.6 344.4h1.05v1.05h-1.05zM123.2 347.1h1.05v1.05h-1.05zM119.9 353.5h1.05v1.05h-1.05zM122.9 348.3h1.05v1.05h-1.05zM124.6 348.3h1.05v1.05h-1.05zM116.3 344.9h1.05v1.05h-1.05zM126.7 347.8h1.05v1.05h-1.05zM128.8 346.3h1.05v1.05h-1.05zM130.9 348.5h1.05v1.05h-1.05zM126.6 348h1.05v1.05h-1.05zM132.1 347.8h1.05v1.05h-1.05zM134.6 348.3h1.05v1.05h-1.05zM128.1 347.9h1.05v1.05h-1.05zM128.3 349.3h1.05v1.05h-1.05zM123.8 350.2h1.05v1.05h-1.05zM139.6 349.5h1.05v1.05h-1.05zM127.4 345.6h1.05v1.05h-1.05zM123.1 345.5h1.05v1.05h-1.05zM128.2 345.9h1.05v1.05h-1.05zM134.8 346.7h1.05v1.05h-1.05zM122.4 345.2h1.05v1.05h-1.05zM126.4 347.5h1.05v1.05h-1.05zM131.5 345.8h1.05v1.05h-1.05zM128.5 350.7h1.05v1.05h-1.05zM125.4 342.8h1.05v1.05h-1.05zM128 350.9h1.05v1.05h-1.05zM128.8 347.9h1.05v1.05h-1.05zM117.3 352.6h1.05v1.05h-1.05zM125.9 344.4h1.05v1.05h-1.05zM125.2 348.4h1.05v1.05h-1.05zM95.1 359.8h1.05v1.05h-1.05zM104.6 370.1h1.05v1.05h-1.05zM90.8 357.5h1.05v1.05h-1.05zM82.1 368.4h1.05v1.05h-1.05zM95.5 374h1.05v1.05h-1.05zM72.3 368.1h1.05v1.05h-1.05zM99.3 362.5h1.05v1.05h-1.05zM103.4 362.6h1.05v1.05h-1.05zM91.9 367.2h1.05v1.05h-1.05zM96.2 366.6h1.05v1.05h-1.05zM96.8 370.9h1.05v1.05h-1.05zM86.3 352.1h1.05v1.05h-1.05zM85.6 349.6h1.05v1.05h-1.05zM113.9 364.5h1.05v1.05h-1.05zM94.3 366.5h1.05v1.05h-1.05zM87 360.6h1.05v1.05h-1.05zM97.2 365.3h1.05v1.05h-1.05zM102.7 364.8h1.05v1.05h-1.05zM88 355.4h1.05v1.05h-1.05zM77.9 363.2h1.05v1.05h-1.05zM97.8 363h1.05v1.05h-1.05zM106.7 351.9h1.05v1.05h-1.05zM101 359.2h1.05v1.05h-1.05zM91.3 362.8h1.05v1.05h-1.05zM87.2 361.8h1.05v1.05h-1.05zM94.7 368.7h1.05v1.05h-1.05zM102.8 360.9h1.05v1.05h-1.05zM99.4 363.3h1.05v1.05h-1.05zM103.5 363.1h1.05v1.05h-1.05zM105.3 361.7h1.05v1.05h-1.05zM90 368.6h1.05v1.05h-1.05zM104.8 371.4h1.05v1.05h-1.05zM114.4 374h1.05v1.05h-1.05zM94.6 369.9h1.05v1.05h-1.05zM86.4 367.8h1.05v1.05h-1.05zM98.6 364.6h1.05v1.05h-1.05zM87.5 369.4h1.05v1.05h-1.05zM74.7 360.2h1.05v1.05h-1.05zM80.6 360.3h1.05v1.05h-1.05zM90.3 359.3h1.05v1.05h-1.05zM88.6 365.2h1.05v1.05h-1.05zM92.7 362h1.05v1.05h-1.05zM100.7 361.1h1.05v1.05h-1.05zM79.9 367.5h1.05v1.05h-1.05zM90.6 372.5h1.05v1.05h-1.05zM98 357.2h1.05v1.05h-1.05zM97.6 368h1.05v1.05h-1.05zM95.2 357.2h1.05v1.05h-1.05zM79.7 372.5h1.05v1.05h-1.05zM66.8 354.4h1.05v1.05h-1.05zM101.1 365.7h1.05v1.05h-1.05zM98.4 371.8h1.05v1.05h-1.05zM89.4 370.9h1.05v1.05h-1.05zM97.1 366.3h1.05v1.05h-1.05zM99 367.3h1.05v1.05h-1.05zM85.5 371.8h1.05v1.05h-1.05zM89.8 362.4h1.05v1.05h-1.05zM71.3 351.3h1.05v1.05h-1.05zM100.3 365.2h1.05v1.05h-1.05zM93.6 362.5h1.05v1.05h-1.05zM100.8 362.2h1.05v1.05h-1.05zM79.9 353h1.05v1.05h-1.05zM86.7 365.1h1.05v1.05h-1.05zM108.9 370.5h1.05v1.05h-1.05zM87.9 356.1h1.05v1.05h-1.05zM102.9 369h1.05v1.05h-1.05zM94.1 368.1h1.05v1.05h-1.05zM100.5 368.6h1.05v1.05h-1.05zM107.8 358.5h1.05v1.05h-1.05zM88.2 360.6h1.05v1.05h-1.05zM84.8 374h1.05v1.05h-1.05zM98.2 367.7h1.05v1.05h-1.05zM102.5 364.8h1.05v1.05h-1.05zM103 365.1h1.05v1.05h-1.05zM102.1 369.2h1.05v1.05h-1.05zM107.6 358.6h1.05v1.05h-1.05zM85.5 358.8h1.05v1.05h-1.05zM86.5 365.4h1.05v1.05h-1.05zM104.3 364.5h1.05v1.05h-1.05zM105.3 371.6h1.05v1.05h-1.05zM88.8 367.4h1.05v1.05h-1.05zM108.9 364.6h1.05v1.05h-1.05zM72.9 363.9h1.05v1.05h-1.05zM97.5 368.8h1.05v1.05h-1.05zM99.8 365.4h1.05v1.05h-1.05zM94.6 360.2h1.05v1.05h-1.05zM93.3 359.7h1.05v1.05h-1.05zM95.2 360.2h1.05v1.05h-1.05zM104.1 367.9h1.05v1.05h-1.05zM86.8 362.1h1.05v1.05h-1.05zM96.3 358.8h1.05v1.05h-1.05zM97.6 372.5h1.05v1.05h-1.05zM105.2 373.7h1.05v1.05h-1.05zM102.2 365.6h1.05v1.05h-1.05zM100.9 372.8h1.05v1.05h-1.05zM95.2 367.8h1.05v1.05h-1.05zM88.6 363.8h1.05v1.05h-1.05zM90 357.9h1.05v1.05h-1.05zM78 359.1h1.05v1.05h-1.05zM96.7 361h1.05v1.05h-1.05zM96.4 369.9h1.05v1.05h-1.05zM78.7 361.4h1.05v1.05h-1.05zM100.6 369.1h1.05v1.05h-1.05zM112.9 369.3h1.05v1.05h-1.05zM107.1 363.9h1.05v1.05h-1.05zM85.9 360.2h1.05v1.05h-1.05zM90.5 369.1h1.05v1.05h-1.05zM102.3 366.3h1.05v1.05h-1.05zM86 364.1h1.05v1.05h-1.05zM90.7 362h1.05v1.05h-1.05zM77.7 370.6h1.05v1.05h-1.05zM121.4 370h1.05v1.05h-1.05zM116.8 366.5h1.05v1.05h-1.05zM122.4 369.6h1.05v1.05h-1.05zM76.7 361.6h1.05v1.05h-1.05zM96.7 356.7h1.05v1.05h-1.05zM96.5 360.2h1.05v1.05h-1.05zM103.2 354.4h1.05v1.05h-1.05zM85.2 356.6h1.05v1.05h-1.05zM96 370.9h1.05v1.05h-1.05zM91.9 357h1.05v1.05h-1.05zM89.9 363.2h1.05v1.05h-1.05zM106.4 367.7h1.05v1.05h-1.05zM108.6 351.3h1.05v1.05h-1.05zM79.6 367.5h1.05v1.05h-1.05zM82 359.2h1.05v1.05h-1.05zM99.9 367.1h1.05v1.05h-1.05zM97.8 364.4h1.05v1.05h-1.05zM76.6 352.4h1.05v1.05h-1.05zM86.5 357.8h1.05v1.05h-1.05zM90.3 354.4h1.05v1.05h-1.05zM93.7 367.5h1.05v1.05h-1.05zM90 371.6h1.05v1.05h-1.05zM97 370.6h1.05v1.05h-1.05zM86.1 364.5h1.05v1.05h-1.05zM80.8 351.6h1.05v1.05h-1.05zM77.5 359.5h1.05v1.05h-1.05zM98.1 363.4h1.05v1.05h-1.05zM105.4 367.5h1.05v1.05h-1.05zM95 365.7h1.05v1.05h-1.05z"/>
<rect x="47.9" y="318.2" width="100.7" height="57.4" fill="none" stroke="#000" stroke-width="1.1"/>
<line x1="45.5" y1="318.2" x2="47.9" y2="318.2" stroke="#000" stroke-width="1.3"/>
<line x1="45.5" y1="321.2" x2="47.9" y2="321.2" stroke="#000" stroke-width="1.3"/>
<line x1="45.5" y1="324.2" x2="47.9" y2="324.2" stroke="#000" stroke-width="1.3"/>
<line x1="45.5" y1="327.3" x2="47.9" y2="327.3" stroke="#000" stroke-width="1.3"/>
<line x1="45.5" y1="330.3" x2="47.9" y2="330.3" stroke="#000" stroke-width="1.3"/>
<line x1="45.5" y1="333.3" x2="47.9" y2="333.3" stroke="#000" stroke-width="1.3"/>
<line x1="45.5" y1="336.3" x2="47.9" y2="336.3" stroke="#000" stroke-width="1.3"/>
<line x1="45.5" y1="339.3" x2="47.9" y2="339.3" stroke="#000" stroke-width="1.3"/>
<line x1="45.5" y1="342.4" x2="47.9" y2="342.4" stroke="#000" stroke-width="1.3"/>
<line x1="45.5" y1="345.4" x2="47.9" y2="345.4" stroke="#000" stroke-width="1.3"/>
<line x1="45.5" y1="348.4" x2="47.9" y2="348.4" stroke="#000" stroke-width="1.3"/>
<line x1="45.5" y1="351.4" x2="47.9" y2="351.4" stroke="#000" stroke-width="1.3"/>
<line x1="45.5" y1="354.5" x2="47.9" y2="354.5" stroke="#000" stroke-width="1.3"/>
<line x1="45.5" y1="357.5" x2="47.9" y2="357.5" stroke="#000" stroke-width="1.3"/>
<line x1="45.5" y1="360.5" x2="47.9" y2="360.5" stroke="#000" stroke-width="1.3"/>
<line x1="45.5" y1="363.5" x2="47.9" y2="363.5" stroke="#000" stroke-width="1.3"/>
<line x1="45.5" y1="366.5" x2="47.9" y2="366.5" stroke="#000" stroke-width="1.3"/>
<line x1="45.5" y1="369.6" x2="47.9" y2="369.6" stroke="#000" stroke-width="1.3"/>
<line x1="45.5" y1="372.6" x2="47.9" y2="372.6" stroke="#000" stroke-width="1.3"/>
<line x1="45.5" y1="375.6" x2="47.9" y2="375.6" stroke="#000" stroke-width="1.3"/>
<line x1="47.9" y1="375.6" x2="47.9" y2="378" stroke="#000" stroke-width="1.3"/>
<line x1="50.9" y1="375.6" x2="50.9" y2="378" stroke="#000" stroke-width="1.3"/>
<line x1="53.8" y1="375.6" x2="53.8" y2="378" stroke="#000" stroke-width="1.3"/>
<line x1="56.8" y1="375.6" x2="56.8" y2="378" stroke="#000" stroke-width="1.3"/>
<line x1="59.7" y1="375.6" x2="59.7" y2="378" stroke="#000" stroke-width="1.3"/>
<line x1="62.7" y1="375.6" x2="62.7" y2="378" stroke="#000" stroke-width="1.3"/>
<line x1="65.7" y1="375.6" x2="65.7" y2="378" stroke="#000" stroke-width="1.3"/>
<line x1="68.6" y1="375.6" x2="68.6" y2="378" stroke="#000" stroke-width="1.3"/>
<line x1="71.6" y1="375.6" x2="71.6" y2="378" stroke="#000" stroke-width="1.3"/>
<line x1="74.6" y1="375.6" x2="74.6" y2="378" stroke="#000" stroke-width="1.3"/>
<line x1="77.5" y1="375.6" x2="77.5" y2="378" stroke="#000" stroke-width="1.3"/>
<line x1="80.5" y1="375.6" x2="80.5" y2="378" stroke="#000" stroke-width="1.3"/>
<line x1="83.4" y1="375.6" x2="83.4" y2="378" stroke="#000" stroke-width="1.3"/>
<line x1="86.4" y1="375.6" x2="86.4" y2="378" stroke="#000" stroke-width="1.3"/>
<line x1="89.4" y1="375.6" x2="89.4" y2="378" stroke="#000" stroke-width="1.3"/>
<line x1="92.3" y1="375.6" x2="92.3" y2="378" stroke="#000" stroke-width="1.3"/>
<line x1="95.3" y1="375.6" x2="95.3" y2="378" stroke="#000" stroke-width="1.3"/>
<line x1="98.2" y1="375.6" x2="98.2" y2="378" stroke="#000" stroke-width="1.3"/>
<line x1="101.2" y1="375.6" x2="101.2" y2="378" stroke="#000" stroke-width="1.3"/>
<line x1="104.2" y1="375.6" x2="104.2" y2="378" stroke="#000" stroke-width="1.3"/>
<line x1="107.1" y1="375.6" x2="107.1" y2="378" stroke="#000" stroke-width="1.3"/>
<line x1="110.1" y1="375.6" x2="110.1" y2="378" stroke="#000" stroke-width="1.3"/>
<line x1="113.1" y1="375.6" x2="113.1" y2="378" stroke="#000" stroke-width="1.3"/>
<line x1="116" y1="375.6" x2="116" y2="378" stroke="#000" stroke-width="1.3"/>
<line x1="119" y1="375.6" x2="119" y2="378" stroke="#000" stroke-width="1.3"/>
<line x1="121.9" y1="375.6" x2="121.9" y2="378" stroke="#000" stroke-width="1.3"/>
<line x1="124.9" y1="375.6" x2="124.9" y2="378" stroke="#000" stroke-width="1.3"/>
<line x1="127.9" y1="375.6" x2="127.9" y2="378" stroke="#000" stroke-width="1.3"/>
<line x1="130.8" y1="375.6" x2="130.8" y2="378" stroke="#000" stroke-width="1.3"/>
<line x1="133.8" y1="375.6" x2="133.8" y2="378" stroke="#000" stroke-width="1.3"/>
<line x1="136.8" y1="375.6" x2="136.8" y2="378" stroke="#000" stroke-width="1.3"/>
<line x1="139.7" y1="375.6" x2="139.7" y2="378" stroke="#000" stroke-width="1.3"/>
<line x1="142.7" y1="375.6" x2="142.7" y2="378" stroke="#000" stroke-width="1.3"/>
<line x1="145.6" y1="375.6" x2="145.6" y2="378" stroke="#000" stroke-width="1.3"/>
<line x1="148.6" y1="375.6" x2="148.6" y2="378" stroke="#000" stroke-width="1.3"/>
<text x="38.6" y="321.2" font-size="6.6" font-weight="bold" text-anchor="end" letter-spacing="0.7">10<tspan font-size="4.49" dy="-2.1" letter-spacing="0">4</tspan></text>
<text x="38.6" y="334.6" font-size="6.6" font-weight="bold" text-anchor="end" letter-spacing="0.7">10<tspan font-size="4.49" dy="-2.1" letter-spacing="0">3</tspan></text>
<text x="38.6" y="349.6" font-size="6.6" font-weight="bold" text-anchor="end" letter-spacing="0.7">10<tspan font-size="4.49" dy="-2.1" letter-spacing="0">2</tspan></text>
<text x="38.6" y="364.6" font-size="6.6" font-weight="bold" text-anchor="end" letter-spacing="0.7">10<tspan font-size="4.49" dy="-2.1" letter-spacing="0">1</tspan></text>
<text x="38.6" y="379.6" font-size="6.6" font-weight="bold" text-anchor="end" letter-spacing="0.7">10<tspan font-size="4.49" dy="-2.1" letter-spacing="0">0</tspan></text>
<text x="41.7" y="388" font-size="6.6" font-weight="bold" text-anchor="middle" letter-spacing="0.7">10<tspan font-size="4.49" dy="-2.1" letter-spacing="0">0</tspan></text>
<text x="67.3" y="388" font-size="6.6" font-weight="bold" text-anchor="middle" letter-spacing="0.7">10<tspan font-size="4.49" dy="-2.1" letter-spacing="0">1</tspan></text>
<text x="94.2" y="388" font-size="6.6" font-weight="bold" text-anchor="middle" letter-spacing="0.7">10<tspan font-size="4.49" dy="-2.1" letter-spacing="0">2</tspan></text>
<text x="120.5" y="388" font-size="6.6" font-weight="bold" text-anchor="middle" letter-spacing="0.7">10<tspan font-size="4.49" dy="-2.1" letter-spacing="0">3</tspan></text>
<text x="145.5" y="388" font-size="6.6" font-weight="bold" text-anchor="middle" letter-spacing="0.7">10<tspan font-size="4.49" dy="-2.1" letter-spacing="0">4</tspan></text>
<ellipse cx="105" cy="354.8" rx="14.8" ry="7.9" fill="none" stroke="#000" stroke-width="1.45" transform="rotate(-6 105 354.8)"/>
<ellipse cx="126.5" cy="364.4" rx="8" ry="9.1" fill="none" stroke="#000" stroke-width="1.45" transform="rotate(0 126.5 364.4)"/>
<path d="M111.5 341.2 L138 348 L132.3 352.7 L128.8 358.5 L121 353 L110.4 347 Z" fill="none" stroke="#000" stroke-width="1.45" stroke-linejoin="round"/>
<line x1="24.4" y1="311" x2="24.4" y2="394.6" stroke="#000" stroke-width="1.1"/>
<path d="M24.4 308.3 L21.4 316.9 L27.4 316.9 Z"/>
<line x1="24.4" y1="394.6" x2="158" y2="394.6" stroke="#000" stroke-width="1.1"/>
<path d="M162.5 394.6 L153.9 391.6 L153.9 397.6 Z"/>
<text x="18.9" y="349.2" font-size="8.3" font-weight="bold" text-anchor="middle" transform="rotate(-90 18.9 349.2)">CD21</text>
<text x="84.2" y="406.6" font-size="8.3" font-weight="bold">CD24</text>
<text x="79.2" y="337.9" font-size="8.35" font-weight="bold">MZ+T2&#160; 12.8%</text>
<text x="51.5" y="353.6" font-size="8.2" font-weight="bold">FO 51.9%</text>
<text x="69" y="373.7" font-size="8.2" font-weight="bold">T1&#160; 20.9%</text>
<text x="157.6" y="305.7" font-size="7.6" font-weight="bold">WT</text>
<path d="M197 372.6 L197.8 372 L198.5 372.6 L199.2 372.6 L200 372 L200.8 372 L201.5 373.2 L202.2 373.2 L203 372 L203.8 373.2 L204.5 371.5 L205.2 370.5 L206 368.7 L206.8 368.9 L207.5 368.1 L208.2 367.5 L209 372.3 L209.8 371.8 L210.5 370.8 L211.2 373.1 L212 367.5 L212.8 370.5 L213.5 371 L214.2 367.3 L215 368.2 L215.8 361.8 L216.5 365.5 L217.2 369.9 L218 368.5 L218.8 367.1 L219.5 362.1 L220.2 364.1 L221 362.6 L221.8 364.1 L222.5 363.4 L223.2 360 L224 361 L224.8 365.3 L225.5 360.3 L226.2 360.8 L227 361.9 L227.8 361.1 L228.5 356.3 L229.2 360.9 L230 360 L230.8 360.7 L231.5 359.6 L232.2 357.1 L233 357 L233.8 357.6 L234.5 357.5 L235.2 358.1 L236 358.9 L236.8 356.3 L237.5 357.2 L238.2 359.6 L239 353.6 L239.8 359.2 L240.5 354.5 L241.2 354.7 L242 352 L242.8 356.7 L243.5 353.7 L244.2 353.2 L245 355.8 L245.8 355.1 L246.5 357.2 L247.2 356.3 L248 355.2 L248.8 356.4 L249.5 351.5 L250.2 351.5 L251 350.9 L251.8 356.9 L252.5 349.8 L253.2 349.1 L254 352.1 L254.8 351.3 L255.5 348 L256.2 350.3 L257 350.9 L257.8 346.8 L258.5 357.3 L259.2 360.4 L260 359.1 L260.8 353.7 L261.5 356.4 L262.2 354.3 L263 359.2 L263.8 360.7 L264.5 361 L265.2 359.5 L266 359.6 L266.8 358.9 L267.5 362.9 L268.2 362.5 L269 366.6 L269.8 363.5 L270.5 365 L271.2 366.9 L272 367.6 L272.8 370.5 L273.5 366.1 L274.2 367.1 L275 367.8 L275.8 370.2 L276.5 372.3 L277.2 373.2 L278 369 L278.8 372.3 L279.5 370 L280.2 373.2 L281 373.2 L281.8 373.2 L282.5 372 L283.2 373.2 L284 372.6 L284.8 372.6 L285.5 372 L286.2 373.2 L287 372.6 L287.8 373.2 L288.5 373.2 L289.2 373.2 L290 373.2 L290.8 372 L291.5 373.2 L292.2 373.2 L293 372.6 L293.8 373.2 L294.5 372.6 L295.2 372" fill="none" stroke="#000" stroke-width="0.8"/>
<rect x="195.8" y="317.7" width="101.1" height="56.7" fill="none" stroke="#000" stroke-width="1.1"/>
<line x1="195.8" y1="374" x2="296.9" y2="374" stroke="#000" stroke-width="1.8"/>
<line x1="193.4" y1="317.7" x2="195.8" y2="317.7" stroke="#000" stroke-width="1.3"/>
<line x1="193.4" y1="320.7" x2="195.8" y2="320.7" stroke="#000" stroke-width="1.3"/>
<line x1="193.4" y1="323.7" x2="195.8" y2="323.7" stroke="#000" stroke-width="1.3"/>
<line x1="193.4" y1="326.7" x2="195.8" y2="326.7" stroke="#000" stroke-width="1.3"/>
<line x1="193.4" y1="329.6" x2="195.8" y2="329.6" stroke="#000" stroke-width="1.3"/>
<line x1="193.4" y1="332.6" x2="195.8" y2="332.6" stroke="#000" stroke-width="1.3"/>
<line x1="193.4" y1="335.6" x2="195.8" y2="335.6" stroke="#000" stroke-width="1.3"/>
<line x1="193.4" y1="338.6" x2="195.8" y2="338.6" stroke="#000" stroke-width="1.3"/>
<line x1="193.4" y1="341.6" x2="195.8" y2="341.6" stroke="#000" stroke-width="1.3"/>
<line x1="193.4" y1="344.6" x2="195.8" y2="344.6" stroke="#000" stroke-width="1.3"/>
<line x1="193.4" y1="347.5" x2="195.8" y2="347.5" stroke="#000" stroke-width="1.3"/>
<line x1="193.4" y1="350.5" x2="195.8" y2="350.5" stroke="#000" stroke-width="1.3"/>
<line x1="193.4" y1="353.5" x2="195.8" y2="353.5" stroke="#000" stroke-width="1.3"/>
<line x1="193.4" y1="356.5" x2="195.8" y2="356.5" stroke="#000" stroke-width="1.3"/>
<line x1="193.4" y1="359.5" x2="195.8" y2="359.5" stroke="#000" stroke-width="1.3"/>
<line x1="193.4" y1="362.5" x2="195.8" y2="362.5" stroke="#000" stroke-width="1.3"/>
<line x1="193.4" y1="365.4" x2="195.8" y2="365.4" stroke="#000" stroke-width="1.3"/>
<line x1="193.4" y1="368.4" x2="195.8" y2="368.4" stroke="#000" stroke-width="1.3"/>
<line x1="193.4" y1="371.4" x2="195.8" y2="371.4" stroke="#000" stroke-width="1.3"/>
<line x1="193.4" y1="374.4" x2="195.8" y2="374.4" stroke="#000" stroke-width="1.3"/>
<line x1="195.8" y1="374.4" x2="195.8" y2="376.8" stroke="#000" stroke-width="1.3"/>
<line x1="198.8" y1="374.4" x2="198.8" y2="376.8" stroke="#000" stroke-width="1.3"/>
<line x1="201.7" y1="374.4" x2="201.7" y2="376.8" stroke="#000" stroke-width="1.3"/>
<line x1="204.7" y1="374.4" x2="204.7" y2="376.8" stroke="#000" stroke-width="1.3"/>
<line x1="207.7" y1="374.4" x2="207.7" y2="376.8" stroke="#000" stroke-width="1.3"/>
<line x1="210.7" y1="374.4" x2="210.7" y2="376.8" stroke="#000" stroke-width="1.3"/>
<line x1="213.6" y1="374.4" x2="213.6" y2="376.8" stroke="#000" stroke-width="1.3"/>
<line x1="216.6" y1="374.4" x2="216.6" y2="376.8" stroke="#000" stroke-width="1.3"/>
<line x1="219.6" y1="374.4" x2="219.6" y2="376.8" stroke="#000" stroke-width="1.3"/>
<line x1="222.6" y1="374.4" x2="222.6" y2="376.8" stroke="#000" stroke-width="1.3"/>
<line x1="225.5" y1="374.4" x2="225.5" y2="376.8" stroke="#000" stroke-width="1.3"/>
<line x1="228.5" y1="374.4" x2="228.5" y2="376.8" stroke="#000" stroke-width="1.3"/>
<line x1="231.5" y1="374.4" x2="231.5" y2="376.8" stroke="#000" stroke-width="1.3"/>
<line x1="234.5" y1="374.4" x2="234.5" y2="376.8" stroke="#000" stroke-width="1.3"/>
<line x1="237.4" y1="374.4" x2="237.4" y2="376.8" stroke="#000" stroke-width="1.3"/>
<line x1="240.4" y1="374.4" x2="240.4" y2="376.8" stroke="#000" stroke-width="1.3"/>
<line x1="243.4" y1="374.4" x2="243.4" y2="376.8" stroke="#000" stroke-width="1.3"/>
<line x1="246.3" y1="374.4" x2="246.3" y2="376.8" stroke="#000" stroke-width="1.3"/>
<line x1="249.3" y1="374.4" x2="249.3" y2="376.8" stroke="#000" stroke-width="1.3"/>
<line x1="252.3" y1="374.4" x2="252.3" y2="376.8" stroke="#000" stroke-width="1.3"/>
<line x1="255.3" y1="374.4" x2="255.3" y2="376.8" stroke="#000" stroke-width="1.3"/>
<line x1="258.2" y1="374.4" x2="258.2" y2="376.8" stroke="#000" stroke-width="1.3"/>
<line x1="261.2" y1="374.4" x2="261.2" y2="376.8" stroke="#000" stroke-width="1.3"/>
<line x1="264.2" y1="374.4" x2="264.2" y2="376.8" stroke="#000" stroke-width="1.3"/>
<line x1="267.2" y1="374.4" x2="267.2" y2="376.8" stroke="#000" stroke-width="1.3"/>
<line x1="270.1" y1="374.4" x2="270.1" y2="376.8" stroke="#000" stroke-width="1.3"/>
<line x1="273.1" y1="374.4" x2="273.1" y2="376.8" stroke="#000" stroke-width="1.3"/>
<line x1="276.1" y1="374.4" x2="276.1" y2="376.8" stroke="#000" stroke-width="1.3"/>
<line x1="279.1" y1="374.4" x2="279.1" y2="376.8" stroke="#000" stroke-width="1.3"/>
<line x1="282" y1="374.4" x2="282" y2="376.8" stroke="#000" stroke-width="1.3"/>
<line x1="285" y1="374.4" x2="285" y2="376.8" stroke="#000" stroke-width="1.3"/>
<line x1="288" y1="374.4" x2="288" y2="376.8" stroke="#000" stroke-width="1.3"/>
<line x1="291" y1="374.4" x2="291" y2="376.8" stroke="#000" stroke-width="1.3"/>
<line x1="293.9" y1="374.4" x2="293.9" y2="376.8" stroke="#000" stroke-width="1.3"/>
<line x1="296.9" y1="374.4" x2="296.9" y2="376.8" stroke="#000" stroke-width="1.3"/>
<text x="189.6" y="321.7" font-size="7.9" font-weight="bold" text-anchor="end">20</text>
<text x="189.6" y="335.7" font-size="7.9" font-weight="bold" text-anchor="end">15</text>
<text x="189.6" y="350" font-size="7.9" font-weight="bold" text-anchor="end">10</text>
<text x="189.6" y="365" font-size="7.9" font-weight="bold" text-anchor="end">5</text>
<text x="189.6" y="379.4" font-size="7.9" font-weight="bold" text-anchor="end">0</text>
<text x="190.8" y="388.6" font-size="6.6" font-weight="bold" text-anchor="middle" letter-spacing="0.7">10<tspan font-size="4.49" dy="-2.1" letter-spacing="0">0</tspan></text>
<text x="216.8" y="388.6" font-size="6.6" font-weight="bold" text-anchor="middle" letter-spacing="0.7">10<tspan font-size="4.49" dy="-2.1" letter-spacing="0">1</tspan></text>
<text x="242.9" y="388.6" font-size="6.6" font-weight="bold" text-anchor="middle" letter-spacing="0.7">10<tspan font-size="4.49" dy="-2.1" letter-spacing="0">2</tspan></text>
<text x="268.8" y="388.6" font-size="6.6" font-weight="bold" text-anchor="middle" letter-spacing="0.7">10<tspan font-size="4.49" dy="-2.1" letter-spacing="0">3</tspan></text>
<text x="293.6" y="388.6" font-size="6.6" font-weight="bold" text-anchor="middle" letter-spacing="0.7">10<tspan font-size="4.49" dy="-2.1" letter-spacing="0">4</tspan></text>
<line x1="196" y1="353.8" x2="246.6" y2="353.8" stroke="#000" stroke-width="1.0"/>
<line x1="246.6" y1="338.2" x2="246.6" y2="358.5" stroke="#000" stroke-width="1.0"/>
<line x1="246.6" y1="348" x2="296" y2="348" stroke="#000" stroke-width="1.0"/>
<line x1="174.6" y1="312" x2="174.6" y2="395.6" stroke="#000" stroke-width="1.1"/>
<path d="M174.6 309.2 L171.6 317.8 L177.6 317.8 Z"/>
<line x1="174.6" y1="395.6" x2="305" y2="395.6" stroke="#000" stroke-width="1.1"/>
<path d="M309.3 395.6 L300.8 392.6 L300.8 398.6 Z"/>
<text x="172" y="347.4" font-size="8.1" font-weight="bold" text-anchor="middle" transform="rotate(-90 172 347.4)">Counts</text>
<text x="233.4" y="406.8" font-size="8.3" font-weight="bold">CD23</text>
<text x="199" y="347.4" font-size="8.0" font-weight="bold">MZ 30.8%</text>
<text x="254" y="337.8" font-size="8.15" font-weight="bold">T2 69.2%</text>
<text x="129.2" y="430.4" font-size="8.4" font-weight="bold">CD19 talin null</text>
<path fill="#e41010" d="M113.8 486.1h1.05v1.05h-1.05zM101.9 482.2h1.05v1.05h-1.05zM106.6 482h1.05v1.05h-1.05zM120.7 481.4h1.05v1.05h-1.05zM96.7 484.2h1.05v1.05h-1.05zM106.6 479.6h1.05v1.05h-1.05zM120 487.2h1.05v1.05h-1.05zM114.1 482.6h1.05v1.05h-1.05zM105.3 485.8h1.05v1.05h-1.05zM107.7 482.6h1.05v1.05h-1.05zM108.1 482.4h1.05v1.05h-1.05zM99.1 478.8h1.05v1.05h-1.05zM102.6 476.3h1.05v1.05h-1.05zM103.1 480.7h1.05v1.05h-1.05zM108 481.8h1.05v1.05h-1.05zM106.8 484.7h1.05v1.05h-1.05zM98.6 480.6h1.05v1.05h-1.05zM107.8 479.7h1.05v1.05h-1.05zM115.8 481.7h1.05v1.05h-1.05zM114.4 483.4h1.05v1.05h-1.05zM107.6 484.5h1.05v1.05h-1.05zM101.7 478.8h1.05v1.05h-1.05zM107 475.8h1.05v1.05h-1.05zM106.8 481.4h1.05v1.05h-1.05zM100.2 479.3h1.05v1.05h-1.05zM102.4 488.1h1.05v1.05h-1.05zM115.2 483.5h1.05v1.05h-1.05zM110 485.4h1.05v1.05h-1.05zM109.5 485.2h1.05v1.05h-1.05zM113.4 487.5h1.05v1.05h-1.05zM114.3 480.5h1.05v1.05h-1.05zM112 484.9h1.05v1.05h-1.05zM112.3 487.7h1.05v1.05h-1.05zM110.4 480.9h1.05v1.05h-1.05zM113.4 484.9h1.05v1.05h-1.05zM108.9 483.3h1.05v1.05h-1.05zM109.7 482.6h1.05v1.05h-1.05zM110.8 480.9h1.05v1.05h-1.05zM112.7 482.9h1.05v1.05h-1.05zM117.6 482.8h1.05v1.05h-1.05zM109.5 478.8h1.05v1.05h-1.05zM120.3 481.4h1.05v1.05h-1.05zM106.4 481.3h1.05v1.05h-1.05zM109 481.7h1.05v1.05h-1.05zM117.5 480.7h1.05v1.05h-1.05zM107.8 480.8h1.05v1.05h-1.05zM112 477.7h1.05v1.05h-1.05zM114 481h1.05v1.05h-1.05zM101.9 485.8h1.05v1.05h-1.05zM102.4 483.8h1.05v1.05h-1.05zM109.1 480.2h1.05v1.05h-1.05zM100.7 480.1h1.05v1.05h-1.05zM112.8 481.8h1.05v1.05h-1.05zM106.1 484.5h1.05v1.05h-1.05zM109.2 482.1h1.05v1.05h-1.05zM104.6 478.4h1.05v1.05h-1.05zM106.6 482.7h1.05v1.05h-1.05zM106.9 482.8h1.05v1.05h-1.05zM107.7 481.3h1.05v1.05h-1.05zM108.7 482.9h1.05v1.05h-1.05zM97.8 481.9h1.05v1.05h-1.05zM108 480.8h1.05v1.05h-1.05zM113.8 484.9h1.05v1.05h-1.05zM114.7 483.8h1.05v1.05h-1.05zM111.2 482.3h1.05v1.05h-1.05zM112.7 480.2h1.05v1.05h-1.05zM108.3 482.8h1.05v1.05h-1.05zM108.2 478.7h1.05v1.05h-1.05zM108.5 480.9h1.05v1.05h-1.05zM105.7 483.5h1.05v1.05h-1.05zM114.3 482.1h1.05v1.05h-1.05zM103.2 481.5h1.05v1.05h-1.05zM108 479.2h1.05v1.05h-1.05zM105.9 482.3h1.05v1.05h-1.05zM106 483.1h1.05v1.05h-1.05zM102.4 483.6h1.05v1.05h-1.05zM105.4 482.2h1.05v1.05h-1.05zM109 480.6h1.05v1.05h-1.05zM114.2 477.3h1.05v1.05h-1.05zM109.9 483.6h1.05v1.05h-1.05zM107.7 481.7h1.05v1.05h-1.05zM103.2 481.8h1.05v1.05h-1.05zM109.8 480.4h1.05v1.05h-1.05zM109 481h1.05v1.05h-1.05zM103.8 481.7h1.05v1.05h-1.05zM105 484.1h1.05v1.05h-1.05zM105 485.5h1.05v1.05h-1.05zM108.8 481.8h1.05v1.05h-1.05zM105.2 483h1.05v1.05h-1.05zM103.8 477.9h1.05v1.05h-1.05zM111.1 476.5h1.05v1.05h-1.05zM114.6 480.5h1.05v1.05h-1.05zM116.8 482.5h1.05v1.05h-1.05zM117.1 478.1h1.05v1.05h-1.05zM106.7 482.6h1.05v1.05h-1.05zM106.1 482.1h1.05v1.05h-1.05zM108.1 483.6h1.05v1.05h-1.05zM116.1 476.3h1.05v1.05h-1.05zM112.1 478.9h1.05v1.05h-1.05zM117.1 478.1h1.05v1.05h-1.05zM104.7 483.2h1.05v1.05h-1.05zM108 483.6h1.05v1.05h-1.05zM110.8 479.9h1.05v1.05h-1.05zM100.7 484.8h1.05v1.05h-1.05zM107.8 481.6h1.05v1.05h-1.05zM107.4 481.2h1.05v1.05h-1.05zM105.2 482h1.05v1.05h-1.05zM110.2 478.7h1.05v1.05h-1.05zM100.9 483.3h1.05v1.05h-1.05zM113.3 480.5h1.05v1.05h-1.05zM108.1 480.6h1.05v1.05h-1.05zM110.9 481.7h1.05v1.05h-1.05zM106.1 479.9h1.05v1.05h-1.05zM111.1 482.8h1.05v1.05h-1.05zM106.7 482.9h1.05v1.05h-1.05zM93.3 480.7h1.05v1.05h-1.05zM109.8 476.7h1.05v1.05h-1.05zM106 482.5h1.05v1.05h-1.05zM115.3 482.9h1.05v1.05h-1.05zM102.7 484.1h1.05v1.05h-1.05zM107.5 484h1.05v1.05h-1.05zM101.9 477.7h1.05v1.05h-1.05zM100.8 483.4h1.05v1.05h-1.05zM114.9 482.5h1.05v1.05h-1.05zM109.8 481.6h1.05v1.05h-1.05zM109.9 479.3h1.05v1.05h-1.05zM115.1 483.9h1.05v1.05h-1.05zM113.8 481.7h1.05v1.05h-1.05zM113.2 484.4h1.05v1.05h-1.05zM121.6 484.6h1.05v1.05h-1.05zM105.1 479.8h1.05v1.05h-1.05zM113.3 483.1h1.05v1.05h-1.05zM111.7 482h1.05v1.05h-1.05zM104.8 482.2h1.05v1.05h-1.05zM101.5 482.6h1.05v1.05h-1.05zM120.4 483.7h1.05v1.05h-1.05zM104.6 479.7h1.05v1.05h-1.05zM121.1 483.5h1.05v1.05h-1.05zM106.3 483.3h1.05v1.05h-1.05zM107.3 479.2h1.05v1.05h-1.05zM109.6 483.2h1.05v1.05h-1.05zM115.5 478.7h1.05v1.05h-1.05zM116.4 481.2h1.05v1.05h-1.05zM98.8 484.4h1.05v1.05h-1.05zM114 483.2h1.05v1.05h-1.05zM113.1 479.6h1.05v1.05h-1.05zM111.5 477.7h1.05v1.05h-1.05zM105.6 488.3h1.05v1.05h-1.05zM117.3 482.9h1.05v1.05h-1.05zM111.5 482.1h1.05v1.05h-1.05zM112.1 482.4h1.05v1.05h-1.05zM104.2 481h1.05v1.05h-1.05zM99.2 479.7h1.05v1.05h-1.05zM108.1 482.8h1.05v1.05h-1.05zM120.3 477.7h1.05v1.05h-1.05zM119.7 480.8h1.05v1.05h-1.05zM106.8 481.7h1.05v1.05h-1.05zM120.1 479.1h1.05v1.05h-1.05zM107 483.3h1.05v1.05h-1.05zM113.8 482.9h1.05v1.05h-1.05zM109.5 484.4h1.05v1.05h-1.05zM104 485.9h1.05v1.05h-1.05zM106.4 482.8h1.05v1.05h-1.05zM104.2 480.3h1.05v1.05h-1.05zM114 483.3h1.05v1.05h-1.05zM108 483.9h1.05v1.05h-1.05zM125.4 475.7h1.05v1.05h-1.05zM98.5 482.3h1.05v1.05h-1.05zM100.2 484.5h1.05v1.05h-1.05zM104.7 481.9h1.05v1.05h-1.05zM104.7 487.1h1.05v1.05h-1.05zM116.8 477.6h1.05v1.05h-1.05zM112.3 481.1h1.05v1.05h-1.05zM116.5 482.7h1.05v1.05h-1.05zM105.1 480.8h1.05v1.05h-1.05zM109.2 486.2h1.05v1.05h-1.05zM109.4 480.6h1.05v1.05h-1.05zM106.9 484h1.05v1.05h-1.05zM107.4 486.3h1.05v1.05h-1.05zM113.5 482.3h1.05v1.05h-1.05zM109.5 481h1.05v1.05h-1.05zM96.9 484.9h1.05v1.05h-1.05zM116.7 481.4h1.05v1.05h-1.05zM110.4 478.4h1.05v1.05h-1.05zM107.9 482.3h1.05v1.05h-1.05zM108.6 482h1.05v1.05h-1.05zM114.1 483.7h1.05v1.05h-1.05zM113 480.4h1.05v1.05h-1.05zM106.4 481.9h1.05v1.05h-1.05zM100.8 478.2h1.05v1.05h-1.05zM110.7 481.9h1.05v1.05h-1.05zM109.4 484.9h1.05v1.05h-1.05zM98 482.9h1.05v1.05h-1.05zM107.8 478.6h1.05v1.05h-1.05zM112.4 485.5h1.05v1.05h-1.05zM101.4 482h1.05v1.05h-1.05zM113.9 482h1.05v1.05h-1.05zM106.7 484.4h1.05v1.05h-1.05zM100.2 481.8h1.05v1.05h-1.05zM105.7 481.7h1.05v1.05h-1.05zM102.5 482.3h1.05v1.05h-1.05zM115.3 483h1.05v1.05h-1.05zM102.4 480.6h1.05v1.05h-1.05zM105.1 478.1h1.05v1.05h-1.05zM112.7 483.2h1.05v1.05h-1.05zM108.1 485.6h1.05v1.05h-1.05zM112.7 480.4h1.05v1.05h-1.05zM109.2 481.5h1.05v1.05h-1.05zM108.9 485.2h1.05v1.05h-1.05zM115.5 479.4h1.05v1.05h-1.05zM119 477.8h1.05v1.05h-1.05zM107.6 488.1h1.05v1.05h-1.05zM112.5 484.9h1.05v1.05h-1.05zM109.7 483.2h1.05v1.05h-1.05zM105.6 485.6h1.05v1.05h-1.05zM108 480.6h1.05v1.05h-1.05zM101.4 487.5h1.05v1.05h-1.05zM101.4 479.3h1.05v1.05h-1.05zM111.5 482h1.05v1.05h-1.05zM117.9 483.5h1.05v1.05h-1.05zM110.7 479.9h1.05v1.05h-1.05zM111.8 478.3h1.05v1.05h-1.05zM105.1 485.4h1.05v1.05h-1.05zM110.4 479h1.05v1.05h-1.05zM105.7 481.6h1.05v1.05h-1.05zM110.6 482.4h1.05v1.05h-1.05zM113.2 474.4h1.05v1.05h-1.05zM112.7 477.2h1.05v1.05h-1.05zM106.7 482.3h1.05v1.05h-1.05zM114.4 480.3h1.05v1.05h-1.05zM89.7 480.7h1.05v1.05h-1.05zM104.4 493.3h1.05v1.05h-1.05zM90.6 481.9h1.05v1.05h-1.05zM95.5 488.3h1.05v1.05h-1.05zM107.2 483.3h1.05v1.05h-1.05zM104.8 490.1h1.05v1.05h-1.05zM99.4 479.5h1.05v1.05h-1.05zM102.3 479.1h1.05v1.05h-1.05zM104.1 487.3h1.05v1.05h-1.05zM98.7 487.5h1.05v1.05h-1.05zM113.2 491.1h1.05v1.05h-1.05zM98.8 486.2h1.05v1.05h-1.05zM109.5 487.1h1.05v1.05h-1.05zM110.8 485.8h1.05v1.05h-1.05zM108.5 487.5h1.05v1.05h-1.05zM106.6 486.2h1.05v1.05h-1.05zM104.7 483.7h1.05v1.05h-1.05zM85.3 483.7h1.05v1.05h-1.05zM102.4 481.8h1.05v1.05h-1.05zM98 488.8h1.05v1.05h-1.05zM99.7 475.1h1.05v1.05h-1.05zM97.2 483.5h1.05v1.05h-1.05zM113.4 485.1h1.05v1.05h-1.05zM106.9 481.8h1.05v1.05h-1.05zM96.9 477.7h1.05v1.05h-1.05zM107.9 484h1.05v1.05h-1.05zM95.6 484.2h1.05v1.05h-1.05zM112.3 487.6h1.05v1.05h-1.05zM109.4 488.5h1.05v1.05h-1.05zM104.3 484h1.05v1.05h-1.05zM102.1 485.8h1.05v1.05h-1.05zM86.5 485.1h1.05v1.05h-1.05zM102.4 480.5h1.05v1.05h-1.05zM97 488.5h1.05v1.05h-1.05zM98.5 483.6h1.05v1.05h-1.05zM115.8 480.2h1.05v1.05h-1.05zM101.7 482.3h1.05v1.05h-1.05zM97.4 483.3h1.05v1.05h-1.05zM107.1 482.9h1.05v1.05h-1.05zM110.7 486.8h1.05v1.05h-1.05zM92.3 484.2h1.05v1.05h-1.05zM100.4 478.9h1.05v1.05h-1.05zM85.8 487.9h1.05v1.05h-1.05zM104.8 488.7h1.05v1.05h-1.05zM116.4 487h1.05v1.05h-1.05zM105.5 488.9h1.05v1.05h-1.05zM100.9 482.4h1.05v1.05h-1.05zM111 486.5h1.05v1.05h-1.05zM97.4 482.4h1.05v1.05h-1.05zM90.5 492.1h1.05v1.05h-1.05zM98.7 482h1.05v1.05h-1.05zM96.6 481.9h1.05v1.05h-1.05zM103.2 484.1h1.05v1.05h-1.05zM109.3 474.3h1.05v1.05h-1.05zM103.3 490.5h1.05v1.05h-1.05zM102.5 481.7h1.05v1.05h-1.05zM120.3 482h1.05v1.05h-1.05zM108.4 484.9h1.05v1.05h-1.05zM100.8 480.1h1.05v1.05h-1.05zM103.5 484.7h1.05v1.05h-1.05zM118.7 478.1h1.05v1.05h-1.05zM88 486.1h1.05v1.05h-1.05zM88.4 472.9h1.05v1.05h-1.05zM99 488.4h1.05v1.05h-1.05zM85.4 478.1h1.05v1.05h-1.05zM115.6 480.5h1.05v1.05h-1.05zM94 483.3h1.05v1.05h-1.05zM116.7 483.2h1.05v1.05h-1.05zM109.2 483.3h1.05v1.05h-1.05zM92.3 485h1.05v1.05h-1.05zM85.6 487.9h1.05v1.05h-1.05zM87.4 484.5h1.05v1.05h-1.05zM82.5 483.5h1.05v1.05h-1.05zM105.8 481h1.05v1.05h-1.05zM119.7 483.9h1.05v1.05h-1.05zM106 478.2h1.05v1.05h-1.05zM97.4 484.8h1.05v1.05h-1.05zM108.9 486.2h1.05v1.05h-1.05zM89.3 478.2h1.05v1.05h-1.05zM91.8 488.3h1.05v1.05h-1.05zM86 479.1h1.05v1.05h-1.05zM103.1 483.7h1.05v1.05h-1.05zM101.4 480.7h1.05v1.05h-1.05zM105.1 483.5h1.05v1.05h-1.05zM100.3 484.8h1.05v1.05h-1.05zM99.9 483.2h1.05v1.05h-1.05zM112.3 486.7h1.05v1.05h-1.05zM102.7 484.4h1.05v1.05h-1.05zM114.4 478.7h1.05v1.05h-1.05zM84.5 484h1.05v1.05h-1.05zM118.1 485.7h1.05v1.05h-1.05zM125.9 491.9h1.05v1.05h-1.05zM123.6 487.2h1.05v1.05h-1.05zM119.1 487.4h1.05v1.05h-1.05zM121.7 490.7h1.05v1.05h-1.05zM128.7 489.4h1.05v1.05h-1.05zM120.4 492.9h1.05v1.05h-1.05zM129.9 492.4h1.05v1.05h-1.05zM123.2 489h1.05v1.05h-1.05zM123.7 485.8h1.05v1.05h-1.05zM128.7 489.4h1.05v1.05h-1.05zM132.7 496.7h1.05v1.05h-1.05zM123.1 487.1h1.05v1.05h-1.05zM117.8 490.9h1.05v1.05h-1.05zM126.5 489.1h1.05v1.05h-1.05zM124.5 493.1h1.05v1.05h-1.05zM121.8 490.6h1.05v1.05h-1.05zM123.9 498.2h1.05v1.05h-1.05zM127.7 490.4h1.05v1.05h-1.05zM120.8 490.2h1.05v1.05h-1.05zM121.8 489.1h1.05v1.05h-1.05zM126.4 494.8h1.05v1.05h-1.05zM129 488.1h1.05v1.05h-1.05zM125.7 490.7h1.05v1.05h-1.05zM129.1 495.2h1.05v1.05h-1.05zM126 493.4h1.05v1.05h-1.05zM117 492.5h1.05v1.05h-1.05zM124.4 490.7h1.05v1.05h-1.05zM126.1 485.1h1.05v1.05h-1.05zM123.4 494.9h1.05v1.05h-1.05zM127.8 491.8h1.05v1.05h-1.05zM127.2 487.1h1.05v1.05h-1.05zM131 480.9h1.05v1.05h-1.05zM123.6 487.2h1.05v1.05h-1.05zM123.1 492h1.05v1.05h-1.05zM125.4 495.6h1.05v1.05h-1.05zM132.6 493.4h1.05v1.05h-1.05zM121.3 491h1.05v1.05h-1.05zM121.9 487.1h1.05v1.05h-1.05zM123.4 495.5h1.05v1.05h-1.05zM121.8 492.5h1.05v1.05h-1.05zM122 495.1h1.05v1.05h-1.05zM129.6 484h1.05v1.05h-1.05zM127.9 486.8h1.05v1.05h-1.05zM126.3 490.5h1.05v1.05h-1.05zM128.4 484.9h1.05v1.05h-1.05zM132.6 492.6h1.05v1.05h-1.05zM122.4 497h1.05v1.05h-1.05zM130.4 493.5h1.05v1.05h-1.05zM123 487.1h1.05v1.05h-1.05zM121.4 498.7h1.05v1.05h-1.05zM125.2 490.8h1.05v1.05h-1.05zM123.5 496.8h1.05v1.05h-1.05zM123.6 495.1h1.05v1.05h-1.05zM117.9 487.2h1.05v1.05h-1.05zM126.3 486.3h1.05v1.05h-1.05zM132.7 481.1h1.05v1.05h-1.05zM126.6 493.5h1.05v1.05h-1.05zM126.8 490.6h1.05v1.05h-1.05zM126.1 488h1.05v1.05h-1.05zM114.2 499.9h1.05v1.05h-1.05zM124.9 499.6h1.05v1.05h-1.05zM124.9 496.3h1.05v1.05h-1.05zM130.4 488.2h1.05v1.05h-1.05zM115.8 496.7h1.05v1.05h-1.05zM132.7 483.7h1.05v1.05h-1.05zM123 490.6h1.05v1.05h-1.05zM124 493.9h1.05v1.05h-1.05zM124.5 493.8h1.05v1.05h-1.05zM121.7 483.4h1.05v1.05h-1.05zM133.1 476.7h1.05v1.05h-1.05zM126 472.6h1.05v1.05h-1.05zM126.3 475.8h1.05v1.05h-1.05zM126.4 476.3h1.05v1.05h-1.05zM129.2 480h1.05v1.05h-1.05zM122.2 474.9h1.05v1.05h-1.05zM127.6 471.8h1.05v1.05h-1.05zM120.5 474.9h1.05v1.05h-1.05zM113.5 481.5h1.05v1.05h-1.05zM122.7 475.4h1.05v1.05h-1.05zM118.1 477.6h1.05v1.05h-1.05zM121.7 472.5h1.05v1.05h-1.05zM125.7 480.4h1.05v1.05h-1.05zM116.6 475.9h1.05v1.05h-1.05zM134.9 475.4h1.05v1.05h-1.05zM120.5 480.6h1.05v1.05h-1.05zM125.2 478.7h1.05v1.05h-1.05zM132.2 477.9h1.05v1.05h-1.05zM125.6 481.6h1.05v1.05h-1.05zM116.5 472.7h1.05v1.05h-1.05zM122.9 474.2h1.05v1.05h-1.05zM123.2 470.5h1.05v1.05h-1.05zM115.9 478.1h1.05v1.05h-1.05zM123 477.2h1.05v1.05h-1.05zM122.1 475.9h1.05v1.05h-1.05zM116.4 481.1h1.05v1.05h-1.05zM129.2 472.1h1.05v1.05h-1.05zM121.8 477h1.05v1.05h-1.05zM121.9 475.8h1.05v1.05h-1.05zM125.1 470.6h1.05v1.05h-1.05zM127.7 477.4h1.05v1.05h-1.05zM119.1 475.5h1.05v1.05h-1.05zM123.5 475.2h1.05v1.05h-1.05zM124.2 471.6h1.05v1.05h-1.05zM124.3 477.2h1.05v1.05h-1.05zM125.9 477.3h1.05v1.05h-1.05zM121.2 476.4h1.05v1.05h-1.05zM128.8 476.2h1.05v1.05h-1.05zM125.1 476.2h1.05v1.05h-1.05zM126.7 472.3h1.05v1.05h-1.05zM97.2 493.4h1.05v1.05h-1.05zM84.5 489.8h1.05v1.05h-1.05zM91.1 484.3h1.05v1.05h-1.05zM81.2 479.8h1.05v1.05h-1.05zM115.6 481.1h1.05v1.05h-1.05zM100.1 479.5h1.05v1.05h-1.05zM128.3 496.8h1.05v1.05h-1.05zM86.1 479h1.05v1.05h-1.05zM93.9 489.6h1.05v1.05h-1.05zM122.9 500.9h1.05v1.05h-1.05zM83.3 487.5h1.05v1.05h-1.05zM111.9 485.3h1.05v1.05h-1.05zM90.9 493h1.05v1.05h-1.05zM77.3 485.3h1.05v1.05h-1.05zM96.9 486h1.05v1.05h-1.05zM98.3 477.5h1.05v1.05h-1.05zM110.3 486.8h1.05v1.05h-1.05zM91.1 499.6h1.05v1.05h-1.05zM119.2 485.8h1.05v1.05h-1.05zM94.1 495.3h1.05v1.05h-1.05zM87.1 484.2h1.05v1.05h-1.05zM60.4 473.6h1.05v1.05h-1.05zM80.5 480.9h1.05v1.05h-1.05zM87.1 488.1h1.05v1.05h-1.05zM101.8 486.2h1.05v1.05h-1.05zM77.6 486.7h1.05v1.05h-1.05zM107.2 489h1.05v1.05h-1.05zM118.6 487.9h1.05v1.05h-1.05zM110.6 491.5h1.05v1.05h-1.05zM80.6 473.9h1.05v1.05h-1.05zM113.4 492.2h1.05v1.05h-1.05zM103.2 485.9h1.05v1.05h-1.05zM86.8 494.2h1.05v1.05h-1.05zM105.1 485.5h1.05v1.05h-1.05zM98.7 490h1.05v1.05h-1.05zM78.5 481.2h1.05v1.05h-1.05zM105.6 490h1.05v1.05h-1.05zM77.4 487.1h1.05v1.05h-1.05zM127.7 496.2h1.05v1.05h-1.05zM78.3 482.3h1.05v1.05h-1.05zM88.7 481.7h1.05v1.05h-1.05zM85.6 482.5h1.05v1.05h-1.05zM96.7 479.8h1.05v1.05h-1.05zM111.8 492h1.05v1.05h-1.05zM127.1 497.5h1.05v1.05h-1.05zM112.3 493.4h1.05v1.05h-1.05zM96.4 480.9h1.05v1.05h-1.05zM108 490.1h1.05v1.05h-1.05zM88.3 489.3h1.05v1.05h-1.05zM102.9 484.6h1.05v1.05h-1.05zM119.7 487.9h1.05v1.05h-1.05zM99.9 495.2h1.05v1.05h-1.05zM90.2 484.9h1.05v1.05h-1.05zM104.8 486.9h1.05v1.05h-1.05zM90.5 479.7h1.05v1.05h-1.05zM101.4 486.1h1.05v1.05h-1.05zM110.4 496.3h1.05v1.05h-1.05zM97.7 493h1.05v1.05h-1.05zM87.5 496.9h1.05v1.05h-1.05zM89.8 486.1h1.05v1.05h-1.05zM92.5 484.1h1.05v1.05h-1.05zM109.9 489.7h1.05v1.05h-1.05zM84.8 491.2h1.05v1.05h-1.05zM98.6 491.9h1.05v1.05h-1.05zM101.2 485.6h1.05v1.05h-1.05zM71.1 482.4h1.05v1.05h-1.05zM84.8 494h1.05v1.05h-1.05zM94.8 497.1h1.05v1.05h-1.05zM132.3 500.4h1.05v1.05h-1.05zM133.6 487.1h1.05v1.05h-1.05zM90.6 480.3h1.05v1.05h-1.05zM78.1 477h1.05v1.05h-1.05zM111.3 484.8h1.05v1.05h-1.05zM93.2 491.1h1.05v1.05h-1.05zM91.9 497.2h1.05v1.05h-1.05zM115.8 495.2h1.05v1.05h-1.05zM122.9 495h1.05v1.05h-1.05zM100.9 495.6h1.05v1.05h-1.05zM113.6 481.6h1.05v1.05h-1.05zM114.6 497h1.05v1.05h-1.05zM64.5 496.5h1.05v1.05h-1.05zM100.5 497.5h1.05v1.05h-1.05zM80.6 487h1.05v1.05h-1.05zM87.8 481.3h1.05v1.05h-1.05zM102.2 479.4h1.05v1.05h-1.05zM97.7 492.5h1.05v1.05h-1.05zM86.9 479.6h1.05v1.05h-1.05zM106.4 495.2h1.05v1.05h-1.05zM111.7 486.6h1.05v1.05h-1.05zM92.1 496.1h1.05v1.05h-1.05zM111.1 492.1h1.05v1.05h-1.05zM101.5 487.6h1.05v1.05h-1.05zM107.2 493.9h1.05v1.05h-1.05zM98.8 490h1.05v1.05h-1.05zM77.5 484.4h1.05v1.05h-1.05zM121.7 492.9h1.05v1.05h-1.05zM77.8 482.4h1.05v1.05h-1.05zM99.4 497.6h1.05v1.05h-1.05zM129.9 492.4h1.05v1.05h-1.05zM95.9 488.7h1.05v1.05h-1.05zM81.7 494.3h1.05v1.05h-1.05zM80.3 490.4h1.05v1.05h-1.05zM91.3 480.6h1.05v1.05h-1.05zM103 499.6h1.05v1.05h-1.05zM80.1 487.1h1.05v1.05h-1.05zM87.8 493.6h1.05v1.05h-1.05zM76.2 477h1.05v1.05h-1.05zM92.4 479.1h1.05v1.05h-1.05zM112.6 480.7h1.05v1.05h-1.05zM99 485.2h1.05v1.05h-1.05z"/>
<rect x="45.8" y="447.9" width="102.6" height="54.7" fill="none" stroke="#000" stroke-width="1.1"/>
<line x1="43.4" y1="447.9" x2="45.8" y2="447.9" stroke="#000" stroke-width="1.3"/>
<line x1="43.4" y1="450.9" x2="45.8" y2="450.9" stroke="#000" stroke-width="1.3"/>
<line x1="43.4" y1="454" x2="45.8" y2="454" stroke="#000" stroke-width="1.3"/>
<line x1="43.4" y1="457" x2="45.8" y2="457" stroke="#000" stroke-width="1.3"/>
<line x1="43.4" y1="460.1" x2="45.8" y2="460.1" stroke="#000" stroke-width="1.3"/>
<line x1="43.4" y1="463.1" x2="45.8" y2="463.1" stroke="#000" stroke-width="1.3"/>
<line x1="43.4" y1="466.1" x2="45.8" y2="466.1" stroke="#000" stroke-width="1.3"/>
<line x1="43.4" y1="469.2" x2="45.8" y2="469.2" stroke="#000" stroke-width="1.3"/>
<line x1="43.4" y1="472.2" x2="45.8" y2="472.2" stroke="#000" stroke-width="1.3"/>
<line x1="43.4" y1="475.2" x2="45.8" y2="475.2" stroke="#000" stroke-width="1.3"/>
<line x1="43.4" y1="478.3" x2="45.8" y2="478.3" stroke="#000" stroke-width="1.3"/>
<line x1="43.4" y1="481.3" x2="45.8" y2="481.3" stroke="#000" stroke-width="1.3"/>
<line x1="43.4" y1="484.4" x2="45.8" y2="484.4" stroke="#000" stroke-width="1.3"/>
<line x1="43.4" y1="487.4" x2="45.8" y2="487.4" stroke="#000" stroke-width="1.3"/>
<line x1="43.4" y1="490.4" x2="45.8" y2="490.4" stroke="#000" stroke-width="1.3"/>
<line x1="43.4" y1="493.5" x2="45.8" y2="493.5" stroke="#000" stroke-width="1.3"/>
<line x1="43.4" y1="496.5" x2="45.8" y2="496.5" stroke="#000" stroke-width="1.3"/>
<line x1="43.4" y1="499.6" x2="45.8" y2="499.6" stroke="#000" stroke-width="1.3"/>
<line x1="43.4" y1="502.6" x2="45.8" y2="502.6" stroke="#000" stroke-width="1.3"/>
<line x1="45.8" y1="502.6" x2="45.8" y2="505" stroke="#000" stroke-width="1.3"/>
<line x1="48.8" y1="502.6" x2="48.8" y2="505" stroke="#000" stroke-width="1.3"/>
<line x1="51.8" y1="502.6" x2="51.8" y2="505" stroke="#000" stroke-width="1.3"/>
<line x1="54.9" y1="502.6" x2="54.9" y2="505" stroke="#000" stroke-width="1.3"/>
<line x1="57.9" y1="502.6" x2="57.9" y2="505" stroke="#000" stroke-width="1.3"/>
<line x1="60.9" y1="502.6" x2="60.9" y2="505" stroke="#000" stroke-width="1.3"/>
<line x1="63.9" y1="502.6" x2="63.9" y2="505" stroke="#000" stroke-width="1.3"/>
<line x1="66.9" y1="502.6" x2="66.9" y2="505" stroke="#000" stroke-width="1.3"/>
<line x1="69.9" y1="502.6" x2="69.9" y2="505" stroke="#000" stroke-width="1.3"/>
<line x1="73" y1="502.6" x2="73" y2="505" stroke="#000" stroke-width="1.3"/>
<line x1="76" y1="502.6" x2="76" y2="505" stroke="#000" stroke-width="1.3"/>
<line x1="79" y1="502.6" x2="79" y2="505" stroke="#000" stroke-width="1.3"/>
<line x1="82" y1="502.6" x2="82" y2="505" stroke="#000" stroke-width="1.3"/>
<line x1="85" y1="502.6" x2="85" y2="505" stroke="#000" stroke-width="1.3"/>
<line x1="88" y1="502.6" x2="88" y2="505" stroke="#000" stroke-width="1.3"/>
<line x1="91.1" y1="502.6" x2="91.1" y2="505" stroke="#000" stroke-width="1.3"/>
<line x1="94.1" y1="502.6" x2="94.1" y2="505" stroke="#000" stroke-width="1.3"/>
<line x1="97.1" y1="502.6" x2="97.1" y2="505" stroke="#000" stroke-width="1.3"/>
<line x1="100.1" y1="502.6" x2="100.1" y2="505" stroke="#000" stroke-width="1.3"/>
<line x1="103.1" y1="502.6" x2="103.1" y2="505" stroke="#000" stroke-width="1.3"/>
<line x1="106.2" y1="502.6" x2="106.2" y2="505" stroke="#000" stroke-width="1.3"/>
<line x1="109.2" y1="502.6" x2="109.2" y2="505" stroke="#000" stroke-width="1.3"/>
<line x1="112.2" y1="502.6" x2="112.2" y2="505" stroke="#000" stroke-width="1.3"/>
<line x1="115.2" y1="502.6" x2="115.2" y2="505" stroke="#000" stroke-width="1.3"/>
<line x1="118.2" y1="502.6" x2="118.2" y2="505" stroke="#000" stroke-width="1.3"/>
<line x1="121.2" y1="502.6" x2="121.2" y2="505" stroke="#000" stroke-width="1.3"/>
<line x1="124.3" y1="502.6" x2="124.3" y2="505" stroke="#000" stroke-width="1.3"/>
<line x1="127.3" y1="502.6" x2="127.3" y2="505" stroke="#000" stroke-width="1.3"/>
<line x1="130.3" y1="502.6" x2="130.3" y2="505" stroke="#000" stroke-width="1.3"/>
<line x1="133.3" y1="502.6" x2="133.3" y2="505" stroke="#000" stroke-width="1.3"/>
<line x1="136.3" y1="502.6" x2="136.3" y2="505" stroke="#000" stroke-width="1.3"/>
<line x1="139.3" y1="502.6" x2="139.3" y2="505" stroke="#000" stroke-width="1.3"/>
<line x1="142.4" y1="502.6" x2="142.4" y2="505" stroke="#000" stroke-width="1.3"/>
<line x1="145.4" y1="502.6" x2="145.4" y2="505" stroke="#000" stroke-width="1.3"/>
<line x1="148.4" y1="502.6" x2="148.4" y2="505" stroke="#000" stroke-width="1.3"/>
<text x="38.6" y="446.7" font-size="6.6" font-weight="bold" text-anchor="end" letter-spacing="0.7">10<tspan font-size="4.49" dy="-2.1" letter-spacing="0">4</tspan></text>
<text x="38.6" y="461.2" font-size="6.6" font-weight="bold" text-anchor="end" letter-spacing="0.7">10<tspan font-size="4.49" dy="-2.1" letter-spacing="0">3</tspan></text>
<text x="38.6" y="475.5" font-size="6.6" font-weight="bold" text-anchor="end" letter-spacing="0.7">10<tspan font-size="4.49" dy="-2.1" letter-spacing="0">2</tspan></text>
<text x="38.6" y="490" font-size="6.6" font-weight="bold" text-anchor="end" letter-spacing="0.7">10<tspan font-size="4.49" dy="-2.1" letter-spacing="0">1</tspan></text>
<text x="38.6" y="505.4" font-size="6.6" font-weight="bold" text-anchor="end" letter-spacing="0.7">10<tspan font-size="4.49" dy="-2.1" letter-spacing="0">0</tspan></text>
<text x="41.3" y="514.5" font-size="6.6" font-weight="bold" text-anchor="middle" letter-spacing="0.7">10<tspan font-size="4.49" dy="-2.1" letter-spacing="0">0</tspan></text>
<text x="66.4" y="514.5" font-size="6.6" font-weight="bold" text-anchor="middle" letter-spacing="0.7">10<tspan font-size="4.49" dy="-2.1" letter-spacing="0">1</tspan></text>
<text x="92.5" y="514.5" font-size="6.6" font-weight="bold" text-anchor="middle" letter-spacing="0.7">10<tspan font-size="4.49" dy="-2.1" letter-spacing="0">2</tspan></text>
<text x="118.5" y="514.5" font-size="6.6" font-weight="bold" text-anchor="middle" letter-spacing="0.7">10<tspan font-size="4.49" dy="-2.1" letter-spacing="0">3</tspan></text>
<text x="144" y="514.5" font-size="6.6" font-weight="bold" text-anchor="middle" letter-spacing="0.7">10<tspan font-size="4.49" dy="-2.1" letter-spacing="0">4</tspan></text>
<ellipse cx="105.9" cy="481.7" rx="15" ry="7.3" fill="none" stroke="#000" stroke-width="1.45" transform="rotate(-5 105.9 481.7)"/>
<ellipse cx="126.4" cy="491" rx="8" ry="8.9" fill="none" stroke="#000" stroke-width="1.45" transform="rotate(0 126.4 491)"/>
<path d="M112.5 467.7 L138 475.8 L131.5 480.5 L127.5 484 L120.5 479 L110.8 474 Z" fill="none" stroke="#000" stroke-width="1.45" stroke-linejoin="round"/>
<line x1="23.5" y1="437" x2="23.5" y2="520.7" stroke="#000" stroke-width="1.1"/>
<path d="M23.5 434.3 L20.5 442.9 L26.5 442.9 Z"/>
<line x1="23.5" y1="520.7" x2="156" y2="520.7" stroke="#000" stroke-width="1.1"/>
<path d="M160.5 520.7 L151.9 517.7 L151.9 523.7 Z"/>
<text x="19.2" y="473.1" font-size="8.3" font-weight="bold" text-anchor="middle" transform="rotate(-90 19.2 473.1)">CD21</text>
<text x="82.8" y="533" font-size="8.3" font-weight="bold">CD24</text>
<text x="87.7" y="465.5" font-size="8.35" font-weight="bold">MZ+T2&#160; 5.9%</text>
<text x="53.6" y="476.3" font-size="8.2" font-weight="bold">FO 68.8%</text>
<text x="73.8" y="498" font-size="8.2" font-weight="bold">T1&#160; 14.6%</text>
<path d="M196 502.6 L196.8 503.2 L197.5 502 L198.2 503.2 L199 503.2 L199.8 502.6 L200.5 503.2 L201.2 503.2 L202 502.6 L202.8 503.2 L203.5 502.6 L204.2 502 L205 503.2 L205.8 502 L206.5 503.2 L207.2 502 L208 503.2 L208.8 502.6 L209.5 503.2 L210.2 499.5 L211 495.5 L211.8 495.5 L212.5 499.9 L213.2 498.7 L214 499.2 L214.8 501 L215.5 497.7 L216.2 500.8 L217 502.6 L217.8 495.7 L218.5 497.8 L219.2 500.7 L220 500.8 L220.8 495.5 L221.5 502 L222.2 498.3 L223 497.4 L223.8 498.8 L224.5 499.8 L225.2 502.9 L226 501.4 L226.8 499.4 L227.5 499.4 L228.2 495.7 L229 493.4 L229.8 499.4 L230.5 495.3 L231.2 499 L232 497.9 L232.8 496.2 L233.5 494.8 L234.2 495.8 L235 501.1 L235.8 490.1 L236.5 494 L237.2 494.9 L238 491.7 L238.8 495.4 L239.5 497.9 L240.2 493.1 L241 493.6 L241.8 497.1 L242.5 492.4 L243.2 493.1 L244 496.4 L244.8 488.2 L245.5 491.5 L246.2 494.6 L247 489.9 L247.8 491.2 L248.5 489.5 L249.2 496.1 L250 490.3 L250.8 488.9 L251.5 487.9 L252.2 486.4 L253 482.9 L253.8 485.4 L254.5 487.9 L255.2 491.3 L256 487.1 L256.8 486.2 L257.5 486.7 L258.2 485.8 L259 483 L259.8 491.4 L260.5 484.7 L261.2 492.9 L262 486.4 L262.8 482.8 L263.5 479.1 L264.2 483.8 L265 479.9 L265.8 481.5 L266.5 487.4 L267.2 479.9 L268 482.1 L268.8 480.1 L269.5 481 L270.2 476.8 L271 477.2 L271.8 476.2 L272.5 480.8 L273.2 474.5 L274 486.2 L274.8 486.9 L275.5 487.5 L276.2 490.6 L277 485.6 L277.8 489.4 L278.5 497.5 L279.2 496.9 L280 496.3 L280.8 503.2 L281.5 501.9 L282.2 503.2 L283 502.6 L283.8 503.2 L284.5 502.6 L285.2 503.2 L286 502 L286.8 503.2 L287.5 503.2 L288.2 503.2 L289 502 L289.8 502.6 L290.5 503.2 L291.2 503.2 L292 502 L292.8 503.2 L293.5 503.2" fill="none" stroke="#000" stroke-width="0.8"/>
<rect x="194.6" y="447" width="100" height="56.8" fill="none" stroke="#000" stroke-width="1.1"/>
<line x1="194.6" y1="503.4" x2="294.6" y2="503.4" stroke="#000" stroke-width="1.8"/>
<line x1="192.2" y1="447" x2="194.6" y2="447" stroke="#000" stroke-width="1.3"/>
<line x1="192.2" y1="450" x2="194.6" y2="450" stroke="#000" stroke-width="1.3"/>
<line x1="192.2" y1="453" x2="194.6" y2="453" stroke="#000" stroke-width="1.3"/>
<line x1="192.2" y1="456" x2="194.6" y2="456" stroke="#000" stroke-width="1.3"/>
<line x1="192.2" y1="459" x2="194.6" y2="459" stroke="#000" stroke-width="1.3"/>
<line x1="192.2" y1="461.9" x2="194.6" y2="461.9" stroke="#000" stroke-width="1.3"/>
<line x1="192.2" y1="464.9" x2="194.6" y2="464.9" stroke="#000" stroke-width="1.3"/>
<line x1="192.2" y1="467.9" x2="194.6" y2="467.9" stroke="#000" stroke-width="1.3"/>
<line x1="192.2" y1="470.9" x2="194.6" y2="470.9" stroke="#000" stroke-width="1.3"/>
<line x1="192.2" y1="473.9" x2="194.6" y2="473.9" stroke="#000" stroke-width="1.3"/>
<line x1="192.2" y1="476.9" x2="194.6" y2="476.9" stroke="#000" stroke-width="1.3"/>
<line x1="192.2" y1="479.9" x2="194.6" y2="479.9" stroke="#000" stroke-width="1.3"/>
<line x1="192.2" y1="482.9" x2="194.6" y2="482.9" stroke="#000" stroke-width="1.3"/>
<line x1="192.2" y1="485.9" x2="194.6" y2="485.9" stroke="#000" stroke-width="1.3"/>
<line x1="192.2" y1="488.9" x2="194.6" y2="488.9" stroke="#000" stroke-width="1.3"/>
<line x1="192.2" y1="491.8" x2="194.6" y2="491.8" stroke="#000" stroke-width="1.3"/>
<line x1="192.2" y1="494.8" x2="194.6" y2="494.8" stroke="#000" stroke-width="1.3"/>
<line x1="192.2" y1="497.8" x2="194.6" y2="497.8" stroke="#000" stroke-width="1.3"/>
<line x1="192.2" y1="500.8" x2="194.6" y2="500.8" stroke="#000" stroke-width="1.3"/>
<line x1="192.2" y1="503.8" x2="194.6" y2="503.8" stroke="#000" stroke-width="1.3"/>
<line x1="194.6" y1="503.8" x2="194.6" y2="506.2" stroke="#000" stroke-width="1.3"/>
<line x1="197.6" y1="503.8" x2="197.6" y2="506.2" stroke="#000" stroke-width="1.3"/>
<line x1="200.7" y1="503.8" x2="200.7" y2="506.2" stroke="#000" stroke-width="1.3"/>
<line x1="203.7" y1="503.8" x2="203.7" y2="506.2" stroke="#000" stroke-width="1.3"/>
<line x1="206.7" y1="503.8" x2="206.7" y2="506.2" stroke="#000" stroke-width="1.3"/>
<line x1="209.8" y1="503.8" x2="209.8" y2="506.2" stroke="#000" stroke-width="1.3"/>
<line x1="212.8" y1="503.8" x2="212.8" y2="506.2" stroke="#000" stroke-width="1.3"/>
<line x1="215.8" y1="503.8" x2="215.8" y2="506.2" stroke="#000" stroke-width="1.3"/>
<line x1="218.8" y1="503.8" x2="218.8" y2="506.2" stroke="#000" stroke-width="1.3"/>
<line x1="221.9" y1="503.8" x2="221.9" y2="506.2" stroke="#000" stroke-width="1.3"/>
<line x1="224.9" y1="503.8" x2="224.9" y2="506.2" stroke="#000" stroke-width="1.3"/>
<line x1="227.9" y1="503.8" x2="227.9" y2="506.2" stroke="#000" stroke-width="1.3"/>
<line x1="231" y1="503.8" x2="231" y2="506.2" stroke="#000" stroke-width="1.3"/>
<line x1="234" y1="503.8" x2="234" y2="506.2" stroke="#000" stroke-width="1.3"/>
<line x1="237" y1="503.8" x2="237" y2="506.2" stroke="#000" stroke-width="1.3"/>
<line x1="240.1" y1="503.8" x2="240.1" y2="506.2" stroke="#000" stroke-width="1.3"/>
<line x1="243.1" y1="503.8" x2="243.1" y2="506.2" stroke="#000" stroke-width="1.3"/>
<line x1="246.1" y1="503.8" x2="246.1" y2="506.2" stroke="#000" stroke-width="1.3"/>
<line x1="249.1" y1="503.8" x2="249.1" y2="506.2" stroke="#000" stroke-width="1.3"/>
<line x1="252.2" y1="503.8" x2="252.2" y2="506.2" stroke="#000" stroke-width="1.3"/>
<line x1="255.2" y1="503.8" x2="255.2" y2="506.2" stroke="#000" stroke-width="1.3"/>
<line x1="258.2" y1="503.8" x2="258.2" y2="506.2" stroke="#000" stroke-width="1.3"/>
<line x1="261.3" y1="503.8" x2="261.3" y2="506.2" stroke="#000" stroke-width="1.3"/>
<line x1="264.3" y1="503.8" x2="264.3" y2="506.2" stroke="#000" stroke-width="1.3"/>
<line x1="267.3" y1="503.8" x2="267.3" y2="506.2" stroke="#000" stroke-width="1.3"/>
<line x1="270.4" y1="503.8" x2="270.4" y2="506.2" stroke="#000" stroke-width="1.3"/>
<line x1="273.4" y1="503.8" x2="273.4" y2="506.2" stroke="#000" stroke-width="1.3"/>
<line x1="276.4" y1="503.8" x2="276.4" y2="506.2" stroke="#000" stroke-width="1.3"/>
<line x1="279.4" y1="503.8" x2="279.4" y2="506.2" stroke="#000" stroke-width="1.3"/>
<line x1="282.5" y1="503.8" x2="282.5" y2="506.2" stroke="#000" stroke-width="1.3"/>
<line x1="285.5" y1="503.8" x2="285.5" y2="506.2" stroke="#000" stroke-width="1.3"/>
<line x1="288.5" y1="503.8" x2="288.5" y2="506.2" stroke="#000" stroke-width="1.3"/>
<line x1="291.6" y1="503.8" x2="291.6" y2="506.2" stroke="#000" stroke-width="1.3"/>
<line x1="294.6" y1="503.8" x2="294.6" y2="506.2" stroke="#000" stroke-width="1.3"/>
<text x="189.6" y="448.1" font-size="7.9" font-weight="bold" text-anchor="end">20</text>
<text x="189.6" y="462.6" font-size="7.9" font-weight="bold" text-anchor="end">15</text>
<text x="189.6" y="476.7" font-size="7.9" font-weight="bold" text-anchor="end">10</text>
<text x="189.6" y="491" font-size="7.9" font-weight="bold" text-anchor="end">5</text>
<text x="189.6" y="505" font-size="7.9" font-weight="bold" text-anchor="end">0</text>
<text x="189" y="514.5" font-size="6.6" font-weight="bold" text-anchor="middle" letter-spacing="0.7">10<tspan font-size="4.49" dy="-2.1" letter-spacing="0">0</tspan></text>
<text x="215" y="514.5" font-size="6.6" font-weight="bold" text-anchor="middle" letter-spacing="0.7">10<tspan font-size="4.49" dy="-2.1" letter-spacing="0">1</tspan></text>
<text x="241" y="514.5" font-size="6.6" font-weight="bold" text-anchor="middle" letter-spacing="0.7">10<tspan font-size="4.49" dy="-2.1" letter-spacing="0">2</tspan></text>
<text x="267" y="514.5" font-size="6.6" font-weight="bold" text-anchor="middle" letter-spacing="0.7">10<tspan font-size="4.49" dy="-2.1" letter-spacing="0">3</tspan></text>
<text x="292" y="514.5" font-size="6.6" font-weight="bold" text-anchor="middle" letter-spacing="0.7">10<tspan font-size="4.49" dy="-2.1" letter-spacing="0">4</tspan></text>
<line x1="195.5" y1="481.4" x2="247.4" y2="481.4" stroke="#000" stroke-width="1.0"/>
<line x1="247.4" y1="468.2" x2="247.4" y2="487.5" stroke="#000" stroke-width="1.0"/>
<line x1="247.4" y1="475.9" x2="294" y2="475.9" stroke="#000" stroke-width="1.0"/>
<line x1="173" y1="438" x2="173" y2="521.4" stroke="#000" stroke-width="1.1"/>
<path d="M173 435.3 L170 443.9 L176 443.9 Z"/>
<line x1="173" y1="521.4" x2="305" y2="521.4" stroke="#000" stroke-width="1.1"/>
<path d="M309 521.4 L300.4 518.4 L300.4 524.4 Z"/>
<text x="170.5" y="475.4" font-size="8.1" font-weight="bold" text-anchor="middle" transform="rotate(-90 170.5 475.4)">Counts</text>
<text x="232.8" y="532.8" font-size="8.3" font-weight="bold">CD23</text>
<text x="199.1" y="475.4" font-size="8.1" font-weight="bold">MZ 15.9%</text>
<text x="254.2" y="469.9" font-size="8.15" font-weight="bold">T2 84.1%</text>
<text x="1.1" y="583.9" font-size="14.4" font-weight="bold">E</text>
<text x="21.6" y="583.9" font-size="11.0" font-weight="bold">i</text>
<text x="89.8" y="584" font-size="8.4" font-weight="bold">WT Spleen</text>
<text x="21.4" y="654.6" font-size="8.3" font-weight="bold" fill="#5cc45c">B220</text>
<text x="23.8" y="664.4" font-size="8.3" font-weight="bold" fill="#da3434">CD4</text>
<text x="9.4" y="675.4" font-size="8.3" font-weight="bold" fill="#2a2aa8">MAdCAM-1</text>
<text x="68.3" y="680.8" font-size="8.35" font-weight="bold">CD19 talin null Spleen</text>
<text x="198.3" y="583.8" font-size="11.2" font-weight="bold">ii</text>
<text x="257.5" y="585.9" font-size="8.4" font-weight="bold">WT Spleen</text>
<text x="331" y="585.3" font-size="8.5" font-weight="bold" fill="#52bc52">B220</text>
<text x="352.2" y="585.3" font-size="8.5" font-weight="bold" fill="#da3434">CD3</text>
<text x="371" y="585.3" font-size="8.5" font-weight="bold" fill="#2e2eb4">8C12</text>
<text x="407.5" y="585.9" font-size="8.35" font-weight="bold">CD19 talin null Spleen</text>
<g clip-path="url(#clp1)">
<rect x="51.3" y="587.6" width="116.3" height="60.7" fill="#12301a"/>
<ellipse filter="url(#bl4)" cx="115" cy="596" rx="30" ry="9" fill="#24702a"/>
<ellipse filter="url(#bl4)" cx="162" cy="616" rx="11" ry="20" fill="#32983a"/>
<path filter="url(#bl2)" fill="#3cbc44" d="M50 652 C60 632 80 618 104 616 C128 616 146 628 166 652 Z"/>
<path filter="url(#bl2)" fill="none" stroke="#30b0a8" stroke-width="5" opacity="0.45" d="M50 652 C62 634 82 620 104 619.5 C126 619.5 142 628 158 650"/>
<path filter="url(#bl2)" fill="none" stroke="#2a44d8" stroke-width="9" d="M46 641 C58 626 78 613 100 610.5 C118 609.5 134 614 146 624 C156 632 163 640 170 648"/>
<ellipse filter="url(#bl2)" cx="106" cy="647" rx="9" ry="3" fill="#7a3a9a"/>
<ellipse filter="url(#bl2)" cx="154" cy="614" rx="4" ry="3" fill="#7a3a2a"/>
<ellipse filter="url(#bl4)" cx="66" cy="598" rx="14" ry="8" fill="#0e2410"/>
<rect x="51.3" y="587.6" width="116.3" height="60.7" filter="url(#nzG)" opacity="0.45"/>
<rect x="51.3" y="587.6" width="116.3" height="60.7" filter="url(#nz1)" opacity="0.55"/>
</g>
<g clip-path="url(#clp2)">
<rect x="49.3" y="686.4" width="118.3" height="60.4" fill="#133620"/>
<ellipse filter="url(#bl4)" cx="110" cy="700" rx="45" ry="12" fill="#1d4f26"/>
<path filter="url(#bl2)" fill="#3cbc48" d="M68 752 C80 738 100 726 128 722 C150 720 160 720 172 720 L172 752 Z"/>
<path filter="url(#bl2)" fill="none" stroke="#38b0b8" stroke-width="3.5" opacity="0.5" d="M70 752 C78 742 90 733 108 726 C126 722 146 721 172 721.5"/>
<path filter="url(#bl2)" fill="none" stroke="#2d55d8" stroke-width="5.5" d="M60 752 C67 741 80 731 100 723 C120 717.5 145 716.5 172 716.5"/>
<path filter="url(#bl2)" fill="#a82424" d="M124 752 C130 741 142 736 152 734 C160 732 165 730 172 728 L172 752 Z"/>
<ellipse filter="url(#bl2)" cx="51" cy="746" rx="7" ry="5" fill="#7a2a2a"/>
<rect x="49.3" y="686.4" width="118.3" height="60.4" filter="url(#nzG)" opacity="0.45"/>
<rect x="49.3" y="686.4" width="118.3" height="60.4" filter="url(#nz1)" opacity="0.55"/>
</g>
<g clip-path="url(#clp3)">
<rect x="204.5" y="589.5" width="150.5" height="157.1" fill="#2a7624"/>
<rect filter="url(#bl4)" x="200" y="598" width="12" height="112" fill="#2a6a22"/>
<ellipse filter="url(#bl2)" cx="210" cy="594" rx="8" ry="6" fill="#5a4a1e"/>
<path filter="url(#bl6)" fill="#5e4a20" opacity="0.85" d="M258 586 L318 586 L308 615 L302 640 L296 660 L268 662 L262 640 Z"/>
<path filter="url(#bl4)" fill="#4a5a22" d="M322 586 L358 586 L358 625 L340 622 L320 615 Z"/>
<path filter="url(#bl2)" fill="none" stroke="#12260c" stroke-width="2.5" d="M321 600 L319 628"/>
<path filter="url(#bl2)" fill="none" stroke="#12260c" stroke-width="2" d="M338 592 L333 612"/>
<path filter="url(#bl2)" fill="none" stroke="#1a3010" stroke-width="1.5" d="M300 600 L292 625"/>
<rect filter="url(#bl4)" x="330" y="713" width="30" height="40" fill="#3a4a1c"/>
<path filter="url(#bl4)" fill="#34922c" d="M235 690 L270 684 L300 680 L333 675 L333 750 L200 750 L200 725 L220 726 Z"/>
<ellipse filter="url(#bl6)" cx="240" cy="626" rx="11" ry="18" fill="#3f74a0" opacity="0.7"/>
<ellipse filter="url(#bl4)" cx="239" cy="616" rx="7" ry="8" fill="#3a70b8"/>
<ellipse filter="url(#bl2)" cx="267" cy="596" rx="6" ry="5" fill="#3f78a0" opacity="0.6"/>
<ellipse filter="url(#bl6)" cx="293" cy="724" rx="27" ry="24" fill="#3f78a0" opacity="0.95"/>
<ellipse filter="url(#bl4)" cx="292" cy="720" rx="12" ry="12" fill="#3c74a8"/>
<ellipse filter="url(#bl2)" cx="315" cy="655" rx="4.5" ry="6" fill="#3f70a8"/>
<rect x="204.5" y="589.5" width="150.5" height="157.1" filter="url(#nzL)" opacity="0.6"/>
<rect x="204.5" y="589.5" width="150.5" height="157.1" filter="url(#nz2v)" opacity="0.14"/>
<path filter="url(#bl4)" fill="#9e3c20" d="M341 622 L358 612 L358 713 L345 713 L334 700 L333 670 L338 645 Z"/>
<path filter="url(#bl6)" fill="#96341c" opacity="0.9" d="M208 672 L225 656 L255 646 L285 636 L302 642 L298 672 L272 688 L250 708 L232 726 L212 730 L206 700 Z"/>
<path filter="url(#bl2)" fill="#ac2c1a" d="M214 682 L220 670 L228 662 L250 652 L273 642 L284 640 L296 642 L297 655 L294 668 L288 679 L268.6 683 L250 700 L235 716 L220 724 L212 720 L212 700 Z"/>
<rect x="204.5" y="589.5" width="150.5" height="157.1" filter="url(#nz1v)" opacity="0.7"/>
</g>
<rect x="204.9" y="589.9" width="149.7" height="156.3" fill="none" stroke="#111" stroke-width="1.2"/>
<g clip-path="url(#clp4)">
<rect x="367" y="589.3" width="150" height="157.3" fill="#246422"/>
<ellipse filter="url(#bl2)" cx="375" cy="636" rx="9" ry="12" fill="#14300e"/>
<rect filter="url(#bl4)" x="363" y="650" width="21" height="100" fill="#245a1e"/>
<ellipse filter="url(#bl2)" cx="376" cy="720" rx="7" ry="10" fill="#7a3a1c"/>
<ellipse filter="url(#bl2)" cx="410" cy="595" rx="25" ry="6" fill="#4a5a20"/>
<ellipse filter="url(#bl2)" cx="410" cy="612" rx="8" ry="8" fill="#3a9a30"/>
<rect filter="url(#bl4)" x="500" y="630" width="22" height="120" fill="#1a4a18"/>
<ellipse filter="url(#bl4)" cx="505" cy="616" rx="10" ry="16" fill="#5a5222"/>
<ellipse filter="url(#bl2)" cx="511" cy="595" rx="5" ry="5" fill="#3aa83a"/>
<path filter="url(#bl2)" fill="#38a030" d="M432 604 L445 598 L476.5 597 L482 615 L489 643 L495 665 L503 690 L503 750 L456 750 L447 728 L430 728.5 L384.5 728 L384.5 690 L392 672 L412 668 L425 655 L430 630 Z"/>
<ellipse filter="url(#bl4)" cx="451" cy="618" rx="6" ry="6" fill="#3a8a7a"/>
<ellipse filter="url(#bl4)" cx="400" cy="696" rx="9" ry="14" fill="#3a8a80"/>
<ellipse filter="url(#bl4)" cx="488" cy="717" rx="12" ry="19" fill="#3a8a8a"/>
<ellipse filter="url(#bl2)" cx="455" cy="740" rx="6" ry="6" fill="#2a3a14"/>
<rect x="367" y="589.3" width="150" height="157.3" filter="url(#nzL)" opacity="0.6"/>
<rect x="367" y="589.3" width="150" height="157.3" filter="url(#nz2v)" opacity="0.14"/>
<path filter="url(#bl6)" fill="#8a3a1c" opacity="0.8" d="M424 642 L445 655 L455 650 L470 638 L480 648 L487 667 L482 700 L460 720 L450 722 L452 750 L405 750 L410 728 L414 698 L428 670 L426 652 Z"/>
<ellipse filter="url(#bl2)" cx="425" cy="637" rx="4" ry="5" fill="#a8301a"/>
<path filter="url(#bl2)" fill="#b02c1a" d="M425 644 L432 651 L445 655 L455 650 L470 638 L478 648 L484 667 L485.7 667 L478 698 L456.5 718 L445.7 719 L448 750 L409 750 L412 728.5 L415 698 L430 670 L429 655 Z"/>
<rect x="367" y="589.3" width="150" height="157.3" filter="url(#nz1v)" opacity="0.7"/>
</g>
<rect x="367.4" y="589.7" width="149.2" height="156.5" fill="none" stroke="#111" stroke-width="1.2"/>
<rect x="368" y="733.8" width="10.8" height="3.6" fill="#5ee84a"/>
</svg>
</body></html>
